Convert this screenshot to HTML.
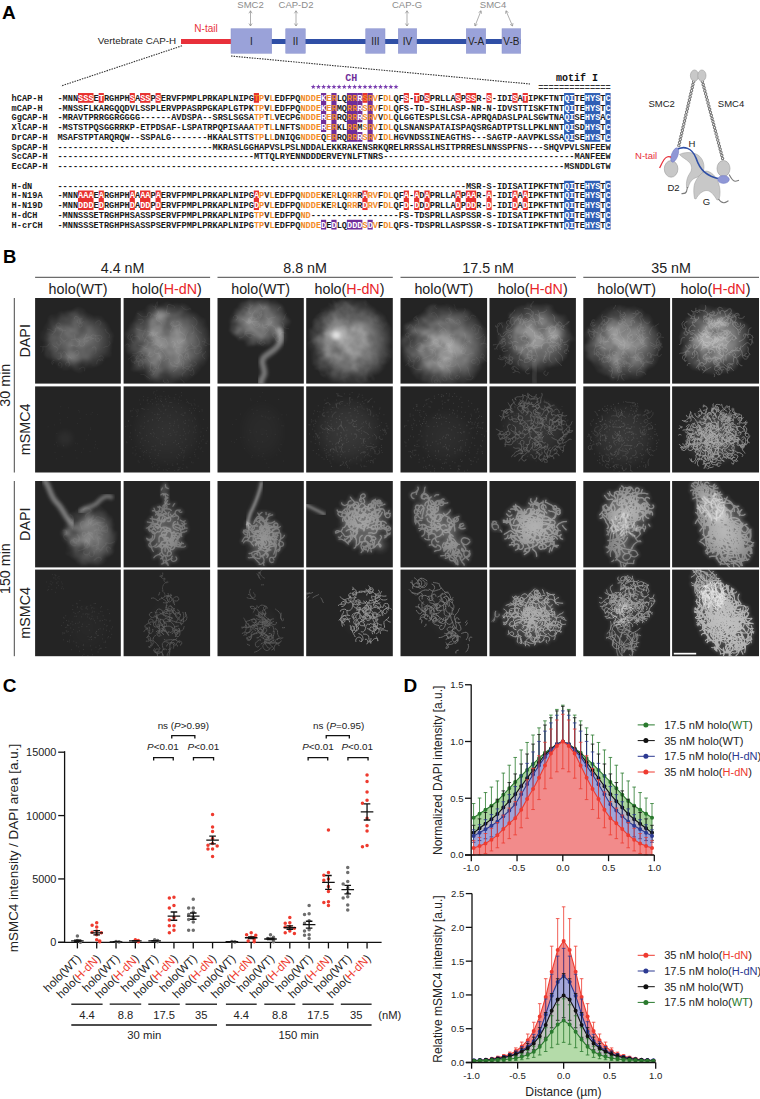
<!DOCTYPE html>
<html><head><meta charset="utf-8"><title>Figure</title>
<style>html,body{margin:0;padding:0;background:#fff;width:760px;height:1099px;overflow:hidden}svg{display:block}</style>
</head><body>
<svg width="760" height="1099" viewBox="0 0 760 1099">
<defs>
<radialGradient id="rg"><stop offset="0" stop-color="#fff" stop-opacity="1"/><stop offset="0.55" stop-color="#fff" stop-opacity="0.65"/><stop offset="1" stop-color="#fff" stop-opacity="0"/></radialGradient>
<filter id="gb" x="-30%" y="-30%" width="160%" height="160%"><feGaussianBlur stdDeviation="2"/></filter>
<filter id="sb" x="-30%" y="-30%" width="160%" height="160%"><feGaussianBlur stdDeviation="2.2"/></filter>
<filter id="b3" x="-10%" y="-10%" width="120%" height="120%"><feGaussianBlur stdDeviation="0.3"/></filter>
<filter id="b5" x="-10%" y="-10%" width="120%" height="120%"><feGaussianBlur stdDeviation="0.5"/></filter>
<filter id="b06" x="-10%" y="-10%" width="120%" height="120%"><feGaussianBlur stdDeviation="0.6"/></filter>
<filter id="b15" x="-10%" y="-10%" width="120%" height="120%"><feGaussianBlur stdDeviation="1.5"/></filter>
<filter id="b8" x="-10%" y="-10%" width="120%" height="120%"><feGaussianBlur stdDeviation="0.8"/></filter>
<filter id="cl1" x="-25%" y="-25%" width="150%" height="150%"><feTurbulence type="fractalNoise" baseFrequency="0.08" numOctaves="3" seed="3" result="n"/><feDisplacementMap in="SourceGraphic" in2="n" scale="10" xChannelSelector="R" yChannelSelector="G" result="d"/><feColorMatrix in="n" type="matrix" values="0 0 0 0 1 0 0 0 0 1 0 0 0 0 1 1 0 0 0 0" result="m"/><feComposite in="d" in2="m" operator="arithmetic" k1="0.9" k2="0.55" result="o"/><feGaussianBlur in="o" stdDeviation="1.2"/></filter>
<filter id="cl2" x="-25%" y="-25%" width="150%" height="150%"><feTurbulence type="fractalNoise" baseFrequency="0.08" numOctaves="3" seed="6" result="n"/><feDisplacementMap in="SourceGraphic" in2="n" scale="10" xChannelSelector="R" yChannelSelector="G" result="d"/><feColorMatrix in="n" type="matrix" values="0 0 0 0 1 0 0 0 0 1 0 0 0 0 1 1 0 0 0 0" result="m"/><feComposite in="d" in2="m" operator="arithmetic" k1="0.9" k2="0.55" result="o"/><feGaussianBlur in="o" stdDeviation="1.2"/></filter>
<filter id="cl3" x="-25%" y="-25%" width="150%" height="150%"><feTurbulence type="fractalNoise" baseFrequency="0.08" numOctaves="3" seed="9" result="n"/><feDisplacementMap in="SourceGraphic" in2="n" scale="10" xChannelSelector="R" yChannelSelector="G" result="d"/><feColorMatrix in="n" type="matrix" values="0 0 0 0 1 0 0 0 0 1 0 0 0 0 1 1 0 0 0 0" result="m"/><feComposite in="d" in2="m" operator="arithmetic" k1="0.9" k2="0.55" result="o"/><feGaussianBlur in="o" stdDeviation="1.2"/></filter>
<filter id="cl4" x="-25%" y="-25%" width="150%" height="150%"><feTurbulence type="fractalNoise" baseFrequency="0.08" numOctaves="3" seed="12" result="n"/><feDisplacementMap in="SourceGraphic" in2="n" scale="10" xChannelSelector="R" yChannelSelector="G" result="d"/><feColorMatrix in="n" type="matrix" values="0 0 0 0 1 0 0 0 0 1 0 0 0 0 1 1 0 0 0 0" result="m"/><feComposite in="d" in2="m" operator="arithmetic" k1="0.9" k2="0.55" result="o"/><feGaussianBlur in="o" stdDeviation="1.2"/></filter>
<filter id="cl5" x="-25%" y="-25%" width="150%" height="150%"><feTurbulence type="fractalNoise" baseFrequency="0.08" numOctaves="3" seed="15" result="n"/><feDisplacementMap in="SourceGraphic" in2="n" scale="10" xChannelSelector="R" yChannelSelector="G" result="d"/><feColorMatrix in="n" type="matrix" values="0 0 0 0 1 0 0 0 0 1 0 0 0 0 1 1 0 0 0 0" result="m"/><feComposite in="d" in2="m" operator="arithmetic" k1="0.9" k2="0.55" result="o"/><feGaussianBlur in="o" stdDeviation="1.2"/></filter>
<filter id="cl6" x="-25%" y="-25%" width="150%" height="150%"><feTurbulence type="fractalNoise" baseFrequency="0.08" numOctaves="3" seed="18" result="n"/><feDisplacementMap in="SourceGraphic" in2="n" scale="10" xChannelSelector="R" yChannelSelector="G" result="d"/><feColorMatrix in="n" type="matrix" values="0 0 0 0 1 0 0 0 0 1 0 0 0 0 1 1 0 0 0 0" result="m"/><feComposite in="d" in2="m" operator="arithmetic" k1="0.9" k2="0.55" result="o"/><feGaussianBlur in="o" stdDeviation="1.2"/></filter>
<filter id="cl7" x="-25%" y="-25%" width="150%" height="150%"><feTurbulence type="fractalNoise" baseFrequency="0.08" numOctaves="3" seed="21" result="n"/><feDisplacementMap in="SourceGraphic" in2="n" scale="10" xChannelSelector="R" yChannelSelector="G" result="d"/><feColorMatrix in="n" type="matrix" values="0 0 0 0 1 0 0 0 0 1 0 0 0 0 1 1 0 0 0 0" result="m"/><feComposite in="d" in2="m" operator="arithmetic" k1="0.9" k2="0.55" result="o"/><feGaussianBlur in="o" stdDeviation="1.2"/></filter>
<filter id="cl8" x="-25%" y="-25%" width="150%" height="150%"><feTurbulence type="fractalNoise" baseFrequency="0.08" numOctaves="3" seed="24" result="n"/><feDisplacementMap in="SourceGraphic" in2="n" scale="10" xChannelSelector="R" yChannelSelector="G" result="d"/><feColorMatrix in="n" type="matrix" values="0 0 0 0 1 0 0 0 0 1 0 0 0 0 1 1 0 0 0 0" result="m"/><feComposite in="d" in2="m" operator="arithmetic" k1="0.9" k2="0.55" result="o"/><feGaussianBlur in="o" stdDeviation="1.2"/></filter>
<clipPath id="k1"><rect x="35.1" y="298.0" width="85.7" height="85.6"/></clipPath>
<clipPath id="k2"><rect x="123.6" y="298.0" width="86.5" height="85.6"/></clipPath>
<clipPath id="k3"><rect x="217.5" y="298.0" width="86.3" height="85.6"/></clipPath>
<clipPath id="k4"><rect x="306.2" y="298.0" width="86.6" height="85.6"/></clipPath>
<clipPath id="k5"><rect x="400.5" y="298.0" width="86.6" height="85.6"/></clipPath>
<clipPath id="k6"><rect x="489.5" y="298.0" width="86.4" height="85.6"/></clipPath>
<clipPath id="k7"><rect x="583.3" y="298.0" width="86.8" height="85.6"/></clipPath>
<clipPath id="k8"><rect x="672.1" y="298.0" width="86.9" height="85.6"/></clipPath>
<clipPath id="k9"><rect x="35.1" y="386.4" width="85.7" height="86.1"/></clipPath>
<clipPath id="k10"><rect x="123.6" y="386.4" width="86.5" height="86.1"/></clipPath>
<clipPath id="k11"><rect x="217.5" y="386.4" width="86.3" height="86.1"/></clipPath>
<clipPath id="k12"><rect x="306.2" y="386.4" width="86.6" height="86.1"/></clipPath>
<clipPath id="k13"><rect x="400.5" y="386.4" width="86.6" height="86.1"/></clipPath>
<clipPath id="k14"><rect x="489.5" y="386.4" width="86.4" height="86.1"/></clipPath>
<clipPath id="k15"><rect x="583.3" y="386.4" width="86.8" height="86.1"/></clipPath>
<clipPath id="k16"><rect x="672.1" y="386.4" width="86.9" height="86.1"/></clipPath>
<clipPath id="k17"><rect x="35.1" y="481.0" width="85.7" height="86.4"/></clipPath>
<clipPath id="k18"><rect x="123.6" y="481.0" width="86.5" height="86.4"/></clipPath>
<path id="p18_34" d="M42.6,74.6l-1.1-.1-1.1.2-.8.8-.3 1-.1 1.1.1 1.1.5 1 .1 1.1-.3 1.1-.8.8-1 .3M48.7,55.1l-.3-1-.4-1-.4-1-.4-1.1 0-1.1-.2-1.1-.6-.9-.9-.6-1.1-.2-1 .3-.7.8-.2 1.1M54.3,38.5l.5-.9.3-1.1-.4-1-.9-.7-1-.2-1.1.4-.9.5-1.1.4-1.1-.2-.8-.7-.5-1-.6-.9M30.2,41.1l-1.1.2-1.1.1-1.1.1-1.1-.1-1.1-.2-1-.2M31.9,34l.8-.8 1.1-.2 1.1.2.7.8.3 1.1-.4 1-.7.9-.7.9-.9.6-1 .2-1.1-.1-1.1-.3M46.7,62.2l.7-.9.8-.7.9-.7.6-.9.7-.9.7-.8.2-1.1-.4-1-.9-.7-1.1-.1-.9.6-.5 1M43.1,32.2l-.8-.7-.8-.8-.7-.9-.4-1 0-1.1 0-1.1.4-1 .4-1.1.4-1 .4-1 .7-.9.7-.9M41.6,70.3l-.2-1.1.1-1.1 0-1.1.1-1-.1-1.1-.7-.9-.9-.6-1.1-.2-1.1.1-.8.7-.6 1-.8.8M46.2,22.9l-1 .5-1.1-.1-.8-.6-.4-1.1.4-1 .7-.9M35.7,25.2l.9.6.9.7.9.6 1 .5 1 .3 1.1 0 1.1 0 1.1-.1 1.1.2 1.1.2 1 .5.8.7M36.9,66.3l-.1-1.1.2-1.1.7-.8 1-.4 1.1.3.9.6.9.7 1 .5 1 .4 1 .4.9.7.8.7M36,72.6l1-.4.8-.8.5-1 0-1.1-.1-1.1-.4-1-.2-1.1-.1-1 .1-1.1 0-1.1.1-1.1.5-1M37.7,69l.4 1 .3 1.1.4 1 .5 1 .8.7.9.7.7.8.6.9.3 1.1.1 1.1.2 1.1.2 1M51,32.4l-.6.9-.8.8-.9.7-.9.6-.8.8-.9.5-1 .4-1.1.4-1 .2-1.1.4-1 .3-1 .5M55.4,30.3l.8.7 1.1.4 1-.4M41.1,50.7l.6-1 1-.4 1.1.1 1 .3 1 .5 1 .6.9.6 1 .3 1.1.3 1.1.1 1.1.2 1 .4M27,62l-1.1.4-.6.9 0 1.1.5 1 .9.7 1 .1 1.1-.3 1.1-.4.9-.5 1-.5.9-.7.5-.9M42.3,60l-1.1-.1-1.1.2-1 .5-.9.6-.8.8-.6.9-.7.8-.8.8-.9.7-.8.6-1.1.4-1.1 0M27.5,46.5l-.4-1-.1-1.1.4-.9.8-.9 1.1-.2 1 .2 1.1.1 1.1-.2 1.1.2 1 .6.7.8.4 1M51.8,40.5l-1 .3-.7.9-.5 1-.1 1.1-.2 1.1.2 1 .4 1.1.9.7.9.5 1 .5 1 .4 1.1.3M52.5,62.9l-1.1 0-1.1 0-1.1.1-1.1 0-1-.5-.7-.8-.3-1.1.2-1 .7-.8 1.1-.3 1 .3.8.8M41,79.1l.8.7.8.8.7.8.7.9.4 1 .2 1.1M28.8,42.9l-.4 1-1 .6-1 .4-.9.6-.8.7-.9.6-1.1.3M56.3,45.9l-.1 1.1.6.9 1 .5 1.1 0 1-.2.9-.7.3-1.1-.2-1-.6-1-.7-.8-.7-.8-.8-.7M54.4,58.1l-.1-1.1.3-1.1.5-.9.5-1 .7-.9.8-.7.9-.6 1-.5 1.1-.3 1.1 0 .9-.5 1-.6M55.9,64.3l-.9-.7-1-.5-1-.4-1.1-.2-1-.2-1.1-.3-1-.4-.8-.8-.8-.8-.3-1 0-1.1.4-1.1M42.7,58.6l.8.7.4 1-.2 1.1-.5 1-.5 1-.6.9-.8.8-.9.6-1 .5-1.1.1-1-.3-.9-.6M49.3,25.3l.5-.9.5-1 .7-.8M34.6,34.9l-.5-1-.6-1-.6-.8-.7-.9-.6-1-.4-1-.4-1-.4-1M41.9,56.8l-.1 1.1.1 1.1.6.9 1 .5 1.1-.2.8-.7.3-1.1-.4-1-.9-.7-1-.3-1.1-.1-1 .5M46.6,70l.2-1 .2-1.1.3-1.1.5-.9.8-.8 1-.4 1.1 0 1.1.3 1 .4 1 .3 1.1.2 1.1 0M37,77.9l1-.5.5-.9 0-1.1-.7-.9-.9-.5-1.1-.3-1.1-.1-1 .4-1 .5-.9.6-.9.7-.6.9M40.4,58.1l.2-1.1.5-1 .4-1 .4-1 .5-1 .5-1 0-1.1-.7-.9-.6-.9-.7-.9-.7-.8-.9-.6M43.8,37.2l-.8-.7-1-.5-.9-.6-.9-.7-.9-.6-1-.4-1.1-.3-1-.4-1-.5-1.1-.2-1.1-.3-1-.3M41.3,81.1l.8.7.8.8.8.8.7.8M31.1,48.7l-.3-1.1-.6-.9-.7-.9-.9-.5-1.1-.2-1.1.3-.9.5-.7.9-.1 1.1.4 1 .6.9.8.8M34.1,26l1 .2.8.8.2 1.1-.4 1-.7.9-.9.6-1.1 0-1.1-.2-1-.5-1-.3-1.1.3M44.9,64.2l1-.5 1.1-.2 1.1 0 1.1.1 1 .4.7.9.1 1.1-.5 1-.7.9-.8.7-1.1 0-1-.5M51.4,45.9l1.1.3 1 .3 1 .4 1 .6.8.7.5 1 .4 1 .3 1.1 0 1.1.1 1.1.2 1 .4 1.1M39.3,35.8l-.4 1-.4 1-.4 1.1-.2 1-.1 1.1-.3 1.1-.5 1-.4 1-.1 1.1.4 1 1 .6 1.1-.1M41.3,50.3l-1.1-.2-1 .4-.8.7-.4 1.1-.1 1.1.3 1 .6 1 .6.9 1 .5 1 .3 1.1.3 1.1.1M42.8,63.8l1.1 0 1.1 0 1.1 0 1.1-.3.8-.8.5-.9.5-1 .5-1 .2-1.1-.2-1.1-.5-1-.4-1M52.2,59.4l-.3 1-.1 1.1.1 1.1.5 1 .7.9.9.6 1 .2 1.1-.4.8-.7.6-.9.5-1 .1-1.1M34.3,46.8l-1.1.1-1-.4-.6-1 .1-1.1.6-.8 1.1-.4 1 .3.9.7.5 1-.2 1.1-.7.8-.9.6M48.4,77.3l-1 .4-1 .5-1 .4-1 .5-1 .5-.8.8-.8.8-.9.6-.9.5-1 .6M32.4,43.2l-1.1.3-.7.8-.5 1-.2 1.1-.2 1-.5 1-.9.7-1.1.2-1-.5-.6-.9.1-1.1.6-.9M38.6,30.3l-1-.3-1.1.2-1 .5-.7.9 0 1.1.3 1 .7.9 1.1.2 1.1-.1 1-.5.9-.6.8-.8M36.1,35.2l-.3 1.1-.1 1 .2 1.1.6 1 .8.7.9.6 1.1.2 1.1-.1.9-.7.3-1-.3-1.1-.5-1M34.4,45.9l-1.1-.3-1.1-.2-1-.5-.8-.7-.4-1-.3-1.1-.3-1-.4-1-.3-1.1-.1-1.1 0-1.1-.1-1.1M53.2,63l-1.1-.1-1-.5-.8-.7-.7-.8-.7-.9-.9-.6-.9-.6-1.1-.2-1 .3-.9.7-.5.9-.4 1.1M29,54.8l.1 1.1-.2 1-.7.9-1 .6-1 .1-1.1-.2-1-.5-.9-.6M43.8,46.8l-.9-.4-1.1-.2-1.1-.1-1.1.1-1 .5-.8.8-.4 1-.3 1.1-.7.8-1.1.4-1.1 0-1 0M38.3,28.6l1.1 0 1.1-.3 1-.4 1-.5.8-.8.1-1.1-.3-1-.9-.7-1.1-.3-1 .5-.7.8-.2 1.1M43.8,75.1l1.1-.3 1.1-.2.9-.6.7-.9.2-1.1-.4-1-.9-.6-1.1 0-1 .5-.6 1-.2 1 .1 1.1M29.8,70.5l-.6-.9-.6-1-.4-1-.4-1-.3-1.1-.1-1.1-.3-1-.3-1.1-.2-1.1-.1-1.1.1-1 .4-1.1M28.5,50.2l1 .4.8.7.6.9.3 1.1 0 1.1-.1 1.1-.2 1-.4 1.1-.6.9-.8.8-.8.7-.8.7M46.3,48.5l-.9.6-.7.8-.7.9-.6.9-.6.9-.7.8-1 .6-.9.6-1 .4-1.1.2-1.1.1-1-.2M58.3,46l.5-1 .8-.8.9-.6.9-.6 1.1-.4M40.9,59.2l1.1-.1 1.1.4.7.8.2 1.1-.4 1-.4 1.1-.4 1 .1 1.1.5 1 .6.9.6.9.4 1M51.1,50.9l-1.1 0-.9.6-.7.9-.2 1-.2 1.1-.2 1.1-.2 1.1 0 1.1.1 1.1.6.9.6.9.8.7M38.4,67.8l.7-.8.6-.9.4-1 .7-.9.9-.7.9-.5 1.1-.2 1.1.3.9.6.9.5 1 .5 1.1.3M31.9,49.1l-.8-.8-1-.3-1.1.4-.7.8-.3 1.1.3 1 .7.9 1 .5 1.1-.1.9-.5.9-.7.7-.8M43.8,40.1l1 .4 1.1-.1.9-.7.3-1.1 0-1.1-.6-.9-.8-.7-.7-.9-.5-1 .1-1.1.3-1 .7-.9M54.5,59.1l-.7-.9-.7-.9-.8-.8-1-.2-1.1.2-.9.6-.4 1.1-.1 1.1.3 1 .1 1.1.2 1.1.1 1.1M56.5,62.8l-.6-.9-.9-.8-1-.3-1.1.4-.7.8-.4 1-.3 1.1-.1 1.1-.3 1.1-.5.9-.8.7-1 .6M56.7,39l.8.7 1 .5 1.1.2 1.1-.1.9-.5M41.7,25.2l-.5.9-.6 1-.5.9-.6 1-.5 1-.4 1-.6.8-1 .7-1 .3-1.1.2-1.1-.1-1.1 0M47.7,54.3l1.1-.1 1.1-.1 1.1 0 1.1 0 1.1.3.7.9.3 1 0 1.1-.5 1-.6 1-.6.8-1 .6M42.9,53.8l-1.1-.3-1.1-.1-1.1 0-1 .2-1 .5-1 .5-.7.8-.4 1-.1 1.1 0 1.1.1 1.1-.1 1.1M51.6,54.7l.4-1.1.5-.9.9-.7 1.1-.1 1 .4.6.9.4 1-.1 1.1-.4 1-.8.8-.9.7-.8.7M52.3,75.9l.7.9.2 1.1-.4 1-.8.8-1 .5-1.1.1-1.1-.2-.8-.7-.2-1.1 0-1.1.3-1.1.6-.9M59.6,40.7l.9.7.3 1-.2 1.1-.4 1-.9.7-1.1.2-1-.2-1-.5-.8-.8-.7-.8-.5-1-.3-1.1M61.4,47.1l1.1 0 1.1 0M50.3,44.5l.6-.9 1-.5 1.1 0 1 .4 1 .4 1.1.2 1 .4.9.6.6.9.3 1.1-.3 1.1-.8.7M53.8,34.8l-1-.5-.7-.8-.5-1-.1-1.1.4-1 .7-.8 1-.4 1.1-.1 1.1 0 1.1 0M45.6,36.1l-1 .4-.9.7-.9.6-.9.7-.9.5-1 .6-1 .2-1.1.2-1.1 0-1.1-.2-1-.3-1.1-.1M26.6,37.7l1 .2 1.1 0 1.1 0 1.1.2 1.1.2 1 .5.9.6.5 1-.1 1-.5 1-.9.6-1.1-.2M42.4,33.5l-.9-.8-1.1-.1-1 .4-1 .3-1 .6-.8.7-.7.9-.5 1-.1 1.1.3 1 .6 1 .8.6M59.9,62.5l-1.1-.2-1.1-.1-.9.5-.6 1-.1 1.1.5.9 1 .5 1.1 0 1.1-.1 1.1-.3.9-.6M28.4,57l-.1 1.1-.6.9-1 .4-1.1 0-1.1-.2-.8-.7-.6-.9"/>
<path id="p18_35" d="M41.9,3.6l-.1 1.1.3 1.1.6.9 1 .5 1 .4M41.3,22.2l0-1.1.2-1.1.5-1 .6-.9.8-.8 1-.4M42,15.5l-.3-1.1-.5-.9-.9-.6-1.1-.2-1.1.4-.8.8M39.8,14l.7-.8 1.1-.3 1 .1 1.1.5.8.7M38.8,7l-.6 1-.4 1M42.2,19.6l-.7-.9 0-1.1.6-1 1-.4 1.1.2"/>
<clipPath id="k19"><rect x="217.5" y="481.0" width="86.3" height="86.4"/></clipPath>
<path id="p19_37" d="M57.2,40.3l-1 .5-.9.6-1 .4-1 .4-1.1 0-1.1-.1-1.1-.2-1.1-.3-1-.3-1.1-.3-1-.5-.9-.6M48.4,38.7l.7-.9.5-.9.7-.9.8-.8 1-.4 1-.3 1-.4 1.1-.3M51.9,50.8l-.7-.9-.1-1.1.5-.9.9-.7.8-.7 1-.5 1-.4 1.1-.2 1.1.2 1.1.2 1 .2 1.1 0M43.5,55.7l-.8-.8-.9-.6-1-.5-1.1-.1-1.1-.3-1-.2-1.1-.4-.9-.5-.9-.7-.6-.9-.2-1.1-.4-1M40.3,54.5l-.9-.6-.7-.8-.2-1.1 0-1.1.5-1 1-.5 1.1.1 1 .5.8.8.4 1-.1 1.1-.7.8M38.6,76.9l-1.1 0-1.1-.2-1.1 0-1.1-.1-1.1.1-1.1.2-1.1-.2M52.7,49.8l-.6-.9-.7-.9-.6-.8-.7-.9-.6-.9-.3-1.1 0-1.1-.2-1.1-.1-1.1.1-1.1.6-.9.7-.8M46.5,44.9l1 .5.9.7.6.9.4 1 .3 1.1.1 1.1.5 1 .1 1.1 0 1.1-.1 1-.5 1-.7.8M42.4,74.8l1.1.1 1-.3 1-.4.9-.7.9-.6.9-.6 1.1-.1 1 .6.5 1-.2 1-.5 1-.8.8M52.4,60.5l.8.7 1 .6 1 .4 1.1.3 1 .3 1 .5.5 1 .1 1.1-.3 1-.2 1.1-.3 1.1-.4 1M54.3,50.4l.5-.9.6-.9 1-.5 1.1-.1 1.1-.1 1.1-.1 1 .3.8.8.3 1-.1 1.1-.5 1-1 .5M51.8,53.1l.3-1.1.9-.7 1-.2 1.1.3.8.8.4 1-.1 1.1-.7.9-1 .5-1.1.2-1.1-.1-1-.2M42.6,73.4l-.2-1.1-.7-.9-.9-.6-1-.5-1.1-.1-1.1.1-1.1.3-1 .4-1 .5-.9.7-1 .3-1.1 0M40.2,45l-1.1.1-1.1.1-1.1 0-1.1-.2-1.1-.2-.9-.6-.8-.7-.7-.9-1-.5-1.1 0-.9.6-.4 1.1M29.5,56l.6-.9.3-1.1-.2-1.1-.6-.9-.8-.7-1.1-.4-1.1 0-1 .2M48.4,65.5l1.1.1 1-.4.6-.9.4-1.1.2-1.1-.1-1-.5-1-.8-.9-.9-.4-1.1-.5-1.1 0-1 .4M36.1,64.7l-.7-.8-.8-.8-.6-.9-.7-.9-.7-.8-1-.5-1-.2-1.1-.2-1.1 0-1 .4-.8.8-.5 1M48.2,52.5l1.1.3 1.1-.1 1.1-.3.9-.5 1-.6.8-.7.9-.7.8-.7.9-.6 1-.5.9-.6.9-.6M34.8,50.7l1.1.1 1.1 0 1.1-.1 1.1-.2 1-.2 1.1-.3 1.1-.1 1.1.1 1.1.1 1.1-.2 1-.4.8-.7M29.5,53.9l-1.1 0-1-.5-.8-.8-.5-.9-.2-1.1.5-1 .9-.6 1.1 0 1 .3.9.7.9.6.9.6M31.1,46.9l.5 1 .5 1 .9.6 1.1-.1 1.1-.3.9-.6.6-.9.1-1.1-.5-1-.9-.5-1.1 0-1.1.4M43.7,53.7l.3 1 .4 1 .7.9 1.1.3 1-.4.8-.7.2-1.1-.5-1-.9-.6-1.1-.2-1.1.3-1.1.1M40.3,74.3l-.5-1-.9-.6-1.1-.1-1 .6-.5 1 .2 1.1.7.9.9.5 1 .4 1.1.4 1.1.1 1.1 0M44.2,63.2l.1-1.1.3-1 .3-1.1.2-1 .2-1.1.4-1 .5-1 .5-1 .4-1 .2-1.1.3-1.1.1-1.1M48.3,50.3l.7-.8.5-1 .2-1.1-.5-1-.8-.7-1.1-.3-1.1.3-.7.9-.3 1-.5 1-.2 1.1-.2 1.1M49.2,54.7l-.4 1-.6.9-.9.7-1 .5-1 .5-.9.6-.8.8-.8.7-.8.7-1 .5-1 .4-1.1.2M53.4,69l-1.1-.3-1.1-.2-1-.3-1-.5-.8-.7-.6-.9-.6-1-.5-.9-.6-1-.5-1-.4-1-.8-.7M45.2,62.3l-.9-.5-1.1-.3-1.1.2-.8.7-.4 1-.1 1.1.6 1 .9.6 1.1-.1.9-.6.6-1 .6-.9M45.8,40.2l-.9-.6-.9-.6-.8-.8-.8-.7-1-.4-1.1.3-.8.7-.7.8-.8.8-.6.9-.6 1-.6.9M58.5,55.6l-1-.3-1.1-.1-1.1.2-.8.8-.2 1 .4 1.1.9.6 1.1.1 1-.5.8-.7.6-.9.5-1M48.6,56.7l-1.1.1-1-.5-.6-.9-.3-1.1-.1-1.1.1-1.1.1-1.1-.2-1.1-.2-1.1-.4-1-1-.5-1.1 0M57.6,55l0-1.1.4-1 .6-1 .9-.6 1.1 0 1 .3 1 .5.6 1 0 1.1 0 1.1 0 1.1-.1 1M51.7,69.6l-.9-.6-1.1-.1-1 .5-.5 1-.2 1-.3 1.1-.4 1-.7.9-.8.7-1 .4-1.1.2-1.1.4M33.8,72l.6.9.2 1.1.2 1 .6 1 .8.7.9.6.8.8.7.8.8.8.8.8.7.7.9.7M42,69l.8-.7.7-.8.7-.9.5-1 .5-1 .3-1 0-1.1-.2-1.1-.5-1-.5-.9-.7-.9-.6-1M31.1,46.9l-.1 1.1 0 1.1.1 1.1.3 1 .4 1.1.2 1 .1 1.1.1 1.1-.2 1.1-.6.9-.7.9-.8.7M32,51.8l-1.1-.2-1-.5-1-.3-1.1-.2-1-.4-.7-.9M54.2,65.4l1.1 0 1-.2.9-.7.7-.9.4-1 .2-1.1 0-1.1-.2-1-.3-1.1-.3-1.1-.6-.9-.7-.8M39.4,43.1l-.9.7-1 .5-1 .5-.9.5-.6 1-.3 1-.1 1.1.2 1.1.8.7 1.1.1 1.1-.2.9-.6M61,62.7l0 1.1.6.9 1 .5 1 .1 1.1-.1.9-.6.4-1 0-1.1-.5-1-1-.6-1-.4-.8-.7M30.9,56.9l-.9-.6-1.1-.3-1.1-.1-.9.6-.6.9-.6 1-.5 1-.6.9M37.5,38.9l.9.6.9.6.9.6 1 .6.9.5.9.7.7.8.3 1.1-.2 1.1-.5.9-.5 1-.7.8M56.5,45.2l-.7.8-.9.6-1.1.2-1.1-.3-1-.4-1.1-.2-1.1 0-1-.3-1.1-.1-1.1.2-1 .5-.8.7M56.2,65.2l-1.1.1-1.1.2-1.1.2-.9.5-.7.9-.5.9-.5 1.1-.4 1-.6.9-.4 1 .2 1.1.5 1M41,67.4l1-.2 1-.6.7-.8.5-1 .2-1.1 0-1.1-.4-1-.7-.9-.9-.5-1.1-.1-1 .4-.7.9M62.6,58.3l-.2 1.1-.3 1-.3 1.1-.1 1.1.2 1.1.1 1.1.2 1 .3 1.1-.1 1.1-.2 1.1-.8.8-.9.6M43.3,74.6l1 .4.8.7.6 1 .5 1 .3 1 0 1.1-.3 1.1-.7.9-.7.7-1 .5-1.1.3-1.1-.1M39.2,50.9l1.1.3 1 .5.9.5.8.8.6.9.6.9.8.8.8.7 1 .5 1 .5 1.1 0 1.1 0M56.5,79l-.4-1-.5-1-.9-.6-1.1-.1-.9.6-.6 1 0 1.1.2 1.1.5.9 1 .5 1.1-.1 1-.4M57,62.9l-.1-1.1-.2-1.1.1-1.1-.3-1-.8-.8-1-.5-1.1-.3-1 .3-.9.7-.4 1 .2 1.1.8.8M59.8,58.7l-1.1-.3-1.1-.1-1-.3-1.1-.4-1.1-.1-1.1-.2-1-.5-.9-.6-1-.5-1-.4-.9-.6-.7-.8M51.8,54.7l.2 1 .5 1 .4 1 .3 1.1.3 1.1.4 1 .4 1 .7.8 1 .6 1 .4 1.1 0 1.1.2M33.6,47.2l-1-.5-.8-.7-.6-1-.4-1-.5-1-.3-1-.5-1M31.9,55.5l1-.2 1.1-.3 1.1-.2 1.1-.1 1.1.2.9.6 1 .4 1.1.1 1.1-.2 1-.4 1.1-.1 1.1-.1M48.5,39.5l-1.1.2-1.1-.1-1-.4-.9-.6-.6-.9-.6-1-.7-.8-.5-1-.6-.9-.5-1-.6-1M45.1,36.5l.7.9.4 1 .4 1 .4 1.1.6.9.7.8.9.7.9.6.9.5 1 .5 1 .4 1.1.3M43.9,49.2l.4 1 .8.8 1 .3 1.1.2 1.1-.1 1.1-.3 1-.6.6-.9 0-1.1-.1-1.1.1-1.1-.2-1.1M41.4,39.7l1.1-.2 1-.3 1.1 0 1 .7.7.8.6.9.4 1 .4 1.1.4 1 .6.9.9.7.7.8M36.9,52.4l-.4 1 0 1.1.4 1 .5 1 .4 1 .5 1 .3 1 .3 1.1.2 1.1.1 1.1-.4 1-.7.8M61.5,59.7l.8-.8.8-.7.9-.7.9-.6.9-.7.6-.9.5-.9M46.7,81.2l-.6 1-.1 1.1.4 1M62.9,66.1l-.4 1-.8.8-.9.7-1 .4-.7.8-.4 1.1-.1 1.1-.1 1.1-.1 1.1-.3 1-.7.9-1.1.2M41.9,50.4l-1-.5-1.1.3-.9.5-.8.8-.6.9-.5 1-.6.9-.5 1-.3 1 .1 1.1 0 1.1.4 1.1M50.8,33.8l.8-.7 1-.3M60.6,54.5l-.8-.8-.7-.8-.8-.7-1-.4-1.1.2-.8.8-.1 1.1.5 1 .9.6 1.1.1 1-.3.9-.6M44.8,37.9l-.1-1.1-.6-.9-.9-.6-1.1-.2-1.1.3-1 .3-.8.8-.6.9-.6.9-.7.9-.4 1-.3 1.1M62.8,45.5l-.9.7-.9.6-1.1.3-1.1 0-1.1-.1-.9-.6-.6-.9-.3-1 .3-1.1.8-.8 1.1-.1 1 .2M45.1,48.2l.8-.8.1-1.1-.5-1-.8-.6-1.1-.1-1 .6-.4 1 .2 1.1.7.8 1 .5 1.1-.1.9-.6M48.7,66.8l-1 .5-1.1 0-1.1-.3-.8-.7-.5-1-.5-1-.6-.9-.8-.8-1.1-.2-1.1.1-1 .3-1.1-.1M53.5,63.3l1.1-.3 1 .2.9.7.7.9.4 1 .1 1.1.1 1.1-.1 1.1-.3 1-.4 1-.4 1.1-.4 1M42,40.7l.5-1 .1-1.1-.3-1-.4-1-.3-1.1-.2-1.1.5-.9.8-.8.8-.7 1-.6M48.7,55.7l.7.9.8.8.6.9.5 1 .4 1 .4 1 .2 1.1 0 1.1.1 1.1 0 1.1-.4 1-.5 1M56.8,44.8l.9.6 1.1.2 1-.4.6-.9-.1-1.1-.6-.9-1.1-.4-1.1.2-.8.7-.2 1.1.3 1 .8.8M39.6,72.1l.1-1.1.4-1 .8-.7 1-.5 1.1 0 1.1.1 1.1.3 1 .5.9.5 1.1.3 1.1.1 1-.3M47.5,63.2l-.7-.9-.6-.9-.5-1-.4-1-.7-.9-.7-.8-1.1-.3-1.1-.1-1.1.2-1 .2-1.1.2-1 .4M37.5,63.6l1.1 0 .9-.6.6-.9 0-1.1-.7-.9-.9-.6-1.1-.1-1.1.2-1 .4-.8.7-.3 1.1.1 1.1M46.3,58.5l.9.6.8.8.7.8.2 1.1-.3 1.1-.7.8-1.1.3-1-.3-.9-.7-.8-.8-.8-.7-.8-.8M51.4,45.2l-.6-.9-.7-.8-1.1-.4-1.1.1-.9.7-.3 1 .2 1.1.7.8 1 .4 1.1-.2.8-.7.4-1.1M48.6,33.5l0-1.1-.1-1.1M44.1,56.8l.3 1 .8.8 1 .4 1.1-.2.9-.6 1-.5 1.1-.3 1-.4 1.1-.2 1-.5 1-.3 1.1-.1"/>
<clipPath id="k20"><rect x="306.2" y="481.0" width="86.6" height="86.4"/></clipPath>
<path id="p20_39" d="M59.4,59.5l-1 .4-1.1.4-.8.8-.6.8-.6 1-.4 1-.1 1.1.2 1.1.2 1 .5 1 .8.9.6.8M67.8,40l.8.8 1.1.2 1-.3 1-.5.5-1-.2-1.1-.7-.8-1.1-.3-1.1.2-.9.6-.7.8-.8.8M82.8,45.3l-1-.3-1.1.4-.7.9-.2 1.1.4 1 .8.8 1 .4 1.1-.2.9-.6.4-1-.3-1.1-.8-.8M51.5,38.6l-.6-.9-.4-1-.1-1.1.2-1.1.4-1 .4-1 .5-1 .3-1.1 0-1.1-.2-1.1-.3-1-.7-.9M73.1,26.6l-.1 1.1-.7.8-.9.6-1 .5-.9.6-.8.8-.1 1.1.4 1 .8.7 1 .5 1 .4 1.1.3M57.8,22l.6-.9 0-1.1-.5-1-.5-1-.9-.7-1-.3-1.1.2-.8.7-.3 1.1.3 1 .8.7 1.1.2M53.2,60.8l1.1.2 1.1 0 1.1-.2 1-.3 1.1-.1 1.1.2 1 .5.9.7 1 .4.9.6 1.1.2 1.1.1M56,42.7l.6-.9.8-.8.9-.6.9-.7.7-.8.6-1 0-1.1-.2-1-.8-.8-1-.3-1.1.1-.9.7M65.9,31.6l-.3 1.1.5 1 .8.7 1.1.1 1.1-.3.7-.8.1-1.1-.5-1-.9-.6-1.1-.1-1.1.2-1 .3M66.7,66.4l.3-1 .2-1.1-.1-1.1-.3-1-.5-1-.5-1-.2-1.1-.3-1.1-.2-1-.5-1-.9-.7-1-.5M68.9,45.9l0-1.1.4-1 .4-1 .5-1 .4-1.1.1-1.1.2-1 .1-1.1-.1-1.1.1-1.1.4-1.1.6-.9M71.3,46.3l.7.9 1 .5 1 .4 1.1-.1 1-.4 1-.4 1-.5 1.1-.1 1.1.3.7.9 0 1.1-.2 1M54.8,29.4l1 .5.9.6.9.6.7.9.3 1-.2 1.1-.5 1-.7.8-1.1.4-1.1.1-1-.4-.8-.7M64.2,60.6l.4-1 .8-.7 1.1-.3 1 .3.7.8.1 1.1-.1 1.1-.2 1.1-.1 1.1 0 1.1-.2 1.1-.7.8M75.7,24.4l1-.5 1-.4 1.1-.3M44.4,50.5l.2 1.1.4 1 .5 1 .4 1.1.1 1.1 0 1.1-.3 1-.7.8-1.1.4-.9.6-.7.9 0 1.1M33.1,50.1l-1.1-.4-1.1 0-1 .5-.7.8M78.3,54.8l1.1-.1 1-.5.9-.6.9-.6.9-.6 1.1-.4M63.1,29.5l-.2-1.1.3-1.1.8-.8.8-.7 1.1-.3 1 .3.9.7.5 1 .6.9.2 1.1.1 1.1.1 1.1M67.3,48.5l-1.1 0-.9-.6-.5-1 .3-1.1.8-.8.9-.6 1.1-.1 1.1-.2 1.1.1 1.1-.3 1-.2 1.1-.1M50,42.4l-.1-1.1-.5-.9-1-.6-1.1-.1-1 .2-1 .5-1 .5-1 .5-1 .4-1 .4-.9.7-.5 1M69.2,22.2l.5-1.1.7-.8.8-.7 1-.5 1.1 0 1 .5.4 1-.1 1.1-.7.8-1 .4-1.1-.2-1.1-.2M58.5,56.9l-.2 1.1.5 1 .8.7.9.7.9.6.7.8.6 1 .1 1.1-.5.9-.9.7-1 .4-1.1 0M57.3,48.9l.7-.9.4-1 .2-1.1-.2-1-.4-1-.7-1-.7-.8-.8-.7-.9-.6-.9-.7-.4-1-.1-1.1M67.7,39.3l.2-1-.5-1-.9-.6-1.1 0-.9.7-.6.9-.7.9-.8.8-.9.6-1 .3-1.1-.3-.8-.7M51.3,44.9l-.2 1.1-.3 1-.3 1.1-.2 1.1 0 1.1-.1 1.1-.1 1-.3 1.1-.2 1.1-.2 1.1 0 1.1 0 1.1M48.3,56.4l-.8-.9-.7-.8-.8-.7-1.1-.1-1 .5-.9.7-.6.9-.7.8-.9.7-.9.6-.9.6-.6 1M39.6,27.9l-1 .3-.8.8-.7.8-.8.8-.9.6-1.1.1-1.1-.3-1-.3-.9-.7-.4-1M34.6,50.1l-1.1.4-1 .4-1 .5-1 .5-1.1.1M60.8,47.5l.9-.6.4-1-.2-1.1-.7-.8-1.1-.3-1.1.2-.8.7-.3 1 .1 1.1.2 1.1-.1 1.1-.4 1M43.7,45.1l.8-.8.9-.7 1-.3 1.1-.1 1.1-.2 1.1-.2 1.1.2.9.5.8.8.5 1 .5 1 .7.8M76.1,31.3l-.6.9-.5 1-.5 1-.6.9-.7.8-.9.7-.8.7-.7.9-.4 1-.1 1.1.1 1.1.7.8M48.8,55l.3 1.1.4 1 .4 1 .3 1.1 0 1.1 0 1.1-.1 1.1-.1 1.1-.2 1.1-.3 1-.6.9-1 .5M48.5,35.3l-.5 1-.2 1.1-.3 1-.4 1-.4 1-.7.9-1 .4-1.1-.1-1-.4-1.1-.4-.9-.6-.5-1M77.8,29.5l-.5-1-1-.5-1.1.1-.9.6-.7.9-.4 1-.7.9-.6.9-.6.9-.6.9-.5 1-.3 1.1M36.4,47l1-.4 1-.5.7-.9.5-1 .4-1 .1-1.1-.1-1.1 0-1.1-.2-1.1-.2-1.1 0-1.1-.1-1.1M62.4,24.5l-.7.9-1.1.3-1-.4-.8-.7-.7-.9-.7-.9-1-.4-1.1.2-.8.6-.8.9-.6.9-.4 1M63.6,38.2l-.5-.9-.5-1-.8-.8-.7-.8-.5-1-.7-.9-1-.4-1.1.1-1 .4-.7.8-.5 1-.4 1.1M47,35.9l.2-1.1.8-.8.9-.6 1-.4 1.1-.2 1.1.1.9.5 1 .5.8.8.8.8.8.7 1 .5M73.2,29.1l-1.1.3-1.1 0-1-.4-1-.5-.8-.8-.7-.8-.7-.8-.8-.8-.8-.8-.9-.6-1-.4-1.1.1M59.1,41.3l-1-.5-1-.5-1.1-.1-1.1.2-1.1 0-1-.4-.8-.8-.6-.9-.1-1.1.3-1 .9-.7.9-.6M69.2,18.2l-.8.7-.8.8-.2 1.1.5 1 .9.6 1.1.1 1-.4 1.1-.3 1-.2 1.1 0 1.1.2 1.1.3M49.2,36.2l-.4-1-.1-1.1.1-1.1.1-1.1-.4-1-.8-.6-1.1-.5-1.1 0-1 .4-.9.6-.6 1-.3 1M47.6,29.9l-.8.7-.6 1-.2 1.1-.3 1-.2 1.1-.5 1-.7.8-.7.9-.7.8-.7.9-.5 1-.4 1M56,54.4l-.9.6-.8.7-.6 1-.2 1.1 0 1.1-.2 1.1 0 1.1-.3 1-.6.9-.8.7-1 .6-1 .5M78.4,56.8l1-.4.8-.7.7-.9.8-.7 1-.5 1-.4M62.5,69.2l-1.1.2-1-.4-.6-.9-.1-1.1 0-1.1.5-1 .9-.6 1-.3 1.1.4.6.9.2 1-.3 1.1M52.3,22.2l-.9-.7-1.1-.3-1.1-.1-1 .5-.7.8-.6.9-.3 1.1.3 1 .7.9 1 .4 1.1-.2.8-.8M52.1,27.5l-1-.5-1.1.2-.8.7-.3 1.1.4 1 .7.8 1.1.3 1.1-.3.7-.8.2-1.1-.4-1-.9-.7M56.6,65l.7.8.2 1-.4 1.1-.6.9-.5 1-.4 1-.7.8M47.1,48.6l-.8-.7-.9-.7-1.1-.2-.9-.5-.8-.8-.3-1.1 0-1.1.3-1 .7-.8.8-.8.9-.6 1.1-.1M72.1,34.5l-1.1.1-1-.6-.8-.7-.3-1.1-.1-1.1.5-1 .6-.9.8-.7 1.1-.1 1 .5.5 1 0 1.1M77.6,44l.1 1.1.2 1.1.5 1 .6.9.7.8.6.9.3 1.1.4 1 0 1.1-.2 1.1-.6.9-.9.7M66.3,38l.7.8.4 1 .1 1.1-.7.9-1 .4-1.1 0-1-.4-.8-.7-.8-.8-.8-.8-.6-.9-.9-.7M62.7,46.6l1.1-.4 1 .2 1 .5 1.1.4 1 .4 1 .4 1.1 0 1-.5.5-.9 0-1.1-.4-1.1-.6-.9M60.9,26.9l1.1.2 1.1.4 1.1-.1 1-.3.9-.7.6-.9.5-1 .3-1 .2-1.1-.2-1.1-.7-.8-1.1-.3M42.4,38.8l-.9.7-.7.8-.4 1 0 1.1.6 1 .9.6 1.1.1 1-.5.6-.9.1-1.1-.4-1-.6-1M60,60.1l-.9-.7-.3-1.1.2-1 .3-1.1.5-.9.9-.7 1.1-.2 1.1 0 1.1.1.9.5 1 .5 1 .6M42.1,63l-.8-.7-.8-.8-.7-.8-.9-.7-1-.4-.9-.6-1-.5-1-.4-1.1-.1-1.1.2M46.8,45l.7-.8.9-.6 1.1-.2 1.1-.1 1 .5.6.9 0 1.1-.3 1.1-.5 1-.6.9-1 .4-1.1-.2M48,27.1l-.8-.7-.3-1 .3-1.1.6-.9 1-.4 1.1.3.7.8.2 1.1-.5.9-.7.9-.8.8-.6.9M70.4,29.2l1-.5.9-.6 1-.4 1.1-.1 1.1 0 1.1.3.9.6.6.9.4 1.1 0 1.1-.1 1.1 0 1.1M79,33.6l.9-.7 1-.4 1.1-.2 1.1 0 1.1.1M48.7,38.2l-.6 1-.5 1-.5.9-.2 1.1.5 1 1 .6 1 .5 1 .4 1.1.1 1.1-.2 1-.2 1.1-.3M42,38.8l.5-1 .2-1.1-.3-1.1-.8-.7-1.1-.2-1 .4-.9.7-1 .5-.7.8-.5 1 0 1.1.3 1.1M56.9,47.6l-1-.3-.8-.8-.2-1.1.3-1 .7-.9.9-.5 1.1-.3 1.1-.2 1-.4 1-.5 1-.5 1-.3M59.6,25.3l-1.1.2-.9.7-.8.7-.9.7-1 .3-1.1-.1-1.1-.4-.7-.8-.2-1 .1-1.1.3-1.1.3-1M44.5,55.1l0 1.1-.1 1.1.1 1.1-.2 1.1-.5.9-.9.7-1 .4-1.1-.2-.9-.6-.7-.8-.5-1-.3-1.1M50.2,41.9l-.5-1-.5-1-.3-1-.3-1.1 0-1.1.6-.9 1-.5 1.1-.2 1.1-.1 1-.4 1-.4 1-.5M65.4,67.3l1.1-.1 1-.3.9-.7.8-.7.6-.9.8-.8.9-.6 1-.4 1.1.2.9.7.3 1-.4 1.1M36.9,35.4l-1.1.1-1.1-.2-1-.3-.9-.7-.8-.7-.3-1.1.3-1 .8-.8 1.1-.2 1 .4.8.8.6.9M71,19.6l.9.5 1.1.4.9.6.6.9.4 1-.2 1.1-.7.8-1.1.4-1-.4-.8-.7-.4-1.1.2-1.1M44.1,48l1.1-.1.9-.5.7-.9.2-1.1-.1-1.1-.8-.8-.8-.8-.8-.7-1-.5-1-.4-1.1-.3-1-.1M54.7,38.3l0-1.1.3-1.1.5-1 .8-.7.8-.7.7-.9.5-1 .4-1 .3-1.1.4-1 .7-.8 1-.5M63.1,38.2l.9-.7.8-.8.6-.9 0-1.1-.3-1-.7-.9-1.1-.3-1 .4-.7.9 0 1.1.4 1 .8.8M72.3,22.9l-.5-1-.6-.9-.8-.7-.9-.7-.9-.6-1.1.1-1 .6-.6.9-.3 1 .1 1.1 0 1.1 0 1.1M40,50.1l.8-.7 1-.5 1-.4 1.1-.1 1.1.3 1 .5 1 .5.8.7 1 .5 1.1.3 1-.3.7-.9M44.8,36.8l-1.1-.1-1-.3-.8-.8-.7-.9-.7-.8-.7-.8-.9-.7-1-.5-1.1.1-.8.7-.4 1.1.2 1.1M40.6,23.6l-1 .5-1.1.3-1.1-.2-1-.5-.7-.8-.2-1.1M55.1,19l-.5-1-.2-1.1 0-1.1.1-1.1.7-.9.9-.6 1-.3 1.1.3.7.9.1 1.1-.5.9-1 .5M44.6,31.8l-.8.8-.8.8-.7.8-.4 1 0 1.1.5 1 .6.9.7.9.5.9.3 1.1.3 1.1.6.9M80.6,33l.8-.7.7-.9.4-1.1.4-1M44.8,19.9l-1.1-.1-1 .5-.6.9-.3 1.1-.2 1.1.4 1 .8.7 1.1.1 1-.5.9-.7.8-.7 1-.6M38.3,29.8l.9.7.7.8.7.9.5.9.6 1 .6.9.7.8.9.7 1 .4 1 .5.9.6.6.9M64.3,37.2l-.5 1-.3 1.1-.3 1 0 1.1-.1 1.1-.4 1-.7.9-1 .4-1.1.1-1.1.1-1.1.2-.9.6M80,42.2l-.8-.8-.9-.6-1-.4-1.1-.2-1 .3-.7.9-.3 1 .3 1.1.7.8 1 .4 1.1-.2.9-.6M45.1,23.9l.8.7 1.1.2 1-.5.6-1 .1-1.1-.3-1-.7-.9-.7-.8-.8-.7-.8-.8-.5-1-.7-.9M63.9,29.8l-1.1-.3-.9-.6-.4-1 .3-1.1.3-1 .3-1.1.4-1 .8-.8 1-.3 1.1.4.6.9.4 1M69.8,58l-.4-1-.7-.8-.9-.7-1.1 0-.9.6-.4 1 .1 1.1.6.9 1 .4 1.1-.2.9-.7.5-.9M46.8,30.8l.3 1.1-.3 1.1-.6.9-.6.9-.4 1-.2 1.1 0 1.1 0 1.1.4 1 .4 1 .1 1.1-.1 1.1M62.8,40.5l1.1-.1.8-.7.3-1.1-.4-1-.9-.7-1.1-.1-1.1.1-.8.6-.5 1 .1 1.1.7.9 1 .5M59.1,68.8l-.9-.6-.4-1 .2-1.1.8-.8 1-.4 1.1.2.9.7.7.8.1 1.1-.3 1.1-.4 1-.5 1M69.2,46.8l.8.7.4 1 .2 1.1-.1 1.1-.6.9-.9.6-1.1.2-1.1-.1-1-.4-1.1-.1-1.1.1-1.1.1M74.1,54.5l.9.7.3 1-.3 1.1-.6.9-.6 1-.5.9-.7.9-.3 1 .2 1.1.4 1 .5 1 .4 1M59.9,44.3l-.5.9-.5 1-.8.8-.9.6-1.1.3-1-.4-.8-.8-.3-1 .2-1.1.7-.8 1-.4 1.1 0M66.1,30.6l-.5 1-.4 1-.7.9-1 .4-1.1.2-1.1-.2-1.1-.2-1.1-.1-1 .1-1.1.2-1.1.4-.7.7M55.3,30.5l.2-1.1.3-1.1.6-.9.9-.6 1.1-.1.9.7.4 1-.2 1.1-.5.9-.8.8-.9.6-1 .4M39.9,35.4l-.8.8-.6.9-.4 1 .3 1.1.7.9.9.5 1 .6.9.6 1.1.1 1.1-.1 1-.5.6-.9M68.1,20.6l.6.9.3 1.1.1 1.1 0 1.1 0 1.1-.2 1.1-.3 1-.4 1-.3 1.1-.4 1-.6.9-.5 1M75.2,43.3l-.4 1 .3 1.1.5 1 .8.7 1 .5 1 .5.9.5 1.1.3 1-.4.9-.6.6-1-.1-1M43.4,55.8l-1.1-.3-1.1-.1-1.1.2-1.1-.1-.8-.7-.6-1-.7-.9-.7-.8-.7-.9-.2-1 .3-1.1.6-.9M35.6,54.5l-.6.9-.8.8-1.1.2-1-.4M80.5,31.7l-.9.7-.4 1-.1 1.1.4 1.1.7.8 1.1.3 1-.1 1-.6.5-1 .1-1.1-.4-1-.7-.8M66.5,58.3l1 .5.6.9.4 1-.2 1.1-.5 1-.9.6-1.1.2-1.1.4-1 .2-1.1.2-1.1.1-1.1 0M63.9,35.6l1.1.2 1 .2 1.1.1 1.1-.2 1-.4.9-.7.8-.8.8-.7.6-.9.6-1 .8-.7.8-.8M50.4,32l-.6-.9-.8-.7-1.1-.4-1.1 0-1 .4-1.1.2-1-.5-.6-.8-.5-1 .2-1.1.7-.8 1.1-.4M41.4,33.8l.5-.9 0-1.1-.5-1-.4-1.1-.2-1 0-1.1.2-1.1.4-1.1.6-.8 1.1-.5 1.1.1 1 .1M71.8,41.1l.9-.7 1.1 0 .9.5.5 1-.2 1.1-.3 1.1-.4 1-.4 1-.6 1-.8.7-.9.7-.7.8M47.7,54.7l1.1-.2.9-.6.8-.8.5-1 .1-1.1-.5-1-.9-.6-1.1.1-.9.6-.5.9-.3 1.1.2 1.1M50.4,42.3l.2 1.1-.2 1.1-.6.9-1 .5-1.1-.1-.8-.7-.6-1 0-1.1.4-.9 1-.6 1.1-.1 1.1.2M42,41.4l.9-.6 1.1 0 1.1.3 1 .5.8.7.9.6 1 .5.9.6 1.1.4 1.1 0 .9-.5.8-.7M61.1,62.2l.5.9.6.9.8.8.6.9.5 1 .4 1 .3 1.1 0 1.1.4 1"/>
<clipPath id="k21"><rect x="400.5" y="481.0" width="86.6" height="86.4"/></clipPath>
<path id="p21_41" d="M47.7,51.4l.9-.7.4-1 0-1.1-.1-1.1-.2-1.1-.2-1 .2-1.1.3-1.1.5-1 .7-.8.8-.7 1-.5M56.3,36l1.1-.3 1-.4M52.8,69.3l-.6.9-.1 1.1.4 1 .7.9.9.7 1 .5 1 .4 1 .2 1.1-.1 1.1.3.7.9.1 1.1M40,34.9l.6.9.1 1.1.1 1.1-.2 1.1-.8.8-.9.6-1.1.1-1.1-.3-.9-.6-.8-.8-.4-1 0-1.1M15.9,13.4l0-1.1.4-1 .5-1 .5-1 .4-1 .1-1.1-.4-1.1M32.9,37.6l-1.1-.2-1-.5-.9-.6-.4-1.1.2-1.1.3-1 .7-.8.9-.7.8-.7.7-.9.6-.9.6-.9M40.5,22.1l-.2-1.1 0-1.1.3-1 .9-.7 1.1-.3 1 .3M36.4,34.2l-.5 1-.6.9-.5 1-.4 1-.3 1.1-.2 1.1-.3 1-.5 1-.3 1.1-.8.8-1 .2-1.1-.4M34.5,26l-1-.3-1.1-.1-1.1-.2-1.1-.2-1-.5-.7-.8-.6-1 0-1.1.1-1.1.2-1 .5-1.1.4-1M54.6,36.6l1.1-.2 1.1.2.8.8.2 1.1-.2 1-.8.8-1 .4-1.1-.2-.8-.7-.3-1.1.2-1.1.6-.9M41,53.2l-.6.9-.9.7-.9.6-1.1.2-1 .3-1 .6-.5 1 0 1.1.5.9.6.9 1 .6 1.1-.2M30.8,49.6l.8-.7.4-1.1-.3-1-.3-1.1-.4-1-.3-1.1 0-1.1.2-1 .2-1.1.2-1.1.6-1 .8-.7M29.9,50.8l-1 .6-1.1 0-1-.4-.8-.8-.8-.8-.7-.8-.9-.6-1-.4-1.1-.3-1.1 0-1.1.1-1.1 0M50.4,61.9l.4-1 .1-1.1-.6-.9-.8-.8-.7-.8-.4-1 .1-1.1.6-.9.9-.6 1.1.1.9.7.6.9M28.2,57.1l-.2-1.1.1-1.1.4-1 .6-1 .9-.6 1.1-.1 1 .3 1.1.2 1 .5.6.9.5 1 .5 1M26.1,50.4l.8-.7.3-1.1-.3-1-.9-.7-1.1-.1-1 .4-1 .5-1.1.3-1 .3-.9.7-.9.6M62.5,63.4l.4 1.1.6.9.7.8.6.9.5 1-.2 1.1-.7.8-1.1.3-1.1-.1-.8-.7-.3-1.1.2-1.1M52.6,37.9l.2 1.1.1 1 .4 1.1.2 1.1 0 1.1-.6.9-.7.8-1 .5-1.1.2-1-.3-.9-.7-.6-.9M39.4,34.5l.2 1.1 0 1.1-.4 1-.7.8-.8.7-.9.7-1.1.1-1.1-.4-.8-.7-.6-1-.1-1.1.5-.9M43.6,61.8l-.7.9-.6 1-.3 1 0 1.1.6.9.9.6 1.1.1.9-.6.6-1-.1-1.1-.7-.9-1-.4M31,30.6l.7.9 0 1.1-.6.9-1 .5-1.1.1-1-.2-.9-.7-.5-1-.3-1 .2-1.1.6-.9 1-.5M19,25.9l.4-1.1 1-.6 1.1.1.9.5.5 1-.1 1.1-.7.9-.8.8-.5.9-.6 1-.2 1 .1 1.1M28.7,18.6l-.3-1-.4-1.1-.6-.9-.7-.8-.9-.7-.8-.7-1.1-.4-1 .3-.8.7-.5 1.1-.1 1-.1 1.1M52.5,79.5l.9.6.7.8.8.8.8.8.9.7.9.5M33.9,24.6l.9.6.5 1 0 1.1-.2 1.1-.2 1.1 0 1-.3 1.1-.4 1-.1 1.1.2 1.1.5 1 .8.7M22.7,17.8l-1.1-.3-.7-.8-.2-1.1.2-1.1.6-.9.8-.7 1.1-.4 1.1-.1.9.5 1 .6.7.8.7.9M49.8,71.1l.2-1.1.3-1 .2-1.1-.2-1.1-.7-.8-1-.5-1.1-.2-1.1.1-1 .4-.7.9-.1 1.1.4 1M35.5,47.2l-.9-.6-1.1-.1-1.1.2-.8.7-.5 1 0 1.1.2 1.1 0 1.1-.5 1-1 .5-1.1.1-1.1.2M52.3,79.7l-1.1.1-1.1-.2-.8-.8-.4-1 .1-1.1.3-1 .6-1 .8-.7 1.1-.3 1.1.3.7.8.2 1.1M18.8,30.7l-.6-.9-.8-.8-.9-.6-1.1-.1-1 .6-.5 1 .1 1.1.2 1 .7.9 1 .4 1.1-.2 1-.5M13.4,17.6l-1.1-.3-.7-.8-.6-.9-.4-1.1.2-1.1.6-.9 1-.5 1-.3 1-.4 1-.5.9-.7.6-.9M42.5,51l-.3-1.1-.6-.9-.8-.8-.7-.8-.8-.7-1-.5-1.1-.1-1.1.3-.7.9-.1 1.1.4 1 .8.7M29.4,58.6l-1.1.2-1.1 0-1.1-.2-1-.3-.8-.8M34.9,21.5l-.3 1.1-.8.7-1.1.1-1-.4-.8-.8-.7-.9-.4-1-.5-1-.2-1 .1-1.1.7-.9 1-.4M31.3,19.6l.8.8.7.8.7.9.7.8.8.8.9.5 1.1 0 .9-.7.3-1 .2-1.1.2-1.1-.1-1.1M19.1,44.9l-.1-1.1-.5-1-.6-.9-.6-.9-.7-.9-.8-.7-.8-.8-.6-.9-.2-1.1.2-1.1.6-.9 1-.4M35.8,45.3l-.2-1-.8-.9-.9-.6-.9-.5-1.1-.4-1-.3-1.1-.2-1-.5-.9-.6-.8-.8-.4-1 0-1.1M46.9,74.5l1.1.3 1 .4 1 .4.9.6.9.6.9.7.8.7.9.7.6 1 .4 1 .3 1-.2 1.1M18.8,45l.8-.7 1-.5 1-.4 1.1.1 1 .4.9.7 1 .5 1 .3 1.1.3 1 .4 1.1.2 1 .4M43.3,50.6l.9.7 1 .3 1.1 0 1-.4 1-.6.8-.7.7-.8.5-1 .4-1.1.5-.9.7-.9.6-.9M36.3,64l1.1.2 1 .4.9.6.7.9.4 1-.3 1.1-.8.7-1.1.3-1.1.2-1.1.2-1 .2-.9.6M49.5,58.2l1 .4.6.9.3 1.1-.2 1.1-.3 1-.5 1-.7.9-.7.8-.9.7-.9.5-1 .4-1.1.1M62.1,57.3l1-.5 1.1-.1 1.1.3 1 .2 1 .5.9.6.9.7M34.3,15.2l.6-1 1-.4 1.1-.2 1.1.1M25.4,35l.5-1 1-.6 1.1-.2 1 .3 1 .6.8.7.6.9.5 1 .6.9.6 1 .8.7.7.9M37.1,42.5l1.1 0 1 .5.7.9.2 1.1-.1 1.1-.4 1-.5 1-.8.7-1 .4-1.1 0-1-.5-.9-.6M52.7,60.4l-.3 1.1-.6.9-1 .6-1 .5-.9.6-.9.7-1 .3-1.1-.3-.7-.9-.2-1 .4-1.1.8-.8M16.3,36.1l-.9.8-.6.9-.5.9.1 1.1.4 1 .5 1-.2 1.1M65.2,76.6l1.1-.2 1-.3 1-.6.7-.8.4-1 .2-1.1-.5-1-.7-.8-.9-.6-1-.5-1.1-.1-1.1.4M33.2,64.3l-1.1-.2-1.1-.3-1 .1-1.1.3M43.5,74.6l-1.1 0-1.1.1-1.1.2M50.9,41.9l.2-1.1-.3-1.1-.4-1-.7-.8-.9-.8-.7-.7-1-.6-1-.4-1-.5-.8-.8-.7-.8-.5-1M61.2,58.3l-.3 1.1 0 1.1.4 1 .7.9.8.6 1 .5 1.1.1 1.1 0 1-.5.9-.7.8-.8.7-.8M53.4,75.3l.6.9.7.9.9.7.7.8.6.9.4 1 0 1.1 0 1.1-.1 1.1M69.1,69.8l0 1.1-.2 1.1-.3 1-.5 1-.7.8-.9.7-1 .5-.9.6-.9.7-.7.8-.8.8-1 .5M28.3,52.5l-.7-.8-.2-1.1.4-1 .9-.7 1.1-.2 1.1-.1 1.1-.1 1-.3.8-.8.3-1.1 0-1.1-.1-1.1M39.6,24.1l1 .5 1.1-.2.9-.5.6-1 .1-1.1-.4-1-.8-.7-1.1-.3-1 .4-.8.8-.2 1 .2 1.1M35.5,30l-.7-.9-.9-.6-.8-.7-1-.4-1.1-.1-1 .5-1 .4-1.1-.1-.9-.7-.3-1.1.4-1 .6-1M54.3,50.1l0-1.1 0-1.1-.2-1.1-.2-1.1-.1-1.1-.2-1.1 0-1.1.4-1 .4-1 .7-.9.7-.8.6-1M46.9,58.1l.4 1-.2 1.1-.5 1-.5.9-.7.9-.4 1-.5 1-.5 1-.4 1-.3 1.1.1 1.1.2 1.1M42.6,22.5l-.9-.7-.7-.8-.6-.9-.9-.7-1.1 0-1 .4-.9.7-.6.9-.4 1-.3 1.1-.2 1-.2 1.1M47.1,70.4l.8-.7.7-.9.7-.8.6-.9.6-.9 0-1.1-.4-1-.7-.9-.8-.7-1.1-.3-1.1 0-1 .3M57.4,68.3l.8.7.3 1.1-.2 1-.9.8-1 .3-1.1-.1-1-.5-.7-.8-.6-1-.4-1-.5-1-.3-1M52.7,73.4l1-.5 1-.5.8-.7.8-.8 1-.5 1.1.1.8.7.7.9.7.8.5 1 .3 1 .1 1.1M36.9,19.5l.8.7.9.6 1 .5 1.1.3 1.1.1 1 .1 1.1.3 1.1.1 1.1-.1 1.1-.3M23,47.8l.6.9.5 1 .1 1.1 0 1.1-.3 1-.6 1-.9.7-.9.6M45.3,75.2l-.6-.9.1-1.1.7-.9 1-.4 1.1.3.8.7.3 1.1-.3 1-.7.9-.8.8-1 .4-1.1.1M51.3,64.9l.9-.6 1.1-.1 1.1.3.7.8.4 1 0 1.1-.2 1.1-.4 1-.6.9-.8.8-.8.7-1.1.3M52.4,62.6l1-.6 1-.4 1.1 0 1 .5.5 1-.2 1.1-.7.8-1 .5-1 .5-1.1.1-1.1.1-.9.6M24.6,24.5l-.1-1.1.3-1 .7-.9.9-.6.9-.6.7-.8 0-1.1-.5-1-1-.4-1.1-.1-1 .5-.7.8M54.2,62.8l.1 1.1-.4 1-.5 1-.8.7-1.1.1-1.1.2-1.1.3-1.1.2-1.1.2-1 .3-.9.7-.7.8M37.8,29l-.6-1-.4-1-.8-.8-1-.4-1.1-.2-1 .5-.7.8-.1 1.1.4 1.1.8.7 1 .4 1.1.2M59.3,45l.5-.9.7-.9.9-.6 1.1-.1M29.9,26.9l.1 1.1.2 1.1.2 1.1.5.9.9.7 1.1.1 1.1-.3.7-.9 0-1.1-.4-1-.6-.9-.9-.7M45.7,45.4l-.5-1-.9-.7-1.1 0-1 .3-1.1.5-1 .2-1.1.3-1.1.1-1.1-.2-1-.4-1.1-.3-1-.1M41.9,34.3l-.9-.6-1.1-.3-1.1-.1-1 .2-1.1.4-1 .4-1.1 0-1-.2-1-.6-.6-.9-.3-1-.2-1.1M58.8,63.4l-1.1-.3-.9-.5-.9-.7-.7-.9-.5-.9-.6-.9-.8-.9-.9-.6-.9-.5-1.1-.3-.9-.7-.7-.8M59.9,42.9l-.6 1-.3 1.1-.1 1.1.5.9.9.7 1.1.2 1.1-.1 1-.3 1.1-.2M54.3,43.7l-1.1.1-1-.5-.8-.7-.8-.7-1-.4-1.1-.3-1-.4-.7-.9 0-1.1.4-1 .6-.9.8-.7M59.3,75.4l.2 1.1.3 1.1.5 1 .5.9.5 1 .5 1 .9.7.7.8.3 1.1M22,25.4l1 .4.6 1-.1 1.1-.3 1-.4 1.1-.2 1-.1 1.1-.3 1.1-.4 1-.2 1.1.1 1.1.3 1.1M49.7,28.9l-.1 1.1-.7.9-.8.7-.7.8-.9.7-.9.5-1 .5-1 .6-.9.6-.8.8-.7.8-.8.7M23.3,11.4l.7-.9 0-1.1.1-1.1.1-1.1.4-1M22.8,43.7l1.1-.1 1 .5.8.8.2 1.1-.4 1-.8.7-1 .4-1.1-.2-.8-.8-.2-1.1.1-1.1.2-1.1M22.3,36.8l-.9.6-1.1-.1-1-.5-.8-.7-.8-.8-.5-1-.6-.9-.1-1.1.1-1.1.5-1 .7-.8.7-.8M21.2,39.5l-1-.4-1.1.2-1 .5-.9.6-1 .5-1.1.3-1-.3M38,25.6l-.2 1 .1 1.1-.1 1.1-.5 1-.8.8-1 .5-1 .4-1.1 0-1-.4-1-.5-.9-.6-.8-.8M18,27.4l.7-.8 0-1.1-.5-1-1-.4-1.1.1-.8.8-.4 1 .1 1.1.4 1 .8.8 1 .5 1 .4M51.6,63.4l.8-.8 1-.4 1.1.1.9.8.3 1-.1 1.1-.5 1-.9.5-1.1-.1-1.1-.3-.9-.6-1-.5M35.9,65.8l-1.1.2-1-.5-1-.5-.8-.7-.4-1.1-.4-1-.1-1.1.3-1.1.3-1 .8-.7.9-.7.9-.6M62.3,67.9l.5 1 .5.9.2 1.1-.1 1.1 0 1.1.2 1.1.6.9.6.9.9.7.8.7.8.8.8.7M42.9,53.7l-.7-.8-.3-1.1.1-1.1.6-.9 1-.4 1-.4 1.1-.2 1.1-.4 1-.3.9-.6.9-.7.8-.8M32.7,27.8l-1.1.2-1-.3-.7-.8-.2-1.1.3-1.1.7-.8 1-.5 1-.5.8-.7.9-.6.8-.8.8-.7M52.3,79.8l.8-.7 1-.6.8-.7.6-1 .4-1 .3-1 .6-1 .8-.7.8-.8.5-.9.1-1.1-.1-1.1M58.5,46.7l.9-.6 1-.4 1.1-.3 1-.5.8-.8M44.9,49.4l1.1-.1 1.1.4.9.5.7.8.6 1 .2 1.1.4 1 .4 1 .2 1.1-.2 1.1-.5 1-.8.7"/>
<clipPath id="k22"><rect x="489.5" y="481.0" width="86.4" height="86.4"/></clipPath>
<path id="p22_43" d="M34.8,39.4l.5-1 .8-.8.9-.7.9-.6.9-.6 1-.3 1.1-.2 1.1 0 1.1.2.8.7.6 1 .4 1M48.2,38.6l.2 1.1 0 1.1-.1 1.1-.4 1-.9.7-1 .4-1 .2-1.1-.2-1-.6-.8-.7-.6-.9-.5-1M37.8,49.6l.4 1.1 0 1.1 0 1.1-.2 1.1-.4 1-.9.6-1.1.1-1-.5-.6-.9 0-1.1.5-1 .8-.7M58.2,51.9l-1.1-.3-1.1.1-1 .6-.5.9-.1 1.1.1 1.1.5 1 .3 1 .4 1 .4 1 .4 1.1.1 1.1M44.2,49.5l0-1.1-.3-1.1-.3-1-.6-1-.6-.9-.8-.8-1-.5-1-.1-1 .4-.6 1-.1 1.1 0 1.1M61,66.8l-.3 1-.3 1.1-.4 1-.2 1.1M24.6,56.2l.9.6.8.7.7.9.8.7 1 .6 1 .2 1.1-.1 1.1-.3 1-.4.6-.9.5-1 .5-1M47,50.8l1.1.3 1.1.1 1.1-.1 1-.3 1-.5 1-.4 1-.5.9-.6.9-.6 1-.6.6-.9.4-1M32.5,31.2l-.6-.8-1.1-.4-1.1.4-.8.6-.6 1-.3 1 .1 1.1.2 1.1.4 1 .3 1.1.6.9.7.9M71.6,53.4l-.8.8-.4 1 .1 1.1.5 1 1 .5 1.1.3M62.4,45.3l.9-.6.8-.8.8-.7.6-.9.1-1.1-.5-1-.9-.6-1.1-.3-1.1 0-1 .5-.5 1 .2 1.1M26.6,52.5l1 .4.5 1 .3 1.1.5 1 .6.9.6.9.9.6.9.7.8.7 1 .5 1 .4 1.1.3M68.6,49.4l-.4 1-.3 1.1-.1 1.1-.8.8-1 .2-1.1-.3-.8-.8-.4-1-.2-1.1.5-1 .9-.6 1.1-.1M29.8,59.6l1.1.2 1 .1 1.1-.3.8-.8.3-1 .1-1.1-.4-1.1-.8-.7-1-.3-1.1.4-.6.9-.5 1M34.1,42.8l-.2-1.1.2-1.1.7-.8.9-.6 1.1-.2 1 .3.9.7.4 1-.2 1.1-.2 1.1-.2 1.1.1 1.1M54.4,36.8l0-1.1.2-1.1.2-1.1 0-1.1-.4-1-1-.6-.9-.6-1-.4-1.1-.2-1.1-.1-1.1-.2-.9-.7M39.3,22.1l.8.8 1 .3 1.1 0 1.1-.1 1.1 0 1-.3 1.1-.2 1.1-.1 1.1.1 1.1.1 1.1-.2 1-.5M43.5,51.2l1 .3 1 .5 1 .5.9.6.8.7.9.7.8.7.8.8.1 1.1-.5 1-.9.5-1.1-.1M45.5,48.9l-.1 1.1.1 1.1.2 1 .4 1.1.3 1-.4 1.1-.9.6-1.1.2-1.1-.1-1.1-.1-1 .3-1 .6M52.3,21.4l-.9.6-.8.8-.8.6-1.1.4-1 .2-1.1-.3-1-.4-1.1-.3-1.1-.1-1 .2-.9.7-.3 1.1M46.4,43.9l-1.1.2-1 .4-1 .3-1.1.3-1.1.2-1.1.3-1.1 0-1-.4-.9-.6-.7-.8-.7-.9-.6-.9M37.1,31.5l-1 .4-.7.9-.5 1-.2 1.1-.2 1-.2 1.1-.2 1.1-.4 1-.8.8-1 .4-1.1 0-1-.5M41.1,51.5l-.6.8-.1 1.1.4 1.1.7.8.9.6 1 .4 1 .6.8.7.9.7.9.6 1 .4 1.1-.1M73.1,44.6l.6.9.7.9.7.8.8.8.7.8M39.8,44.9l-.3 1.1.3 1 .8.9.9.5 1.1.3 1.1.1 1.1.1 1-.3.8-.8.3-1.1-.3-1-.8-.8M46.5,36.1l-1.1.1-1 .5-.7.9-.6.9 0 1.1.1 1.1.4 1 .7.9.6.9.9.6.9.7.9.6M17.4,40.8l-1.1-.3-.8-.7-1-.6M46.6,45.2l-.4 1-.9.7-1 .2-1.1 0-1-.5-.9-.6-1.1-.2-1 .4-.8.8-.7.9-.6.9-.5 1M35.8,32.1l.6-1 .5-.9.5-1 .6-.9.9-.7 1.1-.2 1 .4.7.8.6 1 .1 1.1-.4 1-.6.9M42.6,21.6l-.8-.7-.6-.9-.1-1.1.4-1.1M48.6,44.7l-1 .6-.8.7-.7.9-.4 1 .2 1.1.7.8 1.1.3 1-.4.6-.9.5-1 .2-1.1 0-1.1M36,30.5l-.6.9-.9.8-1 .2-1.1 0-1.1-.3-.8-.7-.8-.8-.6-.9-.8-.8-.8-.7-1-.5-1-.3M26.1,29.5l-.7-.9-1-.5-1.1-.2-1.1.1-1 .1M67.7,46.5l.6 1 .3 1 .1 1.1-.3 1.1-.9.7-1 .5-1 .2-1.1.1-1.1-.3-.9-.6-.7-.8-.6-1M46.6,42.6l-.3-1.1 0-1.1.3-1 .5-1 .6-1 .4-1 .5-1 .7-.8 1-.6 1-.1 1.1.1 1.1.3M45,20.4l1-.4.7-.9.3-1 .2-1.1M33.4,32.2l-.4-1-.4-1-.5-1.1-.5-.9-.8-.8-.7-.8-.9-.7-1-.5-1-.4-1.1.1-1 .4-.6.9M50.6,42.5l-.4-1.1.4-1 .6-.9 1-.5 1.1-.1 1.1.1 1.1.1 1.1.1 1.1-.1 1-.4.8-.7.3-1.1M55.4,28.6l-1.1-.2-1.1-.3-.8-.7-.6-.9 0-1.1.4-1.1.9-.6 1.1-.1.9.5.9.7.4 1 .1 1.1M35.6,67.6l0 1.1.1 1.1.7.8 1.1.3 1.1-.1.9-.6.4-1 .2-1.1 0-1.1-.3-1-.5-1-.9-.8M24.1,64.3l-.9-.7-1.1-.1-1 .2-1.1.3M43.2,67.8l.5.9.9.7.8.7.7.8.5 1 .3 1.1.2 1.1 0 1.1M56.9,52.8l-.8-.8-.5-.9-.6-.9-.8-.8-.8-.8-.7-.8-.9-.6-.9-.7-.9-.6-1-.5-1.1 0-1.1.1M64.8,47l.3-1.1-.2-1.1-.7-.8-1-.5-1.1 0-.9.6-.5 1-.5 1-.9.6-1.1.3-1 .4-1 .5M46.4,46.2l-1 .2-1.1-.4-.8-.7-.6-1-.6-.9-.6-.9-.6-.9-.6-.9-.5-1-.5-1-.4-1-.6-.9M54.2,57.2l-.9.6-1 .4-1.1-.3-.7-.8-.3-1 .4-1.1.5-.9.7-.9.6-.9.6-.9.8-.8 1-.5M61.3,62.9l1.1.1 1 .5 1.1.3 1 .4 1.1.3 1.1 0 1.1 0M28,29.2l-1-.6-.6-.9-.3-1-.2-1.1.1-1.1.2-1.1M34.5,70.9l.3-1 .6-1 .7-.8.9-.7 1.1-.3 1-.1 1.1-.2 1.1-.1 1-.5.9-.6.4-1-.2-1.1M28.9,64.6l-.4 1 0 1.1.7.9 1 .5 1 .3 1.1-.4.7-.8.6-.9.3-1.1-.1-1.1-.7-.9-1-.5M51.4,41.3l.7.9.6.9.1 1.1-.2 1.1-.7.9-1 .4-1.1-.2-.8-.8-.3-1 .2-1.1.5-1 .7-.8M70.7,49.7l-1.1-.4-1.1-.1-1.1.2-.8.8-.2 1 .2 1.1.4 1 .6.9.9.6 1.1.1 1.1-.4.9-.6M49.3,33.1l1 .6.7.8.8.8.6.8.5 1 .2 1.1-.4 1-.9.6-1.1.1-1-.5-.6-.9-.1-1.1M19.4,41.4l-1.1 0-1.1.1-1.1.1-1.1-.2-1.1-.2M44.3,57.4l.9.7 1 .6.7.8.6.9.4 1 .3 1.1-.4 1-.8.8-1 .4-1 .4-.9.6-.8.7M18.5,54.1l-.1 1.1-.4 1-.6.9-.9.6-1.1.2M35,33.8l-.4-1-.9-.7-1.1-.2-1.1.1-1.1.2-1 .3-.9.6-.8.8-.5 1-.3 1.1-.1 1.1.3 1M63.2,56.2l-.4 1-.5 1-.5 1-.3 1.1-.1 1.1-.2 1-.5 1-.5 1-.9.7-1 .3-1.1-.2-1-.4M51.8,53.3l-.6-.8-.5-1 .1-1.1.4-1 .9-.7 1.1-.1 1 .5.7.8.5 1 .1 1.1-.3 1.1-.6.9M65.4,52.3l-1.1.2-1.1.1-1.1.3-1 .5-1 .3-1.1.1-1-.5-.6-.9-.5-1-.6-1-.6-.9-.6-.8M48.4,45.8l1 .5.9.7.8.7 1 .5 1.1.2 1.1-.1 1.1-.3 1-.2 1.1.1 1.1.2 1.1.1 1.1 0M46.5,63.8l.9-.4.7-.9.8-.8.7-.8.9-.7 1-.3 1.1.3.6.9.1 1.1-.6 1-.9.6-1 .3M49.4,47.5l-.7-.8-.9-.6-1-.5-.8-.8-.5-1-.2-1 .1-1.1-.2-1.1-.7-.8-1.1-.2-1.1.2-.9.7M26.6,51.8l0-1.1.4-1 .5-1 .3-1 .5-1 .4-1.1.4-1 .4-1 .6-1 .5-.9.8-.8.9-.5M62.2,57.7l.1 1.1-.5.9-.9.7-1 .3-1.1 0-.9-.6-.4-1.1.1-1.1.6-.9.5-1 .4-1 .3-1.1M45.1,46.1l-.8.7-1 .5-1 .3-1.1-.1-1.1-.4-.7-.8-.3-1.1.4-1 .7-.8 1-.4 1.1-.1 1.1 0M39.2,46.7l-1 .4-.9.7-.9.6-1.1.2-1.1.3-1 .3-1.1.2-1.1.2-1.1.1-1.1 0-1.1.2-1 .4M38.4,54.5l-1.1.3-1-.4-.7-.8-.4-1.1 0-1.1.2-1.1.4-1 .6-.9.8-.8 1-.5 1.1 0 .9.6M66.8,30.3l0 1.1.3 1.1.8.7 1.1.3 1-.4.7-.9.1-1-.4-1-1-.7-1.1 0-.9.7-.4 1M61.8,57.7l-.8-.7-.8-.8-1-.4-1.1-.2-1.1-.2-1.1-.1-1-.2-1.1-.2-1.1-.3-1-.5-.9-.6-.8-.7M25,64.5l0-1.1-.2-1-.2-1.1-.3-1.1-.6-.9-.8-.8-.7-.8-.6-.9-.6-.9-.2-1.1.4-1 .8-.8M26,49.4l-1.1-.1-1-.4-.9-.6-.6-.9-.4-1-.3-1.1-.4-1-.7-.9-.3-1 0-1.1.4-1.1.4-1M64.8,57.4l-.8.8-1 .5-1.1.2-1-.3-1.1-.3-1-.4-1.1-.2-1.1-.1-1.1.2-1.1.2-.9.6-.6 1M39.2,59.8l-.8.8-.9.7-1 .2-1.1-.3-.8-.8-.4-1 .3-1.1.8-.8 1-.2 1.1.4.7.8.5 1M67.3,31.1l-.6.9-.5 1-.3 1.1-.4 1-.4 1-.8.8-.9.6-1 .6-1 .4-.9.6-1 .4-1.1-.2M40.9,49.8l1.1-.2 1.1-.3 1-.4 1-.5.8-.7.9-.6.8-.8.8-.7.8-.8.5-1 .5-1 .2-1M53.7,67.9l1.1-.1 1-.4.9-.7.3-1.1-.3-1-.8-.8-1-.4-1.1-.3-1.1-.3-1-.3-1-.5-.7-.8M31.1,61.2l1.1-.2.9-.6.7-.9.5-1 .4-1 .4-1 .1-1.1-.1-1.1-.4-1-.7-.9-.9-.6-1.1 0M38.7,42.1l-1-.4-1.1.2-.7.8-.3 1.1.3 1.1.6.9 1 .6 1 .2 1.1 0 1.1.1 1.1-.4.8-.7M39.3,44.6l.5 1 .9.6 1 .5 1 .4 1.1.1 1.1 0 1.1.2 1.1.2 1.1.1 1.1 0 1.1-.2 1.1 0M48.8,25.9l.7.9.5 1 .3 1.1-.2 1-.5 1-.7.8-.8.8-.9.6-1.1.2-1.1-.3-.9-.6-.4-1M25.9,53l-.9-.6-.9-.7-.8-.8-.8-.6-1-.5-1.1.1-1 .4-.9.7-.9.6-.9.6-1 .5-.9.6M64.6,60.4l0 1.1.1 1.1-.1 1.1-.4 1-.5 1-.4 1-.5 1-.4 1-.2 1.1M34.2,61.8l.9.7 1.1.1.9-.5.6-1-.1-1.1-.3-1-.7-.9-.9-.6-1.1.1-1 .3-.7.9-.1 1.1M36.9,47.9l-1-.4-1.1-.2-1 .4-.7.9 0 1.1.1 1.1.3 1 .8.8 1 .3 1.1 0 1.1-.4.9-.6M32.5,51.7l.9-.7.5-1 .1-1-.1-1.1-.5-1-.6-.9-.9-.7-1-.5-.9-.5-1.1-.3-1.1 0-1.1.1M48,47.2l-.4-1.1.1-1 .5-1 1-.5 1.1-.1 1.1.3.7.8.4 1-.2 1.1-.4 1-.3 1.1-.3 1.1M57.2,32.1l-.8-.8-.8-.8-.5-.9-.5-1-.3-1.1-.4-1-.3-1.1-.3-1 0-1.1.1-1.1.2-1.1 0-1.1M52,43.6l.7-.8.4-1.1-.2-1-.4-1-.9-.7-1-.3-1.1.4-.6.9-.1 1.1.5 1 .9.6 1 .6M24,37.4l-.9.7-.9.5-1 .6-1 .4-1.1.3-1 .4-1 .4-1 .4-1.1.3-1.1-.2M44.5,61.8l-1.1 0-1.1.2-1.1.1-1.1-.1-1.1-.4-.9-.6-.9-.5-1.1-.4-.8-.7-.7-.9-.1-1.1.6-.9M69.7,31.7l.6-1 .4-1-.3-1.1-.7-.8-1-.4-1.1.1-.9.7-.3 1.1.1 1.1.5 1 .6.9.5.9M39.2,47.5l1 .3.8.8.3 1.1.1 1.1-.4 1-.7.9-.6.9-.8.7-.7.9-.5 1-.6.9-.7.8M66.8,46.1l.6-1 .6-.9.7-.8.8-.8 1-.5 1-.4 1-.5 1-.4 1.1-.2 1.1 0 1.1-.1M52.8,41.3l1 .4 1.1.2 1.1.1 1 .2 1.1.4 1 .4.9.6.7.8.5 1 .7.9.7.9.7.8M41.9,30l-.4.9-.8.9-.7.8-.6.9-.7.9-.8.7-1 .6-1 .3-1.1-.3-.9-.6-.8-.8-.6-.9M50.1,53.6l-.6-.9-.6-.9-.6-.9-.9-.6-1.1-.2-1 .4-.6.9-.3 1 .2 1.1.3 1.1.2 1.1.3 1M46.1,44l0 1.1-.2 1.1-.6.9-.9.7-1 .4-1.1 0-.9-.7-.7-.8-.5-1-.2-1.1-.1-1.1-.4-1M44.2,42.1l-.6.9-.7.9-.4 1-.2 1.1-.2 1.1-.2 1.1-.4 1-.5 1-.7.8-1.1.3-1-.3-.7-.9M17.4,42.4l-.1-1.1-.5-1-1-.4-1.1.1-.8.8M17.8,37.5l.1 1.1-.3 1-.9.7-1.1.1-1-.5-.8-.7M63.4,47.3l-.3-1.1-.4-1-.9-.7-1-.5-1.1.1-.9.6-.4 1 0 1.1.6.9.8.8.9.7.8.7M49.4,25.9l.2-1.1-.1-1.1-.4-1-.7-.9-.9-.5-1.1-.2-1.1.4-.9.6-.6.9-.2 1.1-.2 1.1.1 1.1M20.8,30.9l-1-.5-.9-.6M55.9,21.3l.2-1.1.3-1.1M37.1,53.3l-.1 1.1-.2 1.1-.5.9-.7.9-.6.9-.2 1.1.2 1.1.7.8 1 .6 1 .2 1.1-.2.8-.7M51.1,35.7l-1 .2-1.1-.3-.8-.7-.6-.9-.4-1.1-.1-1.1.3-1 .6-.9 1-.6 1.1.1 1 .5.8.6M38.3,60.5l.1-1.1.4-1 .6-.9.9-.7 1.1-.4 1.1.1.9.5.7.9.2 1.1-.3 1-.8.8-1 .4M44.8,29.1l.1 1.1-.4 1-.8.8-1 .2-1.1-.3-.6-.9-.1-1.1.3-1.1.8-.8 1-.2 1.1.1 1 .6M49,44.6l1.1.2 1.1 0 1-.5 1-.5 1.1-.2 1.1 0 1.1 0 1.1 0 1-.4.9-.6.9-.6.9-.7M67.9,58l-.7-.9-.7-.8-.9-.7-1-.5-1.1-.1-1.1.2-.8.7-.3 1.1.3 1 .7.9.6.9.7.9M44,44l-.3 1.1.3 1.1.8.7 1.1.3 1.1-.2.9-.5 1-.6.6-.9.3-1-.4-1.1-.9-.6-1.1 0M54.4,62.1l1-.4 1-.4 1-.4 1.1-.2 1-.5 1.1-.3 1.1-.1 1 .5.7.7.5 1 .3 1.1-.1 1.1M30.9,35.5l.9.5 1 .4 1.1.4 1.1.2 1.1-.1 1.1.1 1 .2 1 .4 1 .5 1 .5.9.7.7.8M56,21.4l1.1.2 1 .5.9.5 1 .5 1 .5 1 .4.9.7.5.9.8.9.7.8.8.7 1 .4M32.9,63l.3-1 .3-1.1.5-1 .6-.9.9-.7.8-.7.7-.9.2-1-.4-1.1-.6-.8-1-.5-1.1-.2M24.3,65.2l.5-1 .8-.7 1-.5 1.1 0 1.1.4.7.8 0 1.1-.1 1.1-.7.9-.7.8-.9.6-1.1.4M34.2,56l-.1-1.1-.4-1-.6-1-.8-.8-1-.5-1-.3-1.1-.2-1.1-.2-1.1-.1-.9-.6-.8-.8-.2-1.1M36.4,55.7l.4 1 .8.7 1.1.2 1-.3.8-.8.3-1.1.1-1.1.2-1.1.5-1 .8-.7 1.1-.1 1 .4M28,44l-1 .6-1.1.2-1.1-.2-1-.3-1.1-.2-1-.5-.6-.9-.2-1.1-.2-1.1-.1-1-.1-1.1 0-1.1M61.8,39.4l-.4-1.1-.7-.7-.9-.6-1-.7-1-.4-1-.2-1.1-.2-1.1-.2-1.1-.3-.9-.5-.9-.7-.6-.9M22.3,33.9l-.7.8-1 .5-1.1 0-.9-.7-.7-.8-.8-.7M28.8,30.2l-.7-.9-.5-1-.4-1-.6-.9-.8-.7-1-.4-1.1 0M42.7,46.5l.2-1 .2-1.1.2-1.1.3-1.1-.4-1-.9-.7-1.1 0-.9.5-.8.8-.1 1.1.4 1 .9.6M45.8,47.6l.9-.6.6-1 .2-1.1-.1-1-.4-1.1-.2-1-.6-1-.8-.8-1-.4-1.1.3-.7.8-.3 1.1M32.8,36.3l.9-.6.9-.6 1-.5 1.1-.1 1.1-.2 1.1-.1 1.1-.3 1.1-.1 1-.2 1.1-.4 1-.4 1.1-.2M64.8,29l-.8-.8-.4-1 0-1.1.6-.9 1-.4 1 .2.8.8.2 1.1-.5 1-.9.6-1.1-.1-.9-.7M22.1,61.8l1-.6 1-.4.8-.7.7-.9 0-1.1-.6-.9-.9-.7-1-.5-1.1 0-1 .3-1 .5-.9.6M34.3,43.7l-1.1.1-1-.4-1-.5-.7-.8-.4-1.1.2-1 .7-.9.9-.7 1-.3 1.1-.3 1 .4.9.7M33.6,59.1l-.9-.6-.9-.6-.8-.7-.9-.7-.9-.6-.9-.7-1-.3-1.1-.1-1.1-.1-1.1.1-1.1-.1-1.1.1M46.7,24.2l1.1.2 1 .5.5 1 .1 1.1-.4 1-.7.9-.9.5-1.1.2-1.1.3-1.1.2-1.1.2-1-.2M37.9,63.2l.7.8.6.9.4 1.1.1 1 .1 1.1-.1 1.1-.4 1.1-.8.8-.9.6-.9.6-.9.6-.9.6M41.7,50.7l-.8.8-.4 1.1-.3 1-.3 1.1-.4 1-.4 1-.3 1.1-.3 1 0 1.1.6 1 .9.6 1.1.2M40.2,60.5l.9-.6.9-.7.6-.9.2-1.1-.2-1.1-.7-.8-.9-.6-1-.4-1.1-.1-1.1.2-.9.6-.8.8M27.5,38.1l.7.8.7.9.7.9.8.7.9.7.7.8.7.9.6.8.9.7 1 .4 1.1.1 1.1-.1M35.1,28.7l-.2 1.1-.5 1-.5.9-.2 1.1-.4 1-.6 1-.5.9-.6 1-.6.9-.8.7-1.1.2-1-.4M64.6,37.6l.7-.8.6-.9.4-1 .1-1.1-.3-1.1-.6-.9-.9-.7-1-.4-1.1-.3-1.1 0-1-.3-1.1-.4M31.1,46.4l1.1.3 1.1-.2 1-.4 1-.5.9-.7.6-.8.4-1.1.3-1 .6-1 .4-1 .4-1 .4-1M51,37.9l-1.1-.1-1.1 0-1.1.1-1.1.1-1 .2-1.1.2-1.1-.1-1.1-.3-1-.4-.7-.9-.4-1 0-1.1M63.4,62.8l.5 1 .6.9.9.7 1 .3 1.1.3M49.1,66l.5 1 .7.8 1 .5 1.1-.3.7-.7.4-1.1-.2-1-.8-.8-1.1-.3-1 .4-.7.8-.1 1.1M32.4,41.1l.2-1.1-.5-1-.9-.5-1-.4-1.1-.3-1.1-.2-1.1.3-.9.4-.9.8-.5 1-.3 1-.3 1.1M34.8,35.4l-.9-.7-.9-.5-1.1-.1-1.1.1-.9.6-.6.9-.3 1.1-.1 1.1-.1 1.1.2 1 .8.8 1.1.2M34.3,46.4l-.2 1.1.3 1.1.8.7 1 .3 1.1 0 1.1-.3 1.1-.3 1-.1 1.1 0 1.1-.2 1.1-.2 1.1-.1"/>
<path id="p22_44" d="M7.1,41.8l-.7-.9-.9-.5-1.1-.1-1.1.3M10.7,49.1l.9.7.5 1M2.5,45.9l.3-1.1.5-1 .8-.7 1.1-.3 1.1.2 1 .4.9.6.6.9.2 1.1-.3 1.1M6.9,48.4l-1 .3-1.1-.1-.9-.7-.6-1-.4-1-.3-1-.2-1.1.1-1.1.6-1 .9-.5"/>
<clipPath id="k23"><rect x="583.3" y="481.0" width="86.8" height="86.4"/></clipPath>
<path id="p23_46" d="M36.4,13.9l.3-1.1-.3-1.1-.7-.8-1.1-.4-1.1 0-1 .4-.8.7-.4 1-.1 1.1-.1 1.1.2 1.1.6 1M40.2,48.5l-.9.6-.7.8-.6 1-.5 1-.1 1 .3 1.1.8.8M42.7,11.1l-.6 1-.3 1-.2 1.1-.1 1.1-.1 1.1-.4 1-.8.8-.8.7-.8.8-.8.7-1 .5-1 .4M60.2,43.5l-.2 1.1-.4 1-.7.9-.8.7-.9.6-1 .5-1 .3-1.1.2-1.1-.1-1.1-.1-1.1-.1-1.1-.2M53.7,11.7l1 .5 1.1.1 1.1 0 1.1.1 1.1-.1 1.1-.1 1.1-.1 1 .3 1.1.3 1.1.2M57.2,36.8l-.2 1-.8.9-1 .4-1.1-.1-1-.2-1.1-.3-1-.5-.6-1 .1-1.1.6-.9 1-.3 1.1-.1M53.6,20.3l-.5 1 0 1.1.5 1 .8.7.9.7.9.5 1 .5.9.6 1 .6 1 .4 1 .2 1.1-.4M23.3,25.2l1 .6.5.9 0 1.1-.7.9-.7.9-.9.5-1.1-.1-1-.6-.5-.9-.2-1.1-.1-1.1 0-1.1M45.5,25.3l1.1.2 1-.4.6-1 .4-1 .4-1 .3-1.1.3-1 .2-1.1.2-1.1.3-1 .5-1 .9-.6M32.5,17.4l-.3-1-.9-.7-1-.5-1-.3-1-.5-.8-.8-.6-.9-.3-1-.3-1.1M35.7,35.2l.9.7.3 1-.3 1.1-.7.8-1.1.3-1-.3-.9-.8-.5-.9-.4-1.1-.4-1 0-1.1.6-.9M29.3,18.3l-1.1-.1-1.1.2-1.1.2-1.1-.1-1-.5-.6-.9-.7-.9-.7-.8-.6-.9M39.3,26.6l.5 1 .7.9.7.8.7.9.8.7.9.6 1.1-.1 1-.5 1-.5 1-.5.9-.6.5-1M40.7,29.4l-1.1 0-1 .6-.5 1 .1 1.1.6.8 1.1.4 1.1-.2.8-.8.3-1-.1-1.1-.2-1.1-.4-1M38,35.5l.9.6.7.8.3 1.1.2 1.1.3 1 .1 1.1.5 1 .6.9.7.9.5 1 .1 1.1.1 1.1M35.9,18.4l1-.5.8-.7.8-.7.9-.7.7-.9.1-1-.5-1-.8-.7-1.1-.1-1.1.1-.9.7-.6.9M25.1,38.9l1.1-.4.9-.5.9-.7.7-.8.4-1-.2-1.1-.6-.9-1.1-.3-1.1 0-1.1.1-1.1-.1-1-.3M46.3,22.3l1-.4 1.1-.2 1.1-.1 1.1 0 1.1.1 1 .3 1 .5.9.6.5 1 .1 1.1-.3 1.1-.2 1M63.3,24l-.4 1.1-.7.8-1 .4-1.1-.2-.9-.6-.6-.9 0-1.1.7-.9.9-.6 1.1-.1 1.1.2 1 .5M66.3,24.2l-.8-.7-.7-.9-.6-.9-.8-.7-.7-.9-.7-.9-.2-1 .4-1.1.9-.6 1.1-.1 1 .2.8.8M54.9,30.9l1-.3 1.1 0 1.1.1 1 .5.7.8.1 1.1-.6 1-.7.9-.7.7-1.1.5-1.1 0-1.1-.1M35.8,34.8l.9-.6 1-.4 1.1.1 1 .4.7.8.4 1.1 0 1.1.1 1.1.5 1 .7.8 1.1.4 1.1 0M54.9,19.1l-.7.9-1.1.3-1.1-.1-.9-.5-.5-1.1.1-1 .3-1.1.8-.8.7-.9.5-.9.3-1.1.2-1.1M65.4,43.3l.5 1 .7.8M42.7,14l-.9-.5-1.1.1-.8.8-.8.8-.6.9-.5.9-.2 1.1.3 1.1.7.8 1.1.3 1-.4.9-.7M49.1,19.3l-.8-.8-.6-.9 0-1.1.6-1 1-.4 1.1-.2 1.1-.1 1 .5.6.9.2 1.1.2 1.1.4 1M52.4,14.3l-1.1.1-1.1.4-.9.5-.9.7-.3 1 .1 1.1.6.9.9.7 1 .4 1 .5 1 .3 1.1.3M26.4,41.7l0-1.1-.3-1.1-.5-1-.8-.7-.9-.6-.6-.9-.3-1.1.3-1 .9-.7 1.1-.2 1 .4.8.7M41.1,7.1l1-.6 1.1.1.9.6.3 1.1.1 1.1.2 1 .4 1.1.7.8.9.6 1.1 0 1-.5.6-.9M27.5,47.3l.7-.8.6-.9.6-.9.7-.9.4-1 .4-1-.1-1.1-.3-1.1-.5-1-.7-.8-.7-.8-1.1-.3M53,11.4l-.8-.8-.4-1 .2-1.1.5-1 1-.5 1.1 0 .9.6.4 1-.1 1.1-.7.8-.8.8-.8.8M42.6,37.4l.9-.5.9-.6.6-.9.5-1 .4-1.1-.1-1.1-.2-1-.3-1.1-.3-1.1-.5-.9-.5-1-.6-1M33,34.6l-1-.4-.7-.8-.3-1-.1-1.1.3-1.1.3-1.1.2-1 0-1.1-.4-1.1-.4-1-.5-.9-.7-.9M41.9,46.7l-.9-.5-.7-.8-.2-1.1.2-1.1.8-.7.9-.8.8-.7.5-.9-.1-1.1-.6-.9-.9-.7-1-.3M21.5,32.2l1 .3 1.1.1 1.1-.2 1-.5.9-.7.8-.6.7-.9.2-1.1-.5-1-1-.6-1-.3-1.1-.1M26.4,41.9l1.1.3.9.7.5.9.1 1.1-.4 1.1-.4 1-.2 1.1.1 1.1.7.8 1.1.3 1-.3.9-.7M30.5,33.6l1-.4 1.1-.3 1 .3.9.7.3 1.1-.1 1.1-.6.9-.8.7-1 .5-1.1 0-1-.4-.7-.8M44.4,36.4l.8.9.8.7.9.7.6.8.4 1.1.1 1.1-.5 1-.8.7-.9.5-1 .6-.9.6-.6.9M46.4,20.6l.7-.9.5-.9.2-1.1.1-1.1-.5-1-.9-.6-1.1.1-1 .5-.4 1 .2 1.1.5 1 1 .4M55.2,48.2l-1.1.2-1.1 0-1.1-.4-1-.4-.9-.6-.7-.8-.4-1.1-.2-1-.3-1.1-.4-1-.6-.9-.8-.8M40.3,51.3l-.9-.6-.8-.7-.6-.9-.7-.9-.8-.8-.8-.7-.8-.7-.5-1-.1-1.1.2-1.1.7-.8 1-.4M51.3,44.2l0 1.1.2 1.1.4 1 .3 1.1.5 1 1 .5 1.1 0 1-.3.9-.6.5-1-.1-1.1-.6-.9M38.7,42.3l.3-1.1.5-.9.9-.8 1-.3 1.1.2.9.7.8.8.6.9.2 1.1 0 1.1-.4 1-.5 1M40.7,30.4l1.1.1 1 .6.6.8.8.8.9.7 1.1.1 1-.4.9-.5.6-1 0-1.1-.2-1-.3-1.1M59.7,30.1l.1 1.1.4 1.1.2 1-.3 1.1-.9.6-1 .5-1 .4-1.1.2-1.1.3-1 .3-1.1.3-.9.7M40.5,52.3l-.6.9-.6.9-.6 1M20.1,36.2l.7.8.6 1 .5.9.5 1 .2 1.1.6.9.7.9.6.9.4 1 .2 1.1-.4 1.1-.8.7M29.1,23.5l-.4 1.1-.4 1-.5 1 .1 1.1.1 1.1.2 1.1.5 1 .6.9.8.7 1.1.4 1.1.1 1-.1M42.6,51.2l1-.4 1.1.1.9.6.9.7 1 .5 1.1.2.9.5.8.8.7.9M50.9,38.5l-.7-.8-.2-1.1.1-1.1.5-.9.9-.6 1.1.1.9.6.7.9.2 1-.2 1.1-.5 1-.8.7M27.5,26.3l.3 1 .6 1 .5 1 .5.9.7.9.9.6 1 .5 1 .2 1.1-.2 1.1-.3.9-.5.7-.9M50.8,33.1l1.1-.3 1-.2 1.1.3.7.8.1 1.1-.6 1-.9.5-1.1 0-.9-.6-1.1-.4-1-.2-1.1-.2M34.3,19l-.1 1.1-.4 1-.2 1.1.3 1.1.8.7 1.1.3 1-.1 1-.6.5-.9-.2-1.1-.7-.8-.8-.8M47.2,34.7l-1-.5-.9-.7-.4-1 .1-1.1.7-.8 1.1-.3 1 .4.9.6.9.7 1 .5 1 .5 1.1.2M26.1,14.9l-.2-1-.6-1-.8-.7M57.3,28.6l-1 .4-1 .5-1.1.2-1.1.3-1 .3-1.1.4-.6.9-.1 1.1.2 1.1.5.9.5 1 .4 1M50.8,15.6l-.9-.6-.6-1 .1-1.1.6-.9 1.1-.3 1.1.2.9.6.4 1 .1 1.1-.2 1.1-.1 1.1 0 1.1M37.4,28.2l-.7.8-.8.8-.8.8-1 .5-1.1.2-1 .2-1.1.3-1.1.2-1.1 0-1 .3-.9.7-.5 1M50.1,36.3l.1-1.1.2-1.1.5-1 .4-1 .4-1 .6-.9.9-.8.9-.5.9-.7.4-1-.1-1.1-.8-.8M24.8,33.1l.2 1.1.1 1.1.2 1.1.6.9.8.7 1.1.2 1.1-.1 1-.5.8-.7.8-.7 1-.6.9-.5M54.6,34.6l-1-.4-1.1.2-.7.8-.6 1-.1 1.1.1 1.1 0 1.1 0 1.1-.3 1-.5 1-.6.9-.7.9M48.6,6.8l-1-.6-1-.2-1.1.2-1 .4-.9.6-.5 1 .3 1.1.7.8 1 .4 1.1-.3.7-.8.3-1M61.4,24.7l.7.9.1 1.1-.4 1-1 .6-1.1.2-1-.3-.9-.7-.5-1-.2-1.1.3-1 .8-.7 1.1-.2M32.3,19l-1.1.1-1 .5-.6.9-.6 1-.5 1-.6.9-.5 1-.4 1-.3 1-.2 1.1-.4 1.1-.5.9M44.7,46.5l-1.1-.2-1.1 0-1.1-.1-1.1-.1-1 .3-1 .5-.9.6-1 .4-1.1.3-1.1.2-1.1-.3-.9-.6M63.7,21.9l.1 1.1.3 1 .4 1 .6 1 .7.8 1 .5 1 .3 1.1-.1 1-.6.5-.9-.1-1.1-.7-.9M18.9,34.3l.3 1.1-.3 1-.9.7-1.1.1M47.5,37.6l-.3-1.1.3-1.1.7-.8.9-.5 1.1.1 1 .6.5 1 0 1.1-.5 1-.8.7-1.1.1-1-.5M26.7,31l-.4 1.1-.4 1 0 1.1.1 1.1.1 1.1.3 1 .8.8 1 .5 1.1-.1 1.1-.1 1-.4.9-.6M57.8,12.7l.2-1.1.3-1 .4-1 .4-1M41.5,38.8l-.1 1.1.4 1 .9.6 1 .4 1.1 0 1.1-.3 1-.4 1-.5 1.1-.2 1.1 0 1.1-.2 1.1 0M22.9,29.4l-1-.5-1.1.1-.9.6-.7.8-.6.9-.7.9-.7.9-.8.7M46.2,15.1l-.2 1.1.1 1.1.3 1 .3 1.1.1 1.1.3 1 .4 1.1.3 1 .4 1 .7.8 1 .6 1.1-.2M29.4,41.7l-.6-1-.2-1 .1-1.1.4-1 .6-.9.7-.9.4-1 .2-1.1-.2-1.1-.4-1-.8-.8-1-.4M46.9,18.9l-.8.8-.6.8-.6 1-.5 1-.8.7-1.1.1-1-.4-.7-.9-.1-1.1 0-1.1.2-1.1.3-1M67.4,31.5l-.8-.8-1-.4-1 .1-1 .5-.9.7-.5 1-.1 1 0 1.1.5 1 .8.8.9.6 1.1.1M40.7,33.1l-.5-.9-.7-.9-.3-1.1.1-1.1.2-1 .1-1.1-.2-1.1-.6-.9-.3-1.1 0-1.1.3-1 .5-1M36.3,27.5l-.8.7-.9.8-.7.8-.9.7-.8.6-.9.7-.9.7-.9.6-1 .5-.8.7-.7.9-.2 1.1M60.4,27.9l.6-.9.7-.9 1-.5 1.1-.1 1 .4.6.9.1 1.1-.5 1-.8.7-.9.7-.8.6-.5 1.1M61.9,45.1l.3 1.1 0 1.1-.6.9-.5 1-.3 1M42.5,26.2l.6-.9.2-1.1 0-1.1-.3-1.1-.7-.8-.8-.7-1.1-.2-1.1 0-1.1.2-1 .5-.8.8-.5 1M29.4,45.3l.3-1 .1-1.1 0-1.1-.3-1.1-.2-1.1.1-1.1-.1-1.1-.4-1-.9-.6-1-.4-1.1-.1-1.1 0M53,19.7l-.6 1-.3 1.1 0 1.1.5 1 .8.7.8.8.3 1 .1 1.1-.3 1.1-.6.9-1 .5-1.1-.2M50,9.8l-.2-1.1-.6-.9-1-.5-1.1.1-1.1 0-1.1.2-1 .6-.7.7-.5 1-.2 1.1.2 1.1.8.8M30.5,20.6l1.1 0 1-.5.8-.8.6-.9.4-1 .2-1.1 0-1.1-.2-1.1-.6-.9-.8-.7-.9-.7-1-.4M53.1,32.3l1-.3 1-.4.8-.8.4-1 .4-1 .4-1.1.1-1.1 0-1.1-.4-1-.7-.8-.9-.7-1.1-.3M41.4,23.9l1.1.1.9.6.6 1 .2 1-.1 1.1-.5 1-.4 1.1-.4 1 .3 1.1.8.7 1.1.1 1-.5M44.9,32l-.7-.8-1.1-.3-1.1-.1-1.1.3-.9.6-.6.9-.2 1.1.3 1 .4 1 .7.9.9.6 1.1.2M66.6,32.9l-.7-.9-1.1-.3-1 .3-1 .6-.8.7-.8.7-.8.8-.6.9-.3 1.1 0 1.1.3 1.1.5.9M39.1,30.6l.3 1.1.6.9.5 1 .4 1 .4 1 .3 1.1.2 1.1.3 1 .6 1 .8.6 1.1.4 1.1.2M31.8,45.8l-1.1-.1-1 .3-.9.7-.3 1 .1 1.1.6 1 .9.6 1.1.2 1-.2 1.1-.3 1.1-.3 1-.2M53.8,47.8l.6-.9.9-.6 1.1-.2 1.1.1 1 .4 1 .4.9.7.4 1 .1 1.1M29.7,33.3l.4 1-.2 1.1-.7.7-1.1.3-1.1-.4-.9-.5-.9-.7-.7-.9-.6-.9-.4-1-.5-1-.5-.9M43.8,32.3l.2 1.1 0 1.1-.2 1.1-.1 1.1-.2 1.1-.4 1-.6 1-.6.8-.9.7-1 .5-1.1-.1-1.1-.1M23.1,23.9l-1.1-.1-1 .5-.5.9-.2 1.1.4 1.1.6.9.9.6 1 .3 1.1-.1.9-.6.4-1-.2-1.1M37.1,7l-.7.9 0 1.1.6.9 1 .4 1.1-.1.8-.7.3-1.1 0-1.1-.3-1.1-.7-.8-1-.4M43.5,17.8l-.3-1.1-.4-1-.7-.8-1-.5-1.1-.3-1.1-.2-1.1 0-1-.4-.7-.8-.4-1 .1-1.1.7-.9M29,39.3l-1.1.3-1.1-.1-1-.4-.9-.7-.7-.8-.6-.9-.8-.7-.9-.7-.9-.6-.7-.9-.7-.8-.8-.8M44.3,12.3l-.6-.9-1-.5-1.1-.3-1.1 0-1 .3-.9.7-.3 1 .3 1.1.8.7 1.1.2 1-.4.9-.7M69.2,34l0-1.1-.1-1.1-.6-1-.9-.6-1.1-.1-1.1.1-1-.2-1.1-.3-.9-.6-.8-.8-.9-.7-1.1-.2M52,32.9l-1.1-.1-.9-.5-.8-.8-.1-1.1.5-1 .7-.9.7-.8.6-.9.7-.8.6-1 .6-.9.5-1M60.8,19.2l-.1-1.1-.7-.8-1-.5-1.1 0-1.1.1-1.1.1-1-.3-.9-.7-.4-1.1.3-1 .8-.8 1.1-.2M29.8,43.5l1.1.2.9.7.4 1 .2 1.1 0 1.1 0 1.1-.1 1.1-.3 1.1-.7.9-.9.6M48.7,50.4l1-.4.9-.6.8-.8.8-.7 1-.4 1.1.4.9.6.7.9.4 1 .3 1 .3 1.1M31,45.9l.9-.6 1.1-.2 1.1-.1 1.1 0 1.1.1 1.1-.1 1.1-.1 1-.3.9-.7.4-1-.3-1.1-.4-1M48.5,29.4l-1 .3-.9.7-.7.8-.8.8-.5 1-.3 1-.3 1.1-.4 1-.4 1-.6 1-.8.8-.9.6M51.6,23l.2 1 .2 1.1 0 1.1 0 1.1-.2 1.1-.3 1-.7.9-.8.8-.7.8-.7.9-.5.9-.3 1.1M44.3,26.2l-.9.6-.9.7-.7.8-1 .5-1 .2-1.1-.3-.7-.9-.2-1 .1-1.1.4-1 1-.6.8-.7M47.1,29l.8-.7.8-.8.5-.9 0-1.1-.6-.9-1.1-.4-1 .2-.8.8-.2 1.1.5 1 .9.6 1.1.3M54.5,31.5l-.3-1 .1-1.1.3-1.1.4-1 .5-1 .6-.9.8-.7 1.1-.4 1-.3 1.1-.4 1-.3 1.1-.2M58.6,31.9l.9.6 1.1-.1.9-.6.7-.9-.1-1.1-.6-.9-1-.4-1.1-.2-1.1.1-1.1.4-1 .3-.9.7M47.6,13.6l-.5 1-.6.9-.7.8-.9.6-1.1.4-1.1 0-1-.2-.9-.6-.7-.9-.5-1-.6-.9-.9-.7"/>
<path id="p23_47" d="M51,42.1l-.3 1-.4 1-.7.9-.7.9-.9.6-.9.6-1.1.4-1 .2-1.1.1-1.1.2-1.1.3-1 .3-1 .6-.8.7-.7.9-.5 1M28.1,63.8l.4 1 .6 1 .6.9.7.8.7.9.6.9.6.9.6.9.5 1 .4 1 .2 1.1.1 1.1-.2 1.1-.3 1-.5 1-.6.9M31.9,43.2l-.4 1.1-.3 1 .1 1.1.3 1.1.6.9.9.6 1.1.3 1.1 0 1-.3 1-.5.9-.7.8-.7.7-.9.7-.8.6-.9.8-.8M28.7,64.9l.4-1 .6-1 .6-.9.7-.9.7-.8.8-.7 1-.5 1-.5 1-.4 1.1-.2 1-.3 1.1-.5.9-.6.9-.6.8-.8.8-.7M53.1,57l.8-.8.8-.7.8-.7.7-.9.8-.8M45.3,70.9l1-.6 1-.5 1-.3 1.1-.2 1.1 0 1 .3 1 .6.7.8.6.9.4 1 .4 1.1M40.1,36.6l-.2-1-.1-1.1.1-1.1 0-1.1M25.1,54l.1-1.1.2-1.1.3-1 .3-1.1.4-1 .5-1 .5-1 .7-.9.7-.8.9-.6 1.1-.3 1.1.1 1.1.3.9.6.7.8.4 1M27.3,75.3l-.2-1-.1-1.1 0-1.1.3-1.1.4-1 .5-1 .7-.8.8-.7 1-.5 1.1-.3 1.1 0 1.1.1 1 .4 1 .4 1 .5 1 .5M35.5,75.8l0-1.1.3-1.1.2-1.1.2-1.1.2-1 .1-1.1 0-1.1-.3-1.1-.4-1-.6-.9-.7-.9-.8-.7-.9-.7-1-.5-1.1-.3-1-.2M32.3,68.5l.4-1 .5-1 .6-.9.7-.9.9-.6 1-.5 1-.4 1-.4 1-.4 1-.6.8-.7.8-.8.6-.9.6-.9.5-1 .5-1M36.3,79.8l.4 1 .4 1 .3 1.1.2 1.1.2 1 .1 1.1 0 1.1M38,66.7l.3 1 .4 1.1.4 1 .6.9.8.8.9.6 1 .4 1.1.1 1.1-.2 1-.5.8-.7.6-1 .4-1 .4-1 .5-1 .6-1M36.9,42.2l.1-1 .1-1.1.1-1.1.2-1.1.3-1.1.3-1 .5-1 .6-1 .7-.8.9-.7M48.7,67.7l.3-1.1.4-1 .5-1 .6-.9.7-.8.9-.7.9-.7.9-.5 1-.5 1-.5 1-.4M36.7,73.9l0-1.1 0-1.1-.2-1-.4-1.1-.4-1-.6-.9-.7-.9-.8-.7-.9-.6-1-.6-1-.4-1.1-.2-1.1 0-1.1.1-1.1.3-1.1 0M41.7,36.7l.3 1.1.2 1.1.1 1.1.1 1.1 0 1.1 0 1.1.1 1.1.1 1 .2 1.1.1 1.1.1 1.1 0 1.1 0 1.1.2 1.1.2 1.1.3 1.1M40.1,83.7l.3 1 .6.9.7.9.8.7M50.8,79.2l-.4 1-.1 1.1.1 1.1M41.7,65.9l-.4-1-.5-1-.4-1-.5-1-.6-.9-.8-.8-.8-.7-.9-.6-1-.6-.8-.6-.8-.8-.7-.9-.4-1-.2-1.1 0-1.1.1-1.1M47.8,73.7l-.1 1.1-.4 1.1-.5.9-.7.9-.8.7-1 .5-1.1.3-1.1 0-1-.4-.8-.7-.6-.9-.2-1.1.3-1.1.6-.9.8-.7 1-.4M42,84.4l-.4 1-.3 1.1-.4 1M44.1,81.1l-.5 1-.6.9-.6 1-.6.8-.7.9-.7.9-.7.8M52.7,49.7l.1-1 .3-1.1.3-1.1.4-1 .6-.9M34.2,49.5l-.3-1-.2-1.1-.3-1.1-.4-1-.4-1-.1-1.1 0-1.1 0-1.1.1-1.1.1-1.1-.1-1.1-.2-1.1-.3-1M28.6,60.9l0 1.1-.1 1.1-.2 1.1-.3 1.1-.4 1-.4 1-.5 1-.6.9-.7.9-.8.8-.8.7M30.4,79.3l-.8.7-1 .5M43.6,36.3l.4-1 .3-1 .3-1.1M42.8,39.3l.1 1.1.3 1.1.3 1 .4 1.1.5 1 .3 1 .4 1.1.3 1 .2 1.1.3 1.1.4 1 .5.9.6 1 .7.8.8.8.8.7M34.4,78.7l.8.8.9.6 1 .5 1 .5 1 .4 1 .3 1.1.4 1 .3 1.1.2 1.1-.1 1.1-.2 1.1-.1 1.1 0 1.1.1 1.1.3M30.3,62.7l-.4 1-.5 1-.6 1-.5.9-.6.9-.7.9-.6.9-.8.8-.9.6-.9.6M31.6,45.8l-.4-1-.4-1.1-.5-1-.4-1-.3-1-.5-1-.6-1M36.3,61.6l0-1.1-.2-1.1-.4-1-.4-1-.4-1-.5-1-.4-1-.4-1.1-.2-1.1-.3-1-.1-1.1-.2-1.1-.2-1.1-.3-1-.2-1.1 0-1.1M26.8,49.6l-.4 1-.7.9-.7.8-.7.8-.8.8M27.7,66.5l.4-1 .4-1 .4-1 .5-1 .6-1 .6-.9.7-.9.6-.8.7-.9.7-.9.6-.8.6-1 .7-.8.7-.9.7-.8 1-.6M40.3,58.3l.3-1.1.2-1.1.1-1 .2-1.1 0-1.1 0-1.1 0-1.1-.1-1.1-.1-1.1-.5-1-.5-1-.7-.9-.7-.8-.9-.7-.9-.6-.9-.6M32.4,76.4l.4-1 .1-1.1-.2-1.1-.4-1-.5-1-.6-.9-.7-.8-.8-.8-.9-.7-.9-.6-.9-.6-1-.5-1-.3-1.1-.1-1.1.1M28.5,50.5l-.4 1-.4 1.1-.3 1-.2 1.1-.1 1.1-.1 1.1-.2 1.1-.1 1.1 0 1.1-.2 1.1-.2 1-.2 1.1-.1 1.1-.1 1.1-.2 1.1-.2 1.1M41.5,34.3l-.4-1-.4-1.1M36.1,59.5l-.2 1.1-.2 1.1 0 1.1.2 1 .6 1 .6.9.9.7.9.5 1.1.4 1 .3 1.1.2 1.1.3 1 .3 1.1.1 1.1.1 1.1-.2M24.6,67l.4-1 .4-1 .6-.9.8-.9.7-.7.8-.8.9-.7.9-.7.9-.5 1.1-.4 1-.2 1.1-.1 1.1-.1 1.1.2 1.1.3.9.5M51.5,54.3l.1 1.1.2 1.1.5 1 .6.9.7.8.8.7 1 .6 1.1.2 1.1 0M45.1,70.2l.4 1.1.4 1 .6.9.7.9.8.7.9.6 1.1.3 1.1.1 1.1-.2.9-.5.9-.7.8-.8M39.7,52.1l-.5.9-.7.9-.8.7-.8.8-.9.7-.9.5-1 .5-1 .5-1 .3-1.1.4-1 .3-1.1.3-1 .3-1.1.2-1.1.1-1.1 0M32.3,39.2l.9.7.8.7.9.7 1 .5.9.6 1 .5 1 .4 1 .5 1 .5 1 .3 1.1.4.9.6.9.6 1 .5 1 .3 1.1.2M24.9,53.7l0-1.1-.1-1.1-.5-1-.6-.9M29.1,63.2l-.1-1.1.1-1.1.1-1.1.3-1 .2-1.1.2-1.1.1-1.1.1-1.1 0-1.1-.1-1.1-.2-1.1-.3-1-.4-1.1-.4-1-.4-1-.4-1M35,71.3l0-1.1 0-1.1.1-1.1.1-1.1.2-1.1-.1-1.1-.2-1-.5-1-.8-.8-1-.5-1-.4-1.1.1-1.1.2-1.1.3-1.1.2-1 .2"/>
<clipPath id="k24"><rect x="672.1" y="481.0" width="86.9" height="86.4"/></clipPath>
<path id="p24_49" d="M36.8,2.4l-.7-.8-1.1-.4-1 .1-1 .6-.4 1-.1 1.1.4 1.1.5.9.6 1 .5.9.3 1.1.2 1.1 0 1.1 0 1.1 0 1.1.1 1.1M23.7,9.8l-.9-.5-1.1-.2-1.1-.1-1.1.2-1 .5M45.2,10.1l.3 1 .6.9.8.8.9.6 1.1.1 1.1-.2M40.7,9.3l-.3 1-.4 1-.8.9-.7.7-.8.8-1 .6-1 .5-.9.5-1 .5-1.1.3-1.1 0-1.1-.2-1-.4-.8-.7-.7-.9-.5-1M36.3,18.7l-.9-.7-.8-.6-1-.6-1-.3-1.1-.1-1.1-.1-1.1-.1-1.1-.1-1.1 0-1.1 0-1.1.2-1.1.3-1 .3-1 .4-1 .6M39.6,20.5l-.2-1-.2-1.1 0-1.1 0-1.1-.1-1.1 0-1.1 0-1.1.2-1.1.4-1.1.5-.9.6-.9.9-.7 1-.5 1-.4 1.1-.2 1.1-.1M21.1,14.2l-.2-1.1 0-1.1.4-1.1.6-.8.9-.8.9-.6 1-.3 1.1-.1 1.1.1 1 .4 1 .6.8.8.5.9.1 1.1-.1 1.1-.4 1M24.3,15.8l-.3-1.1-.1-1.1-.2-1.1-.1-1.1.1-1.1.2-1 .6-1 .8-.8.8-.6 1-.5 1-.4 1.1-.4 1-.2 1.1.1 1 .4.8.8M30.3,10.8l.7.9.9.6 1 .4 1.1 0 1-.5.8-.8.5-1 .3-1 .1-1.1-.2-1.1-.3-1.1-.7-.9-.8-.7-1-.5-1.1-.1-1 .3M31,14.6l-.7-.9-.9-.6-1-.4-1.1-.2-1.1.3-.9.6-.7.8-.3 1.1-.1 1.1.4 1 .6.9.7.9.9.6.9.6 1 .6 1 .4M25.8,23.5l.4 1.1.4 1 .6.9.7.8.8.9.7.7.9.7.9.6 1 .6.9.6.9.6.9.6.9.6.8.8.5 1 .4 1M37.5,14.6l.8.8 1 .5 1.1 0 1-.2.9-.7.6-.9.1-1.1-.1-1.1-.4-1-.5-1-.4-1-.3-1.1-.1-1.1 0-1.1.2-1 .4-1M28.3,24.3l.6.9.7.9.7.8.8.8.7.8.7.9.7.8.5 1 .4 1 0 1.1-.3 1.1-.4 1M42.8,29.1l.5.9.6 1 .5 1 .2 1 .1 1.1.1 1.1-.1 1.1-.1 1.1-.1 1.1-.3 1.1M27.5,22.8l1 .5 1 .4 1 .4 1.1.4 1.1.2 1.1-.1 1-.2 1.1-.4 1-.4 1-.4 1-.4 1-.5.9-.6 1-.6.8-.8.5-.9M35.3,11.5l.4 1 .7.9.8.7 1.1.4 1 .1 1.1 0 1.1-.3 1-.5 1-.5 1-.4 1-.4 1.1-.4.9-.5.9-.6M46,23.9l.2 1.1.6.9.9.6 1.1.3 1.1-.1 1.1-.2 1-.4 1-.4M48.3,30.1l-.8-.8-.9-.6-.8-.7-.7-.9-.6-.9-.4-1-.4-1.1-.2-1-.1-1.1.2-1.1.6-1 .9-.6 1-.5 1-.4 1.1-.2 1.1.2M27,10.6l.6 1 .4 1 .4 1 .2 1.1.4 1 .5 1 .5 1 .6.9.5 1 .5.9.6 1 .6.9.8.8.7.8.9.7 1 .4M34.7,9.4l-.6-.9-.7-.8-.9-.7-.9-.6-.9-.7-.7-.8-.6-.9-.4-1-.2-1.1 0-1.1.2-1.1.3-1 .6-1 .7-.8M42.4,12.6l-.4-1.1-.3-1-.1-1.1.1-1.1.3-1.1.6-1 .7-.8.7-.8M32.4,25.9l.7.8.8.8.7.8.7.9.5 1 .5 1 .5.9.5 1 .5 1 .5 1 .4 1 .4 1 .2 1.1-.1 1.1M26.7,20.2l.9.7 1 .5 1 .4 1 .3 1.1.2 1.1.1 1.1-.2 1-.5.8-.7.7-.8.2-1.1-.4-1-.9-.6-1.1-.2-1.1.3-.7.9M36,20.9l-.2-1.1-.1-1-.4-1.1-.5-.9-.7-.9-.8-.8-.7-.8-.8-.8-.8-.7-.9-.7-.9-.6-.9-.5-1.1-.3-1.1-.2-1.1-.3-1-.2M25.2,10.8l-.7-.9-.7-.8-.7-.9-.7-.8-.8-.8-.7-.8-.7-.9-.8-.8M36,17.9l-.7-.8-.8-.7-1-.6-1-.4-1.1-.3-1-.3-1-.5-.9-.7-.8-.7-.7-.8-.7-.9-.4-1-.1-1.1.4-1.1.7-.8.9-.5M50.5,22.8l.6.9.4 1 .2 1.1.1 1.1-.1 1.1-.3 1.1-.4 1-.4 1-.4 1-.6 1-.7.9-.7.8-.8.7-1 .6-1 .4-1 .4M23.8,16.1l.6.9.4 1 .3 1.1 0 1.1-.1 1.1 0 1.1 0 1.1.2 1.1.1 1.1.3 1 .2 1.1M28.2,5.3l-.7-.9-.7-.8-.8-.8-.9-.6-1-.4-1.1-.1-1.1.1-1 .4-.9.7M29.5,3.9l-.5-1-.3-1 .1-1.1.4-1 .8-.8 1-.4 1.1-.3 1.1 0 1.1.2 1 .3 1 .4 1.1.4M30.5,2.7l0 1.1-.2 1.1-.2 1-.4 1.1-.3 1-.4 1.1-.1 1.1.1 1.1.3 1 .4 1.1.6.9.7.8.9.6 1 .4 1.1.2 1.1.1M33.6,23.7l.8.8.5 1 .2 1-.1 1.1-.4 1-.7.9-.9.7-.9.5-1 .5-1 .5-1 .4M36.8,21.2l-.7-.8-.7-.9-.9-.6-.9-.6-1-.5-1-.5-1-.5-1-.5-.9-.6-.8-.7-.9-.7-.9-.6-1-.5-1-.5-1-.4-1.1-.2M23.2,9l.1-1.1.6-.9.9-.6 1.1-.4 1.1 0 1 .2 1 .4.9.7.6.9.5 1 .3 1.1.1 1.1-.1 1.1-.3 1.1-.3 1-.3 1.1M23.9,10.7l-.2-1.1-.3-1.1-.6-.9-.8-.8-.9-.7-.9-.6-1-.5M47.3,20.6l-.7-.9-.8-.8-.9-.6-1-.5-1.1-.3-1-.1-1.1.2-1 .6-.6.9-.2 1.1 0 1.1.2 1.1.2 1 .2 1.1.3 1.1.3 1M49.6,27.5l-.6-.9-.2-1.1 0-1.1.5-1 .6-.9.7-.8.9-.7.9-.7M38.5,8.6l.4 1.1.1 1.1-.2 1-.4 1.1-.7.8-1 .5-1 .2-1.1-.2-.9-.7-.5-1-.1-1.1.4-1 .7-.9.7-.8.8-.8.7-.8M38.2,20.7l-.9-.6-.9-.6-.9-.6-.9-.7-.8-.8-.7-.8-.8-.8-.7-.8-.6-1-.5-.9-.4-1.1-.3-1-.5-1-.5-1-.5-1-.6-.9M25.6,3.7l-.1-1.1-.6-.9-1-.6-1.1 0-.9.6-.4 1 .1 1.1.7.9.9.5 1.1-.1 1-.6.6-.9.4-1.1.1-1 0-1.1-.2-1.1M30.9,-.7l-.1-1.1-.1-1.1-.4-1M26.3,26.3l.4 1 .5 1 .6 1 .6.9.4 1 .5 1M45.1,31.2l-.1-1.1.1-1 .2-1.1.2-1.1.3-1.1.3-1 .4-1.1.6-.9.9-.6 1-.5 1.1-.2 1.1-.2 1-.2M41.9,21.3l-.5-1-.7-.8-.8-.8-1-.6-1-.4-1.1 0-1.1.3-1 .4-.9.6-.7.9-.4 1-.1 1.1.1 1.1.4 1 .6.9.9.8M39.8,18.1l-.1 1.1-.5.9-.8.7-1 .6-1 .3-1.1.3-1.1 0-1.1-.1-1-.3-1.1-.5-1-.4-1-.3-1.1-.2-1.1-.2-1.1-.2-1.1 0M43.5,37.7l-.9-.5-.9-.6-1-.6-.8-.7-.9-.7-.9-.6-1-.5-.9-.5-1-.6-.8-.7-.8-.8-.7-.8-.7-.8-.8-.9-.7-.8-.6-.9M37.4,4.5l.9.6 1.1.3 1.1-.1 1-.4.8-.8.3-1M30.8,10.2l.2-1.1.4-1 .7-.9.9-.6 1-.4 1.1.1 1.1.3 1 .4 1 .6.9.6.9.6 1 .5 1 .3 1.1.3 1.1.3 1 .2"/>
<path id="p24_50" d="M74.6,77.6l-.6-.9-.6-1-.6-.9-.6-.9-.6-.9-.5-1-.4-1-.1-1.1.2-1.1.1-1.1.1-1.1.1-1.1.1-1.1.3-1 .5-1 .6-1M45.1,24.4l.1-1.1.1-1.1.1-1.1 0-1.1-.1-1.1-.2-1.1-.3-1-.4-1.1-.3-1-.4-1.1-.4-1M43,23.1l-.5-1-.4-1-.4-1-.3-1.1-.2-1.1-.2-1 0-1.1.5-1 .9-.7 1-.3 1.1.1 1 .5.8.8.5 1 .3 1 0 1.1M69.4,70.6l.7.8.9.7 1 .5 1 .1 1.1-.4.7-.8.3-1.1-.3-1-.7-.9-1-.5-1.1-.3-1.1.2-.8.7-.8.8-.6.9-.3 1M50.5,47.2l.4 1 .4 1 .4 1.1.3 1 .4 1 .5 1 .6.9.9.7.9.5 1.1.4 1.1.2 1.1 0 1.1-.1 1-.2 1-.4 1-.5M60.9,44.5l.6.9.8.8.8.7.9.7.7.8.7.8.7.9.5 1 .4 1 .6.9.8.8.9.6 1 .6 1 .5 1 .4 1 .2M76.7,67.7l.7.8.7.9.7.8.6 1 .5.9M50.8,44.5l.4-1 .7-.9.9-.6 1.1-.3 1.1 0 1.1.2 1 .5 1 .5.9.6.8.7.9.7.9.6.9.6 1 .6.9.5 1 .5M36.7,39.2l-.3-1-.1-1.1-.1-1.1-.1-1.1-.1-1.1-.2-1.1-.4-1-.4-1-.5-1-.7-.9-.8-.7-.8-.8-.8-.7-.9-.6-.9-.7-.9-.6M65.7,63.1l-1-.4-1.1-.4-1-.2-1.1-.2-1.1-.3-1-.4-1-.5-.9-.7-.7-.7-.7-.9-.7-.9-.8-.7-.9-.7-1-.3-1.1-.2-1.1.2M44.7,20.8l-.6-.9-.6-.9-.4-1-.5-1-.4-1.1-.3-1 0-1.1.2-1.1M49,68.7l-1.1-.3-1.1-.2-1.1-.1-1.1 0-1 .3-1.1.2-1 .4-1 .5-1 .5-1 .5-1 .5-.9.5-1 .5-1 .5M51.8,80.3l.7.9.7.8.8.7.9.7.7.8.7.8.7.9.7.9M34.4,30.2l.5 1 .5.9.7.9.6 1 .4 1 .4 1 .2 1.1-.1 1.1-.3 1-.5 1-.7.8-.8.7-1 .6-1 .5-1 .4-1 .5M57.9,47.9l-.8-.8-.9-.5-1-.5-1-.4-1.1-.4-1.1-.3-1-.2-1.1-.3-1.1-.1-1.1.1-1.1.2-.9.6-.7.8-.5 1-.2 1.1.1 1.1M67.4,34.5l0-1.1.1-1.1.3-1 .4-1 .7-.9.8-.7M48.7,49.2l-.2-1.1-.3-1.1-.3-1-.2-1.1-.2-1.1-.2-1.1-.2-1.1 0-1.1.1-1 .3-1.1.4-1 .6-1 .7-.8.9-.6.9-.6 1-.6M52.6,63.8l-.9-.6-.9-.7-.9-.5-.9-.6-.9-.7-.9-.7-.7-.8-.4-1-.1-1.1.1-1.1.5-1.1.5-.9.7-.8.7-.9.4-1.1.3-1M48.4,56.6l-.8-.7-.9-.7-.9-.5-1.1-.3-1.1-.2-1.1 0-1 .3-1.1.5-.9.6-.7.8-.5 1-.1 1.1.2 1 .5 1 .8.8.8.6M30.6,53.5l.8.8.8.7.7.9.7.8.7.9.8.7 1 .5 1 .4 1.1.3 1 .4 1 .5.9.6.9.7.8.6.9.8.8.7M49.2,51.4l-.6-.9-.5-1-.3-1.1-.1-1.1.3-1 .8-.8.9-.5 1.1-.1 1.1.4.9.6.6.9.4 1 .2 1.1.1 1.1 0 1.1.3 1.1M27.1,37l-.3-1.1-.3-1.1-.4-1-.3-1.1-.1-1 0-1.1.1-1.1.3-1.1.4-1 .5-1 .8-.8 1-.3 1.1-.1 1.1.2 1 .5.9.6M37.5,41.5l-.6-.9-.8-.8-.9-.6-.9-.6-1-.5-1-.4-1-.6-.9-.6-.8-.8-.7-.8-.6-.9-.4-1-.3-1.1-.1-1.1.1-1.1.1-1.1M68.3,67.5l1 .4 1.1.2 1.1 0 1.1-.2 1-.4 1-.5 1-.4 1-.3 1.1.1 1 .5.7.8.3 1.1-.1 1.1-.3 1-.6 1-.7.8M48.2,68.8l-.7-.8-.7-.9-.6-.9-.5-1-.6-.9-.5-1-.5-1-.5-.9-.6-1-.8-.7-1-.5-1.1-.3-1.1.2-1 .3-1 .4-.9.7M69.5,46.5l-.4-1.1-.5-.9-.8-.8-.9-.5-1-.5-1-.6-1-.5-1-.4-.9-.5-1-.6-.8-.7-.7-.8-.5-1-.2-1.1.1-1.1.2-1.1M61.2,82.2l.2 1 0 1.1.2 1.1.2 1.1.6 1M74.8,55.3l.5 1 .6.9.7.9.7.8.6 1 .7.8.9.6 1 .4 1.1.1M67.4,38.6l-.9-.5-1-.6-1-.3-1.1-.3-1.1-.2-1.1 0-1 .2-1.1.3-1 .4-1 .5-1 .4-1 .6-.9.6-1 .5-.9.5-1 .6M59,33.2l-.3-1.1-.4-1-.7-.9-.7-.8-.9-.7-1-.4-1.1-.3-1.1 0-1.1.2-.9.6-.7.9-.5.9-.5 1-.5 1-.5 1-.7.8M66.9,58.9l0-1.1 0-1.1-.1-1.1-.1-1.1 0-1.1.1-1.1.2-1.1.2-1.1.3-1 .4-1.1.4-1 .4-1 .6-1 .5-.9.6-1 .4-1M47.9,47.6l-1-.5-1-.4-1-.5-1-.3-1.1-.2-1.1-.2-1.1-.2-1-.2-1.1-.2-1.1-.2-1.1-.1-1.1-.2-1.1-.3-.9-.5-.9-.6-.8-.8M36.5,53.8l-.2-1.1.1-1.1.4-1 .8-.8.9-.5 1.1-.1 1.1.2 1 .5.9.6.7.9.4 1 .2 1.1.3 1 .3 1.1.1 1.1.2 1.1M41.3,67.5l.5-.9.7-.9.8-.7.9-.6 1-.6 1-.4 1-.4 1-.5.8-.7.6-1 .3-1 .1-1.1-.1-1.1-.4-1-.7-.9-.8-.7M74.8,46l.3 1.1.2 1-.1 1.1-.4 1.1-.8.8-1 .4-1.1-.2-1-.5-.8-.7-.6-.9-.5-1-.2-1 .1-1.1.4-1.1.6-.9.6-.8M33,47.7l-.2-1.1.1-1.1.3-1 .4-1.1.4-1 .7-.8 1-.6 1.1-.2 1.1 0 1 .4.8.7.6.9.5 1 .5 1 .4 1 .2 1.1M64,80.7l1.1.2 1.1.1 1.1-.2 1.1-.2 1-.3 1.1-.3 1-.3 1.1-.3 1.1-.2 1-.3 1.1-.4 1-.4M37.1,53l.2-1.1.4-1.1.5-.9.6-1 .6-.9.7-.8.8-.7.9-.7 1-.5.9-.6 1-.4 1-.5 1.1-.2 1.1-.2 1.1-.1 1.1-.1M46.1,49.8l.4 1 .2 1.1 0 1.1-.1 1.1-.3 1-.4 1.1-.4 1-.6.9-.5 1-.4 1-.5 1-.3 1-.4 1.1-.4 1-.3 1.1-.2 1.1M53.4,39.1l-.4-1-.5-1-.6-1-.5-1-.4-.9-.5-1.1-.6-.9-.6-.9-.7-.8-.8-.8-.7-.8-.8-.8-.8-.8-.7-.8-.8-.8-.7-.8M31.6,25.8l-.7.8-1 .4-1.1 0-1-.5-.9-.6-.7-.8-.7-.9M46.1,58.6l-.9-.7-.7-.8-.8-.7-.8-.9-.6-.9-.4-1-.1-1.1 0-1.1.2-1.1.3-1 .3-1.1.4-1 .6-.9.8-.8.8-.8.8-.7M36.4,26.3l.2 1 .2 1.1 0 1.1-.1 1.1 0 1.1.1 1.1.3 1.1.4 1 .5 1 .7.8.8.7 1.1.5 1-.1 1.1-.2 1-.5.9-.7M48.9,52.2l-.8-.7-1.1-.4-1 .2-.9.7-.5 1-.1 1.1.3 1 .6.9.9.7.9.6.9.6.9.7.8.7.7.8.5 1 .2 1.1M40.8,61.8l-.5-1-.6-.9-.7-.8-1-.6-1-.2-1.1.1-1 .5-.7.8-.4 1-.1 1.1.3 1.1.3 1.1.4 1 .5 1 .5.9.8.9M55.3,77.7l.3 1 .7.9.9.6 1 .4 1.1-.1 1.1-.2 1.1-.3 1-.3 1.1-.1 1.1.1 1 .5.9.7.7.8.7.9.5.9.5 1M51.8,52.1l.5 1 .7.9.8.7.9.6.8.8.6.9.6 1 .5.9.4 1.1.3 1 .3 1.1.4 1 .6.9.7.9.8.7.8.8M68.1,79l-.3-1.1-.4-1-.4-1-.4-1.1-.3-1-.2-1.1.1-1.1.2-1.1.4-1 .5-1 .8-.8.9-.5 1.1-.3 1.1 0 1 .3 1 .6M42,40l.7.8.6 1 .4 1 .4 1 .4 1 .3 1.1.3 1 .4 1.1.5.9.6.9.7.9.7.9.8.7.7.9.7.8.6.9M69,60.9l0 1.1-.2 1.1-.3 1.1-.2 1-.2 1.1 0 1.1.4 1.1.6.9.8.7.9.6 1 .4 1.1.1 1.1-.3 1-.5.8-.7.7-.8M37.3,46.1l.4 1.1.2 1 .3 1.1.4 1 .6.9.8.8 1 .5 1 .4 1.1 0 1.1-.3.8-.8.5-.9.4-1 .3-1.1.1-1.1 0-1.1M52.4,54.8l.1-1.1-.1-1.1-.1-1.1 0-1.1.1-1.1.1-1.1-.3-1-.5-1-.6-.9-.8-.8-.7-.8-.7-.9-.6-.9-.4-1-.2-1.1-.1-1.1M38.5,47.7l.3 1.1.3 1.1.2 1 .1 1.1-.3 1.1-.8.8-.9.5-1.1.4-1 .4-1 .4-1 .5-.9.6-.9.6-.9.7-.9.6-.9.6M26.9,37.1l.7.9.9.5 1.1.3 1.1-.2 1-.4 1-.4.8-.8.8-.7.7-.8.7-.9.7-.9.6-.9.6-.9.6-.9.6-1 .4-1M55.8,52.5l-1-.6-1-.2-1.1-.2-1.1 0-1.1.1-1 .4-1 .6-.8.7-.7.8-.5 1-.2 1.1-.1 1.1.2 1.1.3 1 .4 1.1.5 1M68.9,56.5l-.6-.8-.9-.7-.9-.6-1.1-.4-1-.3-1.1-.3-1-.3-1.1-.3-1-.3-1.1-.3-1.1-.3-1-.4-1-.3-1.1-.4-1-.3-1.1-.2M61.1,49.3l-.2-1.1.2-1.1.4-1 .7-.9.8-.6 1.1-.4 1.1.1 1 .4.8.7.6.9.4 1.1.1 1.1.2 1.1.2 1 .1 1.1 0 1.1M57.2,63.2l.5 1 .8.7 1 .5 1.1.3 1.1 0 1.1 0 1.1 0 1.1.2 1 .2 1.1.2 1.1.3 1 .5.9.5.9.6 1 .6 1 .4M40.1,39.6l-.4-1-.6-1-.6-.9-.8-.7-1-.6-1-.3-1.1 0-1.1.3-.9.6-.7.8-.4 1-.2 1.1 0 1.1.1 1.1.2 1.1.2 1.1M63.1,49.6l.5.9.7.9.8.8.9.6 1 .5 1 .4 1.1.2 1.1.1 1-.2 1.1-.3 1.1-.3 1-.4 1-.5.9-.5 1-.6.7-.8M49.8,47l.3 1.1.3 1 .2 1.1.2 1.1.1 1.1 0 1.1.1 1.1.1 1.1.2 1.1.3 1 .5 1 .6 1 .6.8.7.9.5.9.6 1M41.9,17.7l.8.7 1 .6.9.5 1.1.3 1 .4 1.1.4 1 .3 1.1.3 1 .3 1.1.2 1.1.2 1.1.2 1 .2 1.1 0 1.1.1 1.1-.1M45.7,54l-.1 1.1-.1 1-.1 1.1.1 1.1.2 1.1.5 1 .5 1 .8.7.9.7 1 .3 1.1 0 1.1-.4.8-.7.7-.9.4-1 .4-1M31.3,30.7l-.5 1-.5.9-.6.9-.7.9-.8.8-.7.8-.6.9-.7.9-.8.8-.6.8-.6 1-.5 1-.5.9M64.6,44.5l.3 1 .2 1.1.3 1.1.4 1 .2 1.1 0 1.1-.2 1-.4 1-.7.9-.8.7-1 .5-1.1.3-1.1.1-1.1 0-1.1.1-1.1 0M45.8,47.5l-.4-1.1-.3-1-.2-1.1-.1-1.1-.1-1.1-.2-1.1-.2-1-.2-1.1-.2-1.1-.1-1.1.2-1.1.2-1.1.4-1 .5-1 .7-.8 1-.6M50.5,63.2l-.3-1-.5-1-.4-1.1-.5-1-.5-.9-.8-.8-.7-.8-.8-.8-.9-.6-.9-.6-1.1-.3-1.1-.1-1 .3-1.1.4-.9.6-.9.5M53.3,30.9l-.9-.5-1-.6-1-.5-.9-.5-.9-.6-.9-.7-.7-.9-.6-.9-.4-1-.1-1.1.3-1.1.4-1 .7-.9.7-.8.7-.8.9-.7M43.3,33.6l-.8-.8-1-.4-1.1 0-1 .5-.8.8-.5.9-.3 1.1-.1 1.1.1 1.1.2 1 .2 1.1.1 1.1-.1 1.1 0 1.1-.1 1.1 0 1.1M41.8,71.5l-.8-.8-.8-.8-.8-.7-.6-.9-.6-1-.4-1-.2-1.1-.1-1.1 0-1.1.1-1.1.2-1 .2-1.1.3-1.1.6-.9.7-.8 1-.6M67.2,65.3l-.7-.9-1-.4-1.1 0-1.1.3-.9.5-.8.8-.6.9-.3 1.1.1 1.1.2 1.1.2 1 .1 1.1.1 1.1-.1 1.1-.2 1.1-.4 1M39.5,25.3l-.2-1.1-.1-1.1 0-1.1.3-1.1.4-1 .5-1 .7-.8.9-.7 1.1-.2 1.1.1 1 .3.9.7.7.8.5 1 .3 1.1 0 1.1M49.5,30.3l.8.8.7.8.7.9.7.8.8.7.8.8.8.8.5.9.5 1 .5 1 .7.9.7.8.7.8.7.9.6.9.6.9M53.2,51.1l1 .4 1.1.3 1 .3 1.1.3 1.1.3 1 .4 1 .4 1 .4 1.1.3 1.1.2 1.1-.2.9-.5.8-.8.5-1 .3-1 0-1.1M54.5,80.3l-.7-.8-.7-.9-.7-.9-.7-.8-.7-.8-.6-.9-.5-1-.4-1.1-.5-.9-.8-.8-.9-.7-1-.4-1-.3-1.1-.1-1.1.1-1.1.1M54.2,45.3l-.2 1.1-.3 1.1-.3 1-.3 1.1-.2 1.1-.2 1-.3 1.1-.3 1.1.1 1.1.4 1 .6.9.9.6 1 .5 1.1.2 1.1.1 1.1 0M59.5,76.1l-1.1-.2-1.1 0-1 .1-1.1.2-1.1.3-1 .4-1 .4-1 .6-.8.7-.7.9-.5.9-.4 1.1-.2 1-.2 1.1M25.6,38.9l.6.9.6.9.5.9.7 1 .6.8.8.8.7.9.6.9.5 1 .3 1 0 1.1-.1 1.1 0 1.1.1 1.1.3 1.1.4 1M45.3,51l.1-1.1.5-.9.9-.7 1-.5 1-.3 1.1-.1 1.1.1 1 .4.9.7.7.8.5 1 .1 1.1-.1 1.1-.4 1-.5 1-.5.9M69.6,68.5l.2 1.1.2 1.1.1 1.1.2 1.1.1 1.1-.1 1.1-.1 1-.3 1.1-.3 1.1-.3 1-.1 1.1 0 1.1.3 1.1.4 1 .5.9M66.8,64.3l.2-1.1.4-1 .2-1.1.1-1.1-.2-1.1-.5-1-.6-.9-.7-.8-.9-.7-.7-.8-.8-.8-.8-.8-.7-.8-.6-.9-.7-.9-.7-.8M52.8,21.4l-.2 1-.6.9-.9.8-.9.4-1.1.3-1.1.1-1.1-.1-1.1-.2-1.1-.2-1-.3-1-.5-1-.5-1-.4-1.1-.3-1-.5-.9-.6M44,30.8l.5-1.1.7-.8 1-.5 1-.3 1.1 0 1.1.2 1.1.4 1 .3 1.1.2 1.1.1 1.1.1 1.1.1 1.1.1 1.1.2 1 .3 1.1.3M72.2,69.1l.2 1.1.1 1 .2 1.1.2 1.1.3 1.1.3 1 .3 1.1.5 1 .5.9.8.8M32.7,64.4l-.7-.9-.7-.8-.9-.6-1-.6-.9-.6-.9-.5M63.9,58.5l0 1.1-.2 1.1-.2 1.1-.3 1.1-.2 1-.1 1.1.2 1.1.3 1.1.5 1 .9.7.9.5 1.1.2 1.1-.1 1.1-.2 1-.5.9-.6M49.2,75.3l-.3-1-.4-1.1-.3-1-.5-1-.4-1-.4-1-.5-1-.4-1.1-.3-1-.4-1.1-.3-1-.4-1-.3-1.1-.5-1-.7-.8-.9-.7M66.1,57l-.1-1.1.1-1.1.2-1.1.4-1 .4-1 .5-1 .4-1 .4-1.1.5-1 .5-.9.7-.9.7-.8.9-.7.9-.5 1.1-.4 1.1-.2M66.2,60.6l.1-1.1.2-1.1.5-1 .7-.8 1-.6 1-.2 1.1.1 1.1.3 1 .5.9.6.9.7.6.8.5 1 0 1.1-.5 1-.7.9M51.3,46.3l-.7-.8-.7-.9-.6-1-.6-.8-.8-.8-.9-.6-1.1-.2-1.1.1-1.1.3-.8.7-.8.8-.5 1-.3 1.1 0 1.1.4 1 .6.9M56.9,57.8l0-1.1-.2-1.1-.3-1-.3-1.1-.2-1.1 0-1.1.1-1.1.2-1.1.1-1.1 0-1.1-.1-1-.3-1.1-.2-1.1-.4-1-.6-.9-.9-.8M76.9,48.8l-.1 1.1-.3 1-.7.9-.7.9-.6.9-.5.9-.5 1-.4 1.1-.4 1-.5 1-.4 1-.6.9-.8.8-1 .5-1 .2-1.1.1M39.7,48.8l-.7-.8-.6-.9-.6-.9-.5-1-.5-1-.4-1-.3-1.1-.3-1-.3-1.1-.4-1-.5-1-.7-.9-.7-.8-.8-.8-.7-.8-.9-.7M55.2,69.9l-.7-.8-1-.6-1-.2-1.1.1-1 .6-.7.8-.5 1-.1 1.1 0 1.1.1 1.1.1 1.1.2 1.1.5 1 .6.9.6.9.5 1M47.6,46.3l-.5-1-.4-1-.3-1.1-.2-1.1-.2-1.1 0-1.1.2-1 .4-1.1.7-.8.9-.7 1-.4 1-.5 1-.4.9-.6.9-.7.6-.9M50.8,30.7l.2-1 0-1.1-.2-1.1-.5-1-.5-1-.7-.8-.8-.8-.7-.8-.7-.9-.7-.8-.8-.8-.8-.8-.7-.8-.7-.9-.6-.9-.7-.8M39.5,66.6l-.1 1.1-.3 1.1-.6.9-.6.9-.9.6-1.1.4-1 .2-1.1.1M48.6,45.1l0 1.1-.2 1.1-.4 1-.7.9-.9.7-.9.5-1.1.4-1 .3-1.1.3-1.1.2-1 .2-1 .5-1 .5-.9.6-.9.6-1 .6M35.3,58.2l.6 1 .4 1 .4 1 .2 1.1 0 1.1-.3 1-.5 1-.5 1-.4 1-.5 1-.6.9-.8.8M57.6,51l.6 1 .4 1 .4 1 .3 1.1.3 1 .4 1.1.3 1 .2 1.1.3 1 .6 1 .7.8.9.7 1 .5 1 .3 1.1.1 1.1-.1M63.4,44.3l-.6-.9-.6-.9-.7-.9-.8-.7-1-.4-1.1-.3-1.1-.3-1-.2-1.1-.2-1.1-.2-1.1-.1-1.1-.2-1-.4-1-.5-.9-.7-.7-.8M44.4,77.9l-.2-1.1 0-1.1.2-1 .5-1.1.4-1 .3-1-.1-1.1-.3-1.1-.5-1-.9-.5-1.1-.1-1 .4-.8.8-.5 1-.2 1 .3 1.1M49.2,26.2l.2 1.1 0 1.1-.4 1-.7.9-.8.7-.9.6-.9.6-1.1.4-1.1 0-1-.3-1-.5-.8-.7-.6-1-.1-1.1.3-1 .7-.9M71.8,69.4l.7.8.7.9.7.8.9.7.8.8.8.7.8.8.7.8M48.7,64.5l0 1.1-.2 1.1-.6.9-.9.6-1.1.2-1.1 0-1-.4-.9-.6-.7-.9-.4-1-.3-1.1.2-1 .4-1 .7-.9.8-.8.8-.7M47.8,25.9l-.1 1.1-.3 1-.5 1.1-.5.9-.7.9-.8.7-.9.6-1.1.2-1.1-.3-.8-.7-.6-1-.1-1.1.3-1.1.5-.9.8-.8 1-.5M48.3,68.8l-.4 1-.4 1-.5 1-.5.9-.7.9-.8.7-1 .6-1 .2-1.1.1-1.1 0-1.1.1-1.1.2-1.1.3M54.3,67.5l0-1.1.3-1 .7-.9.9-.5 1.1-.3 1.1 0 1.1 0 1.1.2 1.1.2 1 .4 1 .5.8.7.7.8.7.9.5 1 .3 1M63.8,60.6l-.6-1-.4-1-.5-1-.4-1-.5-1-.5-1-.5-.9-.4-1-.4-1.1-.4-1-.3-1.1-.2-1-.2-1.1-.2-1.1-.2-1.1-.3-1.1M76.9,60.6l.2-1.1.2-1.1.3-1 .4-1.1.1-1.1.2-1.1-.1-1.1-.2-1-.3-1.1-.2-1.1-.4-1-.6-1-.7-.8-.7-.8-.9-.7-.8-.7M55.2,33.1l.5 1 .2 1-.1 1.1-.4 1-.6.9-.8.8-.9.7-.9.5-1.1.3-1.1.2-1.1.1-1.1-.1-1-.4-.8-.7-.5-1-.2-1.1M52,67.5l-.6-.9-.8-.8-.9-.6-.9-.7-.9-.5-1-.6-.8-.8-.5-.9-.3-1.1 0-1.1.3-1 .6-.9.8-.8.8-.8.8-.7.9-.6M68.6,65.1l-.3-1.1-.3-1-.2-1.1-.1-1.1-.2-1.1-.1-1.1-.1-1.1 0-1.1 0-1.1-.2-1.1-.5-1-.7-.8-1-.6-1-.3-1.1-.2-1.1.1M29.9,26.6l.6.9.5 1 .1 1.1 0 1.1-.2 1.1-.2 1-.3 1.1-.3 1.1-.4 1-.3 1-.2 1.1-.2 1.1-.1 1.1 0 1.1.2 1.1.4 1M27,34.5l.9.6 1 .5 1.1.2 1.1 0 1.1-.2 1-.3 1-.6.8-.7.7-.9.6-.9.6-.9.7-.9.8-.8.8-.7.7-.8.8-.8M56.7,20.2l.7.9.8.7.8.8.9.6.9.6 1 .5 1 .5.9.6.8.7.8.8.5 1 .5 1 .4 1 .4 1 .1 1.1-.1 1.1M36.8,60.6l.3 1 .6.9.8.8 1 .5 1.1.2 1.1-.3.9-.5.8-.8.6-.9.4-1.1.1-1 0-1.1.1-1.1.1-1.1.3-1.1.3-1.1M53.1,42.3l.1-1.1.1-1.1 0-1.1 0-1.1-.2-1.1-.4-1-.6-.9-.5-1-.5-1-.4-1-.3-1.1-.2-1.1-.1-1.1 0-1.1.2-1 .3-1.1M77.3,60.7l-.8-.8-.9-.7-1-.4-1-.3-1.1 0-1.1 0-1.1.1-1.1.2-1.1.1-1.1 0-1.1-.2-1-.4-.8-.8-.5-1-.3-1 .1-1.1M39.6,26.4l1 .5 1.1.1 1-.1 1.1-.3.9-.6.8-.7.8-.8.7-.9.5-.9.3-1.1 0-1.1-.1-1.1-.2-1.1-.2-1.1-.1-1 0-1.1M63.8,54.7l.2 1-.2 1.1-.4 1.1-.5.9-.7.9-.8.8-.9.6-1 .4-1.1.2-1-.4-.8-.7-.5-1-.2-1.1 0-1.1.3-1 .5-1M58.4,44.9l-.9-.6-.9-.6-.9-.5-1.1-.5-1-.3-1.1-.2-1.1.2-.9.6-.9.6-.7.9-.3 1.1-.1 1.1.2 1 .5 1 .6.9.6 1M58.9,32.8l.1-1.1.3-1.1.4-1 .5-1 .6-.9.8-.8.9-.5 1-.5 1-.4 1.1-.3 1.1 0M66.4,51.5l.4 1.1.5.9.6 1 .5 1 .5.9.6 1 .5 1 .3 1 .5 1 .5 1 .7.8.9.6 1 .6 1 .3 1.1.2 1.1.2M75.4,66l.6.9.7.9.5.9.6 1 .6.9.7.9.6.9M37,21.6l-.6-.9-.7-.9-.8-.7-.8-.7-.8-.8-.8-.8-.6-.9M54.3,78.5l0-1.1.1-1 .3-1.1.3-1.1.3-1 .3-1.1.2-1.1.2-1.1 0-1.1-.1-1.1 0-1.1-.3-1-.5-1-.7-.8-.9-.7-.8-.7M60.6,67.7l.6.9.7.9.7.8.9.7 1.1.1 1-.4.9-.6.6-1 .2-1.1-.2-1-.4-1.1-.7-.8-.9-.6-1-.5-1-.3-1.1-.3M48,77.3l.7.9.8.7.9.7 1 .3 1.1 0 1.1-.2 1-.5 1-.6.9-.6.8-.7 1-.5 1-.4 1.1-.2 1.1-.1 1.1 0 1.1-.1M54.9,52.1l-.9-.7-.8-.8-.8-.7-.9-.6-1.1-.4-1-.3-1.1-.1-1.1.1-1.1.1-1.1.2-1 .3-1 .5-1 .5-1 .6-.9.5-1 .5M37.7,60.5l.6-.9.6-.9.5-1 .2-1.1.1-1.1-.1-1.1-.4-1-.3-1.1-.4-1-.4-1-.3-1.1 0-1.1.4-1 .8-.8 1-.5 1.1 0M43.6,62.3l-.3 1.1-.8.8-.9.5-1.1.3-1.1.1-1.1-.3-1-.5-.9-.5-.8-.8-.7-.8-.6-1-.4-1-.3-1 0-1.1.2-1.1.3-1.1M45.4,20.7l.8.7 1 .5 1.1 0 1-.4.7-.8.4-1.1.1-1.1-.3-1-.6-1-.7-.8-.8-.8-.9-.6-1-.4-1.1-.2-1.1 0-1.1.1M69.8,43l-.4-1-.6-.9-.7-.9-1-.5-1-.2-1.1 0-1.1.2-1 .5-.9.6-.8.8-.7.9-.4 1-.2 1 0 1.1 0 1.1 0 1.1M73.5,69.6l-.5-1-.6-.9-.4-1-.4-1.1-.3-1-.3-1.1-.4-1-.3-1.1-.5-1-.4-1-.4-1-.5-1-.4-1-.4-1-.4-1.1-.2-1M56.2,40.6l-.5-1.1-.6-.9-.7-.8-.9-.6-1.1-.4-1.1-.1-1.1.1-1 .2-1 .5-.9.7-.8.7-.8.7-.9.7-.8.8-.7.8-.8.8M45.1,46.3l-.4-1-.3-1.1-.2-1.1-.3-1 0-1.1.2-1.1.5-1 .6-.9.8-.7.9-.7.9-.6 1.1-.3 1.1-.1 1 .5.8.7.5 1M65.7,73l-1-.4-1.1-.2-1.1-.2-1.1-.1-1.1-.2-1.1-.1-1.1.1-1.1.1-1.1.1-1.1 0-1.1.1-1 .3-1.1.4-1 .3-1 .4-1.1.3M50.9,69.3l.8.8.8.7 1 .5.9.6.9.6.9.7 1 .4 1.1.2 1.1-.2 1-.4.9-.6.7-.9.6-.9.5-1 .2-1.1 0-1.1M38.2,60.2l-.3 1.1-.3 1.1 0 1.1.2 1 .5 1 .7.9.8.7 1 .5 1.1.1 1.1-.2 1-.4 1-.4 1-.5.8-.7.7-.9.4-1M59.2,78.3l.5 1 .7.8.8.8.8.8.9.6 1 .5.9.5.9.6.8.8.7.9.2 1.1M57.1,60.5l1.1.3.9.6.7.8.5 1 .1 1.1-.2 1.1-.3 1.1-.6.9-.7.9-.7.7-.8.8-.7.9-.5 1-.3 1 0 1.1.4 1.1M32.6,43.6l-.4-1-.8-.8-.9-.7-.8-.7-.8-.7-.7-.9-.6-.9-.5-1-.4-1-.4-1-.5-1-.6-.9-.7-.9-.9-.6M52.3,17.4l1 .6.9.5 1 .6 1 .4 1 .4 1 .6.8.7.7.9.6.9.5 1 .4 1 .3 1.1.3 1 .3 1.1.1 1.1 0 1.1M78.4,67.6l.4 1 .5 1 .3 1 .2 1.1M61,57.1l.1-1.1.1-1.1.2-1 .4-1.1.5-1 .6-.9.7-.8.8-.8.9-.6.8-.7.7-.9.5-1 .4-1 .5-1 .4-1 .3-1M52.1,25.3l.2-1.1.3-1.1.2-1 .3-1.1.3-1.1.3-1 .5-1 .5-1 .5-.9M30.5,34.2l.5 1 .4 1 .4 1 .3 1.1.2 1.1.1 1.1.1 1.1-.1 1.1-.4 1-.5 1-.6.9-.5 1-.7.8-.7.9-.7.9-.5.9M34.6,22.4l-.7-.9-.7-.8-.8-.8-.7-.8-.8-.8-.8-.7M47,38.1l-1-.4-1.1-.3-1-.4-1-.5-.8-.7-.8-.8-.8-.8-.8-.7-.9-.6-.9-.7-.8-.7-.9-.7-.9-.5-1-.5-1.1-.4-1.1-.1M51.3,52.3l.4-1 .5-.9.7-.9.9-.7.8-.7.9-.7.9-.6 1-.5 1-.4 1.1-.3 1-.3 1.1-.1 1.1-.1 1.1 0 1.1 0 1.1.1M61,69.9l.9.7.7.8.5 1 .6.9.5 1 .5 1 .4 1 0 1.1-.1 1.1-.3 1-.6 1-.8.7-1 .5-1 .5-1.1.2-1.1.1M72.4,69.9l.2 1.1.2 1.1.2 1.1.1 1.1 0 1.1-.2 1.1-.4 1-.8.8-.9.6-1 .3-1.1.1-1.1-.2-1-.4-1-.5-.8-.8-.6-.9M38.2,24.3l.9.6 1 .5 1 .5.9.4 1.1.4 1 .3 1.1.4 1 .4 1.1 0 1.1 0 1.1-.2 1.1-.2 1-.4 1.1-.2 1.1 0 1 .3M65.3,30.3l.3 1 .6 1 .7.7.9.7 1 .4 1.1.3 1.1-.1 1-.4.9-.6M50,50.9l.1 1.1-.4 1.1-.7.8-.9.6-1.1.1-1.1-.1-1-.3-1.1-.4-.9-.7-.7-.8-.4-1 0-1.1.3-1 .6-1 .7-.9.6-.9M34.8,68.8l.3 1.1.2 1 .1 1.1.1 1.1M37.3,33.7l.5 1 .6.9.8.8.9.6 1 .5 1 .3 1.1.2 1.1.1 1.1-.1 1-.4.8-.8.5-1 .4-1 .3-1.1.4-1 .3-1M72,58l.6.9.9.7 1 .3 1.1 0 1.1-.3.8-.7.6-.9.4-1.1.2-1 .1-1.1 0-1.1 0-1.1-.1-1.1 0-1.1-.1-1.1.2-1.1M29.2,37.8l.1 1.1.3 1.1.5.9.8.8.9.6.9.6 1.1.4 1 .2 1.1 0 1.1-.4.9-.7.7-.7.7-.9.4-1.1.1-1.1-.2-1M64.1,64.3l.1-1.1.6-.9.7-.8 1-.6 1-.3 1.1.2 1 .5.7.9.1 1.1-.2 1-.6 1-.8.7-.8.7-.8.8-.7.9-.7.8M69.2,68.7l.9.6 1.1.3 1.1-.1 1-.3 1-.5.9-.6 1-.6.9-.6.9-.6.9-.6 1-.5 1-.4M54.2,35.3l.7.8.5 1 .1 1.1-.3 1-.6 1-.8.7-.9.7-.9.6-1 .4-1.1.4-1 .1-1.1 0-1.1-.3-.9-.7-.5-.9-.1-1.1M66.1,69.9l.9.6 1 .4 1.1.2 1-.2 1-.5.9-.7.8-.7.9-.6.9-.7.9-.6.9-.7.8-.7.9-.7.8-.7.9-.6 1-.5M42.3,45.9l.4 1 .2 1.1 0 1.1 0 1.1-.2 1.1-.2 1-.5 1.1-.5.9-.7.9-.8.7-.9.7-1 .5-1 .3-1.1.2-1.1 0-1.1 0M58,44l-.5-.9-.6-1-.5-.9-.6-.9-.7-.9-.6-.9-.8-.8-.7-.9-.5-.9-.5-1-.1-1.1.1-1.1.3-1.1.5-.9.5-1 .6-.9M53.9,64.5l.6.9.7.8.8.8.9.6.9.6 1 .5 1.1.4 1 .2 1.1.1 1.1.1 1.1.1 1.1 0 1.1 0 1.1.1 1 .4 1 .6M29.4,33.7l-.1-1.1-.2-1.1-.4-1-.5-1-.8-.8-.8-.7-1-.5-1-.4M66.6,74.1l.2 1.1.3 1 .6.9.9.7 1.1.3 1.1-.2.8-.7.6-1 0-1.1-.3-1-.6-1-.9-.7-1-.4-1.1 0-1 .3-.9.6M38,33.9l-.5-1-.5-.9-.7-.9-.7-.9-.8-.7-.7-.9-.7-.8-.5-1-.3-1 0-1.1.2-1.1.3-1.1.5-.9.6-1 .6-.9.5-1M69.5,66.7l.1-1.1-.1-1.1-.2-1-.5-1-.7-.8-1-.6-1.1-.1-1.1.1-1 .6-.7.7-.5 1-.4 1.1-.3 1-.2 1.1-.1 1.1 0 1.1M57.4,83.3l-1-.4-1.1-.2-1.1.1-1.1.1-1 .2-1.1-.1-1.1-.2-1-.5-1-.5-.8-.7-.7-.9-.5-1-.3-1-.4-1-.5-1-.9-.7M49.4,54.5l.5 1 .5.9.6 1 .8.7.7.8.9.7 1 .5 1.1.2 1.1-.1 1-.4.8-.8.5-1 .4-1 .2-1.1.3-1 .4-1.1M60.8,59.7l-.2-1.1-.3-1.1-.2-1-.2-1.1-.3-1.1-.4-1-.2-1.1-.2-1.1 0-1.1.2-1 .4-1.1.4-1 .5-1 .5-.9.5-1 .6-.9M43.4,63l.8.8.9.6 1 .4 1.1.3 1.1-.1 1-.3.9-.6.6-.9.4-1.1-.1-1.1-.4-1-.7-.9-.8-.7-1-.4-1.1-.3-1.1 0M46.8,52.9l-.5-.9-.6-.9-.7-.9-.6-.9-.8-.8-.9-.5-1.1-.2-1.1.3-.8.7-.6 1-.3 1-.2 1.1-.2 1.1-.1 1.1-.1 1.1-.2 1.1"/>
<clipPath id="k25"><rect x="35.1" y="569.6" width="85.7" height="86.6"/></clipPath>
<clipPath id="k26"><rect x="123.6" y="569.6" width="86.5" height="86.6"/></clipPath>
<clipPath id="k27"><rect x="217.5" y="569.6" width="86.3" height="86.6"/></clipPath>
<clipPath id="k28"><rect x="306.2" y="569.6" width="86.6" height="86.6"/></clipPath>
<clipPath id="k29"><rect x="400.5" y="569.6" width="86.6" height="86.6"/></clipPath>
<clipPath id="k30"><rect x="489.5" y="569.6" width="86.4" height="86.6"/></clipPath>
<path id="p30_57" d="M38.7,33.4l-1.1.2-1.1-.2-.9-.6-1-.5-1-.5-1-.5-1-.3-1.1.2-1 .4-1 .5-1.1.3-1.1 0M52.7,54l.2 1 .8.8 1.1.2 1.1-.3 1-.3.9-.6 1-.5.9-.7.3-1-.2-1.1-.8-.7-1.1-.1M17.1,51.9l.2 1.1-.3 1-.7.9-1.1.2-1-.3M16.7,45.8l.3-1.1.2-1 0-1.1-.5-1.1-.6-.8-.8-.8-1-.4M50.1,68.5l-.4-1-.3-1.1-.1-1.1-.3-1.1-.5-1-.4-1-.5-1-.6-.8-.7-1-.8-.7-.8-.7-.9-.6M65.3,61.4l.8.7.3 1.1.1 1.1-.5 1-.9.6-1 .4-1.1.3-1.1-.2-.9-.5-1-.6-.7-.7-.7-.9M18.1,43.9l-.7.8-.3 1 .3 1.1.5 1 .5 1 .2 1-.2 1.1-.6.9-.7.8-.9.7-1 .6-1 .3M43.2,50.1l-1 .4-1.1.2-.9.7-.6.8-.6 1-.4 1 .1 1.1.4 1.1.6.9.7.8.3 1.1 0 1.1M68.2,60.7l-1.1 0-1.1-.2-1.1 0-1.1.1-1.1.2-1.1.1-1-.2-.9-.6-.8-.8-.6-.9-.6-1-.5-.9M62.7,34.9l-.4 1.1-.9.6-1.1.1-1.1-.3-.8-.7-.6-.9-.4-1.1-.2-1.1.2-1.1.2-1 .6-1 .9-.6M65.9,52.3l.6-1 .3-1 .2-1.1.1-1.1.4-1 .7-.9.8-.8.8-.6 1.1-.4 1-.5.9-.5.9-.7M35.4,49.5l-.3 1 .2 1.1.7.9 1 .3 1.1-.3.8-.7.8-.7.8-.8 1.1-.3 1.1-.1 1.1.1 1.1-.1M49.4,23.5l1 .4.6 1-.1 1.1-.7.9-1 .3-1.1-.2-.7-.9-.1-1.1.2-1.1 0-1.1.3-1 .5-1M42.4,51.4l1.1.4.9.6.7.8.6.9.4 1.1.3 1 .4 1 .1 1.1-.3 1.1-.4 1-.3 1.1-.4 1M25.6,48.2l-.7-.9-1-.4-1.1.1-1.1.1-1.1.1-1.1-.1-1-.3-1.1-.3-1.1-.1-1 .4-.8.7-.8.8M38.8,30.4l.7-.8.9-.7.9-.5 1.1-.4 1-.3 1.1-.1 1.1.2 1 .5.7.9.5.9.7.9.6 1M48.9,24l-.9.7-1.1.3-1.1-.1-.8-.7-.3-1.1.3-1 .9-.7 1-.1 1.1.1 1 .6.8.7.6.9M38.8,43.4l-1.1-.1-1-.5-.6-.9 0-1.1.5-.9.7-.9.9-.6.9-.6 1-.5 1.1 0 1.1.3.9.5M26,34.3l-1.1-.4-.9-.6-.4-1 .1-1.1.6-.9.8-.8 1-.5 1-.4 1.1-.1.9.6.5 1-.2 1.1M26.5,67l.4-1 .8-.7 1.1-.1 1 .5.7.9.3 1.1.1 1.1.1 1.1.3 1 .5 1 .2 1.1.3 1.1M44.4,44.2l.4-1.1.9-.6 1.1-.2 1 .3.9.7.6.9.6.9.6.9.9.7 1 .4 1.1 0 1.1 0M39.3,47.3l-1.1-.2-1.1.1-1.1.3-1 .3-1.1.1-1.1.1-1.1-.1-1.1-.4-1-.3-1.1-.3-1-.2-1.1 0M54.1,38.1l.6.9.3 1.1.2 1.1.1 1.1-.1 1-.5 1-.8.7-1.1.4-1.1 0-.9-.5-.6-.9.1-1.1M34.7,41.6l0 1.1.5 1 .7.8.9.7.9.6 1 .6.6.9.1 1.1-.5.9-.9.6-1.1.1-1-.5M56.5,42.7l-.3 1.1-.3 1-.6 1-.7.8-.9.6-.8.8-.6.9-.5 1-.1 1.1-.3 1-.7 1-.9.6M65.4,63.7l.1 1.1.1 1.1 0 1.1-.2 1-.3 1.1-.6.9M52.1,49.8l1-.4 1.1 0 .9.6.7.8.8.8.7.8.6.9.7.9.8.7.8.8.6 1 .1 1M69.3,51.9l-.2 1.1-.5 1-.9.7-.9.5-1 .5-1.1.2-1.1.1-1.1-.1-1.1-.2-1-.3-1-.5-1-.6M38.8,26.8l.1-1.1.5-1 .8-.7 1.1 0 1 .6.6.8.4 1.1.7.8.9.7 1.1.1 1-.4.7-.8M46.6,25.1l-.2 1.1-.5 1-.5 1-.4 1-.7.8-.9.7-.9.7-.9.5-.8.8-.5 1 .2 1.1.3 1M31.8,45.1l-1-.6-.9-.6-1-.4-1.1-.2-1.1.1-1.1.2-1.1.1-1 .2-.8.7-.3 1.1.5 1 .9.7M40.7,49.6l-.1 1.1-.1 1.1-.1 1.1-.4 1-.2 1.1 0 1.1-.3 1.1-.8.7-.9.7-.9.6-.6.9-.6 1M55,33.8l-.4-1 0-1.1.4-1 .7-.9.8-.7 1-.5.8-.8.5-1-.1-1.1-.6-.9-.4-1-.2-1.1M31.9,66.9l-.9-.6-1-.2-1 .4-.6.9-.2 1.1-.2 1.1-.2 1.1 0 1.1.4 1M41.1,48.9l-.8.8-1 .4-1.1 0-1.1-.1-1.1-.1-1.1 0-1.1.1-1 .3-.9.6-.8.8-.5 1-.4 1M23,65.9l.8-.7.4-1-.3-1.1-.8-.7-1.1-.1-1 .5-.9.7-.8.7-.9.6M32.7,57.5l.7-.8 1-.7 1-.3 1.1.2 1 .5.7.8.8.8.8.8.3 1.1-.3 1-.4 1-.5 1M58.8,55.5l-1.1 0-1.1-.4-.8-.7-.3-1.1.1-1.1.4-1 .7-.9.8-.7 1.1-.3 1.1-.1 1 .1 1.1.1M46.3,56.4l-.6 1 0 1.1 0 1 .3 1.1.1 1.1.2 1.1.1 1.1.2 1.1.4 1 .6.9.9.7 1 .5M37.2,56.2l1.1.1 1.1.1 1-.5.7-.9.3-1 0-1.1.2-1.1.2-1.1.3-1.1.2-1 .4-1.1.3-1M71.6,48.2l.9.6 1 .6 1 .4.9.5 1.1.4M60.1,46.6l-1 .3-1.1.2-1.1-.2-.9-.6-.4-1 .1-1.1.7-.9.9-.6 1.1-.1 1 .6.6.9.5 1M45.4,46.1l-.1-1.1 0-1.1.2-1 .1-1.1.6-1 1-.5 1-.2 1.1 0 1.1 0 1.1.1 1.1.1 1.1.3M47.2,59.3l-.1-1.1 0-1.1 0-1.1.1-1.1-.2-1.1-.4-1-.9-.7-1-.4-1-.3-1.1-.3-1.1 0-1.1.4M28.9,66.2l-1 .6-1 .3-1.1.1-1.1-.2-1.1-.4-.9-.4-1-.5-.9-.7-.8-.7-.7-.9-.2-1.1-.1-1.1M35.2,53l-.3-1-.8-.8-1.1-.2-1 .5-.6 1 .1 1.1.7.8.9.7.8.8.3 1-.3 1.1-.7.8M64.3,52l-.9.7-1.1.2-1-.4-.8-.7-.6-1-.5-.9-.7-.8-.8-.8-.6-.9-.2-1.1.1-1.1.6-.9M45.7,57.1l-.3-1-.4-1-.6-1-.6-.9-.6-.9-.5-1-.1-1.1.5-1 .9-.6 1.1 0 .9.6.6.9M67,64.3l0-1.1.7-.9.9-.5 1.1-.2 1.1 0 1.1.2M47.7,46.1l-1.1.1-1.1.1-1.1-.2-1-.5-.8-.8-.2-1 .3-1.1.9-.7 1.1-.2 1 .2.8.8.4 1M68.9,35.2l-1-.4-.9-.7-.8-.7-.7-.8-.4-1.1.3-1.1.8-.7.9-.7.9-.6 1-.3M31.7,49.5l-1.1.2-1.1.2-1.1.3-1 .3-1.1.2-.9.7-.5 1 0 1.1.2 1 .4 1.1.4 1 .4 1M65.3,31.7l.8.7 1 .5 1.1.1 1.1.2 1 .2 1.1.1 1.1.1 1.1 0M45.2,24.8l-.2 1 .4 1.1.9.7 1 .3 1.1.2 1.1-.2 1-.3 1-.6.9-.6 1-.4 1.1-.3 1.1-.1M38.6,45.5l-1 .3-1.1.4-1.1 0-.9-.7-.3-1 .2-1.1.8-.7 1.1-.2 1 .5.6 1-.1 1.1-.7.9M26.6,60.1l-1.1-.3-.9-.5-.7-.9-.1-1.1.2-1.1.5-1 .7-.8.9-.7.9-.6 1-.4 1.1-.3 1-.3M64.7,52.5l1-.4 1.1 0 1.1.1 1.1.3 1 .4.9.6.9.7.9.5 1.1.2 1.1-.1 1.1-.2M48.2,49.2l-1.1.1-1.1 0-1.1-.3-1-.3-1.1-.1-1.1.2-.9.7-.5 1-.2 1.1-.2 1-.3 1.1-.6 1M26.5,33l.7.9 1 .4 1.1 0 1.1-.4 1-.4 1-.5.8-.7.5-1 0-1.1-.4-1-.7-.8-.9-.7M30.8,69.6l.9.6.5 1 0 1.1-.4 1-.9.6M53,52.5l-.2 1.1-.5 1-.4 1-.8.7-1 .6-1 0-1.1-.4-.6-.9 0-1.1.3-1 .6-1 .8-.6M40,68.1l-1 .4-.9.6-.7.8-.7.9-.5 1-.2 1.1-.1 1.1 0 1.1.1 1.1M48.9,21.1l-1-.5-1.1-.2-1 .4-.6.9-.1 1.1.5.9.8.8 1 .5.9.6 1.1.4 1 .3 1.1.2M42.3,47.3l-.7.9-.7.8-1 .5-1 .4-1.1-.1-.8-.7-.7-.9-.7-.8-.7-.9-.4-1 .1-1.1.3-1.1M35,40.6l.8-.8.6-.9.7-.9 1-.4 1.1.2.7.8.3 1.1-.2 1.1-.2 1-.3 1.1 0 1.1.4 1M33.2,51.2l-.3-1 .1-1.1.8-.8 1.1-.3 1 .2.8.8.2 1.1 0 1.1-.3 1-.5 1-.9.7-1 .4M45.9,30.3l1.1-.1 1 .3 1 .5.9.7.7.8.7.8.8.8.7.8.8.8.7.8.8.8.6 1M48.4,45.5l-.9-.6-1-.2-1.1-.1-1.1 0-1.1-.1-1.1-.2-.9-.6-.7-.9-.3-1-.3-1.1.1-1.1.5-1M41.5,26.1l.6 1 .6.9.7.8 1 .4 1.1-.3 1-.2 1.1 0 1.1 0 1.1 0 1.1.1 1.1-.1 1.1-.4M63.7,51.5l1.1.1.8.7.5 1-.2 1.1-.8.8-1 .2-1-.4-.7-.9-.1-1.1.6-.9.8-.8.8-.7M45.3,21.1l1.1 0 1 .5.8.8.4 1 .1 1.1-.1 1.1-.3 1.1-.6.9-.6.9-.7.9-.6.9-.9.7M40.4,30.3l.3-1.1.6-.9.6-.9.9-.6 1.1-.3 1.1 0 1 .5.8.7.8.7.8.8.6 1 0 1.1M54.8,24.2l-.5-1-.3-1.1-.4-1-.5-1M21.4,47.6l-1 .5-.7.8-.7.8-.6 1-.7.9-.9.6-.9.5-1.1.1-1.1-.2M46.5,44.4l-1-.5-.9-.6-.8-.8-.6-.9-.8-.8-.8-.7-.9-.7-1.1-.2-1.1.1-1 .2-1 .5-.8.8M17.9,47.2l.9-.6.7-.9.3-1-.4-1.1-.9-.7-1.1-.2-1 .4-.8.7-.7.9-.4 1 .1 1.1.4 1M40.1,62l-1 .3-.9.7-.5 1-.3 1 .2 1.1.7.9 1 .3 1.1-.1.9-.6.4-1-.3-1.1-.7-.8M43.2,52.3l.8.8.6.9.7.9.8.8.6.8.9.8.8.7 1 .5 1 .3 1.1-.1 1.1-.1 1.1.2M55,42.7l1 .4 1 .5 1 .4 1.1.4 1 .3 1.1.3 1 .1 1.1-.1 1.1-.4.7-.9.1-1-.5-1M41.8,47.6l.8.8.7.9.4 1 .3 1 .1 1.1-.4 1.1-.8.7-1.1.2-1-.4-.6-1-.1-1.1.5-1M44.4,53l-.6-.9-1-.6-.9-.4-1-.6-.6-.9-.3-1.1.1-1.1.6-.9 1-.5 1.1-.1.9.6.6.9M43.1,40.6l-.4-1.1-.8-.7-1-.3-1.1.2-1 .5-.7.9-.2 1 .1 1.1.4 1.1.5.9.3 1.1.7.8M30.4,39.2l-1-.5-1-.4-1.1-.1-1 .5-.6 1 0 1.1.5 1 .6.8.8.8.7.9.4 1 .1 1.1M52.5,32.3l.3 1 .8.8 1 .2 1-.5.6-.9-.1-1.1-.6-.9-1.1-.3-1 .3-.7.8-.5 1 .1 1.1M31.4,41.3l.5 1 .2 1 .6 1 .7.8.8.7 1.1.2 1.1-.3.7-.8.5-1 .3-1.1.3-1 .2-1.1M41.2,66l-1.1.2-1.1-.1-.9-.5-.7-.9-.2-1.1-.1-1.1.2-1.1.1-1 .1-1.1.2-1.1.1-1.1.1-1.1M31.7,41.8l1 .5.6 1 0 1.1-.5 1-.8.7-.9.6-1.1.3-1.1.1-1.1 0-1-.2-.9-.6-.7-.9M45.1,52.8l-1.1.2-1.1 0-1.1-.3-1-.5-.7-.8-.4-1-.1-1.1.1-1.1-.1-1.1-.1-1.1-.2-1.1.1-1.1M50.6,68.3l-1.1-.3-1.1.1-1.1-.1-1.1-.1-1.1-.2-1.1-.1-1-.3-.9-.7-.5-1-.5-.9-.7-.9-.6-.9M66.5,58.5l-.1-1.1.4-1.1.6-.8.9-.7 1.1.1 1 .5.7.9.2 1.1 0 1.1-.2 1-.6 1-.7.8M56.5,48.3l.7-.9.7-.8.8-.8.7-.8.5-1 .6-.9.8-.8 1.1-.3 1.1.1.9.6.4 1 .1 1.1M32.5,50l.6-.9.7-.8.5-1 .5-1 .1-1.1-.4-1.1-.3-1 .1-1.1 0-1.1 0-1.1.2-1.1-.1-1.1M33.9,61.8l.6-.8 1-.5 1.1-.4 1-.2 1.1-.4 1-.4.9-.6.6-.9.1-1.1-.3-1.1-.5-1-.4-1M56.3,48.5l.2 1.1-.1 1.1-.3 1.1-.4 1-.3 1-.3 1.1 0 1.1.5 1 1 .5 1.1.1 1-.4 1-.5M27.1,30.3l-1.1.1-.9-.6-.6-.9 0-1.1.6-.9 1.1-.4 1 .2.8.8.1 1.1-.3 1.1-.4 1-.7.8M19.3,36.5l1.1-.4.9-.6 1.1-.2 1.1-.2 1.1.2.8.8.2 1-.4 1.1-.8.7-1.1.2-1.1 0-1.1.2M60.1,54.7l1.1 0 .9.5.5 1-.2 1.1-.7.8-1 .3-1.1-.2-.8-.7-.2-1.1.4-1 .7-.8 1-.5M45,70l.2-1.1.6-.9.7-.8.9-.7 1-.4 1.1-.4 1.1 0 1.1.1 1 .2 1.1.3 1.1 0 1-.3M45.4,41.8l.9.7.9.6 1.1 0 1.1-.2 1.1-.2 1-.4 1-.5 1-.5.6-.9.5-1 .6-.9.6-.9M42.6,48.6l.3-1.1.1-1.1.1-1.1.2-1 .1-1.1.4-1.1.6-.9.4-1 .1-1.1-.4-1.1-.8-.7-1-.2M42.1,54l-.6-1-.2-1 .1-1.1.5-1 .9-.6 1.1-.3 1.1.2 1 .3 1.1.1 1.1-.1 1.1-.3.9-.6M22.8,52.1l-1.1 0-.9.6-.4 1 .1 1.1.7.9.9.6 1.1 0 1.1-.3 1.1-.2 1-.2 1.1-.1 1.1 0M60,50.3l0-1.1-.3-1-.4-1.1-.2-1 0-1.1 0-1.1-.4-1.1-.6-.9-.7-.8-.8-.8-.6-.9 0-1.1M40.3,37.4l1.1 0 .9-.6.4-1 .2-1.1.2-1.1.4-1 .3-1 .3-1.1.3-1.1.6-.9.6-.9.6-1M58.2,44.9l-.8.8-1 .4-1.1 0-1-.3-1.1-.2-1.1 0-1 .6-.8.7-.8.8-.8.7-1 .5-1 .4M41.2,42.7l-.8.6-1.1.1-1-.5-.5-1 .1-1.1.8-.8 1-.3 1.1.4.7.8.5.9.3 1.1-.1 1.1M29.9,30.5l.6.9.4 1.1-.2 1.1-.7.8-1.1.4-1.1 0-1-.2-.9-.7-.3-1.1-.1-1.1.1-1.1-.1-1.1M60.4,37.8l.9.5.6 1 0 1.1.1 1.1.3 1 .4 1.1.2 1 .4 1.1.6.9.8.8.8.7 1 .5M55.3,31.2l.1-1.1.3-1 .5-1 .6-1 .9-.6.9-.7 1-.3 1.1-.3 1-.2 1.1-.2 1.1 0 1.1 0M52.3,37.3l.9.6.7.8.8.8.9.7.9.6 1 .5 1.1.2 1.1-.2 1-.4.9-.6.9-.7.9-.5M49.4,36.4l.6.9.6 1 .9.6 1.1.2 1.1-.1 1-.4.8-.7.4-1-.1-1.1-.5-1-.3-1.1-.4-1M41.6,27.6l-1-.6-.4-1 .1-1.1.4-1 .6-.9.8-.8.8-.8.8-.7.8-.7.7-.8M52.9,47.8l.5.9.6 1 .5 1 .7.8.9.7.8.7.8.7.7.8.9.7 1.1.1 1-.3 1.1-.4M25.5,42.6l1.1.2.7.8.3 1-.4 1.1-.6.9-.9.7-1.1.2-1.1-.2-.9-.5-.9-.7-.8-.7-.7-.8M34.4,40.5l1 .5 1.1-.1.8-.7.4-1-.4-1.1-.5-.9-.8-.8-.9-.7-1-.3-1.1-.2-1.1-.3-1.1 0M48.5,45.2l-1.1-.1-.9-.6-.8-.8-.9-.7-1-.5-1-.2-1.1.1-1 .4-.7.8-.4 1.1-.4 1-.3 1M51,60.9l-1-.6-1.1.1-.8.7-.6 1-.2 1.1.1 1 .1 1.1-.3 1.1-.4 1-.7.9-.8.8-.8.7M33.3,73.1l.8.7 1 .5 1.1.2 1.1 0 1.1.2.9.6.4 1M25.4,42.3l-.4-1.1-.1-1.1.4-1 .8-.7 1.1-.2 1 .5.7.9.1 1.1-.4 1-.1 1.1-.1 1.1 0 1.1M43.5,38l1 .3 1.1-.3.7-.8.3-1.1-.1-1.1-.4-1-.8-.8-1-.4-1-.5-.9-.6-1-.5-.9-.7M40,27.6l-.2 1.1-.2 1-.3 1.1-.6.9-.5 1-.7.8-.6 1-.1 1.1.3 1.1.7.8.7.8.5 1M65.2,31.6l.1-1.1-.3-1.1-.1-1.1-.1-1.1-.4-1-.9-.7-1-.4-1.1-.2-1-.4-1-.4-1-.5-1-.4M43.6,43.1l.7-.8.9-.5 1.1-.4 1.1 0 1.1 0 1 .3.9.7.4 1-.2 1.1-.8.8-1 .3-1.1-.4M51,32.6l-1 .6-1 .2-1.1.3-1.1.2-1.1 0-1-.3-1.1-.2-1-.5-1.1-.2-1.1-.1-1.1-.2-1.1-.2M44.7,42.7l-1.1-.2-1-.6-.8-.7-.5-1 .1-1.1.5-.9 1-.5 1.1-.1 1.1.3 1 .5.7.8.3 1M40.8,47.1l1 .5 1.1-.1.9-.7.5-.9.6-.9.5-1 .4-1.1.2-1 .2-1.1.3-1.1.4-1 .6-.9M65.6,44.5l-.3 1 .1 1.1.5 1 .9.6 1.1-.1 1.1-.3 1-.3 1.1-.3 1.1.1 1 .3 1.1.4.8.7M60,60.2l1 .5 1.1.2 1-.5.5-.9.5-1 .3-1.1.7-.9.9-.5 1.1-.1 1 .5.5 1 .3 1.1M20,40.1l-.1 1.1.2 1.1.5 1 .5.9.6 1 .4 1 .5.9.8.8 1.1.3 1.1.1 1-.3.8-.8M37.4,39.1l-1.1-.2-1.1.1-.9.7-.3 1-.2 1.1.1 1.1.2 1.1.6.9 1 .5 1.1 0 1.1-.1 1.1-.2M58.5,33.4l-.4-1 .2-1.1.6-.9.9-.6 1.1-.2 1.1.1 1 .4 1 .5.8.7.7.9.6.9.3 1.1M70.8,50.7l.1 1.1.1 1.1.4 1.1.5.9.3 1.1-.2 1.1-.8.7-1.1.3-1-.4-.6-.9-.4-1.1-.2-1.1M56.8,70.6l-.1 1.1.3 1.1.6.9M37.6,63.3l-1 .3-.8.9-.2 1.1.4 1 .9.6 1.1 0 1.1-.1 1.1-.1 1.1.1.8.8.3 1 .1 1.1M54.6,69.8l-.7.8-.7.9-.9.6-1 .4-1.1-.1-1.1-.2-1.1 0-1.1-.1-1.1-.1-1.1-.1-1.1-.2-1-.4M44.8,49.6l.4-1.1.7-.8.7-.8 1-.6 1-.4 1-.5.8-.7.7-.9.5-1 .2-1-.2-1.1-.6-1M40.3,64.8l.4 1.1 0 1.1-.1 1.1.1 1.1.4 1 .6.9.9.6 1 .4 1.1.1 1.1.2 1.1-.3.8-.7M58.5,56.3l-1.1-.1-1.1.3-.8.7-.7.9-.5 1-.4 1-.3 1 .2 1.1.6 1 .7.8.9.6 1 .4M40.3,43.1l-.2-1.1-.6-.9-1-.4-1.1 0-1 .6-.6.9-.5 1-.3 1 .2 1.1.4 1 .9.7 1 .3M46.2,74.5l-.8-.7-.7-.9-.3-1 .2-1.1.6-1 .9-.6 1.1-.2 1 .3.8.7.6 1 .4 1 .5 1M39.9,38.2l-.8-.8-.2-1.1.4-1 .9-.7 1.1-.2 1 .3.8.8.3 1 .2 1.1.1 1.1.2 1.1.4 1M21.2,33.3l1 .6 1 .2 1.1 0 1-.6.7-.8.9-.6 1.1-.2 1.1 0 1 .4.9.7.5.9.1 1.1M29.9,53.1l-1.1 0-1.1.3-1 .4-.9.6-.9.7-.8.7-1 .6-1 .4-1.1 0-.9-.6-.4-1 .2-1.1M42.6,38.4l.1 1.1-.5 1-.7.8-1.1.3-1-.3-1-.6-.7-.8-.9-.7-.6-.9-.3-1.1 0-1.1 0-1.1M63.5,54.6l-.9-.6-1.1 0-1.1.2-1 .4-.7.9-.5 1 0 1.1.1 1.1.4 1 .8.8.8.7.8.7M40.1,41.7l-.8-.8-1-.5-1.1.2-1 .5-.7.9-.4 1 .3 1.1.9.7 1.1.1.9-.5.5-1 0-1.1M30.7,68l.8.9.3 1 0 1.1-.6 1-.7.8-.8.8M47.8,46.5l1.1-.1 1.1-.2 1-.5.8-.8.4-1 .2-1 0-1.1-.4-1.1-.5-1-.4-1-.6-.9-.8-.8M57.4,41.7l-1.1-.2-1.1 0-1.1 0-1.1 0-1.1-.1-1.1-.3-1-.4-1.1-.3-1.1.1-1 .2-1.1.4-1.1.2M62.9,47.2l-.1-1.1-.7-.8-1.1-.3-1 .3-1 .5-1.1.2-1.1.2-1 .3-1.1.3-1 .3-1 .4-1.1.4M59,58.8l-.9.6-1.1.4-.9.5-.9.6-1.1.4-1.1.1-1.1-.2-.8-.6-.5-1 .2-1.1.7-.8 1-.5M28.4,35.5l.9.6 1 .5 1.1.1 1.1-.4.6-.9.4-1 0-1.1-.6-.9-.8-.8-.7-.9-.5-.9-.1-1.1M34.4,49.7l.2 1.1.6.9 1 .4 1.1.4 1.1.2 1 .4 1.1.1 1-.4.6-.9.4-1 .2-1.1.1-1.1M69.5,60.7l.4 1.1.8.7 1 .3M32.3,25.8l.8-.8 1-.5 1-.3 1.1.2 1 .5.6.9.2 1.1-.5 1-1 .6-.9.6-.9.6-.7.8M22.4,41l-1.1-.2-1 .4-.6 1 .1 1.1.6.9.9.6 1 .3 1.1-.1.9-.6.8-.8.7-.9.6-.9M48.9,46.2l-.7-.8-.8-.7-.9-.8-.8-.6-1-.6-.9-.6-.9-.6-.9-.6-.9-.7-.6-.9-.6-.9-.8-.8M50.7,63.9l.1 1.1-.3 1.1-.5 1-.4 1-.6.9-.7.9-.7.8-.8.8-.7.8-.4 1-.3 1.1-.3 1.1M42.3,47.8l1.1.2 1 .4 1 .5.9.6.8.7 1 .6 1.1.2 1.1.1 1-.4.9-.6.9-.6 1-.5M49.2,34.8l.6 1 .4 1 .3 1 .5 1 .6.9.6 1 .2 1 0 1.1-.7.9-1.1.3-1-.2-.8-.8M57.5,50.9l-.9.5-1.1 0-1.1-.4-1-.3-1.1-.1-1.1-.4-.9-.6-.7-.8-.5-1-.5-1-.6-.9-.7-.9M45,70.8l.1 1.1-.4 1-.8.7-1.1.2-1.1-.1-1.1-.2-1-.4-1-.4-1-.4-1.1-.2-1.1.1-.9.6M42.3,57.8l-1.1.1-1.1-.2-.9-.6-.5-1-.3-1 .1-1.1.8-.8 1.1-.3 1 .1 1 .6.9.6 1 .4M24,51.1l.1-1.1.3-1 .7-.9.9-.7.9-.6 1.1-.2 1.1 0 1 .3.9.7.6.9 0 1.1-.5 1M33,47.5l.1-1.1.2-1 .4-1.1.6-.9.9-.7 1-.3 1.1.2.8.8.3 1.1-.2 1.1-.4 1-.7.8M55.7,46.8l-1.1.4-1-.3-1-.4-1-.6-.8-.8-.7-.8-.5-1-.8-.8-1-.5-1.1.2-.8.7-.6.9M28.8,64.8l-.3-1.1-.4-1 .2-1.1.6-.9 1-.5 1.1.1 1 .6.8.7.9.7.8.6 1.1.4 1.1.1M27,35.6l-1.1 0-1.1-.2-1-.4-1-.3-1.1-.3-1.1-.1-1.1.3-1 .4-1 .4-1 .4M42.7,58l.7.8.3 1.1-.3 1-.8.8-1.1.1-1-.5-.5-.9 0-1.1.6-1 1-.4 1.1 0 1 .4M45.4,53.4l0 1.1-.3 1-.7.9-.9.6-1 .4-1.1-.1-1.1-.4-.8-.7-.6-.9.1-1.1.1-1.1-.2-1.1M29.5,26.6l-.5 1-.9.6-1.1.4-1.1 0-1.1-.2-.9-.5-.9-.6M53.4,71.1l.5-1 .3-1.1.5-1 .6-.9 1.1-.3 1.1-.1 1 .3.9.6.6.9.2 1.1-.4 1-.6.9M59.9,32.5l-1 .4-1.1.3-1.1 0-1-.4-.6-.9-.3-1 .2-1.1.8-.8 1-.4 1.1 0 .9.6.6.9M34.7,30.5l-.2-1.1-.5-.9-.9-.6-1.1-.3-1 .4-.7.8-.6 1-.5.9 0 1.1.6.9 1 .5 1.1.1M21.4,43.2l1 .5 1.1-.1.8-.7.5-1 .3-1 .1-1.1.2-1.1.1-1.1 0-1.1.3-1 .4-1.1.2-1.1M46.8,58.3l1-.3 1.1 0 1 .5.6 1 .2 1-.2 1.1-.8.8-1.1.2-1.1-.1-.9-.6-.4-1-.1-1.1"/>
<path id="p30_58" d="M6.1,41.6l-.2 1.1.1 1.1.1 1.1-.1 1.1-.4 1-.4 1-.5 1-.6 1-.7.8-.7.8M9.6,44.5l.1 1.1-.5.9-.9.7-1 .1-1.1-.4-.7-.8-.2-1.1.1-1.1.3-1.1.5-.9M13.3,46.1l.3 1 .5 1 .7.9M5.2,49.3l-.1 1.1-.6.9-1 .4"/>
<clipPath id="k31"><rect x="583.3" y="569.6" width="86.8" height="86.6"/></clipPath>
<path id="p31_60" d="M38.6,41.8l-1.1 0-1-.5-.7-.8-.1-1.1.5-1 .5-.9.2-1.1-.5-1-.9-.6-1.1-.1-1 .2-1 .5M59,16.9l1-.6 1-.2 1.1.1 1.1.1 1.1-.1 1-.4M32.6,28.1l0-1.1-.6-.9-1-.5-1.1-.2-1 .4-1.1 0-1.1-.1-1.1-.2-1-.5-.9-.6-.9-.6-1-.6M30.7,48.5l-.6-.9-.7-.8-.6-.9-.7-.8-.3-1.1.4-1.1.8-.6 1-.6 1-.3 1.1.1 1.1.2 1 .4M46.6,46l1-.5 1.1 0 1 .3.7.8.4 1.1-.4 1-.9.7-1.1.1-1-.3-1-.5-1-.4-.9-.7M54,52.7l.8-.8.5-1-.1-1.1-.5-.9-.8-.8-.9-.6-1.1-.3-1.1.1-1 .4-.7.8-.4 1.1.1 1M56.4,31.8l-1 .4-.9.6-.8.8-.6.9-.8.8-.5.9-.5 1-.4 1-.3 1.1 0 1.1.5.9 1 .6M54.9,38.6l-.5-.9-.6-1-.8-.7-.9-.7-1-.4-1-.3-1.1.1-.9.7-.2 1.1 0 1.1.6.9 1 .4M34.8,52.2l.3 1 .5 1 .7.9.8.7.8.8M28.4,39.5l1.1.4 1.1.1 1.1 0 1 .3 1 .4.8.9.7.8.8.8.8.7 1 .5.9.5 1.1.4M25.1,28.6l-.1-1.1.4-1 .9-.6 1.1 0 .9.6.6.9.4 1.1.5 1 .5.9.5 1 .2 1.1-.1 1.1M33.9,46.6l-1.1.4-1.1-.1-1-.4-1-.5-.9-.6-.8-.8-.8-.7-.7-.8-1-.6-1-.4-1.1.3-.9.6M35.9,35.9l1 .4.9.7.8.7.8.7 1.1.4 1.1.2 1 .2 1.1 0 1.1-.1 1.1-.2 1-.4 1-.4M31.5,31.8l.6 1-.1 1.1-.7.8-.9.5-1.1-.1-.9-.7-.2-1.1.3-1 .9-.7 1.1 0 .9.5.8.8M54.3,13.5l1-.5 1-.6 1-.3 1.1 0 1.1.3.7.9.1 1.1-.5.9-1 .6-1.1.1-1.1.1-1-.5M63.2,21.5l.1-1.1.1-1.1.4-1.1.3-1 .3-1.1.5-.9M48.4,15.9l-.8.8-.1 1.1.4 1 1 .6 1.1 0 1-.5.8-.7.5-1 .3-1.1-.2-1-.8-.8-1.1-.2M44.3,42.9l.7-.9.1-1-.5-1-1-.5-1.1-.1-1 .4-.9.7-.7.8-.1 1.1.2 1.1.5 1 1 .5M44.4,50.2l-.9-.6-.8-.8-.7-.8-.7-.8-.6-1-.4-1 0-1.1.5-1 .9-.5 1.1 0 .9.6.4 1M51.8,48.9l-.1-1.1.4-1 .6-.9.9-.6 1-.6.9-.7.6-.9.6-.8.7-.9.5-1 .4-1 .3-1.1M54.6,36.2l-1.1.2-.8.7-.4 1 0 1.1.5 1 1 .6 1.1-.1.9-.5.7-.9.2-1 .3-1.1.2-1.1M40.7,41.6l1.1-.3.8-.7.6-.9.2-1.1-.3-1.1-.8-.8-1-.3-1.1.3-.8.8-.5.9-.2 1.1.5 1M68.2,33.5l.3 1-.3 1.1-.4 1-.5.9-.7.9-.5 1-.3 1.1-.2 1-.1 1.1-.3 1.1-.3 1-.5 1M33.6,39.6l-1-.4-.7-.9-.1-1.1.6-.9.9-.5 1.1 0 1 .5.5 1 0 1.1.1 1.1 0 1.1.2 1.1M51.4,26.3l-1.1.3-1.1.1-1-.3-.9-.7-.6-.9-.4-1.1-.3-1-.1-1.1-.1-1.1-.2-1.1-.4-1-.2-1.1M46.7,9.1l-.6.9-1 .5-1.1.1-1-.5-.6-.9-.3-1.1-.1-1.1-.4-1M37.5,33.7l-1.1.4-1 .3-1.1-.1-1.1-.3-.9-.7-.8-.6-1-.5-1.1-.1-1.1.2-1 .6-.8.7-.5 1M45.4,52.9l1.1 0 1 .5.9.7.7.8.3 1.1-.1 1.1M44,19.4l-1.1.2-.8.7-.2 1.1 0 1.1.1 1.1-.2 1.1-.4 1-.7.9-.7.8-1 .5-1 .3-1.1.3M41.8,35.4l.2-1.1 0-1.1-.3-1-.6-1-.3-1 0-1.1.1-1.1.2-1.1.3-1.1.5-.9.9-.7 1-.2M53.8,28.2l-.5.9-1 .5-1.1-.2-.8-.7-.5-1 .1-1.1.4-1 .6-.9 1-.5 1.1-.1 1 .4 1 .6M26.8,47.8l-1 .5-1.1.3-1.1.1-.9-.6M60.1,47.9l-1.1.2-1.1.2-1.1 0-1-.4-.6-.9-.2-1.1.2-1.1.6-.9 1-.4 1.1.3.7.8.4 1.1M65.1,24.7l-.5 1-.8.7-1 .5-1.1.2-1.1.1-1.1-.2-1-.5-.6-.9-.1-1.1.1-1.1.4-1 .4-1M35.8,51.9l.9-.8.8-.6 1-.6.9-.5 1.1-.5 1-.3 1.1-.1 1.1-.2 1.1-.2 1-.1 1.1 0 1.1 0M55.1,11l-.9.6-1 .3-1.1 0-1.1-.2-1.1-.1-1.1 0-1.1.2-1.1.3-1 .5-.9.5-1.1.4-1 .3M51.7,34.9l.7-.8 1-.5 1.1 0 1.1.3 1 .5 1 .4 1.1-.1 1-.4 1-.5 1-.5.9-.5 1-.6M29,40.6l.1-1.1-.1-1.1-.3-1-.4-1.1-.6-.9-.5-1-.6-.9-.1-1.1.3-1 .9-.7 1.1 0 1 .5M36.9,11.6l-1.1-.3-.8-.7-.5-1 0-1.1.5-1M25.2,28.7l-1.1.1-1 .4-.9.5-.9.7-.7.9-.7.8-.8.8-.9.5-1.1 0-.9-.6M60.6,44.4l1.1-.1 1.1-.1 1.1 0 1.1.2.7.8.3 1.1.1 1.1M55.2,50.2l.5-1 .8-.8 1-.4 1.1.1 1 .5.9.6.8.7 1 .5 1 .6M59.3,15.6l-1.1.4-1 .2-1.1.2-1.1.3-1.1.2-1.1.1-1-.4-.8-.7-.6-1-.3-1 .3-1.1.8-.8M53,17.3l-.8-.7-1-.4-1.1-.1-.9.6-.7.9-.7.8-.9.7-1.1.2-1.1 0-1-.3-1.1-.3-1-.3M58.6,41.6l-1.1.1-.9.6-.9.6-.7.9-.1 1.1.3 1.1.8.8 1 .3 1.1 0 1.1 0 1.1.2 1.1-.3M21.1,32.5l1.1.1.9.7.3 1-.2 1.1-.8.8-1.1.2-1 .2-1.1.2-1.1 0-1.1-.1M38,42l.2-1.1.1-1.1.4-1 .8-.8.7-.8 1-.5 1.1-.1 1.1.1 1.1.2 1 .5 1 .3 1 .6M53.8,51.1l-1.1.2-1.1-.4-.6-.8-.3-1.1.2-1.1.5-1 .7-.8.7-.8.8-.8.7-.9.6-.9.6-.9M22.4,43.1l.6-.9.7-.8.7-.9.9-.7.8-.7.9-.7.7-.8.7-.8.8-.8 1-.5 1-.5.9-.6M44.7,10.4l-.3-1 .2-1.1.9-.7 1.1-.1 1 .5.5.9-.1 1.1-.6.9-.9.6-1.1.4-1.1.2-1-.4M39.2,41.2l-.2 1.1-.7.8-1.1.3-1.1.1-1.1.1-1.1 0-1-.4-.9-.6-.6-.9-.2-1.1-.1-1.1.3-1.1M38,30.5l0 1.1.4 1 .5 1 .6.9.7.9.8.7.9.6 1.1.4 1.1 0 1.1 0 1.1.2 1 .1M59.9,13.1l1.1.2 1 .4.9.6.9.6 1 .5M41.8,21.3l.9-.7.6-.9-.1-1.1-.4-1-.5-1-.7-.8-1.1-.3-1 .4-.7.8-.1 1.1.6 1 1 .4M50.3,19.8l-1-.4-1-.4-1.1-.4-1-.5-1-.4-1-.4-1.1-.2-1.1.2-1 .2-1 .6-1 .3-1 .5M39.5,28.5l-.1-1.1-.1-1.1-.5-1-.9-.6-1.1-.1-1.1.3-.8.7-.7.8-.6.9-.5 1-.4 1-.1 1.1M59.4,49.2l.3-1 .8-.8 1-.4 1.1 0 1.1 0 1.1.1.9-.6.5-1-.2-1-.7-.8-.9-.7-1-.5M54.5,52.5l.2-1.1.8-.8 1-.3 1.1.1 1.1.3.8.7.9.6 1 .6M39.5,52l-.5 1-.7.8-1 .5-1 .4-1.1.3-1 .4-.9.5M43.5,29.5l-.8.8-1 .5-1.1-.2-.9-.6-.9-.7-.9-.7-.7-.7-.5-1-.2-1.1-.1-1.1.3-1.1.6-.9M42.8,35.8l1.1.3 1.1 0 1.1-.3.9-.6.8-.8.5-1 0-1.1-.4-1-.5-1-.7-.8-.9-.7-1-.4M22.1,44.1l-.4-1-.3-1.1-.1-1.1 0-1.1.4-1 .8-.7 1.1 0 1 .4 1 .6.9.6.9.6.9.7M59.5,26.9l0-1.1-.1-1.1-.5-1-.9-.7-1-.4-1-.4-1.1-.3-.9-.6-.9-.7-.6-.9-.3-1.1-.2-1.1M47,23.2l.6.9.7.8 1 .4 1.1-.2.8-.8.5-1-.1-1.1.2-1 .3-1.1.2-1.1-.3-1.1-.5-.9M37.2,20.7l.1-1.1.2-1 .2-1.1 0-1.1.1-1.1.5-1 .7-.9.8-.6.9-.7.7-.9.7-.8.9-.7M43.3,46.5l-.6.9-.3 1.1-.5 1-.5.9-.4 1.1-.2 1 .1 1.1.6 1 .8.7 1 .4 1.1.4.8.7M45,8l-.3-1-.2-1.1M65.8,27.7l.6 1 1 .4 1-.1.9-.7.6-.9.4-1.1.3-1M37.8,11.3l-.3-1-.1-1.1.4-1.1.8-.7 1.1-.3M47.7,31.7l.6.9 0 1.1-.6.9-.9.7-1 .3-1.1-.1-.8-.8-.4-1-.1-1.1.3-1.1.6-.8 1-.5M33.2,47.8l-.7.9-.4 1-.1 1.1.4 1 1 .6 1.1.1 1-.4.9-.5 1-.6.8-.7 1-.5 1-.4M40.4,11.1l.9-.6.6-.9.6-.9.1-1.1-.3-1M66.4,31.6l1-.5 1.1.2 1.1.2 1.1.1 1.1-.1M55,38.3l.7-.9.8-.8.7-.8.5-1 0-1.1-.6-.9-1-.4-1.1.3-.8.7-.2 1.1.2 1.1.4 1M53.6,33l-1 .3-1 .5-1.1.4-1 .4-1.1 0-1.1.1-1.1.1-1.1-.1-1.1 0-1-.5-.6-.9 0-1.1M40.6,32.7l.5.9.2 1.1-.4 1.1-.8.7-1.1.2-1-.5-.6-1-.1-1 .2-1.1.8-.8 1.1-.3 1.1.2M30.4,27.7l.6.9.5 1 .2 1.1-.3 1-.8.8-1.1.1-1-.4-.7-.9 0-1.1.2-1 .1-1.1.1-1.1M31.5,30.3l0 1.1-.6.9-1 .5-1.1.1-1-.2-1-.6-.4-1 .2-1.1.4-1 .8-.8 1.1-.3 1 .2M64.1,23.4l.9-.6.5-.9 0-1.1-.4-1-.5-1.1-.6-.8-1-.6-1.1 0-.8.6-.6 1-.2 1.1 0 1.1M34.9,33.9l.1-1.1.4-1 .5-1 .7-.8.6-1 .2-1.1.1-1.1 0-1.1.5-1 .6-.9.7-.8.8-.8M57.9,44.5l.5 1 .6.9.7.9.8.7.9.7 1 .3 1.1.3 1.1 0M47.6,33l1-.4 1.1 0 1.1.1 1.1.3.7.8.2 1.1-.5 1-.9.5-1.1.3-1.1-.2-.8-.7-.6-.9M65.1,35.6l.3-1.1-.4-1-1-.7-1-.2-1.1.1-1.1-.1-1.1-.1-1 .4-.6 1 0 1.1.7.9.9.5M38,11.2l1.1-.1 1-.5.9-.7.4-1-.2-1.1-.5-1M30.3,26.5l-.1 1.1.4 1 .9.6 1.1 0 .9-.7.4-1-.3-1.1-.7-.8-1-.5-1.1-.1-.9.5-.6 1M63.3,40l.5-1 0-1.1-.5-1-.8-.6-1.1-.1-1.1.4-1 .4-1.1.3-.9.5-.9.7-1 .3-1.1-.2M45.4,42.4l.4 1.1.8.7 1.1.2.9-.5.6-1-.1-1.1-.6-.9-1-.5-1.1 0-1 .4-.8.8-.3 1M39.8,28.9l-1 .5-.8.8-.8.8-.8.7-1 .5-1.1 0-1.1-.2-.7-.8-.3-1.1-.2-1.1 0-1.1.2-1M44.6,32.1l1-.5.5-1 0-1.1-.5-1-.9-.6-1.1 0-1 .5-.8.7-.6 1-.5.9-.7.9-.9.6M41,31l-1-.5-1.1-.3-1.1.1-1.1-.1-1.1.2-1 .2-1.1.3-1.1.1-1.1-.1-1.1-.1-1.1-.1-1.1 0M57.6,47.3l.7.8.4 1 .6 1 .1 1.1 0 1.1-.2 1M65.9,33.2l-1-.4-1.1 0-1 .4-.8.7-.8.8-.6.9-.4 1.1-.3 1-.3 1.1-.2 1.1.1 1.1.4 1M39.2,36.9l-1-.3-.9-.7-.4-1.1-.5-.9-.7-.9-.8-.8-.9-.6-.9-.5-.7-.9-.6-.9-.7-.9-.7-.8M40.1,28.6l1 .4 1 .4 1 .5.8.7.4 1.1-.1 1.1-.2 1.1-.4 1-.7.8-.8.8-.9.7-1.1.1M57.5,45.6l1.1.1 1.1-.3.8-.7.7-.9.8-.7.9-.6 1.1-.3 1.1.2 1.1.1 1 .4.8.7.6 1M56.3,49.4l.8.8.9.5 1.1.1 1-.4.8-.9.2-1 0-1.1-.1-1.1-.4-1.1-.7-.8-1.1-.3-1.1 0M63.7,42.3l.8-.7 1.1-.2 1 .3 1 .4.8.8 1 .5M40.1,41.7l-.6 1-.9.6-1.1-.1-1-.4-.8-.8-.7-.9-.3-1 .4-1.1.9-.6 1.1 0 1.1.1.9.6M62.5,27.2l-.8.8-.9.7-.8.8-.6.9-.9.6-1 .3-1.1 0-1.1.2-1.1 0-.9-.6-.6-1-.3-1M41.5,26.4l1-.5 1.1-.3 1.1-.1 1.1-.2 1-.2 1.1-.1 1.1 0 1.1.2 1.1.2 1 .4 1 .5 1 .3M47.2,15.1l1 .5 1.1-.2.8-.8.5-1 .2-1-.3-1.1-.4-1-.5-1-.3-1.1-.1-1.1-.1-1.1M38.3,28.6l1.1.1.9.5 1 .4 1 .6 1 .5 1.1.2 1.1-.1.9-.5.5-1 0-1.1-.7-.8-1-.4M55.5,48.2l-.7.9-.7.8-.5 1-.5 1-.2 1.1.1 1 .8.8.9.7M50.6,53.2l1-.4.9-.7.6-.9 0-1.1-.6-.9-.9-.6-1.1-.3-1.1-.2-1.1-.3-1-.4-1-.4-1-.5M37.3,19.7l1.1 0 1-.5.7-.8.5-1 .1-1.1-.3-1.1-.6-.9-.8-.7-1-.5-1.1 0-1.1.2-1.1.2M46.5,35.4l1.1-.1.9-.7.5-1 .2-1.1-.3-1-.8-.7-1.1-.2-1 .5-.8.7-.9.7-.8.8-.6.9M40.3,28.6l-1.1-.1-1.1 0-1 .4-.7.9-.2 1.1.1 1.1.2 1 .2 1.1.6.9.9.7 1 .4 1.1.1M62.1,20.5l-1.1-.3-1-.3-1.1-.2-1.1-.3-1-.4-.9-.6-.6-.9-.4-1.1-.4-1-.4-1-.2-1.1-.5-1M37.7,50.3l-.2 1.1-.4 1-.7.9-.9.6-1 .4-1 .5-.9.6M33.1,22.9l-1.1.2-.9.6-1 .5-1 .4-1 .4-1.1.1-1.1-.3-.9-.6-.7-.8-.5-1.1-.2-1-.2-1.1M29.2,15.6l-.9.5-.8.8-.4 1-.1 1.1.3 1.1.5 1 .5 1 .3 1 .4 1 .5 1 .7.8 1 .5M56,29.8l1.1.1 1.1-.1 1 .3.7.8.2 1.1-.4 1-.5 1-.2 1.1.1 1.1.4 1 .4 1 .3 1.1M18.3,28.6l-1-.3-1-.4M34.8,51.7l1 .3 1.1-.1 1-.4 1-.5.8-.8.6-.9.5-1-.1-1.1-.5-.9-.8-.8-.9-.6-1-.4M44.8,11.2l-.9-.6-.6-.9-.3-1.1.1-1.1.4-1M24.2,42.4l1 .6.4 1-.1 1.1-.6 1-.9.6-1.1.1-1.1 0M41.4,33.4l-.5-1-.6-.9-1-.6-1-.3-1.1.2-1 .5-.6.9-.3 1.1.2 1 .6.9 1 .5 1.1-.2M49.7,34.5l.1-1.1-.6-.9-1-.5-1.1.2-1 .5-.6.9 0 1.1.2 1.1.5 1 .4 1 .3 1 .1 1.1M47.4,23.3l-.2 1.1 0 1.1 0 1.1 0 1.1-.4 1-.5 1-.4 1-.5 1-.4 1-.5 1-.6.9-.5 1M32.4,49.8l-.8.8-.6.9-.4 1 .1 1.1.7.9M57.5,32.2l-.7.8-1 .6-1 .4-1.1.2-1 .5-.7.8-.3 1 .4 1.1.8.7 1 .4 1.1.1 1.1-.1M66.4,29.3l1-.6 1-.1 1.1.3 1 .4.6.9 0 1.1-.2 1.1-.2 1.1-.6.9-.7.9-.7.9-.6.8M47.7,50.5l-1.1.1-1 .2-1.1.3-1 .4-1.1.4-1 .2-1.1 0-1.1-.1-1-.5-.4-1 .1-1.1.8-.8M36.6,28l-1-.4-1.1-.1-1-.3-.8-.9-.2-1 .3-1.1.8-.8 1-.4 1.1 0 .9.6.4 1.1-.1 1.1M45.6,21.4l0 1.1 0 1.1.4 1 1 .5 1.1.1 1-.4.8-.7.4-1.1-.1-1.1-.3-1-.1-1.1.1-1.1M26.1,32.3l-.6.9-.8.8-1 .4-1 .3-1.1.3-1 .4-.9.7-.7.9-.2 1 .1 1.1.7.9.9.7M46,10.3l-.9.6-1 .5-.8.8-.7.8-.4 1.1-.5.9-.3 1.1.2 1.1.7.8 1 .5 1 .4 1.1.1M39.5,35.7l0-1.1-.1-1.1-.1-1.1.1-1.1-.1-1.1-.3-1.1 0-1.1.4-1 .7-.8.8-.7 1-.6 1-.3"/>
<path id="p31_61" d="M41.7,36.7l.1-1.1 0-1.1M27.3,51.9l.2 1 .2 1.1 0 1.1-.1 1.1-.1 1.1-.1 1.1-.3 1.1-.4 1-.6 1-.6.8-.8.8-.8.8-.7.9M30.6,56.3l.1-1.1.4-1.1.6-.9.7-.8.9-.7.8-.7.9-.6 1-.5 1.1-.3 1.1-.2 1.1 0 1.1.1 1.1.2 1 .3 1.1.3.9.6M49,72.9l-.2 1.1-.2 1.1-.1 1.1-.1 1.1-.1 1.1.1 1.1.1 1.1.2 1 .3 1.1.1 1.1-.1 1.1-.1 1.1M53,48.3l.3 1.1.5 1 .7.8.9.7.9.6M29.1,75.9l0-1.1.3-1.1.4-1 .4-1 .4-1 .4-1.1.4-1 .4-1 .3-1.1.1-1.1-.1-1-.4-1.1-.4-1-.6-.9-.8-.8-.8-.7M33.9,44l-.3-1-.2-1.1.1-1.1.3-1.1.4-1 .6-.9.7-.9.7-.9.7-.8.7-.8M45.2,80.1l1-.6.9-.5 1.1-.4.9-.6 1-.4 1.1-.3 1.1-.2 1.1-.1 1.1.1M27.9,63l-.2 1 .1 1.1.4 1.1.6.9.7.8.8.8.7.8.7.8.8.8.8.8.8.7.9.7.9.6 1 .6.9.5 1 .4M38.3,77.1l.2 1.1 0 1.1 0 1.1.1 1.1.1 1.1 0 1.1-.1 1.1 0 1.1 0 1.1 0 1.1-.1 1.1M35.4,76.2l-.2 1.1 0 1.1.1 1.1.3 1.1.4 1 .4 1.1.4.9.7 1 .7.8.8.8.8.7.9.6 1 .4 1.1.1 1.1-.1 1.1-.3M54,64.6l.3 1.1.2 1 0 1.1-.1 1.1-.3 1.1-.6.9-.8.7-1.1.3-1.1 0-1-.4-.9-.7-.7-.8-.7-.9-.6-.9-.6-1-.5-.9M33.9,44.3l-.2-1.1-.1-1.1-.2-1.1 0-1.1.1-1.1.1-1.1.2-1.1M38.7,80.9l.2-1.1.4-1 .5-1 .9-.7.9-.6 1-.4 1.1-.4 1-.4 1-.4 1-.4 1.1-.3 1-.3 1.1-.2 1.1 0 1.1.1 1 .5M32.3,71.4l-.2-1-.5-1-.7-.9-.8-.7-1-.4-1.1-.4-1.1 0-1.1.2-1 .3-.9.6-.9.7M37.4,76.5l-.6.9-.7.9-1 .5-1.1.3-1.1-.1-1-.3-1-.5-.7-.8-.5-1-.3-1.1-.2-1.1.1-1.1.4-1 .3-1.1.3-1 .5-1M38.1,51.1l.3 1.1.2 1 .3 1.1.4 1 .5 1 .5 1 .7.9.8.7 1 .5 1 .5.9.5 1 .6.9.5 1 .6.9.5.9.7M46.4,75.3l.7-.9.7-.9.7-.8.7-.8.6-1 .6-.9.5-.9.6-1 .7-.8.8-.8.9-.6 1-.3 1.1-.1 1.1.4M50.5,63.6l-.1 1.1-.1 1-.2 1.1-.4 1.1-.4 1-.5 1-.5.9-.7.9-.8.8-.8.7-.9.6-1.1.3-1 .3-1.1.2-1.1.1-1.1.1M47.2,41.9l.6-.9.7-.8.7-.9.8-.7M46.3,85.1l.6.9.6.9M41.8,59.3l-.5-1-.3-1.1-.3-1-.3-1.1-.2-1.1.1-1.1.2-1 .3-1.1.5-1 .6-.9.6-.9.7-.9.8-.7.9-.6 1-.5 1-.4M32.5,55.9l.4 1 .6 1 .7.8 1 .5 1 .4 1.1.3 1 .2 1.1.2 1.1.1 1.1.1 1.1 0 1.1.1 1.1.2 1 .4 1 .5.9.6M44.9,66.4l-.4-1.1-.5-.9-.7-.8-1-.5-1.1-.1-1.1.3-1 .6-.7.8-.6.9-.4 1-.3 1.1-.3 1.1-.2 1-.4 1.1-.3 1-.3 1.1M29.2,66.1l-.2-1-.1-1.1-.1-1.1 0-1.1 0-1.1.2-1.1.3-1.1.5-1 .7-.8.9-.7 1-.4 1-.4 1.1-.2 1.1-.2 1.1.1 1 .1M30.7,74.9l-.3-1.1-.3-1-.5-1-.6-.9-.8-.8-.9-.6-1-.5-1-.5-1-.4-1.1-.3M29,67.9l.2-1.1.7-.9.9-.6 1.1-.2 1.1.1 1 .5.8.6.6 1 .5 1 .2 1 .1 1.1.1 1.1 0 1.1 0 1.1 0 1.1.1 1.1M49.5,82.4l-.3-1.1-.2-1.1-.3-1-.2-1.1-.1-1.1-.2-1.1-.2-1.1-.2-1.1-.3-1-.5-1-.6-.9-.6-.9-.7-.8-.8-.8-.8-.8-.9-.6M50.9,77.9l0-1.1.3-1.1.5-1 .8-.7 1-.5 1-.4 1.1-.1M48,76.6l.5-1 .4-1.1.4-1 .2-1.1 0-1.1-.2-1-.5-1-.6-.9-.8-.8-.9-.7-.9-.6-.9-.5-1-.5-1.1-.3-1.1-.2-1.1-.2M46.3,62.8l0-1.1.2-1.1.1-1.1 0-1.1-.1-1.1-.2-1-.4-1.1-.3-1-.3-1.1-.2-1.1-.1-1.1-.2-1.1-.2-1-.2-1.1-.1-1.1-.1-1.1M27.3,59.6l.1-1.1.3-1.1.3-1 .6-1 .6-.9.8-.7 1-.5 1.1-.3 1-.2 1.1-.1 1.1 0 1.1-.1 1.1.1 1.1 0 1.1.1 1.1.2M37.1,51.4l-.6-.9-.8-.8-.9-.7-.8-.6-.9-.7-.9-.6-.9-.7-.9-.6-.9-.7-.8-.7-.6-.9-.6-1M41.1,82l.2-1.1.4-1 .6-.9.8-.8 1-.4 1.1-.2 1.1.2 1 .4.8.7.6.9.4 1 .3 1.1.1 1.1-.1 1.1-.4 1M35.8,41.4l0 1.1.2 1.1.2 1 .1 1.1.2 1.1.3 1.1.5 1 .6.9.7.8.8.7.9.7.9.7.9.6.9.7.8.7.7.9M46.5,78.9l.1-1.1 0-1.1.2-1.1.2-1.1.3-1.1.3-1 .4-1.1.4-1 .5-1 .6-.9.6-.9.8-.8.7-.8.9-.7.9-.6.9-.7M34.3,66.7l.5 1 .7.9.7.8.8.8.7.8.8.8.7.8.6 1 .4 1 .4 1 .2 1.1.1 1.1 0 1.1-.2 1.1-.4 1-.4 1M37.9,48l-.4-1-.3-1-.1-1.1.1-1.1.3-1.1.5-1 .5-1 .6-.9.6-.9.7-.9.7-.8.7-.8.7-.9.5-1M42.2,39.4l.3-1 .4-1.1.4-1 .7-.8M37.8,67.3l.1-1.1.1-1.1.1-1.1.3-1.1.3-1 .5-1 .5-1 .6-1 .5-.9.6-.9.6-1 .5-1 .5-.9.6-.9.7-.9.7-.9M26.2,62.5l0 1.1.1 1.1.2 1.1.3 1.1.4 1 .6.9.7.9.7.8.6.9.7.9.8.8.8.7.9.6.9.7.8.7 1 .6M46.9,65.1l.8-.7 1-.5.9-.6 1-.5 1-.5.9-.5 1-.6.9-.6.9-.6.9-.7.6-.9M33.5,56.9l.3 1 .3 1.1.4 1 .4 1 .6.9.9.7 1 .4 1.1 0 1.1-.2 1-.4 1-.6.8-.7.6-.9.4-1 .2-1.1.2-1.1M40.8,36.4l-.6.9-.7.9-.8.7-.9.6-1.1.4-1.1.2-1.1 0-1-.4-.9-.6-.8-.7-.7-.9M34.2,58.7l.9-.6 1-.5 1-.4 1.1-.3 1-.4 1-.4 1-.4 1-.6.9-.6.9-.7.8-.7.9-.6.9-.7.8-.8.7-.8.8-.7M45.2,60.4l-.1 1.1-.1 1-.1 1.1 0 1.1-.2 1.1-.1 1.1-.3 1.1-.3 1-.6 1-.6.9-.7.8-.7.9-.6.9-.7.9-.7.8-.6.9M33.5,73.2l-.3 1.1-.1 1.1.1 1.1 0 1.1.1 1.1.1 1.1.1 1.1.1 1 .2 1.1.3 1.1.3 1 .3 1.1.4 1 .3 1.1M34.7,43.5l.5-1 .6-.9.9-.7.9-.6.9-.5 1-.5 1.1-.4 1.1-.2 1-.1 1.1-.2 1.1-.2 1.1-.1 1.1-.1 1.1-.1M37.7,72l.1 1.1.3 1 .5 1 .8.8.8.8.8.7.9.6 1 .5 1 .4 1 .4 1.1.3 1.1.3 1 .4.9.6.9.6.9.7M52.1,63.4l.4 1.1.3 1 .2 1.1.1 1.1.2 1.1.1 1.1.1 1.1.1 1.1-.1 1-.1 1.1-.3 1.1-.4 1-.6.9-.7.9-.7.9-.7.8M40,47.1l-.2-1.1-.2-1.1-.2-1.1-.1-1.1 0-1.1.1-1.1.1-1.1.3-1 .2-1.1.3-1.1.2-1.1.4-1M45.9,42.4l.4-1 .6-.9.8-.8 1-.5 1.1-.2M32,45.7l-.6 1-.7.8-.9.7-1 .4-1.1.1-1-.3-1-.5-1-.6M40.5,83.1l.4-1 .6-1 .7-.9.8-.7 1-.4 1.1-.3 1.1.1 1.1.1 1.1.1 1 .4 1.1.3 1 .4 1.1.3"/>
<clipPath id="k32"><rect x="672.1" y="569.6" width="86.9" height="86.6"/></clipPath>
<path id="p32_63" d="M30.8,7.1l.6.9.5 1 .5 1 .8.8.9.5 1 .4 1.1.1 1.1-.2 1-.4 1-.6.8-.7.8-.8.6-.9.5-1 .3-1 .2-1.1M49.9,21.7l-.1 1.1-.2 1.1 0 1.1.1 1.1.1 1.1.1 1.1 0 1.1 0 1.1 0 1.1-.1 1.1-.2 1.1-.2 1-.3 1.1-.4 1-.5 1M35.7,25.5l.5 1 .3 1.1.5 1 .4 1 .4 1 .1 1.1-.3 1.1-.5 1-.5.9-.4 1.1-.2 1 0 1.1M36.1,18.2l-1-.4-1.1-.4-1.1-.2-1-.2-1.1-.1-1.1-.1-1.1-.1-1.1-.3-1-.4-1.1-.2-1.1-.2-1-.3-1-.5-1-.5-.9-.6-1-.6M37.8,29.3l-.7-.8-.9-.7-1-.4-1.1-.3-1.1 0-1.1.2-1 .5-.9.6-.8.7-.8.8-.7.8M44.8,37.8l.3 1 0 1.1M28.9,23.1l-.8-.7-.9-.8-.8-.6-.9-.7-.9-.7-.7-.8-.6-1-.4-1-.2-1 0-1.1.3-1.1.5-1 .6-.9.7-.9.7-.8.6-1M37.6,17.5l-.3-1.1 0-1.1.2-1 .5-1 .7-.9.9-.7 1-.4 1.1-.2 1.1 0 1.1 0 1 .1 1.1.1 1.1.1 1.1 0M28.2,6.7l.4 1.1.6.9.8.8.8.7 1 .5 1 .3 1.1.1 1.1-.2 1.1-.4.9-.6.8-.7.8-.7.8-.8.7-.9.7-.8.7-.9M47.1,27.7l-.9-.6-1.1 0-1.1.3-.7.8-.4 1.1 0 1.1.4 1 .7.8.9.7.9.6 1 .5 1.1.1 1-.3.9-.7.7-.8.6-1M42.7,29.4l.2 1.1.3 1 .4 1.1.5.9.7.9.8.8.9.7.8.6 1 .6.8.7M25.9,16.5l.1 1.1 0 1.1-.3 1.1-.3 1-.6 1-.7.8-.9.7M38.3,5.5l.6.9.8.8.9.6 1 .5 1.1.2 1.1.1 1.1.2 1.1 0 1.1.1M32.1,24.6l.6.9.5 1 .3 1.1 0 1.1 0 1.1-.1 1.1-.2 1-.3 1.1-.2 1.1-.3 1M47.8,28.6l-.6-1-.7-.8-.8-.7-.8-.8-.8-.7-.8-.8-.8-.7-.8-.8-.6-.9-.5-1-.5-1-.3-1-.2-1.1-.2-1.1-.3-1.1-.4-1M32.2,9.1l.6.9.6 1 .5 1 .2 1.1.2 1-.1 1.1-.3 1.1-.3 1-.5 1-.6.9-.7.9-.8.8-.8.7-1 .5-1 .4-1 .4M35.5,5.1l-.5-1-.8-.8-.8-.7-1.1-.4-1-.2-1.1-.2-1.1-.2-1-.4-.9-.6-.8-.8-.6-.9-.5-1-.2-1.1M48.5,25l-1-.4-1-.4-1-.4-1-.5-1-.5-1-.3-1-.5-1-.5-1-.5-1-.5-.8-.6-.9-.8-.8-.7-.9-.7-.9-.5-1.1-.3M44,19.8l.3 1 .6 1 .6.9.7.8.7.9.5 1 .5 1 .3 1 .2 1.1.2 1.1 0 1.1.2 1.1.4 1 .7.9.8.7 1 .4M40.9,23.7l-.1-1.1-.2-1.1 0-1 .1-1.1.4-1.1.5-1 .6-.9.8-.8.8-.7.8-.7.7-.9.6-.9.3-1.1.2-1.1.3-1M36.9,10.3l.5 1 .5 1 .7.9.6.9.8.8.7.8.9.6.9.7 1 .4 1.1.3 1 .4 1.1.3 1 .4 1 .4 1.1 0 1-.4M39,23.5l.6 1 .4 1 .1 1.1-.1 1.1-.3 1.1-.3 1-.2 1.1-.1 1.1-.3 1.1-.3 1-.4 1-.5 1-.6.9-.7.9M34.9,24.1l-.7-.8-1-.6-1-.4-1-.3-1.1-.1-1.1-.1-1.1-.2-1.1-.2-1-.5-.8-.8-.4-1 0-1.1.2-1.1.3-1 .6-.9.8-.8M24.2,2.2l-.2 1.1-.4 1-.8.8-.8.7-.9.6-1 .6-.9.5M36.3,6.9l-.6-.9-.6-.9-.8-.8-.7-.8-.9-.6-1-.5-1.1-.4-1-.3-1-.4-1.1-.2-1.1-.1-1.1.1-1.1.2-1 .4-.9.7-.8.8M38.5,30.8l.4 1 .4 1 .6 1 .6.8.8.8.8.8.6.9.7.9.7.8.8.8M38.1,22.2l-.1 1.1-.3 1-.7.9-.9.7-1 .4-1 .2-1.1-.1-1.1-.5-.8-.7-.6-.9-.3-1.1.1-1.1.5-.9.9-.6 1.1.1.9.6M46.1,31l1 .4 1.1.2 1.1-.2 1-.4 1-.5 1-.5 1-.4M36.3,21.1l-1-.3-1.1 0-1 .4-.8.8-.7.9-.5 1-.4 1-.2 1.1 0 1.1 0 1.1-.1 1.1-.1 1.1.1 1.1.5 1 .6.9.9.6M28.4,10.3l.5 1 .4 1 .3 1.1.1 1.1.1 1.1-.3 1-.7.9-1 .4-1.1 0-1-.5-.8-.7-.7-.9-.3-1.1 0-1.1.2-1.1.6-.9M30.6,10.4l-.4-1-.4-1.1-.3-1-.5-1-.6-.9-.6-.9-.6-.9-.6-1-.8-.8-.7-.8-.8-.8-.8-.7-1-.5M28.3,-.2l-.1-1.1.1-1.1.3-1.1M41.7,4.6l-1-.6-.9-.6-.9-.6-.8-.7-.7-.8-.6-.9-.4-1.1-.1-1.1M29.2,2.3l-.4-1-.6-.9-.8-.8-.7-.8-.9-.7-1.1-.3M35,16.9l-1-.5-1-.3-1.1 0-1.1.3-1 .5-.9.6-.8.7-.7.9-.6.9-.5 1-.4 1-.2 1.1 0 1.1 0 1.1 0 1.1.1 1.1M37.8,19.4l-.6-.9-.6-1-.5-1-.4-1-.3-1.1-.3-1-.3-1.1-.3-1-.2-1.1-.1-1.1.2-1.1.2-1.1.3-1 .2-1.1-.1-1.1-.2-1.1M23,3.3l-.5-1-.6-.9-.5-1M37.7,28.8l-.3-1.1-.5-1-.8-.7-1-.5-1-.5-1-.4-1-.4-1-.5-1-.5-.8-.7-.7-.9-.6-.9-.4-1-.3-1.1-.2-1.1 0-1.1M39.8,15.7l.5.9.5 1 .4 1 .2 1.1.1 1.1.2 1.1.3 1.1.1 1.1-.2 1.1-.4 1-.5 1-.5.9-.6 1-.3 1-.1 1.1.2 1.1M25.2,21.1l-.6-1-.3-1-.1-1.1.1-1.1.2-1.1.6-.9.6-1 .6-.8.5-1 .5-1 .3-1.1.3-1 .4-1 .5-1 .5-1 .7-.9M31.7,9.1l-.7-.9-.8-.7-1-.5-1-.3-1.1 0-1.1.3-.9.6-.6.9-.3 1.1.3 1.1.6.9.9.5 1.1.3 1.1.1 1.1-.2 1.1-.3M49.9,25.6l.3 1 .2 1.1.2 1.1-.1 1.1-.2 1.1-.3 1-.5 1-.5 1-.7.9-.8.7-1.1.4-1.1.1-1-.1-1.1-.3-1-.5-.8-.8M24.8,24.1l-.3 1.1-.5 1M39.8,9.1l.1 1.1.3 1 .4 1.1.4 1 .6.9.7.9.9.6.9.5 1.1.3 1.1.1 1.1-.3.9-.7.6-.9.2-1.1-.2-1.1M35.3,18.8l-.2-1.1.2-1.1.4-1 .6-.9.7-.9.7-.8.9-.7.9-.5 1.1-.4 1-.4 1-.5 1-.5 1-.4 1-.4 1.1-.2M37.1,20.8l-.9-.6-.9-.6-.9-.7-.7-.8-.6-.9-.7-.9-.5-1-.2-1.1.1-1.1.2-1 .1-1.1 0-1.1-.1-1.1-.1-1.1-.1-1.1-.2-1.1M24.1,12.9l-.4 1-.5 1-.3 1.1-.2 1.1-.1 1.1.1 1.1 0 1.1.1 1.1.2 1 .2 1.1M37.9,6.6l.1 1 .1 1.1.1 1.1-.1 1.1 0 1.1-.1 1.1-.4 1.1-.5.9-.9.7-1 .4-1.1 0-1.1-.2-1-.4-.9-.6-.6-.9-.4-1.1M39.9,18.1l-.7-.9-1-.5-1.1-.1-1 .3-1 .6-.7.8-.4 1-.4 1.1.1 1.1.3 1.1.4 1 .4 1 .4 1 .5 1 .4 1 .4 1M25.7,26.1l.4 1 .2 1.1M34.7,11.1l.5 1 .7.8.7.8.8.8.6.9.4 1 .4 1.1.2 1 .1 1.1.2 1.1 0 1.1.2 1.1.3 1.1.4 1 .5 1 .6.9M44.2,8.1l-.4-1.1 0-1.1.4-1M32.7,27.4l.4 1 .4 1 .2 1.1 0 1.1-.3 1.1-.7.9-.9.6M32.4,14.1l-.9-.7-.9-.6-.9-.6-.8-.8-.8-.7-.8-.8-.6-.9-.6-1-.5-.9-.5-1-.5-1-.7-.9-.8-.7-.8-.8-.8-.7-.8-.8M27.6,14.3l-.5.9-.9.7-1 .5-1 .2-1.1 0-1.1-.3-1.1-.3-1-.3M30.3,6.5l-.7-.9-.5-1-.3-1-.2-1.1-.1-1.1 0-1.1.1-1.1.2-1.1.5-1 .7-.8M41,17.8l.9.6 1.1.2 1.1-.2 1-.6.7-.8.5-1 .2-1-.1-1.1-.3-1.1-.6-.9-.9-.6-1.1-.4-1.1-.1-1 .3-.9.7-.6.9M29.4,6.9l-.7-.8-.9-.7-.9-.6-.8-.7-.8-.9-.6-.8-.5-1-.4-1.1 0-1.1.2-1M44.9,24l-.4-1-.4-1-.3-1.1-.3-1-.3-1.1-.1-1.1 0-1.1.2-1.1.3-1 .5-1 .7-.9.8-.7 1-.5 1-.3 1.1-.1M39.2,26.4l.8.8 1 .5 1.1.2 1.1.1 1.1-.1 1.1-.3 1-.3 1.1-.3 1.1 0 1.1 0 1.1.2 1 .3 1 .6M50.9,20.4l.4 1 .2 1.1-.1 1.1-.3 1.1-.5.9-.6 1-.8.8-.8.7-.7.8-.8.8-.7.9-.5.9-.4 1.1.1 1.1.4 1 .6.9M26.2,23.8l-.7-.8-.6-.9-.6-.9-.5-1-.3-1.1.1-1.1.4-1 .7-.9.9-.6 1-.4 1.1-.1 1.1.3 1 .4 1 .3 1.1.1 1.1-.2M48.4,19.8l.5 1 .5.9.7.9.7.9.7.8.8.8.9.6M32.2,3.4l.8.8 1 .6 1 .3 1.1.2 1.1-.1 1.1-.2.9-.6.8-.7.6-.9.5-1"/>
<path id="p32_64" d="M43.2,19l.3 1 .2 1.1.1 1.1.2 1.1.2 1.1.1 1.1.1 1.1-.1 1.1-.3 1-.5 1-.6.9-.6.9-.5 1-.6.9-.6 1-.7.8M50.7,22.6l.4 1 .5 1 .4 1 .3 1.1.1 1.1 0 1.1-.2 1.1-.3 1-.4 1.1-.3 1-.1 1.1-.1 1.1.1 1.1-.1 1.1-.2 1.1-.4 1M37.8,20.8l-.3-1.1-.6-.9-.7-.8-1-.6-.9-.5-1.1-.2-1.1.1M62.4,37.1l-.9-.7-1.1-.1-1 .5-.5 1 .1 1.1.7.9 1 .4 1-.1 1-.5.7-.9.4-1 .2-1.1.3-1 .3-1.1.3-1.1.4-1M38.5,46.6l-.4-1.1-.1-1.1-.1-1-.1-1.1-.2-1.1-.4-1.1-.4-1-.3-1-.1-1.1 0-1.1 0-1.1-.1-1.1-.1-1.1 0-1.1.2-1.1.3-1.1M36.9,59.1l.5 1 .4 1 .4 1.1.3 1 .4 1 .2 1.1.3 1.1.5 1 .6.9.6.9.6.9.7.9.5 1 .4 1 .3 1 .3 1.1M37.1,62.5l1 .4 1 .3 1.1.3 1.1.4 1 .2 1.1.3 1.1.1 1.1.2 1.1.2 1 .2 1.1.2 1.1.3 1 .4 1 .4 1 .5.9.6M40.6,47.5l-.8-.7-1.1-.4-1-.2-1.1.3-.8.8-.6.9-.2 1.1-.1 1.1.2 1.1.4 1 .6.9.9.6 1.1.4 1 .2 1.1 0 1.1-.3M44.6,41l.5.9.5 1 .5 1 .3 1 0 1.1-.4 1.1-.5.9-.8.8-.8.7-.9.7-.7.8-.7.9-.5 1-.2 1.1.1 1.1.1 1.1M50.7,61.4l-.6-.9-.9-.7-.9-.7-.9-.6-.8-.7-.9-.7-.8-.7-.9-.7-.9-.5-1-.5-1.1-.3-1.1-.1-1.1.1-1.1.1-1.1.2-1 .3M43.7,69.1l.5 1 .2 1.1.2 1.1.1 1.1.2 1.1.2 1 .1 1.1.3 1.1.5 1 .6.9.7.9.5.9.4 1.1.2 1-.1 1.1M69,34.5l-.5-1-.7-.9-.6-.9-.5-1-.6-.9-.2-1.1 0-1.1.2-1.1.4-1 .6-1M33.6,63.6l-.4-1-.4-1.1-.3-1-.3-1.1-.4-1-.2-1.1-.2-1.1-.1-1.1-.3-1-.5-1-.6-.9-.8-.8-.9-.6-1.1-.3-1 .3-.9.6M54.1,33.1l-.1 1.1-.3 1.1-.4 1-.5 1-.6.9-.4 1-.1 1.1.2 1.1.4 1 .5 1 .5 1 .3 1 .2 1.1-.1 1.1-.3 1.1-.6.9M49.3,61.9l.3 1.1-.1 1.1-.1 1-.3 1.1-.1 1.1-.2 1.1-.2 1.1 0 1.1 0 1.1-.1 1.1-.3 1-.4 1.1-.7.8-.9.7-.9.5-1.1.5M31,44.2l-.2 1.1-.3 1-.6 1-.7.8-.8.7-1.1.4-1.1.1-1.1-.2-1-.4-.8-.7M36.5,26.1l.4 1 .5 1 .8.8 1 .5 1 .3 1.1.4 1 .4.9.6 1 .5.9.7.9.6.6.9.3 1.1 0 1.1-.4 1-.7.9M68.7,52.6l.2 1.1.1 1.1-.1 1.1-.4 1-.7.9-.6.9-.7.8-.7.9-.7.8-.8.8-.9.6-1 .5-1 .5-1 .3-1.1.2-1.1.2M55,30.2l.4 1.1.5.9.8.8 1 .4 1.1-.2 1-.6.7-.8.3-1.1-.1-1.1-.4-1-.8-.8-1-.4-1.1-.1-1 .4-.9.7-.6.9M49.9,71l-.8-.8-.9-.7-.9-.6-.8-.7-.7-.9-.5-.9-.1-1.1.3-1.1.7-.8.9-.6 1.1-.3 1.1 0 1.1.3.7.8.2 1.1-.5 1M61.5,69.8l-.1-1.1.3-1 .5-1 .3-1.1.4-1 .7-.9 1-.5 1-.4 1.1-.1 1.1.1 1 .4.9.7.5.9.3 1.1.1 1.1.1 1.1M75.9,68.4l-.3-1 0-1.1.4-1.1.5-.9.8-.8 1-.4 1.1-.2 1.1.1 1 .5M30.9,51.8l.6.9.7.9.6.9.8.8.8.7 1 .5 1 .5.9.6 1 .5 1 .4 1.1.3 1 .3 1.1.2 1.1 0 1.1.1 1.1-.1M49.4,41.9l.1 1.1-.1 1.1-.3 1.1-.3 1-.5 1-.4 1-.6 1-.5.9-.7.9-.7.9-.5.9-.6 1-.7.9-.5.9-.7.9-.8.7M29.1,40.9l.5 1 .4 1 .4 1 .6 1 .7.9.7.8.7.8.8.8.8.8.8.7.7.8.7.8.8.8.7.9.8.8.8.7M63.5,59.9l-1-.6-.9-.6-.9-.6-.9-.6-.8-.8-.7-.9-.7-.8-.6-.9-.4-1-.2-1.1.3-1.1.7-.9.9-.5 1.1-.3 1.1.1 1 .4M58.7,50.2l-.7-.9-.7-.8-.7-.9-.6-.9-.7-.8-.6-1-.4-1-.1-1.1.1-1.1.2-1.1.4-1 .8-.8 1-.4 1.1.1.9.6.6.9M55.9,51.6l.1 1.1.1 1 0 1.1-.1 1.1 0 1.1 0 1.1.2 1.1.3 1.1.4 1 .6.9.7.9.7.8.9.7.9.6 1 .5 1 .4M51.7,81.5l.1 1 0 1.1-.1 1.1-.4 1.1M72.1,35.9l.8.8.9.6 1.1.2 1.1-.1M62.9,51.2l.2 1.1.1 1.1-.2 1-.4 1.1-.5 1-.8.8-.9.5-1 .5-.9.6-.8.8-.7.8-.6.9-.6.9-.7.9-.6 1-.5 1M27.9,47.7l.7.8.7.8.6 1 .6.9.7.9.6.9.5 1 .4 1 .1 1.1-.2 1.1-.4 1-.7.9-.9.7-.9.5-1 .5-1 .4M49.6,31.6l.4 1 .3 1.1 0 1.1 0 1.1-.1 1.1-.3 1-.5 1-.5 1-.7.9-.6.9-.8.7-1 .5-1.1.3-1 .2-1.1 0-1.1-.1M66.3,65l.4 1 .4 1.1.3 1 .2 1.1 0 1.1.1 1.1-.1 1.1-.2 1.1-.2 1.1-.3 1-.5 1-.5 1-.7.8-1 .6-1 .4-1 .3M57.1,38.2l.6.9.5 1 .6.9.5 1 .7.8.9.7.9.5 1.1.4 1 .4 1.1.1 1.1.1 1.1.1 1.1 0 1.1 0 1.1-.2.9-.5M53.6,55.1l1.1.3 1-.5.7-.8.5-1 .2-1.1-.3-1.1-.6-.9-.8-.7-1-.4-1.1-.2-1.1 0-1.1.3-1 .5-.8.8-.4 1 0 1.1M44.5,62.9l.8.7 1 .6 1 .2 1.1.1 1.1-.1 1.1-.2 1-.4 1-.5 1-.4 1-.4 1-.5 1-.4 1.1-.4 1-.3 1.1-.3 1.1-.2M78,61.5l.7.8 1 .5 1.1 0 1-.6M53.5,69.5l-.8-.8-.9-.6-1.1-.2-1 .4-.6.9-.1 1.1.4 1 .9.7 1 .5 1 .1 1.1 0 1.1-.3 1-.5.7-.9.4-1 0-1.1M26.9,43.3l-.6-.9-.7-.9-.8-.7-.9-.6-1-.5M53.9,55l-.4-1-.1-1.1.1-1.1.4-1 .5-1 .4-1 .3-1.1.1-1.1.2-1.1.2-1 .4-1.1.3-1.1.2-1 .2-1.1.2-1.1.3-1.1M48.2,56.3l-1-.3-1-.4-1-.5-1.1-.4-.9-.5-1-.5-.9-.7-.6-.9-.5-1-.5-1-.4-1-.3-1.1-.5-1-.6-.9-.6-.9-.7-.9M43.8,31.8l.1-1.1.3-1 .5-1 .5-1 .5-1 .6-.9.6-.9.8-.7.9-.7.9-.6.8-.7.9-.7.9-.7.8-.7.9-.6.8-.8M50.7,56.4l.4 1 .6.9.6 1 .6.9.6.9.4 1 .5 1 .3 1.1.4 1 .2 1.1.4 1 .7.9.8.7.9.6 1.1.1 1-.6M66,43.1l.2 1.1 0 1.1-.1 1.1 0 1.1 0 1.1-.2 1.1-.5.9-.6 1-.7.8-.7.8-.8.8-1 .5-1.1.2-1.1-.2-.9-.6-.7-.8M70.8,79l-.9-.7-.9-.6-.9-.6-.8-.8-.9-.7-.9-.6-1-.4-1.1-.3-1.1-.2-1-.4-.9-.6-.7-.9-.4-1-.2-1.1 0-1.1.2-1.1M49.6,37.1l1.1.2 1.1-.3.9-.6.6-.9.1-1.1-.3-1.1-.9-.6-1.1-.3-1 .2-.9.7-.6.9-.4 1-.5 1-.4 1.1-.6.9-.5 1M76.9,56l-.2-1.1-.3-1-.5-1-.6-.9-.6-.9-.6-.9-.5-1-.5-1-.4-1-.3-1.1-.1-1.1.2-1.1.6-.9.7-.9.8-.6 1-.6M58,29.5l-.1-1.1-.1-1.1-.1-1.1-.3-1.1-.3-1-.4-1.1-.5-1-.4-1-.4-1-.3-1.1-.2-1 0-1.1.3-1.1M44.8,24.2l.6 1 .9.6 1 .2 1.1.4 1 .3 1.1.2 1.1.3 1 .3 1 .5 1 .5.9.6.9.7.9.6 1 .4 1.1.3 1.1.2M52.4,53.7l-1.1-.1-1.1-.1-1.1.2-1 .5-.9.7-.6.8-.4 1.1-.1 1.1.4 1 .8.7 1.1.3 1.1-.3.8-.7.7-.8.6-1 .8-.7M69.7,72.1l-.3 1.1-.3 1-.2 1.1-.2 1.1-.2 1.1-.3 1-.3 1.1-.4 1-.4 1-.5 1-.5 1-.7.9-.7.8-.7.8-.8.8M60.1,66.6l-.1-1.1.2-1.1.5-.9.8-.8.9-.7.9-.6.9-.6.8-.8.5-.9.5-1 .4-1 .5-1 .7-.9.7-.8.8-.8.9-.6M30,25.8l-.8-.7-.8-.8-.7-.9-.6-.9M71.7,72.3l.4 1 .4 1 .4 1 .4 1.1.1 1.1-.1 1-.1 1.1-.2 1.1-.2 1.1-.1 1.1M61.1,50.9l-.6-.9-.4-1-.4-1.1-.4-1-.5-1-.6-.9-.6-.9-.7-.9-.6-.9-.6-.9-.5-1-.4-1-.2-1.1 0-1.1.3-1 .3-1.1M49.4,45.3l.2 1.1-.1 1.1-.2 1.1-.3 1-.3 1.1-.5 1-.4 1-.4 1-.4 1.1-.3 1-.1 1.1-.1 1.1.1 1.1.2 1.1.3 1.1.1 1.1M68.8,45.9l-.5-1-.5-.9-.8-.9-.9-.6-1-.4-1.1-.2-1.1.2-.9.5-.8.8-.5 1-.2 1.1.1 1.1.4 1 .6.9.7.9.8.7M59.8,76.3l-.7-.9-1-.6-1-.1-1.1 0-1 .5-.9.7-.6.9-.2 1.1.2 1.1.7.9.8.7.8.7.9.7.9.6.9.6 1 .6M53.6,52.4l0-1.1-.1-1.1 0-1.1 0-1.1.1-1.1.1-1.1 0-1.1-.2-1.1-.3-1.1-.3-1-.2-1.1-.1-1.1 0-1.1.2-1.1.3-1 .4-1.1M45.1,50.1l-.1 1.1-.4 1-.7.9-.7.8-.8.8-.7.8-.9.7-1 .5-1.1.2-1.1 0-1-.1-1.1-.3-1-.4-1-.6-.8-.7-.8-.7M32.5,64.1l-.3-1.1-.1-1.1.1-1 .3-1.1.3-1.1.6-.9.6-.9.7-.9.8-.7.9-.7.8-.7.9-.7.8-.8.7-.8.7-.8.7-.9M59.1,35l-.6-.9-.5-1-.5-1-.6-.9-.8-.8-.9-.6-1-.4-1.1-.4-1-.3-1.1-.2-1.1.2-1 .5-.9.6-.8.8-.6.9-.6.9M60.8,48.4l-.6.9-.5 1-.4 1-.5 1-.4 1-.6.9-.7.9-.7.8-.8.8-.7.8-.8.8-.8.7-.7.9-.7.8-.7.9-.7.8M76.6,70.8l-.5 1-.7.8-.9.7-1 .5-1 .4-1.1 0-1.1.1-1.1.1-1.1.2-1 .3-1 .6-.7.8-.5 1 0 1.1.4 1 .8.8M59.5,22.7l.9.6 1.1.2 1.1 0 1-.4.8-.8M65.9,47.3l.3 1-.1 1.1-.3 1.1-.6.9-.8.8-.9.6-.9.6-1.1.3-1.1.2-1.1-.1-1-.3-1.1-.3-1-.4-1.1-.3-1.1-.1-1.1 0M59,40.3l-.6-.9-.7-.9-.6-.9-.5-1-.6-.9-.5-1-.6-.9-.6-.9-.6-.9-.9-.8-.8-.7-.8-.8-.8-.6-.9-.7-.9-.6-.9-.7M30.4,27.8l.5 1 .7.9.9.6 1 .5 1.1.1 1-.4.8-.7.3-1.1-.3-1-.8-.8-1-.5-1.1-.2-1.1.2-.9.6-.6 1 .1 1M54.2,79.8l.8.8 1 .5 1 .4 1.1 0 1-.4.9-.6.6-1 .1-1.1-.4-1-.6-.9-.6-.9-.7-.9-.8-.7-.8-.8-.8-.8-.6-.9M54.7,63.6l.1-1.1.3-1 .4-1.1.3-1 .3-1.1.5-1 .7-.8.9-.7 1-.4 1-.4 1-.5 1-.4 1.1-.4 1-.3 1.1-.2 1.1-.1M47,49.5l0 1.1-.1 1.1-.3 1.1-.3 1-.4 1.1-.4 1-.6.9-.6.9-.8.8-.7.8-.7.9-.6.9-.3 1.1-.2 1 .1 1.1.4 1.1M45.6,63.4l-.7-.9-.8-.7-.9-.6-1.1-.2-1.1.2-1 .5-.8.7-.6.9-.2 1.1.1 1.1.5 1 .8.8.9.6 1 .4 1.1.1 1.1-.2M31.3,60.9l-.5-1.1-.3-1-.1-1.1-.1-1.1.2-1.1.3-1 .4-1.1.3-1 .3-1.1.4-1 .5-1 .5-1 .4-1 .5-1 .3-1 .3-1.1M33.3,52.2l-1-.5-1-.5-1.1-.2-1.1 0-1 .4-.8.7-.7.9-.4 1-.3 1.1 0 1.1M72.5,59.7l-.8-.8-.8-.7-1-.5-1-.4-1-.5-1-.5-1-.4-1-.4-1.1-.3-1.1-.2-1-.3-1-.5-1-.4-1.1-.4-1-.5-.9-.5M40.9,35.9l-.7-.8-.8-.7-.7-.9-.6-.9-.3-1.1-.1-1.1 0-1.1.1-1.1.1-1.1.4-1 .5-1 .7-.8.6-.9.5-1 .1-1.1-.1-1.1M55.7,22.4l.9.6 1 .3 1.1 0 1-.4.7-.9.4-1 0-1.1-.1-1.1M54.9,47.3l.2 1 .2 1.1.2 1.1.1 1.1 0 1.1-.3 1.1-.4 1-.6.9-.8.8-1.1.3-1 .2-1.1 0-1.1-.3-1.1-.3-1-.4-1.1-.3M33.8,49.9l-.7-.8-.8-.8-.7-.8-.7-.8-.7-.9-.4-1-.4-1-.3-1.1-.1-1.1 0-1.1.1-1.1 0-1.1-.1-1.1-.1-1.1-.4-1-.4-1M69.4,64.7l.1 1.1.1 1 .2 1.1.6 1 .8.7 1 .4 1.1.1 1.1-.2 1.1-.2 1.1-.1 1.1 0 1.1 0 1.1.1M44.4,21.2l.8.7.7.9.8.7.7.8.9.7.8.7.8.8.7.9.6.9.4 1 .3 1.1 0 1.1-.2 1.1-.4 1-.6.9-.7.8M31.1,28.1l-.5-1-.4-.9-.4-1.1-.2-1.1-.1-1.1 0-1.1.1-1.1.2-1 .5-1 .8-.8.9-.6.9-.6 1-.5 1-.3 1.1-.4 1.1-.3M55.2,46.9l.4 1.1.5 1 .5.9.7.9.8.8.9.6.9.6 1.1.2 1.1 0 1-.2 1-.5.9-.7.8-.7.8-.8.8-.7.9-.7M58.2,65.3l.4 1.1.3 1 .1 1.1.2 1.1.2 1.1 0 1.1-.2 1.1-.3 1-.5 1-.6.9-.6.9-.8.8-.7.9-.6.9-.6.9-.5 1M39.6,43.6l-.4-1-.4-1-.3-1.1-.2-1-.4-1.1-.4-1-.7-.9-.7-.8-.8-.7-.8-.9-.6-.9-.5-.9-.3-1.1 0-1.1.1-1.1.4-1M30.8,31.9l.3 1.1.2 1 0 1.1-.1 1.1-.3 1.1-.2 1.1-.4 1-.4 1-.5 1-.5 1-.4 1-.4 1.1-.2 1-.2 1.1-.3 1.1-.3 1M44.6,47.1l.9.7.9.6 1 .5.9.6.8.7.9.7.9.6 1 .5 1 .5 1 .4 1 .3 1.1.3 1.1.1 1.1.2 1.1.3 1 .4M33.8,64.5l.7.9.6.9.8.8.7.8.9.7.8.7.9.7 1 .5 1 .5 1 .2 1.1.2 1.1.1 1.1-.1 1.1-.1 1-.3 1.1-.4M63.8,56.1l.4 1 .2 1.1 0 1.1-.1 1-.2 1.1-.1 1.1-.4 1.1-.6.9-.8.8-.8.6-1 .6-.9.5-1.1.4-1.1.2-1.1.1-1 .2M70.1,47.2l.6.9.6 1 .4 1 .4 1 .4 1 .5 1 .5 1 .6 1 .5.9.6 1 .7.8.9.6 1 .4 1.1.1 1.1 0 1.1 0M42.3,37l-.7-.9-.8-.7-.9-.7-.9-.6-1-.6-.9-.6-.8-.7-.9-.7-.8-.7-.9-.7-.8-.7-.9-.6-1-.5-1-.5-1-.3-1.1-.3M50.2,44.6l.6.9.6.9.7.8.8.8.9.7 1 .5.9.6.9.7.8.7.8.7.7.9.7.9.3 1 .3 1.1.3 1 .1 1.1M72.5,77.5l-.2-1.1-.4-1-.6-1-.7-.9-.8-.7-.9-.6-1.1-.3-1.1-.1-1.1.2-1 .3-1 .5-.9.5-1 .6-.9.6-.9.6-1 .6M58.9,20.6l-.4 1-.5 1-.6 1-.4.9-.6 1-.5 1-.7.8-.9.7-.9.6-1 .4-1.1.2-1.1-.1-1-.4-1-.4-.9-.7-.8-.7M57.9,55.6l.8.7 1 .4 1.1.2 1.1-.1 1.1-.2 1.1-.2 1-.4 1-.5 1-.5.8-.7.7-.9.3-1 .1-1.1-.2-1.1-.4-1-.6-1M34.3,41.9l.5 1 .6.9.6.9.5 1 .4 1 .3 1.1.2 1.1 0 1.1-.2 1-.5 1-.6.9-.7.9-.6.9-.5 1-.6 1-.5.9M28.3,47l-1-.5-1.1-.2-1 .3-1 .6-.7.7M55.3,74.8l.9.6 1.1.2 1.1-.3 1-.4 1-.5.9-.5 1-.5 1-.4 1.1-.3 1.1-.3 1.1-.2 1-.2 1.1 0 1.1.1 1.1.4 1 .4M51.6,79.5l.3 1 .2 1.1.2 1.1 0 1.1-.3 1.1-.5 1M44.8,20.2l-.4-1-.5-1-.5-1-.4-1-.3-1.1-.3-1 0-1.1M46.4,32.4l-.6-.9-.7-.8-.8-.8-.9-.6-1-.5-1-.4-1.1-.3-1-.3-1.1-.3-1.1-.1-1.1.1-1 .4-.8.7-.6 1-.5.9-.4 1.1M53.5,60.2l.1-1-.3-1.1-.6-.9-.8-.8-.7-.8-.8-.8-.7-.8-.6-.9-.5-1-.5-1-.3-1.1-.3-1-.1-1.1.4-1.1.6-.9.8-.7M67.7,55.7l.4 1 .7.9.8.7.8.8.9.7.8.7.8.7.8.8.7.9.8.8.6.8.6 1 .4 1 .2 1.1 0 1.1-.1 1.1M61.7,46.9l-.6-.9-.5-1-.3-1-.3-1.1-.2-1.1-.2-1.1 0-1.1 0-1.1.1-1.1 0-1.1-.3-1-.3-1.1-.5-1-.6-.9-.5-1-.4-1M59.1,21.1l.8-.8.9-.5 1.1-.2M47.8,17.9l.7.8.7.9.6.9.6 1 .5.9.6 1 .7.8.9.7 1 .4 1 .2 1.1 0 1.1-.1 1.1-.2 1.1-.3 1-.4 1-.4M60,49.8l.5.9.6.9.7.9.7.9.7.8.7.9.5.9.4 1.1 0 1 0 1.1-.2 1.1-.4 1-.7 1-.7.8-.7.8-.6 1M61.4,72.5l.8.7 1 .6 1 .3 1.1.3 1.1.2 1 .2 1.1.3 1.1.2 1.1.2 1.1.1 1.1 0 1-.2 1.1-.4.9-.5.9-.7.6-1M50.3,22.1l-.5-1-.5-1-.5-1-.5-1-.2-1-.2-1.1 0-1.1 0-1.1 0-1.1M67.7,77.9l-.4-1-.5-1-.6-.9-.6-.9-.8-.8-.8-.7-.9-.7-1.1-.3-1.1-.1-1 .4-.9.6-.6.9-.5 1-.2 1.1.3 1.1.6.8M66.2,52.9l-.5-1-.4-1-.2-1.1-.1-1.1.3-1 .3-1.1.6-.9.7-.8.8-.8.9-.7.8-.7.7-.9.6-.9.3-1 .1-1.1 0-1.1M36.8,20.7l.7.9.9.7.8.7.9.7.9.6.9.6.9.6 1.1.3 1.1 0 1.1-.1 1.1-.1 1.1 0 1.1.2 1.1.1 1.1.1 1 .2M48.6,50.4l-.6-.9-.7-.9-.9-.6-1-.4-1.1-.3-1.1-.1-1-.1-1.1 0-1.1 0-1.1.1-1.1-.1-1.1-.1-1-.5-.8-.7-.6-1-.5-1M63.3,31.5l.4 1 .2 1.1.1 1.1-.1 1.1-.5 1-.8.8-.9.5-1 .5-.9.6-.9.6-.9.7-.8.8-.6.9-.6.9-.6.9-.7.9M63.4,77.1l1 .5.9.5 1 .5 1 .6.8.7.8.8.5.9.5 1 .5 1 .4 1M42.9,42.3l.3 1 .3 1.1.1 1.1-.2 1.1-.2 1.1-.4 1-.5 1-.6.9-.5 1-.6.9-.5 1-.5 1-.3 1-.1 1.1.1 1.1.2 1.1M52.4,48.1l-.8-.8-1-.3-1.1-.1-1.1.2-1 .5-.8.7-.7.9-.6.9-.6.9-.6.9-.6.9-.8.8-.9.7-.9.5-1.1.4-1 .4M32.3,29.5l-.6-.9-.6-.9-.4-1 0-1.1.4-1.1.6-.9.9-.6.9-.6 1-.6 1-.4 1.1-.2 1.1 0 1.1.2 1 .3 1 .6.8.7M27,35.2l.5 1 0 1.1-.4 1-.8.8-.9.6-1.1.2-1.1-.1-1-.5M63.3,76l-.3-1.1-.4-1-.5-1-.6-.9-.7-.9-.8-.8-.8-.7-.9-.7-.8-.7-.9-.6-1-.6-.9-.5-1-.4-1.1-.3-1.1-.1-1.1.2M60.5,82.9l.9.5 1.1 0 1.1-.2 1-.4 1-.6.8-.7.8-.7.7-.9.5-1 .6-.9.6-.9.6-1 .7-.8.9-.7.9-.6 1-.5M29.9,50.1l-.1 1.1-.4 1-.7.8-.9.7-1.1.1-1.1-.2-.9-.6M69.8,40.9l1 .6 1.1.1 1-.3.8-.8.3-1.1-.2-1.1-.5-.9-.9-.7-1-.5-1.1-.1-1.1-.1-1.1.1-1.1.1-1 .3-1.1.3-.9.5M36.5,21.5l-1-.3-1.1-.1-1.1.1-1 .5-.9.6-.6.9-.3 1.1 0 1.1.3 1 .3 1.1.3 1 .4 1.1.4 1 .6.9.7.8.9.7M60.3,63.9l-.4-1.1-.3-1-.2-1.1.3-1.1.5-.9.7-.9.8-.7.9-.7.7-.9.5-1 .1-1.1-.3-1-.6-.9-.9-.6-1-.5-1-.4M75.8,55.5l-.2-1.1.2-1.1.4-1 .6-.9.8-.7.9-.7 1-.5M45.3,76.6l-.5 1-.6.9-.9.6-1 .5M67.9,50.7l.1-1.1.2-1 .2-1.1.3-1.1.2-1.1.4-1 .5-1 .7-.8.8-.8 1-.3 1.1.1 1.1.3.8.7.5 1 .2 1.1-.1 1.1M43,15.2l.5-1 .8-.7 1.1-.2 1.1.3.9.7.8.8.6.8.7.9.6.9.6.9.4 1.1.1 1.1-.3 1-.7.9-.9.6-1 .5M27.8,42.6l-.8-.7-.9-.8-.8-.7-.7-.8-.8-.8-.8-.8M70.8,67.8l-.9-.5-1.1-.3-1-.2-1.1.2-1.1.4-.9.5-.9.6-.9.7-.9.6-.8.8-.8.8-.8.7-.8.8-.7.8-.7.9-.6.8M63.5,48.8l-.3-1.1-.4-1-.4-1-.2-1.1-.1-1.1.1-1.1.2-1.1.6-.9.5-1 .6-.9.5-1 .7-.9.8-.7.9-.6 1-.5 1-.5M37.1,35l-.2-1.1-.4-1-.5-1-.7-.8-.8-.8-.9-.6-.8-.8-.6-.9-.4-1-.1-1.1 0-1.1.2-1.1.3-1 .5-1 .5-1 .5-.9M52.5,27.9l-.8-.8-.7-.8-.6-.9-.4-1-.3-1.1-.3-1.1-.1-1.1-.1-1.1-.1-1.1 0-1.1 0-1.1-.1-1.1 0-1.1 0-1.1M40.9,72.8l-.4-1-.7-.9-.9-.7-.9-.5-1-.4-1.1 0-1.1.4-.8.6-.7.9M65.4,50l1 .5 1.1.2 1.1.1 1.1.1 1 0 1.1.2 1.1.2 1.1.1 1.1.4 1 .4 1 .5.9.5 1.1.4 1 .4 1.1.2M68.2,38.6l.2 1.1-.2 1.1-.5 1-.9.6-1.1.3-1.1-.1-1-.3-.9-.6-.8-.8-.6-.9-.3-1.1-.2-1.1-.1-1.1.1-1.1.3-1 .5-1M45,49.8l-.4-1-.7-.9-.9-.7-.9-.6-1-.4-1-.4-1-.4-1-.5-.9-.6-.7-.9-.5-1-.2-1.1.1-1.1.3-1 .4-1.1.2-1M41.4,21.4l1 .5.9.6.7.9.5.9.5 1 .3 1.1.3 1.1.2 1 .1 1.1.1 1.1.3 1.1.6.9.9.6 1.1.3 1.1-.2.9-.6M48.4,32.9l-.2-1.1.2-1.1.6-.9.9-.6 1.1-.2 1.1.2 1 .4.9.6.9.7.7.8.7.9.8.7.9.8.8.7.9.6.9.6M45,39.9l.8.7.7.9.7.9.4 1 .3 1 0 1.1.1 1.1.2 1.1.4 1 .6 1 .6.9.8.7.9.7 1 .4 1.1.4 1 .3M59.4,74.9l-.2 1-.3 1.1-.4 1-.7.9-.7.8-.8.8-.8.7-.9.7-.9.6-.9.5-1 .5-1.1.4-1 .3-1.1 0M61.1,58l-.3 1.1-.5 1-.5.9-.7.9-.7.8-.8.8-.7.8-.8.8-.8.7-1 .5-1 .5-1 .4-1.1.2-1.1.2-1.1.3-1.1.1M56.9,20.6l-.4-1-.2-1.1-.1-1.1-.3-1.1M41.9,51.6l-.5-1-.4-1-.4-1.1-.3-1-.2-1.1-.1-1.1-.2-1.1-.1-1.1.1-1.1 0-1.1-.1-1.1-.3-1-.5-1-.6-.9-.9-.6-1.1-.3M70.7,43.7l0 1.1-.1 1.1 0 1.1.1 1.1.3 1 .4 1 .3 1.1.2 1.1.2 1.1 0 1.1-.3 1-.4 1-.6 1-.7.8-.8.8-.7.8M45.2,76.4l-.4-1-.3-1-.2-1.1 0-1.1.4-1.1.4-1 .5-1 .5-1 .4-1 .3-1.1 0-1-.1-1.1-.4-1.1-.5-1-.7-.8-.7-.8M32.2,58.6l.6.9.8.8.9.7.9.5 1 .5 1 .5 1 .4 1 .5 1 .5.9.7.9.6.9.6.8.7.9.7.8.7.7.8M48.7,68.6l-.8-.8-.8-.8-.9-.6-.9-.5-1.1-.4-1-.4-1-.3-1.1-.5-.9-.5-.9-.6-.9-.8-.8-.7-.9-.6-.9-.6-1.1-.4-1-.1M52,48.9l.9.7.9.5 1 .5.9.7.7.8.5 1 .2 1.1-.2 1.1-.6.9-.9.6-1 .5-1.1.2-1.1.1-1.1 0-1.1-.1-1.1-.2M67.6,41.2l.8.7 1 .5 1 .3 1.1.2 1.1-.2 1-.3.9-.7.7-.9.6-.9.6-.9M43.6,59.1l-.6-1-.6-.8-.8-.8-.9-.7-.9-.7-.9-.5-1.1-.2-1.1.1-1.1.3-1 .4-.8.7-.7.9-.8.8-.8.7-.8.7-.8.8M58.3,62.6l-.9-.7-.9-.5-1.1-.4-1-.2-1.1.1-1.1.3-1 .5-.7.8-.7.9-.6.9-.4 1-.2 1.1 0 1.1 0 1.1.1 1.1.3 1.1M35.8,43.7l-.3-1.1-.3-1-.4-1.1-.4-1-.3-1-.3-1.1-.2-1.1-.2-1-.2-1.1-.1-1.1.1-1.1.2-1.1.2-1.1.3-1.1.2-1 .1-1.1M50.7,38.6l.7.8 1 .6 1 .3 1.1.2 1.1.1 1.1-.2 1.1-.2 1-.4 1-.4 1.1-.3 1.1-.1 1.1.1 1 .2 1.1.3 1.1.2 1.1 0M50.6,40.6l-.6-1-.4-1-.6-.9-.5-1-.6-.9-.7-.9-.6-.9-.5-1-.6-.9-.5-1-.4-1-.4-1-.2-1.1.1-1.1.2-1.1.4-1M74,69.5l.7.8 1 .6 1 .2 1.1-.1 1-.5.7-.9 0-1.1-.6-.9-1-.5-1.1.1-1 .5-.7.8-.5 1 0 1.1.1 1.1.5 1M47.9,37.8l-.9-.7-.7-.9-.4-1-.3-1-.1-1.1.1-1.1.2-1.1.3-1 .4-1.1.5-1 .5-.9.5-1 .9-.7 1-.5 1-.3 1.1-.2M36.2,31.6l.3 1.1.5.9.6 1 .5.9.4 1.1.3 1.1 0 1-.1 1.1-.3 1.1-.3 1-.3 1.1-.2 1.1-.2 1.1-.2 1-.3 1.1-.4 1M40.9,25.4l.4 1.1.1 1.1 0 1.1-.2 1-.3 1.1-.2 1.1-.1 1.1 0 1.1.2 1.1 0 1.1.1 1.1-.1 1.1-.1 1.1-.3 1-.4 1-.6 1M41.5,45.8l-.6-.9-.9-.7-.9-.6-1-.4-1.1-.3-1.1-.1-1.1.1-1 .4-.9.6-1 .4-1.1.3-1.1.1-1.1-.1-1.1-.1-1.1-.1-1.1 0M65.3,43.4l-.7-.8-.8-.7-.8-.8-.7-.8-.8-.8-.9-.7-.9-.6-.9-.6-.8-.7-.7-.9-.6-.9-.4-1.1-.3-1-.2-1.1-.2-1.1-.2-1.1M49.4,38.2l.2 1.1.4 1 .6.9.7.9.5 1 .5 1 .4 1 .4 1 .1 1.1.1 1.1-.1 1.1-.2 1.1-.3 1.1-.3 1-.3 1.1-.2 1.1M41.6,52.4l.5 1 .4 1.1.1 1.1 0 1.1.1 1 .1 1.1 0 1.1-.2 1.1-.2 1.1-.3 1.1-.3 1-.3 1.1-.2 1.1-.1 1.1.2 1 .4 1M63.5,50.1l.6-1 .8-.7 1-.5 1.1-.3 1-.3 1.1-.1 1.1 0 1.1.2 1 .4 1.1.3 1 .3 1.1.3 1.1.1 1.1.1 1.1-.2 1.1-.1M27.6,31.2l-.2-1 0-1.1.1-1.1 0-1.1.2-1.1.6-1 .8-.7 1-.4 1.1-.1 1.1 0 1.1.3 1 .4.9.7.8.7.7.9.8.7M61.4,26.6l-.6-.9-.5-.9-.4-1.1-.3-1-.2-1.1 0-1.1 0-1.1.2-1.1M30,45.1l-.7-.9-.9-.7-.9-.5-1.1-.3-1-.3-1.1-.3-1-.3-1.1-.4M52.9,71.8l.5 1 .3 1.1.2 1 .3 1.1.3 1.1.3 1 .3 1.1.4 1 .5 1 .5 1 .4 1 .5 1 .7.8.7.9.7.8.7.9M42.2,77.1l.3 1.1.3 1 .6 1 .6.9M74.4,46.2l0 1.1-.3 1.1-.5 1-.6.9-.8.7-.8.7-1 .6-.9.6-1 .5-1 .4-1.1.3-1 .2-1.1.2-1.1.2-1.1.2-1.1 0M76.3,59.4l-.1 1.1-.4 1.1-.6.9-.9.6-1 .3-1.1.1-1.1-.2-1-.4-.9-.7-.8-.7-.6-.9-.6-1-.4-1-.3-1.1-.1-1.1.1-1.1M63.5,45.1l.6.9.8.8.9.6 1.1.4 1 .3 1.1.3 1.1.2 1.1.2 1.1 0 1-.4.9-.6.8-.7.7-.9.5-.9.3-1.1.2-1.1M34.8,54.2l.6.9.9.6 1.1.2 1.1 0 1-.3 1-.4 1-.5.9-.6.6-.9.4-1.1.1-1.1 0-1.1.1-1.1.2-1.1.3-1 .6-1M43.4,40.2l-.1-1.1.1-1.1.2-1.1.4-1 .6-.9.7-.9.8-.8.9-.6 1-.5 1.1-.2 1.1 0 1.1 0 1 .3 1 .6.9.5.9.7M58.2,79.9l-.3-1.1-.2-1.1-.2-1.1 0-1.1.2-1.1.2-1 .5-1 .8-.7 1.1-.4 1.1.1 1 .4.9.6.8.8.7.9.4 1 0 1.1M50.1,45.4l.9.6 1 .5 1 .5 1 .3 1.1.3 1 .5 1 .4 1 .5 1 .5 1 .4 1.1.3 1 .3 1.1.2 1.1.2 1.1.2 1 .2M41.9,50.2l1 .5 1.1.2 1.1.1 1.1 0 1.1 0 1.1-.1 1.1.1 1.1-.2 1-.2 1.1-.3 1-.4.9-.7.8-.7.8-.8.7-.8.6-1M59.3,50.6l-.7-.8-1-.6-1-.3-1.1-.1-1.1.1-1.1.3-1.1.2-1.1.1-1.1.1-1 .2-1.1.4-.9.5-.9.7-.8.8-.7.8-.9.7M53.3,53.7l-.5-1-.4-1-.6-1-.6-.8-.7-.9-.9-.7-.8-.7-1-.5-1.1-.3-1.1 0-1.1.2-1 .4-1 .4-1 .5-.9.6-.7.9M42.8,47l0 1.1-.1 1.1 0 1.1-.3 1.1-.5 1-.6.9-.4 1-.4 1.1-.1 1.1.1 1.1.3 1 .3 1.1.6.9.6.9.7.9.7.8M60.5,45l.5 1 .7.8.8.8.9.6.9.6 1 .5 1 .4 1.1.2 1.1-.1 1.1-.2 1-.4.9-.6 1-.6.8-.6.9-.7.9-.7M27.3,46.1l-.2-1.1-.3-1.1-.4-1-.5-.9-.6-1-.7-.8-.8-.8-.7-.8M36,29.1l.2 1.1 0 1.1-.2 1.1-.4 1-.6.9-.6.9-.6 1-.4 1-.4 1-.1 1.1.1 1.1.2 1.1.3 1.1.4 1 .4 1 .6.9M55.2,57l.3 1 .4 1.1.5.9.6.9.8.8.7.8.9.7.7.8.9.7.8.8.8.8.8.7.8.7.7.9.6.9.4 1M61.6,78.1l.6 1 .8.8.9.5 1.1.3 1.1-.2 1-.3.9-.6.8-.8.7-.9.7-.8.8-.8.8-.7.9-.6 1.1-.4 1.1-.2 1-.1M59.4,49.7l-.6-.9-.8-.7-.9-.6-1-.6-1-.5-.9-.6-.9-.6-1-.5-.9-.6-1-.5-.9-.6-.9-.6-.8-.8-.9-.7-.8-.7-.6-.9M42.6,31.9l.4 1.1.5 1 .6.8.7.9.7.9.4 1 .2 1.1-.1 1.1-.3 1-.5 1-.5 1-.6.9-.6.9-.6 1-.5.9-.6 1M68.7,50.1l.4 1 .7.8.9.7 1 .4 1 .4 1.1.3 1.1.1 1 .1 1.1 0 1.1-.1 1.1-.1 1.1 0M35.8,36.8l.8.8.9.6.9.5 1.1.3 1.1.1 1.1 0 1.1.1 1.1.2 1.1.1 1.1 0 1.1-.1 1.1-.1 1.1-.1 1-.3 1-.4 1-.5M41,66.7l.7.9.7.8.8.8.8.8.7.8.5 1 .5 1 .2 1.1-.1 1.1-.4 1-.6.9-.9.6-1 .4-1.1.3-1.1-.1-1.1-.2M70,75.1l-.1-1.1-.2-1.1-.3-1.1-.3-1-.6-1-.8-.7-.9-.7-.9-.6-1-.5-1-.5-.8-.7-1-.5-1-.4-1.1-.3-1.1-.2-1.1-.1M35.1,42.9l.4 1 .5 1 .6.9.6.9.7.9.9.7 1 .4 1.1 0 1.1 0 1.1 0 1.1-.1 1.1-.1 1.1-.1 1.1-.1 1.1-.1 1.1-.1M44.6,25.3l.7.8.7.8.8.8.8.7.8.8.8.8.8.7.9.7.8.8.6.8.7.9.7.9.7.8.7.9.7.8.8.7M71.4,66.9l.2 1 .4 1.1.3 1 .1 1.1 0 1.1-.2 1.1-.4 1-.8.8-1 .5-1 .4-1 .3-1.1.2-1.1.1-1.1 0-1.1-.3-1-.4M58.2,59l.9.5 1.1.3 1.1.2 1.1-.2 1-.5.8-.6.7-.9.6-1 .3-1 .2-1.1-.1-1.1-.1-1.1-.3-1-.2-1.1-.3-1.1-.2-1.1M46.2,74l.2 1.1 0 1.1-.3 1.1-.3 1-.7.9-.8.7-1 .5M37.1,26.7l-.8-.8-1-.4-1-.2-1.1.2-1 .5-.8.8-.4 1-.1 1.1.3 1.1.5 1 .7.9.8.7.9.6.9.6.9.7 1 .5M45.6,70.9l-.2 1.1-.1 1.1.1 1 .4 1.1.4 1 .6.9.6 1 .6.8.9.7.9.6 1 .6.9.6 1 .5 1 .3 1.1.2 1.1 0M46.4,51.4l-1-.2-1.1.3-.9.6-.8.8-.6.9-.5 1-.3 1.1-.2 1-.4 1.1-.4 1-.5 1-.6.9-.8.7-.9.6-1.1.3-1.1.2M42.9,50.8l-.5 1-.6 1-.7.8-.8.7-1 .5-1.1.3-1 .3-1.1.1-1.1 0-1.1-.1-1.1-.3-1-.4-.9-.6-1-.6-.8-.7-.8-.8M29,37.3l1 .6 1 .4 1 .3 1.1.2 1.1-.2 1-.6.8-.7.6-.9.3-1.1-.1-1-.2-1.1-.4-1.1-.4-1-.2-1.1-.1-1.1.1-1.1M55.3,61.9l.7.8.9.7 1 .5.9.5 1.1.4 1 .4 1 .4 1 .5 1 .4 1 .4 1.1.4 1 .4 1 .5.8.7.7.9.6.9M51.8,16.6l-.4-1-.4-1-.5-1M45.4,50.3l.5.9.3 1.1.1 1.1-.2 1.1-.5 1-.6.9-.7.8-.6 1-.6.9-.5 1-.5 1-.4 1-.4 1-.5 1-.5 1-.4 1M46.2,50.8l.3 1 .4 1.1.5 1 .4 1 .2 1.1.2 1 0 1.1 0 1.1.1 1.1.2 1.1.2 1.1.2 1.1.2 1.1.2 1 .1 1.1.2 1.1M60.7,76.5l.1 1.1-.3 1-.5 1-.6.9-.6.9-.8.8-.9.6-1 .5-1.1.2-1.1 0-1-.5-.9-.6-.6-.9-.3-1.1 0-1.1.3-1M39.4,16.1l-.3-1-.4-1.1-.4-1M27.5,31l.2 1.1-.1 1.1-.2 1.1-.4 1-.5 1-.4 1-.4 1-.2 1.1-.3 1.1-.2 1-.1 1.1 0 1.1.2 1.1.4 1.1.6.9.8.7M53.5,38.1l.8.9 1 .4 1.1.1 1-.3 1-.5.8-.8.7-.8.7-.9.6-.9.7-.9.8-.7.9-.6 1-.4 1.1-.2 1.1-.2 1.1 0M28.9,36.6l.3 1 .1 1.1-.3 1.1-.6.9-.9.7-.9.6-1 .4-1 .3-1.1.1-1.1-.2M59.8,66.7l-.1 1.1-.4 1-.9.7-1 .5-1.1.1-1.1.1-1.1.1-1-.1-1.1-.2-1.1-.1-1.1.1-1.1.2-1.1.1-1.1 0-1.1-.1-1.1-.1M37.6,24.1l1 .5 1.1.2 1.1 0 1.1 0 1.1 0 1.1.3.9.5.9.7.8.7.7.9.7.8.7.9.7.9.6.9.5.9.5 1M53.3,39.8l-.6-1-.3-1.1.1-1.1.4-1 .7-.8 1-.5 1.1-.1 1 .2 1 .5.9.6.8.8.7.9.4 1 .1 1.1-.2 1.1-.7.9M58.2,28.6l-.2-1.1-.3-1-.3-1.1-.3-1-.4-1.1-.4-1-.3-1.1-.2-1 0-1.1 0-1.1.4-1.1.7-.8M54.5,31.6l.4 1 .5 1 .7.9.6.8.7.9.7.8.7.9.6.9.5 1 .3 1.1.3 1 .5 1 .5 1 .5 1 .6.9.6.9M62.3,46.7l.4 1 .2 1.1.1 1.1-.1 1.1-.3 1.1-.6.9-.7.8-.8.7-1 .5-1.1.1-1-.5-.6-.9-.1-1.1.3-1 .7-.9.8-.8M58.8,27l-.7-.9-.6-.9-.7-.9-.5-1-.4-1-.4-1-.5-1-.4-1-.4-1.1-.2-1 0-1.1.3-1.1M46.8,33.5l.1-1.1.2-1.1.1-1.1.2-1.1.2-1.1.3-1 .2-1.1.4-1 .7-.9.9-.7 1-.2 1.1.1 1 .4 1 .6.8.7.8.8M30.7,28.1l.6.9.7.9.5.9.3 1.1.1 1.1-.1 1.1-.2 1.1-.4 1-.3 1-.4 1.1-.3 1-.4 1.1-.5.9-.7.9-.7.8-.7.9M45.6,42.5l.2 1.1 0 1.1 0 1.1-.1 1.1-.1 1.1-.2 1.1-.3 1-.4 1-.7.9-.8.8-.8.7-1 .4-1.1.4-1.1 0-1-.3-1-.5M34.2,33.2l0 1.1-.3 1.1-.7.8-1 .6-1 .4-1.1.1-1.1-.2-1-.3-1-.5-.9-.7-.7-.8-.6-.9-.3-1.1 0-1.1.1-1.1.3-1M61.6,50.2l-.8-.7-.6-.9-.6-1-.5-.9-.4-1-.4-1.1-.1-1.1.1-1.1.1-1 .2-1.1 0-1.1 0-1.1-.3-1.1-.5-1-.5-1-.4-1M49.2,56.3l.8.7.8.7.9.7.8.7.9.7.8.7.9.7.9.7 1 .4 1 .2 1.1 0 1.1-.1 1-.5.9-.6.9-.6.9-.7M65.8,80.7l-1-.5-1-.2-1.1 0-1.1.3-1 .4-1 .6-.7.8-.5 1-.4 1-.5 1-.5.9-.6 1M49.1,25.4l-.9-.7-.8-.7-.8-.7-.9-.7-.9-.7-1-.4-1.1-.1-1 .3-.9.7-.6.9-.5 1-.2 1.1 0 1.1.2 1.1.4 1 .5 1M25.9,48.1l.4 1.1.5.9.6.9.6 1 .7.8.7.9.7.8.8.8.9.6.9.7.9.6.8.8.9.6.9.6 1 .5.9.6M59.6,43.7l.4 1 .4 1.1.4 1 0 1.1-.1 1.1-.1 1.1-.2 1.1-.2 1.1-.5 1-.7.8-.9.6-1.1.2-1.1-.4-.8-.7-.7-.8-.5-1M43.1,66.4l.1 1.1 0 1.1 0 1.1.1 1.1.1 1.1.1 1.1 0 1.1.2 1.1.2 1.1.2 1.1.3 1 .2 1.1.1 1.1.2 1.1M45.7,54.5l-.2-1.1-.3-1.1-.2-1-.2-1.1.1-1.1.3-1.1.4-1 .5-1 .5-.9.5-1 .6-.9.6-1 .6-.9.8-.8.9-.6.8-.7M59,56l.8.8 1 .4 1.1.2 1.1-.2 1-.4.8-.7.9-.7.7-.8.8-.8.9-.7.8-.7.7-.8.8-.8.7-.9.7-.8.7-.9M41.2,16.3l-.3-1.1-.2-1.1-.2-1M39.1,61.9l-.2-1.1 0-1.1 0-1.1.1-1.1.2-1.1 0-1.1.1-1.1 0-1.1 0-1.1-.1-1.1.1-1.1.1-1.1.4-1 .7-.9.7-.8.8-.7M52.8,54.5l.4 1 .4 1 .6.9.5 1 .5 1 .3 1 .1 1.1 0 1.1-.2 1.1-.4 1.1-.4 1-.3 1-.4 1.1-.5.9-.6 1-.4 1M55.1,58.6l-.9-.5-1-.6-1-.5-.9-.6-.9-.6-.8-.7-.8-.8-.8-.8-.7-.8-.6-.9-.6-1-.3-1-.1-1.1-.2-1.1-.1-1.1 0-1.1M39.1,31.4l0 1.1.1 1.1.1 1.1 0 1.1.2 1.1.2 1 0 1.1 0 1.1-.2 1.1-.2 1.1-.4 1-.3 1.1-.4 1-.5 1-.5 1-.4 1M35.9,31.4l-.2-1.1-.2-1-.2-1.1 0-1.1.2-1.1.5-1 .8-.8.9-.6.9-.5 1.1-.4 1-.3 1.1-.4 1-.3 1.1-.3 1.1-.1 1.1.1M51.5,50.1l-.1-1.1-.3-1-.5-1-.6-.9-.8-.8-.8-.8-.9-.6-1-.4-1-.4-1.1-.3-1.1-.1-1.1.1-1 .3-1.1.3-1 .5-.7.8M59.2,42.8l1 .6 1 .5 1 .4 1.1.3 1.1.1 1.1.1 1 .3 1 .5 1 .5.8.7.8.8 1 .5 1 .3 1.1-.1 1-.6.6-.9M68.6,63.7l.9.7.7.8.5 1 .6.9.5 1 .3 1.1.3 1 0 1.1 0 1.1-.4 1.1-.5 1-.4 1-.4 1-.5 1-.7.9-.7.7M54.5,59.4l-.3 1-.3 1.1-.5 1-.6.9-.9.7-1 .4-1.1 0-1-.5-.6-.9-.2-1.1.2-1.1.6-.9.9-.6 1.1-.2 1.1.3.9.5M45.1,77.6l-.6-.9-.5-.9-.6-1-.6-.9-.7-.9-.7-.8-.9-.7-1-.4-1.1-.2-1 .2-1 .6-.9.6-.7.8M50.8,22.1l-.5-1-.1-1 .2-1.1.7-.9.8-.7.9-.6 1-.6.9-.6M57.5,50.9l.1 1.1.5 1 .7.8.9.7.9.5 1.1.1 1.1-.2 1-.5.7-.8.6-1 .6-.9.4-1 .4-1.1.4-1 .3-1 .4-1.1M69.5,56l-.3 1-.4 1-.6 1-.7.8-.9.7-.9.6-.9.6-1 .5-1 .4-1.1.4-1.1.2-1.1 0-1 .1-1.1.4-.9.6-.8.7M50,32.4l.5 1 .4 1 .3 1.1.3 1 .3 1.1.5.9.6.9.8.9.7.7.8.8.8.8.6.9.2 1.1-.1 1.1-.4 1-.5 1M29.6,36.1l-.6-.9-.7-.9-.8-.7-.9-.7-1-.5-1-.4-1-.3M53.2,51.1l-.9-.5-1.1-.4-1.1.1-1 .3-.9.7-.7.9-.3 1-.1 1.1.2 1.1.5.9.9.7 1 .5 1.1.3 1 .1 1.1-.1 1.1-.2M50.9,40.6l.9.7 1 .3 1.1.1 1.1-.1 1.1-.2 1.1-.3.9-.6.8-.7.8-.8.7-.9.5-.9.2-1.1-.1-1.1-.2-1.1-.5-1-.7-.8M75.7,57.1l.7.8.8.7.8.8.8.8.9.7.7.8.6.9M63.6,48.2l.3 1 .2 1.1 0 1.1 0 1.1-.2 1.1-.1 1.1-.1 1.1-.2 1.1-.1 1.1-.4 1-.7.9-.9.6-1.1.2-1-.3-.9-.7-.6-.9M62.8,64.5l.3 1 .3 1.1.2 1.1.3 1.1.2 1 .1 1.1.1 1.1 0 1.1-.1 1.1.1 1.1 0 1.1.1 1.1.1 1.1.2 1.1 0 1.1-.1 1.1M40,51.4l-.6-.8-.5-1-.7-.8-.9-.8-1-.5-1-.3-1.1-.1-1.1 0-1.1.1-1.1.3-1 .3-1.1.3-1 .3-1.1.2-1.1.1-1.1.2M56.8,84.2l.4 1.1.3 1 .5 1M56.8,33.6l.9.7.9.6 1 .5.9.6 1 .5 1 .4 1.1 0 1.1-.3.9-.7.5-.9.2-1.1-.4-1.1-.8-.7-1-.6-.9-.5-1.1-.3M62.3,76.5l.5 1 .6.8.8.8 1 .6 1 .3 1.1.2 1.1-.1 1.1-.3 1-.4 1-.4.9-.7.7-.8.3-1.1.1-1.1-.1-1.1-.4-1M45.4,42.3l.2-1.1.2-1.1.3-1 .3-1.1.3-1 .5-1.1.7-.8.8-.7 1.1-.4 1.1-.2 1 .3 1 .4.9.7.7.9.5 1 .3 1M72.5,52l-.9-.7-.8-.7-.9-.7-.9-.7-.9-.5-1.1-.4-1-.3-1.1-.1-1.1.1-1 .3-1 .6-.9.6-.8.8-.7.8-.8.8-.6.9M79.1,55.9l.5 1 .3 1.1.2 1 .1 1.1-.2 1.1-.2 1.1-.2 1.1-.2 1.1-.2 1-.3 1.1-.2 1.1 0 1.1 0 1.1.1 1.1.2 1.1.1 1.1M45.4,51.5l0-1.1.3-1 .8-.9 1-.4 1.1.1 1 .4.8.7.6.9.4 1 .3 1.1.1 1.1-.2 1.1-.4 1-.8.8-.8.7-1 .5M37,60l-.1 1.1-.3 1.1-.4 1-.3 1.1-.2 1 0 1.1 0 1.1 0 1.1 0 1.1-.1 1.1-.2 1.1-.2 1.1M28.7,56.1l-.8-.8-1-.4-1.1-.1-1 .3M64.9,71.7l-.4-1-.6-.9-.8-.8-1-.5-1-.4-1.1-.3-1.1 0-1.1.1-.9.6-.6.9-.3 1.1.1 1.1.4 1 .6.9.8.8.8.7M43.3,34.9l-.5-1-.3-1.1-.4-1-.3-1.1-.2-1-.2-1.1-.3-1.1-.1-1.1-.1-1.1 0-1.1-.1-1.1-.1-1.1-.1-1-.2-1.1-.4-1.1-.4-1M64.2,33.9l-.5-1-.5-1-.4-1-.3-1.1-.2-1 0-1.1-.1-1.1-.2-1.1-.4-1-.5-1-.6-.9-.4-1-.6-1-.2-1.1 0-1.1M68.5,74.8l-.7-.8-.8-.8-.8-.8-.8-.7-.8-.7-.9-.8-.8-.6-.9-.7-1-.5-1-.4-1.1-.1-1.1.2-1 .5-.9.6-.8.8-.6.8M38,70.6l-.2-1.1-.3-1.1-.5-1-.6-.9-.7-.8-.7-.8-.9-.7-1-.5-1.1-.1-1.1.2-.9.6-.7.9M54.1,50.6l-.9-.7-.9-.6-1-.4-1-.4-1.1-.3-1.1-.2-1-.4-1-.6-.8-.7-.6-.9-.3-1.1.1-1 .5-1 .9-.6 1.1-.1 1 .5M33.9,20.2l0-1.1-.2-1-.6-1-.8-.7M56.4,46.3l.4 1 .6.9.7.9.9.7 1 .5 1 .3 1 .3 1.1.2 1.1.1 1.1-.1 1.1-.4 1-.4.9-.6.9-.6.9-.7.7-.8M39.6,39.6l.8.6.9.7.9.7.9.6.9.6.8.7.8.8.7.9.5 1 .5.9.4 1.1.4 1 .5 1 .6.9.7.8.5 1"/>
</defs>
<rect width="760" height="1099" fill="#fff"/>
<text x="2" y="19.4" font-family='"Liberation Sans", sans-serif' font-weight="bold" font-size="19">A</text>
<text x="137" y="43.6" font-family='"Liberation Sans", sans-serif' font-size="9.8" text-anchor="middle" fill="#222">Vertebrate CAP-H</text>
<rect x="181" y="39" width="50.5" height="5" fill="#e8303a"/>
<text x="206" y="32" font-family='"Liberation Sans", sans-serif' font-size="10" text-anchor="middle" fill="#e8303a">N-tail</text>
<rect x="231" y="39" width="290" height="5" fill="#2f4fa6"/>
<rect x="231" y="28.75" width="40.75" height="24.5" fill="#9aa2d9" stroke="#8a92cc" stroke-width="0.5"/>
<text x="251.38" y="44.6" font-family='"Liberation Sans", sans-serif' font-size="10" text-anchor="middle" fill="#222">I</text>
<rect x="285.75" y="28.75" width="19.50" height="24.5" fill="#9aa2d9" stroke="#8a92cc" stroke-width="0.5"/>
<text x="295.50" y="44.6" font-family='"Liberation Sans", sans-serif' font-size="10" text-anchor="middle" fill="#222">II</text>
<rect x="365.75" y="28.75" width="19.25" height="24.5" fill="#9aa2d9" stroke="#8a92cc" stroke-width="0.5"/>
<text x="375.38" y="44.6" font-family='"Liberation Sans", sans-serif' font-size="10" text-anchor="middle" fill="#222">III</text>
<rect x="398.25" y="28.75" width="18.50" height="24.5" fill="#9aa2d9" stroke="#8a92cc" stroke-width="0.5"/>
<text x="407.50" y="44.6" font-family='"Liberation Sans", sans-serif' font-size="10" text-anchor="middle" fill="#222">IV</text>
<rect x="466.25" y="28.75" width="19.50" height="24.5" fill="#9aa2d9" stroke="#8a92cc" stroke-width="0.5"/>
<text x="476.00" y="44.6" font-family='"Liberation Sans", sans-serif' font-size="10" text-anchor="middle" fill="#222">V-A</text>
<rect x="502" y="28.75" width="18.75" height="24.5" fill="#9aa2d9" stroke="#8a92cc" stroke-width="0.5"/>
<text x="511.38" y="44.6" font-family='"Liberation Sans", sans-serif' font-size="10" text-anchor="middle" fill="#222">V-B</text>
<text x="250.5" y="7.6" font-family='"Liberation Sans", sans-serif' font-size="9.5" text-anchor="middle" fill="#8c8c8c">SMC2</text>
<text x="296" y="7.6" font-family='"Liberation Sans", sans-serif' font-size="9.5" text-anchor="middle" fill="#8c8c8c">CAP-D2</text>
<text x="407" y="7.6" font-family='"Liberation Sans", sans-serif' font-size="9.5" text-anchor="middle" fill="#8c8c8c">CAP-G</text>
<text x="493" y="7.6" font-family='"Liberation Sans", sans-serif' font-size="9.5" text-anchor="middle" fill="#8c8c8c">SMC4</text>
<line x1="250.5" y1="10.8" x2="250.5" y2="26" stroke="#8c8c8c" stroke-width="0.7"/><polyline points="248.90,13.30 250.5,10.8 252.10,13.30" fill="none" stroke="#8c8c8c" stroke-width="0.7"/><polyline points="248.90,23.50 250.5,26 252.10,23.50" fill="none" stroke="#8c8c8c" stroke-width="0.7"/>
<line x1="296" y1="10.8" x2="296" y2="26" stroke="#8c8c8c" stroke-width="0.7"/><polyline points="294.40,13.30 296,10.8 297.60,13.30" fill="none" stroke="#8c8c8c" stroke-width="0.7"/><polyline points="294.40,23.50 296,26 297.60,23.50" fill="none" stroke="#8c8c8c" stroke-width="0.7"/>
<line x1="407" y1="10.8" x2="407" y2="26" stroke="#8c8c8c" stroke-width="0.7"/><polyline points="405.40,13.30 407,10.8 408.60,13.30" fill="none" stroke="#8c8c8c" stroke-width="0.7"/><polyline points="405.40,23.50 407,26 408.60,23.50" fill="none" stroke="#8c8c8c" stroke-width="0.7"/>
<line x1="481" y1="10.8" x2="475" y2="26" stroke="#8c8c8c" stroke-width="0.7"/><polyline points="478.59,12.54 481,10.8 481.57,13.71" fill="none" stroke="#8c8c8c" stroke-width="0.7"/><polyline points="474.43,23.09 475,26 477.41,24.26" fill="none" stroke="#8c8c8c" stroke-width="0.7"/>
<line x1="506" y1="10.8" x2="512.5" y2="26" stroke="#8c8c8c" stroke-width="0.7"/><polyline points="505.51,13.73 506,10.8 508.45,12.47" fill="none" stroke="#8c8c8c" stroke-width="0.7"/><polyline points="510.05,24.33 512.5,26 512.99,23.07" fill="none" stroke="#8c8c8c" stroke-width="0.7"/>
<line x1="182" y1="45.8" x2="61" y2="86" stroke="#333" stroke-width="1.1" stroke-dasharray="1.5,1.1"/>
<line x1="231" y1="56" x2="530" y2="84" stroke="#333" stroke-width="1.1" stroke-dasharray="1.5,1.1"/>
<text x="345.3" y="80.5" font-family='"Liberation Mono", monospace' font-weight="bold" font-size="10" fill="#702d9a">CH</text>
<path d="M313.26,84.30L313.91,86.01L315.74,86.10L314.31,87.24L314.79,89.00L313.26,88.00L311.74,89.00L312.22,87.24L310.79,86.10L312.62,86.01ZM318.44,84.30L319.08,86.01L320.91,86.10L319.48,87.24L319.96,89.00L318.44,88.00L316.91,89.00L317.39,87.24L315.96,86.10L317.79,86.01ZM323.61,84.30L324.25,86.01L326.08,86.10L324.65,87.24L325.13,89.00L323.61,88.00L322.08,89.00L322.56,87.24L321.13,86.10L322.96,86.01ZM328.78,84.30L329.42,86.01L331.25,86.10L329.82,87.24L330.31,89.00L328.78,88.00L327.25,89.00L327.73,87.24L326.30,86.10L328.13,86.01ZM333.95,84.30L334.60,86.01L336.42,86.10L334.99,87.24L335.48,89.00L333.95,88.00L332.42,89.00L332.90,87.24L331.48,86.10L333.30,86.01ZM339.12,84.30L339.77,86.01L341.59,86.10L340.17,87.24L340.65,89.00L339.12,88.00L337.59,89.00L338.07,87.24L336.65,86.10L338.47,86.01ZM344.29,84.30L344.94,86.01L346.76,86.10L345.34,87.24L345.82,89.00L344.29,88.00L342.76,89.00L343.24,87.24L341.82,86.10L343.64,86.01ZM349.46,84.30L350.11,86.01L351.93,86.10L350.51,87.24L350.99,89.00L349.46,88.00L347.93,89.00L348.42,87.24L346.99,86.10L348.81,86.01ZM354.63,84.30L355.28,86.01L357.11,86.10L355.68,87.24L356.16,89.00L354.63,88.00L353.10,89.00L353.59,87.24L352.16,86.10L353.99,86.01ZM359.80,84.30L360.45,86.01L362.28,86.10L360.85,87.24L361.33,89.00L359.80,88.00L358.28,89.00L358.76,87.24L357.33,86.10L359.16,86.01ZM364.97,84.30L365.62,86.01L367.45,86.10L366.02,87.24L366.50,89.00L364.97,88.00L363.45,89.00L363.93,87.24L362.50,86.10L364.33,86.01ZM370.15,84.30L370.79,86.01L372.62,86.10L371.19,87.24L371.67,89.00L370.15,88.00L368.62,89.00L369.10,87.24L367.67,86.10L369.50,86.01ZM375.32,84.30L375.96,86.01L377.79,86.10L376.36,87.24L376.84,89.00L375.32,88.00L373.79,89.00L374.27,87.24L372.84,86.10L374.67,86.01ZM380.49,84.30L381.13,86.01L382.96,86.10L381.53,87.24L382.02,89.00L380.49,88.00L378.96,89.00L379.44,87.24L378.01,86.10L379.84,86.01ZM385.66,84.30L386.31,86.01L388.13,86.10L386.70,87.24L387.19,89.00L385.66,88.00L384.13,89.00L384.61,87.24L383.19,86.10L385.01,86.01ZM390.83,84.30L391.48,86.01L393.30,86.10L391.88,87.24L392.36,89.00L390.83,88.00L389.30,89.00L389.78,87.24L388.36,86.10L390.18,86.01ZM396.00,84.30L396.65,86.01L398.47,86.10L397.05,87.24L397.53,89.00L396.00,88.00L394.47,89.00L394.95,87.24L393.53,86.10L395.35,86.01Z" fill="#7b3fb0"/>
<text x="556" y="80.6" font-family='"Liberation Mono", monospace' font-weight="bold" font-size="10" fill="#111">motif I</text>
<text x="538.20 543.37 548.54 553.72 558.89 564.06 569.23 574.40 579.57 584.74 589.91 595.08 600.25 605.43" y="90.4" font-family='"Liberation Mono", monospace' font-weight="bold" font-size="8.62" fill="#333">==============</text>
<rect x="77.98" y="93.03" width="15.51" height="9.75" fill="#e8312f"/>
<rect x="98.67" y="93.03" width="5.17" height="9.75" fill="#e8312f"/>
<rect x="129.69" y="93.03" width="5.17" height="9.75" fill="#e8312f"/>
<rect x="140.04" y="93.03" width="10.34" height="9.75" fill="#e8312f"/>
<rect x="155.55" y="93.03" width="5.17" height="9.75" fill="#e8312f"/>
<rect x="253.80" y="93.03" width="5.17" height="9.75" fill="#e8312f"/>
<rect x="362.39" y="93.03" width="5.17" height="9.75" fill="#e8312f"/>
<rect x="403.76" y="93.03" width="5.17" height="9.75" fill="#e8312f"/>
<rect x="414.10" y="93.03" width="5.17" height="9.75" fill="#e8312f"/>
<rect x="424.44" y="93.03" width="5.17" height="9.75" fill="#e8312f"/>
<rect x="455.47" y="93.03" width="5.17" height="9.75" fill="#e8312f"/>
<rect x="465.81" y="93.03" width="10.34" height="9.75" fill="#e8312f"/>
<rect x="486.49" y="93.03" width="5.17" height="9.75" fill="#e8312f"/>
<rect x="512.35" y="93.03" width="5.17" height="9.75" fill="#e8312f"/>
<rect x="522.69" y="93.03" width="5.17" height="9.75" fill="#e8312f"/>
<rect x="77.98" y="190.53" width="15.51" height="19.50" fill="#e8312f"/>
<rect x="98.67" y="190.53" width="5.17" height="19.50" fill="#e8312f"/>
<rect x="129.69" y="190.53" width="5.17" height="19.50" fill="#e8312f"/>
<rect x="140.04" y="190.53" width="10.34" height="19.50" fill="#e8312f"/>
<rect x="155.55" y="190.53" width="5.17" height="19.50" fill="#e8312f"/>
<rect x="253.80" y="190.53" width="5.17" height="19.50" fill="#e8312f"/>
<rect x="362.39" y="190.53" width="5.17" height="19.50" fill="#e8312f"/>
<rect x="403.76" y="190.53" width="5.17" height="19.50" fill="#e8312f"/>
<rect x="414.10" y="190.53" width="5.17" height="19.50" fill="#e8312f"/>
<rect x="424.44" y="190.53" width="5.17" height="19.50" fill="#e8312f"/>
<rect x="455.47" y="190.53" width="5.17" height="19.50" fill="#e8312f"/>
<rect x="465.81" y="190.53" width="10.34" height="19.50" fill="#e8312f"/>
<rect x="486.49" y="190.53" width="5.17" height="19.50" fill="#e8312f"/>
<rect x="512.35" y="190.53" width="5.17" height="19.50" fill="#e8312f"/>
<rect x="522.69" y="190.53" width="5.17" height="19.50" fill="#e8312f"/>
<rect x="321.02" y="93.03" width="5.17" height="39.00" fill="#702d9a"/>
<rect x="321.02" y="219.78" width="5.17" height="9.75" fill="#702d9a"/>
<rect x="331.36" y="219.78" width="5.17" height="9.75" fill="#702d9a"/>
<rect x="346.88" y="219.78" width="15.51" height="9.75" fill="#702d9a"/>
<rect x="367.56" y="219.78" width="5.17" height="9.75" fill="#702d9a"/>
<rect x="331.36" y="93.03" width="5.17" height="48.75" fill="#702d9a"/>
<rect x="346.88" y="93.03" width="10.34" height="48.75" fill="#702d9a"/>
<rect x="367.56" y="93.03" width="5.17" height="48.75" fill="#702d9a"/>
<rect x="357.22" y="93.03" width="5.17" height="29.25" fill="#702d9a"/>
<rect x="357.22" y="132.03" width="5.17" height="9.75" fill="#702d9a"/>
<rect x="564.06" y="93.03" width="10.34" height="48.75" fill="#2f5fb5"/>
<rect x="584.74" y="93.03" width="15.51" height="48.75" fill="#2f5fb5"/>
<rect x="605.43" y="93.03" width="5.17" height="48.75" fill="#2f5fb5"/>
<rect x="564.06" y="180.78" width="10.34" height="48.75" fill="#2f5fb5"/>
<rect x="584.74" y="180.78" width="15.51" height="48.75" fill="#2f5fb5"/>
<rect x="605.43" y="180.78" width="5.17" height="48.75" fill="#2f5fb5"/>
<text x="11.6" y="100.90" font-family='"Liberation Mono", monospace' font-weight="bold" font-size="8.62" fill="#1a1a1a">hCAP-H</text>
<text x="57.40 62.57 67.74 72.91 93.60 103.94 109.11 114.28 119.45 124.62 134.97 150.48 160.82 165.99 171.16 176.33 181.50 186.67 191.85 197.02 202.19 207.36 212.53 217.70 222.87 228.04 233.21 238.39 243.56 248.73 264.24 274.58 279.75 284.92 290.10 295.27 336.63 341.81 378.00 393.52 398.69 409.03 419.37 429.71 434.88 440.05 445.23 450.40 460.74 476.25 481.42 491.76 496.94 502.11 507.28 517.62 527.96 533.13 538.30 543.47 548.64 553.82 558.99 574.50 579.67 600.36" y="100.90" font-family='"Liberation Mono", monospace' font-weight="bold" font-size="8.62" fill="#1a1a1a">-MNNERGHPHAPERVFPMPLPRKAPLNIPGVEDFPQLQFQF-DPRLLAPR--IDIAIPKFTNTTET</text>
<text x="78.08 83.25 88.43 98.77 129.79 140.14 145.31 155.65 321.12 357.32 403.86 414.20 424.54 455.57 465.91 471.08 486.59 512.45 522.79 564.16 569.33 584.84 590.01 595.18 605.53" y="100.90" font-family='"Liberation Mono", monospace' font-weight="bold" font-size="8.62" fill="#ffffff">SSSTSSSSKRSTSSSSSSTQIHYSC</text>
<text x="253.90 259.07 269.41 300.44 305.61 310.78 315.95 326.29 331.46 346.98 352.15 362.49 367.66 372.83 383.17 388.34" y="100.90" font-family='"Liberation Mono", monospace' font-weight="bold" font-size="8.62" fill="#f28c28">TPLNDDEERRRSRVDL</text>
<text x="11.6" y="110.65" font-family='"Liberation Mono", monospace' font-weight="bold" font-size="8.62" fill="#1a1a1a">mCAP-H</text>
<text x="57.40 62.57 67.74 72.91 78.08 83.25 88.43 93.60 98.77 103.94 109.11 114.28 119.45 124.62 129.79 134.97 140.14 145.31 150.48 155.65 160.82 165.99 171.16 176.33 181.50 186.67 191.85 197.02 202.19 207.36 212.53 217.70 222.87 228.04 233.21 238.39 243.56 248.73 264.24 274.58 279.75 284.92 290.10 295.27 336.63 341.81 378.00 393.52 398.69 403.86 409.03 414.20 419.37 424.54 429.71 434.88 440.05 445.23 450.40 455.57 460.74 465.91 471.08 476.25 481.42 486.59 491.76 496.94 502.11 507.28 512.45 517.62 522.79 527.96 533.13 538.30 543.47 548.64 553.82 558.99 574.50 579.67 600.36" y="110.65" font-family='"Liberation Mono", monospace' font-weight="bold" font-size="8.62" fill="#1a1a1a">-MNSSFLKARGQQDVLSSPLERVPPASRPGKAPLGTPKVEDFPQMQFQFS-TD-SIHLASP-NR-N-IDVSTTISKFTNTTET</text>
<text x="253.90 259.07 269.41 300.44 305.61 310.78 315.95 326.29 331.46 346.98 352.15 362.49 367.66 372.83 383.17 388.34" y="110.65" font-family='"Liberation Mono", monospace' font-weight="bold" font-size="8.62" fill="#f28c28">TPLNDDEERRRSRVDL</text>
<text x="321.12 357.32 564.16 569.33 584.84 590.01 595.18 605.53" y="110.65" font-family='"Liberation Mono", monospace' font-weight="bold" font-size="8.62" fill="#ffffff">KRQIHYSC</text>
<text x="11.6" y="120.40" font-family='"Liberation Mono", monospace' font-weight="bold" font-size="8.62" fill="#1a1a1a">GgCAP-H</text>
<text x="57.40 62.57 67.74 72.91 78.08 83.25 88.43 93.60 98.77 103.94 109.11 114.28 119.45 124.62 129.79 134.97 140.14 145.31 150.48 155.65 160.82 165.99 171.16 176.33 181.50 186.67 191.85 197.02 202.19 207.36 212.53 217.70 222.87 228.04 233.21 238.39 243.56 248.73 264.24 274.58 279.75 284.92 290.10 295.27 336.63 341.81 378.00 393.52 398.69 403.86 409.03 414.20 419.37 424.54 429.71 434.88 440.05 445.23 450.40 455.57 460.74 465.91 471.08 476.25 481.42 486.59 491.76 496.94 502.11 507.28 512.45 517.62 522.79 527.96 533.13 538.30 543.47 548.64 553.82 558.99 574.50 579.67 600.36" y="120.40" font-family='"Liberation Mono", monospace' font-weight="bold" font-size="8.62" fill="#1a1a1a">-MRAVTPRRGGRGGGG------AVDSPA--SRSLSGSATVECPGRQVQLGGTESPLSLCSA-APRQADASLPALSGWTNASEA</text>
<text x="253.90 259.07 269.41 300.44 305.61 310.78 315.95 326.29 331.46 346.98 352.15 362.49 367.66 372.83 383.17 388.34" y="120.40" font-family='"Liberation Mono", monospace' font-weight="bold" font-size="8.62" fill="#f28c28">TPLNDDEERRRSRVDL</text>
<text x="321.12 357.32 564.16 569.33 584.84 590.01 595.18 605.53" y="120.40" font-family='"Liberation Mono", monospace' font-weight="bold" font-size="8.62" fill="#ffffff">RRQIHYSC</text>
<text x="11.6" y="130.15" font-family='"Liberation Mono", monospace' font-weight="bold" font-size="8.62" fill="#1a1a1a">XlCAP-H</text>
<text x="57.40 62.57 67.74 72.91 78.08 83.25 88.43 93.60 98.77 103.94 109.11 114.28 119.45 124.62 129.79 134.97 140.14 145.31 150.48 155.65 160.82 165.99 171.16 176.33 181.50 186.67 191.85 197.02 202.19 207.36 212.53 217.70 222.87 228.04 233.21 238.39 243.56 248.73 264.24 274.58 279.75 284.92 290.10 295.27 336.63 341.81 357.32 378.00 393.52 398.69 403.86 409.03 414.20 419.37 424.54 429.71 434.88 440.05 445.23 450.40 455.57 460.74 465.91 471.08 476.25 481.42 486.59 491.76 496.94 502.11 507.28 512.45 517.62 522.79 527.96 533.13 538.30 543.47 548.64 553.82 558.99 574.50 579.67 600.36" y="130.15" font-family='"Liberation Mono", monospace' font-weight="bold" font-size="8.62" fill="#1a1a1a">-MSTSTPQSGGRRKP-ETPDSAF-LSPATRPQPISAAATLNFTSKLMIQLSNANSPATAISPAQSRGADTPTSLLPKLNNTSDT</text>
<text x="253.90 259.07 269.41 300.44 305.61 310.78 315.95 326.29 331.46 346.98 352.15 362.49 367.66 372.83 383.17 388.34" y="130.15" font-family='"Liberation Mono", monospace' font-weight="bold" font-size="8.62" fill="#f28c28">TPLNDDEERRRSRVDL</text>
<text x="321.12 564.16 569.33 584.84 590.01 595.18 605.53" y="130.15" font-family='"Liberation Mono", monospace' font-weight="bold" font-size="8.62" fill="#ffffff">RQIHYSC</text>
<text x="11.6" y="139.90" font-family='"Liberation Mono", monospace' font-weight="bold" font-size="8.62" fill="#1a1a1a">DrCAP-H</text>
<text x="57.40 62.57 67.74 72.91 78.08 83.25 88.43 93.60 98.77 103.94 109.11 114.28 119.45 124.62 129.79 134.97 140.14 145.31 150.48 155.65 160.82 165.99 171.16 176.33 181.50 186.67 191.85 197.02 202.19 207.36 212.53 217.70 222.87 228.04 233.21 238.39 243.56 248.73 264.24 274.58 279.75 284.92 290.10 295.27 321.12 336.63 341.81 378.00 393.52 398.69 403.86 409.03 414.20 419.37 424.54 429.71 434.88 440.05 445.23 450.40 455.57 460.74 465.91 471.08 476.25 481.42 486.59 491.76 496.94 502.11 507.28 512.45 517.62 522.79 527.96 533.13 538.30 543.47 548.64 553.82 558.99 574.50 579.67 600.36" y="139.90" font-family='"Liberation Mono", monospace' font-weight="bold" font-size="8.62" fill="#1a1a1a">MSAFSTPTARQRQW--SSPALG-------HKAALSTTSLDNIQGQRQIHGVNDSSINEAGTHS---SAGTP-AAVPKLSSASET</text>
<text x="253.90 259.07 269.41 300.44 305.61 310.78 315.95 326.29 331.46 346.98 352.15 362.49 367.66 372.83 383.17 388.34" y="139.90" font-family='"Liberation Mono", monospace' font-weight="bold" font-size="8.62" fill="#f28c28">TPLNDDEERRRSRVDL</text>
<text x="357.32 564.16 569.33 584.84 590.01 595.18 605.53" y="139.90" font-family='"Liberation Mono", monospace' font-weight="bold" font-size="8.62" fill="#ffffff">RQIHYSC</text>
<text x="11.6" y="149.65" font-family='"Liberation Mono", monospace' font-weight="bold" font-size="8.62" fill="#1a1a1a">SpCAP-H</text>
<text x="57.40 62.57 67.74 72.91 78.08 83.25 88.43 93.60 98.77 103.94 109.11 114.28 119.45 124.62 129.79 134.97 140.14 145.31 150.48 155.65 160.82 165.99 171.16 176.33 181.50 186.67 191.85 197.02 202.19 207.36 212.53 217.70 222.87 228.04 233.21 238.39 243.56 248.73 253.90 259.07 264.24 269.41 274.58 279.75 284.92 290.10 295.27 300.44 305.61 310.78 315.95 321.12 326.29 331.46 336.63 341.81 346.98 352.15 357.32 362.49 367.66 372.83 378.00 383.17 388.34 393.52 398.69 403.86 409.03 414.20 419.37 424.54 429.71 434.88 440.05 445.23 450.40 455.57 460.74 465.91 471.08 476.25 481.42 486.59 491.76 496.94 502.11 507.28 512.45 517.62 522.79 527.96 533.13 538.30 543.47 548.64 553.82 558.99 564.16 569.33 574.50 579.67 584.84 590.01 595.18 600.36 605.53" y="149.65" font-family='"Liberation Mono", monospace' font-weight="bold" font-size="8.62" fill="#1a1a1a">------------------------------MKRASLGGHAPVSLPSLNDDALEKKRAKENSRKQRELRRSSALHSITPRRESLNNSSPFNS---SHQVPVLSNFEEW</text>
<text x="11.6" y="159.40" font-family='"Liberation Mono", monospace' font-weight="bold" font-size="8.62" fill="#1a1a1a">ScCAP-H</text>
<text x="57.40 62.57 67.74 72.91 78.08 83.25 88.43 93.60 98.77 103.94 109.11 114.28 119.45 124.62 129.79 134.97 140.14 145.31 150.48 155.65 160.82 165.99 171.16 176.33 181.50 186.67 191.85 197.02 202.19 207.36 212.53 217.70 222.87 228.04 233.21 238.39 243.56 248.73 253.90 259.07 264.24 269.41 274.58 279.75 284.92 290.10 295.27 300.44 305.61 310.78 315.95 321.12 326.29 331.46 336.63 341.81 346.98 352.15 357.32 362.49 367.66 372.83 378.00 383.17 388.34 393.52 398.69 403.86 409.03 414.20 419.37 424.54 429.71 434.88 440.05 445.23 450.40 455.57 460.74 465.91 471.08 476.25 481.42 486.59 491.76 496.94 502.11 507.28 512.45 517.62 522.79 527.96 533.13 538.30 543.47 548.64 553.82 558.99 564.16 569.33 574.50 579.67 584.84 590.01 595.18 600.36 605.53" y="159.40" font-family='"Liberation Mono", monospace' font-weight="bold" font-size="8.62" fill="#1a1a1a">--------------------------------------MTTQLRYENNDDDERVEYNLFTNRS-------------------------------------MANFEEW</text>
<text x="11.6" y="169.15" font-family='"Liberation Mono", monospace' font-weight="bold" font-size="8.62" fill="#1a1a1a">EcCAP-H</text>
<text x="57.40 62.57 67.74 72.91 78.08 83.25 88.43 93.60 98.77 103.94 109.11 114.28 119.45 124.62 129.79 134.97 140.14 145.31 150.48 155.65 160.82 165.99 171.16 176.33 181.50 186.67 191.85 197.02 202.19 207.36 212.53 217.70 222.87 228.04 233.21 238.39 243.56 248.73 253.90 259.07 264.24 269.41 274.58 279.75 284.92 290.10 295.27 300.44 305.61 310.78 315.95 321.12 326.29 331.46 336.63 341.81 346.98 352.15 357.32 362.49 367.66 372.83 378.00 383.17 388.34 393.52 398.69 403.86 409.03 414.20 419.37 424.54 429.71 434.88 440.05 445.23 450.40 455.57 460.74 465.91 471.08 476.25 481.42 486.59 491.76 496.94 502.11 507.28 512.45 517.62 522.79 527.96 533.13 538.30 543.47 548.64 553.82 558.99 564.16 569.33 574.50 579.67 584.84 590.01 595.18 600.36 605.53" y="169.15" font-family='"Liberation Mono", monospace' font-weight="bold" font-size="8.62" fill="#1a1a1a">--------------------------------------------------------------------------------------------------MSNDDLGTW</text>
<text x="11.6" y="188.65" font-family='"Liberation Mono", monospace' font-weight="bold" font-size="8.62" fill="#1a1a1a">H-dN</text>
<text x="57.40 62.57 67.74 72.91 78.08 83.25 88.43 93.60 98.77 103.94 109.11 114.28 119.45 124.62 129.79 134.97 140.14 145.31 150.48 155.65 160.82 165.99 171.16 176.33 181.50 186.67 191.85 197.02 202.19 207.36 212.53 217.70 222.87 228.04 233.21 238.39 243.56 248.73 253.90 259.07 264.24 269.41 274.58 279.75 284.92 290.10 295.27 300.44 305.61 310.78 315.95 321.12 326.29 331.46 336.63 341.81 346.98 352.15 357.32 362.49 367.66 372.83 378.00 383.17 388.34 393.52 398.69 403.86 409.03 414.20 419.37 424.54 429.71 434.88 440.05 445.23 450.40 455.57 460.74 465.91 471.08 476.25 481.42 486.59 491.76 496.94 502.11 507.28 512.45 517.62 522.79 527.96 533.13 538.30 543.47 548.64 553.82 558.99 574.50 579.67 600.36" y="188.65" font-family='"Liberation Mono", monospace' font-weight="bold" font-size="8.62" fill="#1a1a1a">-------------------------------------------------------------------------------MSR-S-IDISATIPKFTNTTET</text>
<text x="564.16 569.33 584.84 590.01 595.18 605.53" y="188.65" font-family='"Liberation Mono", monospace' font-weight="bold" font-size="8.62" fill="#ffffff">QIHYSC</text>
<text x="11.6" y="198.40" font-family='"Liberation Mono", monospace' font-weight="bold" font-size="8.62" fill="#1a1a1a">H-N19A</text>
<text x="57.40 62.57 67.74 72.91 93.60 103.94 109.11 114.28 119.45 124.62 134.97 150.48 160.82 165.99 171.16 176.33 181.50 186.67 191.85 197.02 202.19 207.36 212.53 217.70 222.87 228.04 233.21 238.39 243.56 248.73 264.24 274.58 279.75 284.92 290.10 295.27 321.12 326.29 336.63 341.81 357.32 378.00 393.52 398.69 409.03 419.37 429.71 434.88 440.05 445.23 450.40 460.74 476.25 481.42 491.76 496.94 502.11 507.28 517.62 527.96 533.13 538.30 543.47 548.64 553.82 558.99 574.50 579.67 600.36" y="198.40" font-family='"Liberation Mono", monospace' font-weight="bold" font-size="8.62" fill="#1a1a1a">-MNNERGHPHAPERVFPMPLPRKAPLNIPGVEDFPQKELQRFQF-DPRLLAPR--IDIAIPKFTNTTET</text>
<text x="78.08 83.25 88.43 98.77 129.79 140.14 145.31 155.65 253.90 362.49 403.86 414.20 424.54 455.57 465.91 471.08 486.59 512.45 522.79 564.16 569.33 584.84 590.01 595.18 605.53" y="198.40" font-family='"Liberation Mono", monospace' font-weight="bold" font-size="8.62" fill="#ffffff">AAAAAAAAAAAAAAAAAAAQIHYSC</text>
<text x="259.07 269.41 300.44 305.61 310.78 315.95 331.46 346.98 352.15 367.66 372.83 383.17 388.34" y="198.40" font-family='"Liberation Mono", monospace' font-weight="bold" font-size="8.62" fill="#f28c28">PLNDDERRRRVDL</text>
<text x="11.6" y="208.15" font-family='"Liberation Mono", monospace' font-weight="bold" font-size="8.62" fill="#1a1a1a">H-N19D</text>
<text x="57.40 62.57 67.74 72.91 93.60 103.94 109.11 114.28 119.45 124.62 134.97 150.48 160.82 165.99 171.16 176.33 181.50 186.67 191.85 197.02 202.19 207.36 212.53 217.70 222.87 228.04 233.21 238.39 243.56 248.73 264.24 274.58 279.75 284.92 290.10 295.27 321.12 326.29 336.63 341.81 357.32 378.00 393.52 398.69 409.03 419.37 429.71 434.88 440.05 445.23 450.40 460.74 476.25 481.42 491.76 496.94 502.11 507.28 517.62 527.96 533.13 538.30 543.47 548.64 553.82 558.99 574.50 579.67 600.36" y="208.15" font-family='"Liberation Mono", monospace' font-weight="bold" font-size="8.62" fill="#1a1a1a">-MNNERGHPHAPERVFPMPLPRKAPLNIPGVEDFPQKELQRFQF-DPRLLAPR--IDIAIPKFTNTTET</text>
<text x="78.08 83.25 88.43 98.77 129.79 140.14 145.31 155.65 253.90 362.49 403.86 414.20 424.54 455.57 465.91 471.08 486.59 512.45 522.79 564.16 569.33 584.84 590.01 595.18 605.53" y="208.15" font-family='"Liberation Mono", monospace' font-weight="bold" font-size="8.62" fill="#ffffff">DDDDDDDDDDDDDDDDDDDQIHYSC</text>
<text x="259.07 269.41 300.44 305.61 310.78 315.95 331.46 346.98 352.15 367.66 372.83 383.17 388.34" y="208.15" font-family='"Liberation Mono", monospace' font-weight="bold" font-size="8.62" fill="#f28c28">PLNDDERRRRVDL</text>
<text x="11.6" y="217.90" font-family='"Liberation Mono", monospace' font-weight="bold" font-size="8.62" fill="#1a1a1a">H-dCH</text>
<text x="57.40 62.57 67.74 72.91 78.08 83.25 88.43 93.60 98.77 103.94 109.11 114.28 119.45 124.62 129.79 134.97 140.14 145.31 150.48 155.65 160.82 165.99 171.16 176.33 181.50 186.67 191.85 197.02 202.19 207.36 212.53 217.70 222.87 228.04 233.21 238.39 243.56 248.73 264.24 274.58 279.75 284.92 290.10 295.27 310.78 315.95 321.12 326.29 331.46 336.63 341.81 346.98 352.15 357.32 362.49 367.66 372.83 378.00 383.17 388.34 393.52 398.69 403.86 409.03 414.20 419.37 424.54 429.71 434.88 440.05 445.23 450.40 455.57 460.74 465.91 471.08 476.25 481.42 486.59 491.76 496.94 502.11 507.28 512.45 517.62 522.79 527.96 533.13 538.30 543.47 548.64 553.82 558.99 574.50 579.67 600.36" y="217.90" font-family='"Liberation Mono", monospace' font-weight="bold" font-size="8.62" fill="#1a1a1a">-MNNSSSETRGHPHSASSPSERVFPMPLPRKAPLNIPGVEDFPQ-----------------FS-TDSPRLLASPSSR-S-IDISATIPKFTNTTET</text>
<text x="253.90 259.07 269.41 300.44 305.61" y="217.90" font-family='"Liberation Mono", monospace' font-weight="bold" font-size="8.62" fill="#f28c28">TPLND</text>
<text x="564.16 569.33 584.84 590.01 595.18 605.53" y="217.90" font-family='"Liberation Mono", monospace' font-weight="bold" font-size="8.62" fill="#ffffff">QIHYSC</text>
<text x="11.6" y="227.65" font-family='"Liberation Mono", monospace' font-weight="bold" font-size="8.62" fill="#1a1a1a">H-crCH</text>
<text x="57.40 62.57 67.74 72.91 78.08 83.25 88.43 93.60 98.77 103.94 109.11 114.28 119.45 124.62 129.79 134.97 140.14 145.31 150.48 155.65 160.82 165.99 171.16 176.33 181.50 186.67 191.85 197.02 202.19 207.36 212.53 217.70 222.87 228.04 233.21 238.39 243.56 248.73 264.24 274.58 279.75 284.92 290.10 295.27 326.29 336.63 341.81 378.00 393.52 398.69 403.86 409.03 414.20 419.37 424.54 429.71 434.88 440.05 445.23 450.40 455.57 460.74 465.91 471.08 476.25 481.42 486.59 491.76 496.94 502.11 507.28 512.45 517.62 522.79 527.96 533.13 538.30 543.47 548.64 553.82 558.99 574.50 579.67 600.36" y="227.65" font-family='"Liberation Mono", monospace' font-weight="bold" font-size="8.62" fill="#1a1a1a">-MNNSSSETRGHPHSASSPSERVFPMPLPRKAPLNIPGVEDFPQELQFQFS-TDSPRLLASPSSR-S-IDISATIPKFTNTTET</text>
<text x="253.90 259.07 269.41 300.44 305.61 310.78 315.95 362.49 372.83 383.17 388.34" y="227.65" font-family='"Liberation Mono", monospace' font-weight="bold" font-size="8.62" fill="#f28c28">TPLNDDESVDL</text>
<text x="321.12 331.46 346.98 352.15 357.32 367.66 564.16 569.33 584.84 590.01 595.18 605.53" y="227.65" font-family='"Liberation Mono", monospace' font-weight="bold" font-size="8.62" fill="#ffffff">DDDDDDQIHYSC</text>
<polyline points="694.00,80.00 693.23,80.41 692.67,80.87 692.46,81.41 692.61,82.03 693.05,82.72 693.59,83.43 694.00,84.12 694.13,84.74 693.88,85.27 693.29,85.72 692.52,86.13 691.76,86.54 691.23,87.01 691.05,87.55 691.24,88.18 691.69,88.88 692.22,89.59 692.62,90.27 692.71,90.88 692.43,91.40 691.82,91.85 691.04,92.26 690.29,92.67 689.79,93.14 689.64,93.70 689.86,94.34 690.33,95.03 690.86,95.74 691.23,96.42 691.29,97.02 690.98,97.54 690.34,97.98 689.55,98.38 688.83,98.80 688.35,99.28 688.24,99.84 688.49,100.49 688.97,101.19 689.49,101.90 689.85,102.57 689.87,103.16 689.52,103.67 688.86,104.11 688.07,104.51 687.36,104.93 686.91,105.42 686.84,105.99 687.11,106.64 687.61,107.34 688.13,108.05 688.45,108.72 688.45,109.30 688.06,109.80 687.39,110.23 686.59,110.64 685.90,111.07 685.48,111.56 685.44,112.14 685.74,112.79 686.25,113.50 686.76,114.21 687.06,114.86 687.02,115.44 686.60,115.93 685.91,116.36 685.11,116.77 684.44,117.20 684.05,117.70 684.05,118.28 684.37,118.95 684.89,119.66 685.39,120.36 685.66,121.01 685.59,121.58 685.14,122.07 684.43,122.49 683.64,122.89 682.98,123.33 682.63,123.84 682.65,124.43 683.01,125.10 683.53,125.81 684.01,126.51 684.26,127.16 684.15,127.72 683.67,128.20 682.95,128.62 682.16,129.02 681.52,129.46 681.21,129.98 681.27,130.58 681.64,131.26 682.17,131.97 682.64,132.66 682.86,133.30 682.71,133.86 682.21,134.33 681.46,134.74 680.68,135.15 680.07,135.60 679.79,136.12 679.88,136.73 680.28,137.41 680.81,138.12 681.26,138.82 681.45,139.45 681.27,139.99 680.74,140.46 679.98,140.87 679.21,141.28 678.62,141.73 678.37,142.26 678.50,142.88 678.91,143.57 679.45,144.28 679.89,144.97 680.04,145.59 679.83,146.13 679.27,146.59 678.50,147.00" fill="none" stroke="#777" stroke-width="1.05"/><polyline points="694.00,80.00 694.51,80.71 694.81,81.36 694.77,81.94 694.35,82.43 693.66,82.86 692.86,83.27 692.19,83.70 691.80,84.20 691.80,84.78 692.12,85.45 692.64,86.16 693.14,86.86 693.41,87.51 693.34,88.08 692.89,88.57 692.18,88.99 691.39,89.39 690.73,89.83 690.38,90.34 690.40,90.93 690.76,91.60 691.28,92.31 691.76,93.01 692.01,93.66 691.90,94.22 691.42,94.70 690.70,95.12 689.91,95.52 689.27,95.96 688.96,96.48 689.02,97.08 689.39,97.76 689.92,98.47 690.39,99.16 690.61,99.80 690.46,100.36 689.96,100.83 689.21,101.24 688.43,101.65 687.82,102.10 687.54,102.62 687.63,103.23 688.03,103.91 688.56,104.62 689.01,105.32 689.20,105.95 689.02,106.49 688.49,106.96 687.73,107.37 686.96,107.78 686.37,108.23 686.12,108.76 686.25,109.38 686.66,110.07 687.20,110.78 687.64,111.47 687.79,112.09 687.58,112.63 687.02,113.09 686.25,113.50 685.48,113.91 684.92,114.37 684.71,114.91 684.86,115.53 685.30,116.22 685.84,116.93 686.25,117.62 686.38,118.24 686.13,118.77 685.54,119.22 684.77,119.63 684.01,120.04 683.48,120.51 683.30,121.05 683.49,121.68 683.94,122.38 684.47,123.09 684.87,123.77 684.96,124.38 684.68,124.90 684.07,125.35 683.29,125.76 682.54,126.17 682.04,126.64 681.89,127.20 682.11,127.84 682.58,128.53 683.11,129.24 683.48,129.92 683.54,130.52 683.23,131.04 682.59,131.48 681.80,131.88 681.08,132.30 680.60,132.78 680.49,133.34 680.74,133.99 681.22,134.69 681.74,135.40 682.10,136.07 682.12,136.66 681.77,137.17 681.11,137.61 680.32,138.01 679.61,138.43 679.16,138.92 679.09,139.49 679.36,140.14 679.86,140.84 680.38,141.55 680.70,142.22 680.70,142.80 680.31,143.30 679.64,143.73 678.84,144.14 678.15,144.57 677.73,145.06 677.69,145.64 677.99,146.29 678.50,147.00" fill="none" stroke="#777" stroke-width="1.05"/>
<polyline points="702.00,80.00 701.44,80.86 701.21,81.63 701.49,82.27 702.23,82.79 703.18,83.25 703.99,83.75 704.38,84.36 704.26,85.11 703.76,85.95 703.17,86.82 702.84,87.62 703.00,88.29 703.64,88.83 704.57,89.30 705.45,89.78 705.95,90.36 705.95,91.08 705.51,91.91 704.91,92.78 704.49,93.60 704.53,94.30 705.07,94.87 705.96,95.35 706.88,95.82 707.50,96.37 707.61,97.05 707.25,97.86 706.66,98.73 706.17,99.57 706.09,100.30 706.52,100.90 707.36,101.40 708.30,101.86 709.01,102.39 709.25,103.04 708.98,103.82 708.41,104.68 707.87,105.54 707.68,106.30 707.99,106.93 708.76,107.44 709.71,107.91 710.50,108.41 710.85,109.03 710.70,109.78 710.17,110.63 709.59,111.50 709.30,112.29 709.49,112.95 710.17,113.49 711.11,113.95 711.96,114.44 712.43,115.03 712.39,115.75 711.93,116.59 711.33,117.46 710.94,118.27 711.01,118.96 711.59,119.53 712.50,120.00 713.41,120.47 713.99,121.04 714.06,121.73 713.67,122.54 713.07,123.41 712.61,124.25 712.57,124.97 713.04,125.56 713.89,126.05 714.83,126.51 715.51,127.05 715.70,127.71 715.41,128.50 714.83,129.37 714.30,130.22 714.15,130.97 714.50,131.59 715.29,132.09 716.24,132.56 717.01,133.07 717.32,133.70 717.13,134.46 716.59,135.32 716.02,136.18 715.75,136.96 715.99,137.61 716.70,138.14 717.64,138.60 718.48,139.10 718.91,139.70 718.83,140.43 718.34,141.27 717.75,142.14 717.39,142.95 717.50,143.63 718.12,144.18 719.04,144.65 719.93,145.13 720.47,145.70 720.51,146.40 720.09,147.22 719.49,148.09 719.05,148.92 719.05,149.64 719.55,150.22 720.43,150.70 721.36,151.17 722.00,151.71 722.16,152.38 721.83,153.18 721.24,154.05 720.74,154.89 720.62,155.64 721.01,156.25 721.82,156.75 722.77,157.21 723.51,157.73 723.79,158.37 723.56,159.14 723.00,160.00" fill="none" stroke="#777" stroke-width="1.05"/><polyline points="702.00,80.00 702.91,80.47 703.49,81.04 703.56,81.73 703.17,82.54 702.57,83.41 702.11,84.25 702.07,84.97 702.54,85.56 703.39,86.05 704.33,86.51 705.01,87.05 705.20,87.71 704.91,88.50 704.33,89.37 703.80,90.22 703.65,90.97 704.00,91.59 704.79,92.09 705.74,92.56 706.51,93.07 706.82,93.70 706.63,94.46 706.09,95.32 705.52,96.18 705.25,96.96 705.49,97.61 706.20,98.14 707.14,98.60 707.98,99.10 708.41,99.70 708.33,100.43 707.84,101.27 707.25,102.14 706.89,102.95 707.00,103.63 707.62,104.18 708.54,104.65 709.43,105.13 709.97,105.70 710.01,106.40 709.59,107.22 708.99,108.09 708.55,108.92 708.55,109.64 709.05,110.22 709.93,110.70 710.86,111.17 711.50,111.71 711.66,112.38 711.33,113.18 710.74,114.05 710.24,114.89 710.12,115.64 710.51,116.25 711.32,116.75 712.27,117.21 713.01,117.73 713.29,118.37 713.06,119.14 712.50,120.00 711.94,120.86 711.71,121.63 711.99,122.27 712.73,122.79 713.68,123.25 714.49,123.75 714.88,124.36 714.76,125.11 714.26,125.95 713.67,126.82 713.34,127.62 713.50,128.29 714.14,128.83 715.07,129.30 715.95,129.78 716.45,130.36 716.45,131.08 716.01,131.91 715.41,132.78 714.99,133.60 715.03,134.30 715.57,134.87 716.46,135.35 717.38,135.82 718.00,136.37 718.11,137.05 717.75,137.86 717.16,138.73 716.67,139.57 716.59,140.30 717.02,140.90 717.86,141.40 718.80,141.86 719.51,142.39 719.75,143.04 719.48,143.82 718.91,144.68 718.37,145.54 718.18,146.30 718.49,146.93 719.26,147.44 720.21,147.91 721.00,148.41 721.35,149.03 721.20,149.78 720.67,150.63 720.09,151.50 719.80,152.29 719.99,152.95 720.67,153.49 721.61,153.95 722.46,154.44 722.93,155.03 722.89,155.75 722.43,156.59 721.83,157.46 721.44,158.27 721.51,158.96 722.09,159.53 723.00,160.00" fill="none" stroke="#777" stroke-width="1.05"/>
<ellipse cx="694.5" cy="75.6" rx="4.1" ry="5.6" fill="#c8c8c8" stroke="#9a9a9a" stroke-width="0.6"/>
<ellipse cx="701.9" cy="75.6" rx="4.1" ry="5.6" fill="#c8c8c8" stroke="#9a9a9a" stroke-width="0.6"/>
<path d="M679.5,154.5 C684,152 692,151.5 698,155 C703,158.5 705,165 703.5,171 C702,175 698,177 694,178.5 C691,180 689,184 688,188 L686.5,187.5 C686,182 687,177 690,173 C692.5,169.5 692,165 689,162 C686,159 682,157.5 679.5,154.5 Z" fill="#c8c8c8" stroke="#9a9a9a" stroke-width="0.5"/>
<path d="M694.5,184 C697,177 702,172 706,171 C711,171.5 716,176 718.5,183 C720.5,189 720.5,195 719,199.5 L717,200 C714,195 711,191 707,190.5 C702,190.5 698,195 696,199 L694.5,198.5 C693.5,193 693.5,188 694.5,184 Z" fill="#c8c8c8" stroke="#9a9a9a" stroke-width="0.5"/>
<ellipse cx="671.1" cy="168.9" rx="6.8" ry="8.3" fill="#c8c8c8" stroke="#9a9a9a" stroke-width="0.6"/>
<ellipse cx="723.5" cy="168.5" rx="6.5" ry="8" fill="#c8c8c8" stroke="#9a9a9a" stroke-width="0.6"/>
<path d="M687.5,187 L686.5,191.5 C686,193 684.5,193.8 681.5,193.6" fill="none" stroke="#7a7a7a" stroke-width="1.1"/>
<path d="M718.5,199 C720.5,202 722,203 724,202.8 C726,202.5 727,201.5 728.5,200.8" fill="none" stroke="#7a7a7a" stroke-width="1.1"/>
<path d="M729.2,174.6 C731,178 732.5,181 735,181.2 C736.5,181.3 738,180.6 739,180.3" fill="none" stroke="#7a7a7a" stroke-width="1.1"/>
<path d="M676,150 C684,145 692,148 696,158 C700,170 706,176 720,179" fill="none" stroke="#2f4fa6" stroke-width="1.6"/>
<ellipse cx="674.7" cy="155" rx="3.2" ry="7.5" transform="rotate(20 674.7 155)" fill="#8f97d6" stroke="#6c76c0" stroke-width="0.5"/>
<ellipse cx="723.5" cy="179.5" rx="5.8" ry="3.9" fill="#8f97d6" stroke="#6c76c0" stroke-width="0.5"/>
<path d="M659.6,168 C662,163 664,158 667,157 C669,156 670,157 671,157" fill="none" stroke="#e8303a" stroke-width="1.3"/>
<text x="657.2" y="159.3" font-family='"Liberation Sans", sans-serif' font-size="9.5" text-anchor="end" fill="#e8303a">N-tail</text>
<text x="661.7" y="107.3" font-family='"Liberation Sans", sans-serif' font-size="9.5" text-anchor="middle" fill="#222">SMC2</text>
<text x="731" y="107.3" font-family='"Liberation Sans", sans-serif' font-size="9.5" text-anchor="middle" fill="#222">SMC4</text>
<text x="692" y="146.6" font-family='"Liberation Sans", sans-serif' font-size="9.5" text-anchor="middle" fill="#222">H</text>
<text x="673.5" y="191.4" font-family='"Liberation Sans", sans-serif' font-size="9.5" text-anchor="middle" fill="#222">D2</text>
<text x="706.5" y="205" font-family='"Liberation Sans", sans-serif' font-size="9.5" text-anchor="middle" fill="#222">G</text>
<text x="3" y="263.2" font-family='"Liberation Sans", sans-serif' font-weight="bold" font-size="18.5">B</text>
<text x="122.6" y="272.6" font-family='"Liberation Sans", sans-serif' font-size="14.3" text-anchor="middle" fill="#222">4.4 nM</text>
<line x1="35.1" y1="277.3" x2="210.1" y2="277.3" stroke="#333" stroke-width="0.9"/>
<text x="78.0" y="294.2" font-family='"Liberation Sans", sans-serif' font-size="14.3" text-anchor="middle" fill="#222">holo(WT)</text>
<text x="166.8" y="294.2" font-family='"Liberation Sans", sans-serif' font-size="14.3" text-anchor="middle" fill="#222">holo(<tspan fill="#e8262a">H-dN</tspan>)</text>
<text x="305.1" y="272.6" font-family='"Liberation Sans", sans-serif' font-size="14.3" text-anchor="middle" fill="#222">8.8 nM</text>
<line x1="217.5" y1="277.3" x2="392.8" y2="277.3" stroke="#333" stroke-width="0.9"/>
<text x="260.6" y="294.2" font-family='"Liberation Sans", sans-serif' font-size="14.3" text-anchor="middle" fill="#222">holo(WT)</text>
<text x="349.5" y="294.2" font-family='"Liberation Sans", sans-serif' font-size="14.3" text-anchor="middle" fill="#222">holo(<tspan fill="#e8262a">H-dN</tspan>)</text>
<text x="488.2" y="272.6" font-family='"Liberation Sans", sans-serif' font-size="14.3" text-anchor="middle" fill="#222">17.5 nM</text>
<line x1="400.5" y1="277.3" x2="575.9" y2="277.3" stroke="#333" stroke-width="0.9"/>
<text x="443.8" y="294.2" font-family='"Liberation Sans", sans-serif' font-size="14.3" text-anchor="middle" fill="#222">holo(WT)</text>
<text x="532.7" y="294.2" font-family='"Liberation Sans", sans-serif' font-size="14.3" text-anchor="middle" fill="#222">holo(<tspan fill="#e8262a">H-dN</tspan>)</text>
<text x="671.1" y="272.6" font-family='"Liberation Sans", sans-serif' font-size="14.3" text-anchor="middle" fill="#222">35 nM</text>
<line x1="583.3" y1="277.3" x2="759.0" y2="277.3" stroke="#333" stroke-width="0.9"/>
<text x="626.7" y="294.2" font-family='"Liberation Sans", sans-serif' font-size="14.3" text-anchor="middle" fill="#222">holo(WT)</text>
<text x="715.5" y="294.2" font-family='"Liberation Sans", sans-serif' font-size="14.3" text-anchor="middle" fill="#222">holo(<tspan fill="#e8262a">H-dN</tspan>)</text>
<rect x="35.1" y="298.0" width="85.7" height="85.6" fill="#242424"/>
<g clip-path="url(#k1)"><g transform="translate(35.1 298.0)">
<ellipse cx="36" cy="60" rx="9" ry="8" transform="rotate(0 36 60)" fill="url(#rg)" opacity="0.22" filter="url(#gb)"/>
<ellipse cx="42" cy="42" rx="38" ry="32" transform="rotate(0 42 42)" fill="url(#rg)" opacity="0.36" filter="url(#cl1)"/>
<path d="M25.2,26.2l-.6-.8-.9-.4-1 .1-.9.5-.6.8-.2 1 .3.9.8.6.9.5.7.7M20.6,32l-.3.9-.8.7-1 .2-1-.2-.9-.4-.6-.8-.8-.6-.9-.4-1-.1-1-.1M39.3,20.5l.1-1 .6-.8.9-.4 1 .2.8.6.7.6.6.8.5.9.3.9.4 1M48.2,41.2l.5-.8.9-.5.9-.2 1 .1 1-.4.9-.4 1 .1.8.5.6.9.1 1M39.6,36.8l.2 1 .1 1-.1 1 .3.9.4 1 .5.9.8.5.9.5.9.3.9.5M17.1,36.5l.6-.8.8-.6.9-.6.5-.8.2-1 0-1 .2-1 .6-.7 1-.2 1 .3M70.1,31.3l.4.9.4 1 .3.9.7.7 1 .3.8.6.5.9.2 1-.2.9-.3 1M20.9,53.3l.9-.4.7-.7.3-1-.4-.9-.6-.8-.8-.6-1-.3-.9-.3-.8-.6-.6-.8M7.9,49.3l-.1 1 .1 1-.2 1-.3 1-.7.6M22.4,60.8l1 .2 1 0 .9-.4.5-.8 0-1-.1-1 0-1 .1-1 0-1 0-1M64.7,27l.6-.8.4-.9 0-1-.4-.9-.8-.6-1-.2-.9.4-.9.4-.7.7-.3.9M25.6,38l.2-1 .4-.9.5-.9.4-.9.3-.9 0-1-.5-.9-.7-.8-.9-.4-1 .1M46.8,26.7l.2.9-.4.9-.9.5-1 0-.8-.7-.3-.9.3-1 .8-.6 1-.1 1 .1M24,28.5l-.7.7-.2 1 .4.9.9.6.9.3 1 .1 1 .1 1 .1 1 0 1 0M58.9,40.3l-.9.3-1-.2-.8-.5-.4-1 .2-.9.7-.8.9-.3 1 .1.9.2 1 .2M39.4,54.2l.7-.8.8-.6.9-.4 1 .2.7.6.3 1-.1 1-.4.9-.6.8-.9.5M64.4,58.8l.7-.8 1-.2.9.2.8.6.4.9-.3 1-.6.8-.7.7-.8.5-1-.1M61.6,65.7l.1-1 .3-.9.2-1 .6-.8 1-.4.9-.3 1-.3 1 .1.7.6.3 1M33.5,68.1l.8-.5.4-1-.1-1-.5-.9-.9-.5-.9.1-1 .3-.7.8-.1.9.4 1M27.4,55.4l.3-.9.8-.7 1-.1.9.5.5.8.3.9.5.9.6.8.9.5 1-.1M24,67.6l-.6-.8-.1-1 .6-.9.9-.4 1 .2.7.7.3 1 0 1-.1 1-.5.9M25.1,42.9l.5.9.4.9-.2 1-.5.9-.8.5-1 0-.9-.6-.6-.8-.3-.9.2-1M24.9,39.2l.7.6.6.8.6.8.6.8.8.7.9.2 1-.3.9-.4.7-.8.7-.7M36.2,47.7l1-.3.9-.1 1 .2.9.5.9.3 1 0 .9-.4.8-.7.4-.9 0-1M44.3,70.9l.8-.5.9-.5.8-.6 1-.2 1 .2.7.7.2.9-.1 1-.2 1M51.5,36.1l-.4.9-.5 1-.3.9-.6.8-.1 1 .3 1 .7.7.8.5 1 0 .9-.4M47.2,20.9l-1-.4-.9.2-.7.8-.4.9.2 1 .4.9.8.6 1-.1.9-.4.7-.8M60.1,55.4l.7-.8.1-1-.1-1 0-1 0-1-.3-.9-.7-.7-1-.1-.9.4-.9.6M74.3,43.7l.4.9.3.9-.3 1-.7.7-.7.7-.8.6-1 0-1 .1-1 .3-.7.7M14.2,45.9l-.8.6-.4.9-.7.8-.8.5-1 .1-1-.1-1-.2-1 .1-1 0-1-.1M44.4,46.3l.4.9.8.6 1 .3 1 0 .9-.4.7-.7.4-.9-.2-1-.6-.8-.9-.4M34.7,65.2l-.8-.5-.4-.9-.4-1-.2-.9-.2-1 .3-.9.8-.7 1-.1.9.5.4.9M53.2,39.8l-.9.3-1 .1-1 .2-.8.6-.5.9 0 1 .6.8 1 .3 1-.2.7-.7M36.3,41.8l.9-.4 1 0 1-.1 1-.1 1-.1 1-.1.9.5.8.5.6.8.4.9M60.3,38.2l.9-.3 1-.1 1-.2 1-.2 1 .2.8.5.7.7.2 1-.4.9-.8.7M43,21.5l-.7.8-.1 1 .1 1 .7.7.9.3 1-.3.6-.8.3-1 0-1 0-1M62.8,40.2l1 .3.7.8.1.9-.4.9-.9.5-1 .1-.8-.4-.7-.8-.2-.9 0-1M23.6,55.1l1-.1.9.4.5.9.4.9 0 1 0 1-.5.9-.7.6-1 .4-.9.2M18.4,64.5l-.6.9-.4.9M19,62.4l-1 .1-.7.6-.5.9-.1 1 .4.9" fill="none" stroke="#fff" stroke-width="0.9" stroke-linecap="round" stroke-linejoin="round" opacity="0.07" filter="url(#b5)"/>
</g></g>
<rect x="123.6" y="298.0" width="86.5" height="85.6" fill="#242424"/>
<g clip-path="url(#k2)"><g transform="translate(123.6 298.0)">
<ellipse cx="38" cy="17" rx="9" ry="7" transform="rotate(0 38 17)" fill="url(#rg)" opacity="0.4" filter="url(#gb)"/>
<ellipse cx="44" cy="45" rx="44" ry="42" transform="rotate(0 44 45)" fill="url(#rg)" opacity="0.5" filter="url(#cl2)"/>
<path d="M20,39.9l-.8-.6-.4-.9.3-1 .4-.9.5-.9.4-.9.3-.9.3-1 .3-.9.6-.9M61.3,57.5l.3.9.8.7 1 0 .9-.3.6-.8.1-1-.5-.8-.9-.4-1 .1-.8.6M29.9,76.4l-.2-1-.5-.9-.1-1 .2-1 .4-.9.3-.9.7-.8 1-.2.9.3.6.8M73,37.7l.2 1 .5.8.6.8.5.9.4.9.3.9.2 1 0 1-.2 1-.1 1M28.3,47.2l1-.1 1-.2 1-.2 1-.1.9.2.9.5.8.5 1 .4.9-.2.9-.5M50.8,9.5l-.1-1-.6-.8-1-.3-1-.2-.9-.3-1-.4-.9-.1-1 .4-.5.9.1 1M40,62.9l.9-.4.8-.5.7-.7.9-.5.9-.3 1 .3.7.7.2 1-.4.9-.3 1M26.2,54.5l-.6.8-.4.9-.2 1 .4.9.9.5 1 .2.9-.3.9-.6.7-.7.5-.8M65.3,47.4l-.7.8-.8.6-.8.5-.6.9-.3.9-.3 1-.3.9-.5.9-.8.6-.9.3M68.4,35.5l.9-.3.6-.8.4-.9.1-1-.2-1-.1-1-.2-1-.3-.9-.6-.8-.4-.9M8,37.4l.9.5.9.4.9.3 1-.2 1-.3 1 0 .9.4.6.8.4.9.3 1M26.1,54.8l-.3.9-.5.9-.6.8-.9.5-1 0-.9-.4-1-.4-.7-.6-.8-.6-.8-.6M50,24.1l-.9-.3-1 .2-.6.8-.5.9.1 1 .7.7.9.5.9.3 1 .2 1 .3M15.5,68l-.4-.9-.1-1-.1-1-.4-.9-.5-.9-.9-.5-1-.2-.9.4-.6.8.1 1M26.7,36.6l-1 .2-1 .4-.8.5-.7.8-.5.8-.4.9-.5.9-.4.9-.5.9-.2 1M14,57.7l-.9.4-.6.8-.1 1 .2.9.3 1 0 1-.1 1-.4.9-.7.7-1 .2M47.4,64.3l-.3.9.1 1 .6.8.7.7 1 .3.9.3 1 .2 1 .1 1-.2 1 0M34.8,70.5l.1-1 0-1 .2-.9.5-.9.6-.8.6-.8.3-.9-.1-1-.6-.9-.5-.8M34.4,12.9l.3 1 0 1-.5.9-.5.8-.7.7-.8.6-1 .1-.9-.4-.7-.8-.4-.9M10.7,57.8l-1-.2-.9.3-.8.7-.6.7-.7.7-.8.6-.9.4M38.4,52.9l.7.7.7.8.7.7.5.8.6.8.5.9.4.9 0 1-.4.9-.5.8M50.3,67.3l1 .2.8.5.9.6.4.9-.1 1-.7.7-.8.7-.7.6-.7.8-.9.4M37.8,26l0-1-.6-.8-.8-.6-.9-.4-1-.1-.8-.5-.6-.8-.4-.9.1-1 .5-.9M46.1,15.5l-1 .1-1-.1-.8-.5-.5-.9 0-1 .2-1 .4-.9.2-1 0-1-.2-1M9.1,55.7l1 .1 1-.2 1-.3 1-.2.9-.4.7-.7.9-.5.9-.2 1 .1.8.6M37.6,40.2l1 .1 1 .2.9.3 1 .3.8.6.6.8.2 1 .2.9.4.9.4 1M38,46.9l-.8.5-.6.8-.4.9.1 1 .6.8.7.7 1 .2.9-.4.5-.8.7-.8M62.2,55l.9.5.7.7.5.9.3.9.1 1 .1 1 .7.8.7.7.5.8-.1 1M26.8,71.4l1 .2.9.5.7.6.7.7.5.9 0 1-.6.8-.8.7-.9.3-1-.3M37.4,60.9l-.4-.9-.4-.9-.4-.9-.4-.9-.5-.9-.3-1-.1-1 .3-.9.8-.6.9-.3M32.1,10.9l-.5-.8 0-1 .2-1 .3-1 .3-.9.4-.9.5-.9M72.1,27.4l.7-.7.3-1 .3-.9-.1-1 0-1-.6-.8-.7-.8-.8-.6-.8-.6-.7-.7M8.6,39l-.1 1-.6.8-.9.5-1 .2-.9-.4-.6-.8-.3-.9.2-1 .5-.9.8-.6M43.6,81.9l.8.5.4 1-.1.9-.8.8-.9.1-1-.4-.9-.4-.9-.4-.5-.9.1-1M70.7,28.5l.6.8.7.8.5.8.8.7.7.7.7.7.7.7.8.6.9.5.9.3M60.1,42.6l.8-.6.6-.8.2-1 .2-1 .4-.9.4-.9.3-.9.4-1 .5-.8.5-.9M66.9,76.5l.7.7 1 .1 1-.3.6-.7.2-1-.2-1-.1-1-.3-1-.4-.9-.5-.8M25.1,44l.7.7 1 .1 1 0 1-.2.9-.5.5-.9-.1-1-.7-.7-.9-.4-1 .1M12.4,60l.4.9.2 1-.4.9-.7.7-.9.6-.9.2-1-.1-.8-.6-.5-.9-.2-1M75.3,46.5l-.6.7-.9.5-.9.4-.9.5-1 0-.9-.3-.9-.5-.8-.7-.5-.8-.2-1M20.3,70.3l-.4-.9-.3-1-.2-1-.4-.9-.3-.9-.1-1-.1-1-.3-1-.8-.6-1-.2M22.9,18.5l-1 .3-.9.1-1 0-1-.2-1-.4-.9-.4-.6-.7-.6-.9-.8-.5-1-.2M52.6,51.9l-.3 1 .2.9.8.7.7.7.8.5.9.5 1 .3.8.5.7.7.4 1M23.9,33.2l1 .2.9.4.8.6.8.7.5.8.6.8.9.5 1 .2 1-.1.7-.7M58.2,61.2l.7-.6.3-1-.2-1-.3-.9-.6-.8-.9-.3-1 .3-.6.8-.5.9-.1 1M33.9,34.4l-.9.5-.7.6-.3 1 .3.9.8.7.8.5.9.5 1 .3.9-.3.7-.7M21.6,41.6l1 .1.9.5.6.8.4.9.1 1-.2 1-.3.9-.6.9-.8.6-.8.5M73.2,49.2l.7-.7.9-.4 1 .1.9.4.8.6.3 1-.3.9-.5.9-.7.7-.9.5M62.4,61.7l-1-.2-.6-.8-.2-1 .3-.9.4-1 .4-.9.5-.8.6-.8 1-.3 1 .2M29.7,65.2l-1-.3-.9-.3-1-.4-.8-.5-.6-.8-.5-.8-.5-.9-.7-.8-.8-.4-1-.3M67.9,66.6l.3.9.9.5 1 .1.9-.4.9-.5.6-.7.2-1-.3-1-.9-.5-1-.1M50.5,63.6l.3 1 .8.6 1 .2 1 0 .9-.3.6-.8.5-.9.2-1 0-1-.5-.9M22.1,33.3l-1-.3-1-.1-1-.1-.9-.2-1-.3-1-.3-.9-.3-1-.2-.9-.4-.9-.4M31.8,51.9l-.8.6-.4.9.2 1 .7.7.9.4 1 .1 1-.1 1-.3.9-.3 1-.1M25.9,80.4l-.8-.6-.8-.6-.9-.3-.8-.7-.8-.6-.7-.7-.9-.4-1-.1-1 .1-1 .1M26.9,18.9l.4-.9.5-.9 0-1-.5-.9-.8-.6-1-.1-.9.5-.5.9-.2 1 0 1M47.6,44.5l.6-.8.9-.4 1 .3.8.6.4.9-.1 1-.3.9-.5.9-.3 1-.1 1M16,68l1-.1.9-.3.8-.6.7-.7.3-1-.2-.9-.4-.9-.6-.8-.2-1 0-1M82,53.2l-.2 1-.5.8-.8.6-.9.4-.6.8-.1 1 .3 1 .6.8.7.7.8.5M67,66.7l-.3.9-.7.8-1 .2-1-.3-1 .2-.8.4-.9.5-.9.5-.9.3-.8.7M51,27.9l.9.5 1-.1.8-.6.8-.5.9-.4 1 .3.6.7.5.9.8.7.8.6M52.3,27.9l1-.3.9-.2 1-.3.8-.6.4-1-.2-.9-.6-.9-.8-.5-1 .1-.9.5M29.2,8.2l.9.4 1 .2 1 .1.9-.3.5-.9.3-1 0-.9 0-1-.1-1M63.2,52.6l.6-.8.9-.5 1-.2.9-.2 1-.4 1-.2 1-.1.9-.2 1-.1.9.4M59.4,62.6l.4.9.4 1 .1 1-.2 1-.1.9-.2 1-.1 1 .1 1 .2 1 .4.9M14.5,46.8l.9.6 1 .2.9.1 1 .3.9.3.8.7.7.7.8.6.9.4 1 0M31.2,49.4l.6.7.8.6 1 .3 1 0 1-.2 1 .1.9.4.5.8.6.8.7.7M26,73.5l.7-.8.3-.9 0-1 0-1-.1-1 0-1 0-1 .2-1 .4-.9.7-.7M9.4,44.6l-.6-.8-.5-.9-.3-.9-.2-1-.5-.9-.5-.8.1-1 .4-.9.7-.7 1-.3M5.4,48.5l.2-.9-.3-1-.8-.5-1-.1-.9.5-.7.7M57.1,81l.6.8.8.6.8.6.7.7.4.9M83.2,47.3l-.9.4-1-.2-.7-.7-.2-1 .3-1 .4-.9.5-.8 0-1-.4-1-.8-.5M15.5,60.4l-1-.3-.9.4-.6.8-.1 1 .6.8.8.5 1-.1 1-.4.6-.7 0-1M78.9,43.6l1-.3.9.3.8.6.9.5.8.6.8.5.9.4 1 .1M53.8,43l.1 1 .4.8.9.5 1-.1.8-.7.7-.6.7-.7.8-.6.9-.4 1 .1M57.8,65.7l0 1 .3 1 .6.8.7.7.9.5.9.5.9.2 1 .2 1 .1.9-.4M68.9,70.3l-.1 1-.6.8-.8.7-1 .1-.9-.5-.4-.9-.1-1 .3-.9.8-.6.9-.2M56,34.2l1 .1.9.5.8.6.8.6.8.6.9.4.5.9.3 1-.1 1 0 1M51.7,45.6l-.1 1 0 1 .4.9.8.6 1 .2 1 0 1-.3 1-.1 1 0 1 0M27.3,68.3l-.8.6-.3 1 .3.9.5.9.5.9.8.6 1 0 1 .3 1-.2.8-.5M64.4,71.3l-1 .1-.9.5-.6.8-.5.9-.6.8-.9.4-.8.6-.5.8 0 1 .2 1M39.3,49.1l-.7.7-1 .2-.9-.4-.8-.7-.7-.6-.7-.8-.7-.7-.7-.7-.8-.6-1-.1M15.1,21.5l1 .1 1-.2.9-.1 1 .3.6.8 0 1-.2 1-.8.6-.9.4-1 .3M28.6,38.4l.8-.6.4-.9-.1-1-.5-.9-.8-.5-1-.2-.9.4-.6.9.1 1 .6.8M14.6,59.2l.5-.9.9-.4 1-.1.9.3.6.9.3.9.5.9.7.7 1 .2.9-.3M47.1,33.7l.1-1 .4-.9.6-.8.5-.9.4-.9.4-.9.2-1-.2-.9-.8-.7-1 0M58.2,8.6l.7.8.7.7.7.7.9.5.9.4 1 .2.9-.2.9-.5.9-.5 1 .2M77.8,53.5l-.6.8-.9.4-.9.3-.9.5-.9.4-1-.1-1-.4-.5-.8-.3-.9.3-1M58.1,25.9l-.6.8-.5.9-.6.8-.4.9-.2 1 0 1 .2 1 .4.9.4.9.5.9M18.7,55.2l-1 .1-.7.7-.3.9.4 1 .8.6 1 0 .8-.6.5-.9-.1-1 .2-1" fill="none" stroke="#fff" stroke-width="0.9" stroke-linecap="round" stroke-linejoin="round" opacity="0.08" filter="url(#b5)"/>
</g></g>
<rect x="217.5" y="298.0" width="86.3" height="85.6" fill="#242424"/>
<g clip-path="url(#k3)"><g transform="translate(217.5 298.0)">
<ellipse cx="62" cy="38" rx="7" ry="10" transform="rotate(0 62 38)" fill="url(#rg)" opacity="0.25" filter="url(#gb)"/>
<ellipse cx="42" cy="24" rx="31" ry="25" transform="rotate(0 42 24)" fill="url(#rg)" opacity="0.5" filter="url(#cl3)"/>
<path d="M62,32 C68,46 56,52 48,58 C40,64 50,72 46,78 C44,82 42,84 44,88" fill="none" stroke="#fff" stroke-width="9" stroke-linecap="round" opacity="0.1" filter="url(#b15)"/>
<path d="M62,32 C68,46 56,52 48,58 C40,64 50,72 46,78 C44,82 42,84 44,88" fill="none" stroke="#fff" stroke-width="5" stroke-linecap="round" opacity="0.3" filter="url(#b15)"/>
<path d="M57.9,18.9l-.7.6-1 .2-1-.1-1 .1-.9.2-.8.6-.9.5-1 0-.8-.6-.4-.9M32.4,6.8l.3.9-.1 1-.2 1-.2 1-.4.9-.4.9-.1 1 .2 1 .6.8 1 .3M36.6,21.9l.8-.5.9-.6.9-.4.8-.6.8-.7.7-.6.6-.8.7-.8.8-.5 1 0M27.9,33.3l-.4.9-.1.9-.1 1-.4 1-.6.8-.7.7-.7.7-1 .2-1 .2-1-.1M36.4,26.4l.1 1 .5.8.6.8.8.6 1 .2.9-.4.8-.6.7-.7.4-.9.1-1M27.4,35.7l1 .1 1-.1 1-.1 1 0 1-.2 1 .2.9.5.9.4 1 .2.8.5M54,24l-.2 1-.5.8-.9.5-1 0-1-.2-1 .3-.9.3-1 .3-.9.2-1 0M45,25.9l0 1 0 1 .5.9.9.5.9.3 1 0 1-.2.7-.7.7-.7.4-1M32.1,24.3l1-.2.9-.3 1-.1 1-.2 1-.1 1 .1 1 .2 1 0 .9-.3.7-.8M40.8,20.9l1 0 .8-.5.4-1 .1-1 0-1-.3-.9-.5-.9.1-1 .7-.8.9-.3M15.9,19.7l.1-1 .5-.8 1-.4.9.2 1 .3.7.7.2.9-.2 1-.6.9-.9.3M52.2,27.7l.9-.5 1 0 .9.5.8.5.9.4.8.7.4.9.2 1 .1 1 .3.9M41.4,25.4l-.4.9-.8.7-.9.3-1 .1-1 0-.8-.5-.8-.7-.6-.8-.2-.9.4-1M47.5,8.5l0 1-.4.9-.8.5-1 0-.8-.6-.5-.9-.4-.9-.4-1-.7-.7-.6-.7M37.6,12.3l-.3.9-.6.9-.8.5-.6.8-.2 1-.3 1-.3.9-.2 1-.2 1-.5.8M40.1,17.7l.2 1 .6.7 1 .3 1-.2.7-.7.5-.9.1-1-.1-1-.3-1 0-1M64.7,24.8l.9.4.6.8.1 1-.2 1 .3 1 .7.7.9.4 1 .3 1 .1 1 .1M24.5,21.1l1 .3.9.4.8.5.7.8.7.7.9.5 1-.2.8-.6.2-1 .2-1M60.5,12.9l-.1-1 .4-.9.5-.9.8-.5 1-.4M27.2,9l.9.2 1 .3.9.5.8.6 1 .2.9-.4.6-.8.7-.8.4-.9.5-.8M40.2,43.6l.2 1 .7.7 1 .4 1 0 .9-.4.9-.4.8-.6 1-.2.9.4.5.9M46.9,45.5l-.4.9-.8.6-1 .1-1-.1-.8-.6-.6-.8-.3-1 .2-.9.7-.7 1-.2M34.1,39.1l-.9.5-1 .1-.9-.5-.8-.6-.8-.6-.8-.6-.5-.8-.3-1 .1-1 .3-1M29.8,24.3l.6.7 1 .3.9-.1.8-.6.3-1-.3-1-.6-.8-.5-.9-.7-.6-1-.2M61.8,39.6l.5.9-.1 1-.1 1-.7.7-1 .3-.9-.4-.9-.5-.4-.9.1-1 .6-.8M65.7,21.6l.6-.8.4-.9.4-.9.3-1 .3-.9.5-.9.7-.7M31.9,23.9l-.5-.9-.2-1 .1-1 .5-.9.8-.5 1-.3 1-.1 1 0 .9.3.8.7M47.6,29.4l.9.5.9.4.7.7.5.9 0 1-.5.9-.9.4-.8.6-.6.8-.5.9M60.1,38.8l.9-.4.8-.6.4-.9.2-1 .6-.8.8-.5 1-.2 1 .1.9.3 1 .3M58.5,35.5l-.8-.6-.9-.2-1 .4-.5.8 0 1 .3 1 .5.8.7.7.8.6 1 .2" fill="none" stroke="#fff" stroke-width="0.9" stroke-linecap="round" stroke-linejoin="round" opacity="0.07" filter="url(#b5)"/>
</g></g>
<rect x="306.2" y="298.0" width="86.6" height="85.6" fill="#242424"/>
<g clip-path="url(#k4)"><g transform="translate(306.2 298.0)">
<ellipse cx="30" cy="37" rx="4" ry="4" transform="rotate(0 30 37)" fill="url(#rg)" opacity="1.0" filter="url(#gb)"/>
<ellipse cx="30" cy="37" rx="8" ry="7" transform="rotate(0 30 37)" fill="url(#rg)" opacity="0.6" filter="url(#gb)"/>
<ellipse cx="30" cy="37" rx="16" ry="14" transform="rotate(0 30 37)" fill="url(#rg)" opacity="0.3" filter="url(#gb)"/>
<ellipse cx="44" cy="44" rx="44" ry="44" transform="rotate(0 44 44)" fill="url(#rg)" opacity="0.55" filter="url(#cl4)"/>
<path d="M68.6,26.9l1 .3 1 .2.9.2 1 0 1 .2.9.4.9.5.6.8.5.9-.1 1M79.4,24.1l.8.7.2 1-.4.9-.8.6-1 .1-.9-.3-.8-.7-.5-.8-.7-.8-1-.2M56.7,61.2l-.6.8-.1 1 .1 1 .7.8.9.3 1-.1.9-.5.6-.7.2-1-.3-1M45,56.2l.9-.4.9-.4 1-.1 1-.2.9-.3.7-.7.2-1-.3-.9-.9-.6-1 0M7.4,30.5l-.1-.9 0-1-.1-1 0-1-.1-1-.3-1 .1-1 .2-1 .5-.8.9-.6M64.8,75.7l.3 1 .2 1 .2.9.4.9.5.9.7.7.8.7M36.7,27.5l.6.8 1 .3.9-.3.8-.6.8-.6.7-.8.3-.9-.3-1-.7-.6-.9-.5M59.8,51.3l-.9-.4-.8-.6-.9-.5-1 0-.9.5-.6.7-.7.8-.7.7-1 .2-1 0M29,32l-1-.2-.7-.7-.2-1 .4-.9.8-.5 1 0 .9.5.7.7.1 1-.3 1M57.3,66.7l-.7.6-.8.6-.9.4-1 0-.9-.6-.3-1 0-1 .6-.8.9-.5.9-.5M80.5,59.7l-.8-.6-.3-1 .3-.9.8-.6.9-.4 1 .2.8.7.5.8.5.9-.1 1M29.3,6.6l-.2 1 .1 1 .4.9.5.8.7.8.6.8.5.8.4.9.5.9.3.9M61.6,77.3l-1 .3-.9.5-.8.5-.4.9.1 1 .4 1 .7.7.8.5 1 .3 1 0M46.8,43.9l.4 1 .8.6 1 0 .8-.5.7-.7.4-1 .1-1-.1-.9-.5-.9-.9-.5M35.6,12l-.8-.7-.9-.3-1 .2-.9.5-.7.7-.6.8-.3.9-.4 1-.7.6-1 .2M70.9,24.6l-.2-1-.2-.9-.3-1-.3-1-.3-.9-.1-1 .4-.9.9-.5.9 0 .9.5M27.2,28.7l.3 1 .5.9.9.4 1 0 .9-.2 1-.3 1-.3 1-.1 1-.1 1 0M58.3,40.2l-.8-.6-.2-1 .3-.9.4-.9.5-.9.7-.7 1-.3 1 0 .8.5.6.8M30,52.3l-.7-.7-.9-.5-.5-.8-.6-.8-.5-.9-.1-1 .5-.9.9-.4 1-.1.9.3M33.2,41.5l-.2 1 .3.9.7.7.8.6 1-.1.8-.5.4-1 0-1-.5-.8-.9-.4M33.8,8.9l-.8-.7-.8-.5-.9-.4-.9-.5-.8-.6-.7-.8-.4-.9-.4-.9-.4-.9M32.4,47.8l.5-.9.6-.8.6-.7.8-.7.5-.8.6-.9.4-.9.5-.9.6-.8.8-.5M61.5,80.8l.2-.9.5-.9.7-.7 1-.2 1 0 .9.3.9.5.6.8 0 1-.2 1M63,68.9l-.2 1-.6.8-.9.4-.8.6-.7.8-.4.8-.1 1 .4 1 .4.9.5.9M69.5,22.8l-.9-.4-.9-.6-.8-.6-.9-.2-1 .1-.9.5-.5.9.1 1 .7.7.8.6M25,57.9l.2 1 .3.9 0 1 0 1-.5.9-.5.9-.6.8-.6.8-.5.9-.4.9M75.4,58.9l1 0 1-.1 1-.3.8-.6.4-.9 0-1-.4-.9-.8-.7-.9-.4-1 .2M63.1,62.5l.3 1 .1.9.4 1 .8.6 1 0 .8-.4.5-.9.1-1-.4-.9-.9-.5M38.3,73.2l-1 .1-.8.6-.7.7-.2 1 .2 1 0 1 0 1-.3.9-.6.8-.9.5M44.8,12.4l1-.3.6-.8.1-1-.4-.9-.7-.7-.9-.5-.9-.4-.9-.5-1 .1-.9.3M41.5,45l-.8-.7-1-.1-.9.5-.4.9.1 1 .7.7.9.3 1-.4.7-.7.4-.9M59.6,33.2l-1 0-.9.5-.5.8-.3 1 .4.9.9.5 1 .2 1-.1.9.2 1 .2M44.4,38.8l.4.9-.2 1-.6.8-.7.7-.8.5-1 .1-1-.3-.5-.9 0-1 .5-.8M19.2,20.2l-.5-.8-.8-.6-1-.3-1 .2-.8.4-.9.6-.3.9-.4.9-.8.7-.9.3M60.4,7.3l-.8-.7-.5-.8-.3-1 .1-1 .2-1-.1-.9M26.5,68.7l.8.6.8.7 1 .1 1 .1.9.2 1 .3.7.7.3 1-.4.9-.5.9M12.9,24.4l.1 1-.5.9-.8.5-1-.1-.8-.6-.5-.8-.3-1 .3-.9.3-1 .1-1M70.8,19.6l1 .1.7.7.6.8 0 1-.6.8-.9.4-1 0-.8-.6-.4-1 .3-.9M57.3,37.8l-.7.7-1 .1-1-.2-.9-.4-.7-.7-.4-.9-.2-1-.1-1-.3-.9-.8-.6M34.4,39.6l.5-.9.6-.8.9-.4 1 0 .9.4.5.9.4.9.4 1 .6.8.6.7M24.2,68.2l-.6.8-.8.7-.8.6-.5.8-.5.9-.2 1-.1 1 .3.9.6.8 1 .3M12.4,44.1l.1-.9-.4-.9-.9-.5-1-.1-.9.2-1 .3-.7.6-.3 1 .3.9.5.9M61,80.8l-1-.1-.9.5-.5.9.1 1 .6.8.9.3 1 0 1-.3.9-.4.9-.5M67,26.1l-.8-.7-.5-.8-.2-1 .3-1 0-1-.3-.9-.7-.7-1-.3-.9-.5-.7-.6M42.3,44.8l1 0 .9-.2.7-.8.1-1-.2-1-.4-.9-.5-.9-.3-.9-.3-1 .2-1M57,45.7l1 .4 1 0 1 .1 1 .2.9.3.9.5.7.7.8.6.5.9.5.9M61.7,45.8l-.9-.4-.5-.9-.2-1 .1-1-.2-1-.2-.9-.2-1-.2-1-.1-1-.4-.9M9.6,27.8l-.9.3-.7.8-.2 1 .3.9.7.8.7.7 1 .3.9-.3.8-.6.2-1M51.1,71.3l-.9.4-1 .1-.9-.4-.5-.8-.2-1-.3-1-.5-.8-.5-.9-.7-.6-.8-.6M22.5,17.1l-.5.9 0 1 .2.9.6.9.8.5.8.6.7.7.5.9.7.7.9.5M30.3,29.3l-.9.2-.8.6-.6.8-.7.7-.5.9-.2 1 .4.9.9.5 1-.1.8-.6M48.8,30.9l-.9.6-1-.1-.9-.3-.8-.6-.5-.9-.7-.7-.5-.9-.3-.9-.5-.9-.3-1M24.5,25.7l-.9.5-1 .2-1-.2-.9-.5-.8-.4-.8-.7-.5-.9-.3-.9-.1-1 .5-.9M69.2,66.3l.9-.5.7-.7.4-.9.2-1-.3-1-.4-.9-.3-.9-.5-.9-.5-.9-.1-1M21.6,51.4l-.6-.8-.2-1 .2-1 .8-.7 1-.1.9.3.7.7.3 1-.3 1-.7.7M13.9,72.9l-.6-.8 0-1 .4-.9.6-.8.8-.6 1-.4 1 0 1 0 .9-.2 1-.3M62.2,71.8l.9-.5.7-.7.4-.9.4-.9.1-1-.2-1-.6-.7-.9-.5-1-.1-.9.3M46.8,72l-.2-1 .2-1 .8-.6 1-.1.9.5.5.8.1 1-.6.8-.9.5-1-.2M54,48.6l.6-.9.7-.6.9-.5.6-.8.5-.9.3-1-.1-.9-.1-1-.2-1-.7-.7M26,26.6l.6-.7.4-1-.2-1-.6-.7-1-.3-1 0-1 0-1-.1-1-.2-.9-.1M39.3,50.3l.7-.8.6-.8.6-.8.3-.9.2-1 .6-.8.7-.7.8-.6 1-.3.9.3M42.6,55.3l-.7-.7-.2-1 .4-.9.6-.8.8-.6 1-.2.9-.4.9-.5 1-.3 1-.1M12.6,28.8l-1-.1-.9.5-.5.9 0 1 .5.8.9.5 1-.1.8-.7.4-.9-.2-1M41.1,10l1 0 .8-.6.4-.9 0-1-.6-.8-1-.3-1-.1-1 .1-.9.2-1 .4M35.7,44.5l-.4-.9-.2-1 0-1 .2-1 0-1 .1-1 .6-.8.3-1-.2-.9-.4-.9M55.2,52.4l-.6.8-.5.8-.7.7-.9.6-.6.7-.9.4-1-.2-.9-.5-.9-.5-.9-.2M58.7,81.1l.1-1 .2-1 .4-.9.4-.9.2-1 .4-.9.1-1 .1-1-.6-.8-.8-.6M25.6,9l-.2-1-.8-.7-.8-.5-.6-.8-.3-1M63.7,14.6l.6.8.2 1 .2 1-.2.9-.4 1-.7.6-1 .2-.9-.4-.9-.6-.6-.8M46.9,39.3l.3-.9.9-.6.9-.4 1 0 .9.1 1-.1.9-.4.7-.7.3-1-.3-.9M35.2,22l.7-.7.8-.6.9-.4.9-.4.8-.6.9-.5 1-.1 1-.2.9-.1 1 .2M74,40.7l.2 1 .7.7 1 .2.9-.3.6-.8.1-1-.5-.9-.9-.4-1 .1-.7.7M30.2,46.5l-1 .2-.9.5-1 .2-1 .1-.9-.4-.7-.7-.3-.9.3-1 .7-.7 1-.2M64.2,18.5l-.4-.9.1-1 .6-.7 1-.4 1 .1.9.4.7.7.2 1-.4.9-.9.5M13.7,59.7l-.6-.8-.8-.5-.9-.5-.5-.9.1-1 .5-.9.8-.5 1-.1.9.4.9.4M18.6,32.3l.9-.5 1 .1.8.6.3.9-.3 1-.5.8-.9.5-1 0-1-.3-.9-.3M39.2,83.8l-.6-.7-.5-.9-.3-.9 0-1 .3-1 .8-.6.9-.4.9-.5.9-.3 1-.1M18.6,45.2l1 .2.7.7.5.8.7.8.9.3 1-.4.6-.8.4-.9-.2-1-.7-.7M41.3,12.9l.2.9 0 1 .1 1 .1 1 .4.9.8.7 1 .1.9-.4.4-.9-.1-1M40.1,46.2l.8.5.9.5 1 0 1-.2.9-.4.8-.6.8-.7.6-.7.7-.8.7-.6M16,50.6l.6.7.4 1 .1 1 .3.9.3 1 .6.7 1 .3.9-.3.8-.6.4-1M22.3,75.4l-1 0-.9.4-.7.7-.7.7-.8.6-1 0-1-.2-.9-.5-.6-.8-.1-1M39.7,54.5l.5-.9.4-.9.4-.9.3-1 .2-1-.2-1-.6-.7-1-.4-1 .3-.6.8M53,48.7l-1 .3-1 0-1-.2-.9-.3-.7-.7-.5-.9-.1-1 0-1 .6-.8.6-.8M47,42.6l.9.4 1-.2.7-.7.1-1-.3-1-.9-.5-.9-.3-1-.2-1-.1-1 0M46.8,43.2l0-1 .6-.9.7-.7.9-.4 1-.2 1 .2.9.4.7.7.4.9.1 1M41,4.7l-1 0-1 0-.9.4-.6.8-.3 1-.1 1-.1 1-.3.9-.7.7-1 .2M49.4,80.8l.8.5.7.8.6.8.7.7 1 .3 1 .1 1 .1.9-.3.9-.4 1 .1M29.3,25.2l.4.9.8.7 1 .2.9-.3.7-.8.3-.9 0-1-.3-1-.7-.6-1-.3M56.9,41.2l-.8-.5-1-.3-1-.2-.9.3-.8.6-.2 1 .3 1 .5.8.8.7.9.4M55.1,15l.8.6.4.9-.1 1-.6.8-.9.4-1-.2-.8-.5-.6-.8-.7-.8-.4-.9M28.6,24l.6.7.9.5 1 .1 1 0 .9-.2.9-.5.7-.8.5-.8.1-1-.2-1M42.9,53.6l0-1-.5-.9-1-.3-.9.2-.7.7-.2 1 .5.9.8.6 1 0 1 0M28.6,67.6l.6-.8.7-.7.8-.6.7-.7.7-.8.6-.8.6-.7.7-.8.5-.8.7-.7M25.6,63.1l.6-.8.9-.4 1 .1.7.7.2 1-.2 1-.7.6-1 .2-1-.4-.6-.8M37,9.6l-.9.4-.5.8 0 1 .6.8.9.4 1-.2.8-.6.2-1 .2-1 0-1M32,5.3l-.7.7-.6.8-.5.9-.1 1 .2.9.1 1-.4.9-.5.9-.1 1 .2 1M46.2,25.5l-.9.5-.9.2-1-.1-.9-.5-.5-.9-.2-.9-.2-1 .1-1 .3-1 .5-.8M56.4,62.8l.7.7.5.8.6.9.9.4 1 .2.9-.2 1-.3.9-.5 1-.2.9.3M32.1,50.9l1 .4.9-.2 1-.3 1 .1.8.5.4.9 0 1-.5.9-.8.6-.9.4M53.7,28l-.8-.6-.8-.5-1-.3-.9.3-.7.8-.5.8-.6.8-.7.8-.5.8-.8.7M77.7,65.7l-1-.2-.8-.6-.3-1 .2-.9.7-.7 1-.3.9.4.6.8 0 1-.2 1M28.7,5l-.9-.5-.6-.8-.5-.9M45.6,71.1l0-1 .4-.9.5-.9.7-.7.8-.5 1-.3.9-.5 1-.2.9-.2 1-.3M19.9,12.7l.1 1-.4.9-.7.7-1 .2-1 .1-1-.1-.9.3-1 .3-.9.4-.9.4M11.9,24.4l-1 0-.8.6-.8.6-.7.8-.1 1 .4.9.8.5.9.4 1 .1 1-.3M62,49.1l-.3-1 .1-1 .4-.9.7-.7 1-.3 1 .2.7.7.5.8.6.9.7.6M51.9,73.7l-.9-.3-.9-.4-.8-.7-.5-.9-.3-.9-.5-.9-.8-.6-.9-.3-1 .3-.6.8M56.1,59.1l-.8-.5-.6-.8-.6-.9-.6-.8-.6-.7-.8-.6-1-.3-1 .2-.9.4-.8.5M54.1,50.5l-.2-.9 0-1 .2-1 .3-1 .4-.9.3-1 .4-.8.8-.7.9-.3 1 0M63,52.3l.1 1 .1 1 .7.8.8.5 1 0 1-.1 1-.2 1 0 1 .3.8.6M48.3,37.5l-.3 1-.1 1 .1 1 .4.9.9.6 1 0 1-.1.9.4.5.9 0 1M64.9,39.6l-.7.7-.2 1 .3.9.5.9.6.8.6.8.3.9.3 1-.3 1-.6.7M44.5,61.2l-.4-.9-.3-.9.1-1 .4-1 .3-.9.3-1 .4-.9.5-.8.7-.7.8-.7M38.1,15.6l0-1 .7-.8.9-.3 1 0 .8.6.4.9 0 1 0 1-.5.9-.8.6M61,56.6l.1-1 .6-.8.9-.5 1-.1.9.5.4.9-.1 1-.7.8-1 .2-.9-.3M40,28.2l.5-.9.7-.7.9-.4 1 .2.7.7.5.9.5.9.5.8.7.8.5.8M13.1,69.3l-1 .3-.9.4-.9.3-1 .3-1 .1M7.6,46.3l.6-.8 0-1-.5-.9-.9-.5-1-.2-.9.3-.8.6-.8.6-.8.5-1 .2M63,60.9l.6-.8-.1-1-.6-.8-.9-.5-1-.1-.8.5-.6.8.1 1 .1 1 .1 1" fill="none" stroke="#fff" stroke-width="0.9" stroke-linecap="round" stroke-linejoin="round" opacity="0.1" filter="url(#b8)"/>
</g></g>
<rect x="400.5" y="298.0" width="86.6" height="85.6" fill="#242424"/>
<g clip-path="url(#k5)"><g transform="translate(400.5 298.0)">
<ellipse cx="50" cy="55" rx="14" ry="12" transform="rotate(0 50 55)" fill="url(#rg)" opacity="0.25" filter="url(#gb)"/>
<ellipse cx="45" cy="48" rx="46" ry="42" transform="rotate(0 45 48)" fill="url(#rg)" opacity="0.55" filter="url(#cl5)"/>
<path d="M55.2,61.4l.7-.7.3-.9-.1-1-.3-1-.3-.9-.2-1-.4-.9-.4-1-.2-.9-.1-1M64.3,49.8l-.7.7-1 .4-.9-.2-.7-.7-.3-1 .3-1 .8-.5.9-.6.7-.7.5-.9M22.8,42l.9.3.9.4 1 0 .9-.4.6-.9.4-.8.1-1 .1-1 .1-1 .7-.8M34.4,58.4l-.7.7-.9.3-.8.6-.6.8-.1 1 .4.9.7.8.8.6.8.6 1 .3M42.8,54l1-.3.9-.5.9-.3 1-.3 1 .2.9.2 1 .3 1 .2.9.5.6.7M49.3,22.7l0-1-.5-.8-.9-.5-.9.2-.9.6-.7.6-.3 1 .3.9.8.6.9.5M75.3,39.9l.7.6 1 .2 1-.2.9-.5.8-.5.8-.6.8-.6.9-.5.7-.7.4-.9M63.5,44.9l0-1 .1-1 .4-.9.5-.9.3-.9.1-1-.1-1-.3-1-.1-1-.1-1M8.1,35.5l-.9-.4-1 .2-.8.6-.5.9 0 1 .6.8 1 .3.9.2 1-.4.6-.7M52.4,43.1l-.8-.6-.6-.8-.2-1 .3-.9.7-.7 1-.1.9.5.5.8-.1 1-.4 1M41.3,44.1l.1 1-.3 1-.5.9-.9.4-1 0-.8-.6-.6-.8 0-1 .3-.9.8-.6M48.5,49.8l.3-.9.2-1 0-1-.5-.9-.9-.4-1 .1-.7.6-.5.9-.2 1 .2 1M46.1,45.1l.8.7.9.2 1 .1.9-.5.8-.6.5-.9.2-1 .1-1 .5-.8.8-.6M74.3,32.9l.2-.9.2-1-.2-1-.6-.8-.9-.4-1 .3-.7.8-.1 1 .5.8.7.7M7,58l.8.5.8.7.4.9.4.9.3 1 .4.9.8.6 1 .1 1-.3.8-.6M24.4,52.3l-.7.7-1 .3-1-.1-1 0-.9-.1-1-.2-1-.2-.9-.5-.8-.6-.7-.6M53.9,23l-1-.3-.8-.6-.8-.5-.9-.5-1-.3-1-.1-1 0-1 0-.9.1-1 .4M11.8,49.6l-.9-.1-.8-.6-.4-.9-.1-1 .1-1 0-1 .2-1 .5-.9.8-.6.8-.5M15.2,60.9l.4-.9.6-.8.8-.5 1 0 .8.5.4.9-.1 1-.3 1-.7.7-.9.5M55.2,66.6l-.4.9-.8.5-1 .3-1 .2-1-.1-1-.2-.9.1-1 .3-.9.3-1 .3M50.8,77l-.3-1-.2-.9-.4-.9-.4-1-.5-.8-.7-.8-.7-.6-.9-.5-.6-.8-.4-.9M9.3,67.2l-.3-.9-.8-.6-1-.2-.9.4-.7.8-.3.9M55.8,24.9l1 .3 1 0 .9-.4.6-.8 0-1-.5-.9-.9-.4-1 .1-.7.7-.7.8M80.3,59.7l0-1 0-1 .3-1 .7-.6 1-.1.9.5.4.9 0 1-.5.8-.7.8M69.8,78.6l-.3-1-.3-1-.4-.9-.4-.9-.2-.9-.3-1-.1-1-.2-1-.3-.9-.8-.7M80.1,59.5l1-.2.9.3.8.7.5.8.6.8.8.6.9.5.8.5M35,58l.3-1-.3-1-.3-.9-.3-.9-.4-.9-.6-.8-.9-.6-.9-.3-1-.2-1-.2M68.5,22l.7-.7.5-.9.4-.9.1-1 .5-.8.9-.5 1 .2 1 .3.8.6.8.5M16.9,21.4l.1-1-.4-.9-.9-.5-1-.1-.9.5-.5.9 0 .9.6.9 1 .3 1 0M37.5,20.1l-.3-.9-.3-1-.6-.8-.5-.9-.6-.8-.6-.8-1-.2-1 0-.9.4-.8.7M12.3,67.3l-.6.7-1 .3-1 .1-.9-.3-.8-.7-.2-1 .3-.9.3-1 0-1-.3-.9M64.9,18.6l1-.3.9.2.7.8.2 1-.3.9-.5.9-.9.5-1 .1-.9-.4-.8-.5M69.9,44.9l-.4-1-.8-.6-1-.1-1 0-.9.3-.7.8-.1 1 .4.9.5.9.3.9M44,78.3l.8.6.8.6.5.8.2 1-.3.9-.8.6-1 .2-.9-.4-.8-.6-.2-1M21.5,47.6l-.1-1-.4-.9-.8-.6-1-.1-1 .2-.9.5-.8.5-.7.7-.6.8-.8.7M43.7,64.8l-.4-.9-.1-1 .3-.9.5-.9.7-.7.9-.4 1-.2 1 0 1 .3.9.4M45.9,67.6l1 .2 1-.2.9-.3.9-.5.6-.8.2-.9-.4-.9-.9-.6-1 0-.8.4M44.8,32.2l-.3-.9-.6-.8-.8-.7-.8-.5-.9-.5-.8-.5-.9-.5-.7-.7-.6-.8-.1-1M36,45.4l-1-.1-1-.3-.7-.7-.2-1 .4-.9.8-.5 1-.3 1 0 .8.5.7.8M21.3,61.2l.9-.4.9-.4 1-.4.9-.3.9-.4.8-.7.9-.4.9-.3 1-.1 1 .1M15.7,26.6l-.6.8-.5.9-.3.9 0 1 .2 1 .2 1 .5.9.4.8.6.9 1 .4M37.2,85.8l-1-.4-1-.1-.9-.4-.5-.9.1-1 .5-.8.9-.4 1 .2.7.8.2.9M47.7,50l-.3.9.3 1 .6.8.9.4 1 .3.9.3 1 0 1 .3 1 .3.9.3M53.8,37l-1-.1-.9-.3-.9-.5-1 0-.9.4-.4.9.1 1 .6.8 1 .3.9-.2M59.5,23.8l.3 1-.2 1-.6.7-.9.5-1-.2-.8-.6-.7-.7-.8-.5-.9-.5-.8-.6M75.4,64.6l-.9.5-.9.4-1 0-.9-.6-.5-.8-.2-1 .4-.9.8-.6 1-.1 1 .2M36.4,78.7l.1 1 .2 1 .6.8.8.6.8.6.6.8.3 1-.2.9-.1 1 .1 1M36.5,48.3l1-.1 1 0 1 .1 1 .3.9.5.7.6.9.5 1 .3 1-.1.9-.4M39,33.9l.4-.9.8-.6.8-.7.6-.7.9-.4 1-.1.9.4.7.8.3.9.3 1M48.8,9.6l-.3.9.2 1 .7.8.6.7.5.9.2 1 0 1-.6.8-.9.3-1 .1M61.5,52.1l-.6.9-.4.9.2 1 .7.7 1 .1.9-.4.8-.6.6-.9.4-.8.2-1M32.4,43.8l.5.9 0 1-.5.9-.9.4-1 .2-.9.4-.9.3-1 .2-1 .2-1-.1M12.3,29.6l0-1-.5-.8-.8-.6-.9-.4-1 .2-.7.7-.5.9-.2 1-.6.7-1 .4M72.1,78.2l.4.9-.1 1-.6.7-.9.5-.9.4-1 0-1-.1-1 0-1-.4-.7-.6M56.7,12.3l-1-.2-.7-.7-.4-.9-.1-1-.1-1-.3-.9-.4-.9M20.8,71.6l-1 .1-1-.1-1-.2-1 0-1 .1-.9-.3-.8-.6-.9-.5-.8-.6-.8-.6M10.4,44.3l-.6-.9-.3-.9-.1-1-.4-1-.5-.8-.5-.9 0-1 .6-.8.9-.3 1 .2M80.1,47l.8-.6 1-.4.9-.4 1-.1 1 .1.9.3.8.6.3 1-.2.9-.6.9M12.5,61.8l.8.5.4.9-.1 1-.3 1 0 1-.3.9-.2 1 .1 1 .7.8.9.3M59,78.3l-.1 1-.4.9-.7.6-1 .4-1-.3-.6-.8-.2-.9.5-1 .8-.5 1-.1M46.7,87.8l.4.9.4.9.8.5M59.4,74.7l.3-1 .5-.8.1-1-.3-1-.5-.8-.5-.9-.5-.9-.3-.9-.2-1-.6-.8M39.7,59l-1 .3-.7.7-.6.8-.4.9-.4.9.1 1 .7.8.9.4 1 .1.9-.5M83.6,38.3l.7.7.2 1-.2 1-.3.9-.3 1 0 1-.4.9-.8.5-1 .3-1-.1M34.4,53.7l.6-.9 0-1-.5-.8-.9-.4-1 .2-.7.7-.2.9.2 1 0 1-.3 1M51.5,52.6l-.5.8 0 1 .1 1 .2 1 .4 1 .5.8.7.7 1 .1 1 .1 1 .1M33.8,77.5l-1 .4-.7.7-.4.9-.1 1-.3 1-.1 1 .1 1 .3.9.6.8.8.6M36.2,10.7l-.8-.5-.8-.7-.3-.9.2-1 .7-.7M48.4,55.2l.9-.3.8-.6.4-.9-.1-1-.1-1-.3-1-.4-.9-.7-.7-.7-.7-.5-.9M53.3,42.9l-.1 1-.4.9-.6.8-.7.7-.7.7-.7.8-.9.3-1 .1-1-.3-.8-.5M63.4,15.4l0-1 .6-.8.5-.8.2-1-.2-1-.6-.8M74.9,36l1 0 .9-.4.6-.8.4-.9.2-1 .1-1 .2-1 .3-.9.6-.8.7-.8M18.1,26.2l.3-.9-.3-1-.2-1-.2-.9-.5-.9-.7-.7-.9-.6-.3-.9.3-1 .7-.7M48.4,74.1l.7.7.3 1-.1 1-.1 1-.1 1-.1 1 .6.8.9.4 1 .2 1 0M62.6,49.5l.4-.9.6-.9.5-.8.7-.7.8-.6.9-.4.8-.6.6-.8.7-.8.9-.4M40.1,68.6l-1-.4-.7-.7-.4-.9-.5-.9-.3-.9.3-1 .8-.6.9-.4 1-.2.9-.4M72.6,55.3l-.9-.2-1 0-.9.4-.9.6-.8.5-1 .2-1 .1-1 0-.8-.5-.4-.9M73.2,27.3l.9-.4 1-.1 1 .2.9.5.9.4.8.5.9.5.9.5.6.7.2 1M75.7,59.4l.8.6.8.6.7.7.5.8.3 1 .3.9 0 1-.6.8-.7.8-1 .3M35.6,84.8l.6.8.5.8.3 1-.1 1-.7.7-.9.2" fill="none" stroke="#fff" stroke-width="0.9" stroke-linecap="round" stroke-linejoin="round" opacity="0.07" filter="url(#b5)"/>
</g></g>
<rect x="489.5" y="298.0" width="86.4" height="85.6" fill="#242424"/>
<g clip-path="url(#k6)"><g transform="translate(489.5 298.0)">
<ellipse cx="65" cy="35" rx="10" ry="9" transform="rotate(0 65 35)" fill="url(#rg)" opacity="0.35" filter="url(#gb)"/>
<ellipse cx="46" cy="40" rx="38" ry="35" transform="rotate(0 46 40)" fill="url(#rg)" opacity="0.52" filter="url(#cl6)"/>
<path d="M44,66 C49,73 41,78 46,86" fill="none" stroke="#fff" stroke-width="2.5" stroke-linecap="round" opacity="0.22" filter="url(#sb)"/>
<path d="M18.7,27.3l-.7-.8-.7-.7-.3-.9.1-1 .5-.9.9-.5 1 .2.7.6.4 1-.3.9M32.1,15.8l.4.9.2 1-.1 1-.4.9-.4.9-.4 1-.2.9 0 1-.2 1-.4.9M57.6,44.8l-1-.2-1 .2-1 .2-.9.5-.7.7-.7.7-.2 1-.1 1 .1 1 .2.9M53.2,21l-.9-.5-.8-.6-.7-.7-.5-.9-.2-.9-.1-1-.2-1-.3-1-.5-.9-.4-.9M32.2,21.1l.9.5.7.8.3.9.7.8.9.2 1-.2 1-.2 1-.2.8-.5.8-.7M68.3,45.1l.1 1 .7.8.9.2 1-.3.6-.8 0-1-.3-.9-.4-1 0-1 .3-.9M66.5,46.3l.5-.9.8-.5 1 .1.8.6.3.9-.2 1-.6.8-.2 1 .2.9.4.9M32.7,26.6l.7-.8.4-.9.2-.9.2-1 .2-1 .5-.9.8-.5 1-.1.9.6.7.6M63.4,43.9l-1-.2-.8-.5-.6-.9-.1-1 .1-.9.5-.9.9-.4 1 .1 1 .2 1 0M35.6,41.7l-.8.6-.9.5-1 0-.8-.6-.4-.9 0-1 .3-.9.5-.9.8-.5 1-.1M72.4,28.9l-.8-.6-.8-.6-.9-.5-.8-.6-.8-.5-1 0-.8.6-.4 1 .1 1 .1.9M22.7,33l-.8.6-1 .4-.9.3-1-.2-1-.1-1-.3-1 .1-.9.3-.7.8-.5.8M76.5,53.3l.5-.9.4-.9.4-.9.4-1 .2-.9 0-1-.7-.8-.9-.5-1 0-.9.2M19.8,61.6l-.3-.9.2-1 .7-.7 1-.2.9.2.7.8.3.9-.4 1-.8.5-1 .1M46.8,27.7l-.8-.7-.3-.9 0-1-.4-1-.2-.9-.4-1-.5-.8-.9-.5-1-.1-.8-.5M49.7,39.5l.2-1 .7-.7 1-.3 1 .1.8.6.3 1-.3.9-.8.7-1 .1-.9-.5M45.8,16.7l1-.1.9.3.8.7.7.7.6.8.5.9 0 1-.4.9-.5.8-.7.8M46.2,62.5l-.5.9-.9.4-1-.2-.8-.6-.8-.7-.3-.9 0-1 0-1 .2-1 .4-.9M14.8,40.3l-.4.9-.8.5-1 .4-.9.3-.8.6-.6.8 0 1 .5.8.9.4 1-.2M35.3,64.3l-.5-.8 0-1 .4-1 .6-.7.9-.5 1-.2 1 0 .9.4.7.7.2 1M58.6,74.5l-.3 1-.3.9-.7.8-1 .2-.9-.4-.7-.7-.4-1 .3-.9.5-.9.9-.4M13.1,29.2l0-1-.5-.9-.5-.8-.6-.8-.9-.5-1-.1-.9.5-.5.8-.2 1 .3 1M44.8,34.2l.1 1 .4.9.1 1-.1 1 .4 1 .8.5 1 .4 1 .1 1 .1.8.5M42,52.7l.4 1-.1 1 0 1 .1 1-.1 1-.3.9-.6.9-.9.4-.9.1-1-.3M74.5,32.3l-.8-.7-.9-.3-1-.3-.5-.8-.1-1 .6-.9.8-.5 1-.3.9.3.9.5M19,65.3l.6.7.9.4 1-.2.8-.6.4-.9 0-1-.5-.9-.9-.5-.9-.5-1 .1M31.1,17l-.9.5-.7.7-.6.8-.4.9.1 1 .4.9.5.9.6.7.3 1-.1 1M28.5,44.6l-.9-.4-.9-.5-1-.2-1 .1-.9.3-.9.5-.8.5-1 .4-1 0-.9-.4M61.1,41.7l.7-.7.6-.7.5-.9 0-1-.5-.8-1-.4-.9.2-.7.7-.6.8-.9.5M16.9,60.6l-.4-1-.7-.7-1-.1-.9.4-.8.5-.9.5-1-.2-.8-.6-.2-1 .3-1M64,49.2l.5-.9.8-.6 1-.1 1-.1.9.5.7.6.9.6.8.5.4 1-.1.9M33.1,62.6l-.6-.7-.9-.4-1-.1-.9.5-.7.7-.4.9 0 1 0 1 .2 1 .6.8M56.4,31.3l.4-1 .5-.8.9-.4 1-.1.8.5.6.8.1 1-.1 1-.5.9-.4.9M47.7,58.3l-.2-1-.3-.9-.3-1-.4-.9-.4-.9-.3-1-.1-1-.4-.9-.8-.6-1 0M62.4,53.2l-.7.7-1 .3-1-.1-.8-.6-.4-.9-.3-1 0-1 .6-.8.8-.6.9-.4M38.8,48.2l.8-.6.7-.6.8-.6.7-.7.7-.8.6-.8.5-.8.8-.6 1-.1.9.3M51.8,36.5l.9.3.6.8.1 1-.5.8-.9.5-1 .1-1-.3-.8-.5-.7-.7-.7-.8M37.2,56.4l1 .3.9.1 1 .2 1 .3.8.6.4.9-.1 1-.4.9-.8.7-.9.1M34.7,64l.9.2 1 .1 1 0 1-.2.9-.5.8-.5.8-.7.6-.8.8-.6.7-.7M39.8,75.3l-1 .4-1 .1-.8-.5-.7-.7-.3-1 .4-.9.8-.6.8-.6.7-.7.5-.9M55.1,40.9l-.7.7-1 .3-.9-.3-.7-.7-.5-.9-.2-1 .3-.9.7-.7.8-.6.8-.7M49.5,17.2l-.1-1 .5-.9.9-.4 1-.2 1-.2 1-.2.9-.3.9-.4.7-.8.7-.6M15.8,65.3l.3.9-.3 1-.7.7-.8.6M37.5,46.3l.1 1 0 1 0 1 .2 1 .6.8.5.8.5.9.7.8.9.4 1-.1M64.4,37.3l-.2 1 0 1 .2 1 .7.7 1 .2.9-.3.6-.9 0-1-.5-.8-.9-.4M68.7,53.9l.4.9.8.7.8.5.7.7.6.8.5.9.4.9.2 1 0 1 .1 1M12.6,43.6l-.6.8-.8.6-.9.5-.8.6-.8.6-.5.8-.5.9-.6.9.1 1 .4.9M62,64.2l-.6-.7-.8-.7-.7-.7-.2-1-.1-1 .2-1 .2-.9.2-1 .1-1 .1-1M32.8,49.3l.2 1-.2 1-.1 1-.3.9-.5.9-.9.4-1 .3-1 .2-.8.6-.5.9M44.3,49.1l.5-.9.6-.7 1-.3 1 .3.9.4 1 .1 1 0 1-.1 1-.2.8-.6M17.9,52.5l-1 .3-1 .3-.9.3-1 .1-.8-.5-.5-.9.2-1 .7-.7 1-.2.9.2M59.8,46.9l.8.7 1 .2.9.1 1 .1 1 .4.7.7.7.7.5.9.3.9-.2 1M49.1,31l1 0 .9-.2 1-.3 1-.1 1 .1 1 0 1 .1 1 .1 1 .1 1 0M8.8,45.8l-.5.8-.3 1-.3.9-.4.9-.4 1-.9.5-1 0M18.1,61.3l1 .1.7.7.2 1-.1 1-.7.7-.9.3-1-.3-.8-.6-.4-.9.1-1M49.2,25.4l-.4-.9-.7-.7-1-.2-1 .2-1 .2-1 0-1-.2-.7-.7-.6-.8-.9-.4M40.6,20l.8-.6.4-.9-.1-1-.6-.8-.8-.6-.8-.5-1-.2-1-.1-1 .3-.6.7M56.8,64.1l-.9.5-1 0-.8-.5-.4-.9.1-1 .2-1 .6-.8.4-.9.6-.8.9-.6M72.9,41.6l-.5.9.1 1 .7.7 1 .3 1-.2 1-.1.9-.3.7-.7.8-.7.6-.7M56,53.5l.6.8.1 1-.3 1-.6.8-.6.8-.4.9.2 1 .3.9.4 1 .7.7M25.6,72.1l.2.9-.4.9-.9.6-1-.1M74,29.5l-.1-1 .6-.9.7-.7.8-.5.9-.4 1-.3.8-.7.6-.7M17.9,64l1 0 .9-.3.6-.9 0-1-.2-1-.4-.9-.2-.9 0-1 .2-1 .8-.7M54.2,20.9l-.9-.4-1-.1-1 .2-.7.6-.4 1 .2.9.6.8.7.7.5.9.4.9M31.7,55.9l-.4-.9.2-1 .6-.8.7-.7.7-.7.6-.8.8-.7.7-.6.9-.5.9-.2M61.1,30.3l.8-.6.9-.3 1-.2 1-.3.8-.5.9-.5.7-.7.7-.8.6-.7.6-.8M67.1,25l-.7-.7-.7-.7-.5-.8-.4-1 0-1 .2-.9-.2-1-.5-.9-.4-.9-.8-.5M27.2,51.9l.1-1-.1-1-.1-1-.6-.8-.9-.4-1 .2-.7.7-.3 1 .3.9.6.8M77.2,55.6l-1-.2-.9-.4-.6-.9.1-1 .6-.8.9-.5.9-.1 1 .2.8.6.2 1M28.9,71.3l-.9-.5-.8-.5-.6-.8-.7-.7-.9-.4-1 0-1 .4-.5.9 0 1 .6.8M64.6,29l-.6-.8-1-.2-1 0-.9.4-.6.8-.4.9-.4.9-.3 1 0 1 .3.9M45.9,57.8l-.8-.5-1 0-.9.5-.4.9 0 1 .4.9.6.8.9.5 1-.2.7-.7M24.8,26.1l-1-.1-.9.6-.4.9-.3.9-.6.9-.7.6-.7.7-.9.5-1 .3-.8.5M72.4,26.3l-.4-.9-.7-.8-.8-.5-1-.2-.9.5-.6.7-.4 1 .2.9.7.8.9.3M46,42.8l-.8.6-.7.8-.7.7-.8.6-.8.6-.8.5-.9.4-1 0-1 0-1 0M30.1,75l-.5-.8-.9-.5-1-.2-1 0-.9-.3-.8-.6-.5-.9-.4-.9-.4-.9 0-1M17.6,59.5l-1-.3-1 .3-.7.6-.6.8-.8.7-1 .1-1 0-1-.3-.8-.5-1-.3M16.9,35.2l-.5.8-.6.8-.7.7-.8.7-.8.5-1 .1-.9-.4-.6-.9-.3-.9-.5-.9M34.9,44.2l.5-.9.9-.5.9.1.9.5.7.7.2 1-.4.9-.6.8-.9.4-1 .1M23.2,27l-.9-.3-.7-.8-.3-.9 0-1-.1-1 0-1 .1-1 .5-.9.8-.6 1-.1M13.1,44.9l-.4-.9-.4-.9-.1-1 .3-1 .8-.6 1-.1.9.5.4.9-.1 1-.6.7M50,34.2l.9.4.5.9-.1 1-.4.9-.7.7-.9.3-1-.1-1-.1-1-.1-1-.3M37.4,34.4l-.8-.6-1 0-.9.4-.6.8.1 1 .6.8.6.9.5.8.8.6 1 .3M9.1,36.7l-.1-1-.4-.9-.4-.9-.3-1-.1-.9.1-1-.2-1-.3-1-.5-.9-.8-.4M77.2,25l.7-.6.8-.6 1-.3M13.6,43.6l1-.2.9.4.6.8 0 1-.3 1-.5.8-.8.6-1 .4-.9.4-.9.4M18.9,39.5l-.3-.9.3-1 .8-.6 1-.2.8.5.5.9-.1.9-.5.9-.8.6-1 .1M42.6,14.9l-.1-1-.3-1-.6-.8-.8-.6-.9-.4-1-.2-.9-.3-1-.3-1 .1-1 .2M66.1,38.3l.6-.9.9-.3 1 .2.7.7.6.8.5.8.6.8.6.9.8.6.7.7M31.1,21.7l-.7-.8-.9-.2-1 .1-.9.5-.8.6-.6.8-.7.7-.5.9-.2.9-.6.8M19.2,19.9l.7-.7.6-.8.2-1 .6-.8.7-.7.8-.7.7-.6.7-.8.6-.8.4-.9M41.6,8.9l-.2-1 0-1 .6-.8.7-.8.6-.7.4-1M29.5,39.2l.9-.2 1-.2 1-.1 1-.1.9-.4 1-.2 1 .3.6.8.2 1-.3 1M39.7,59.5l-.9-.2-.7-.7-.2-1 .1-1 .2-.9.3-1 .5-.9.7-.7.9-.4.9-.4M12.6,25l-1 0-.9.4-.6.9-.4.8-.6.9-.5.8-.9.5-1-.1-.8-.7M40.7,47.6l.9.3 1-.3.8-.6.4-.9.2-1 .1-1 .2-1 .3-.9.5-.9.9-.4M6.7,46.4l-1 .1-.9.2-1 .2M18.6,27.5l-.8.7-.5.8-.5.9 0 1 .5.9.7.6 1 .2.9-.1 1-.3.9-.4M32.4,54.8l-.8.5-.5.9-.4.9-.6.8-.4.9.1 1 0 1 .4 1 .7.6 1 .2M61,47.9l.2 1 .7.8.8.5.7.7.5.9.3.9-.3 1-.9.6-1 0-.9-.3M65.7,60l.6.8.4 1 .3.9.6.8.8.7.8.6.7.6.8.7.6.8.6.8M60.2,41l-.9 0-1 .3-.6.8-.1 1 .2 1 .7.7 1 .1 1-.1.8-.6.5-.8M21.4,62.1l.9.4.6.8.1 1-.4.9-.8.6-1 .1-.8-.5-.4-1 .2-.9.5-.9M71.8,48.8l-.7-.7-.8-.6-.9-.4-.9-.4-.8-.7-.7-.7-.7-.6-1-.4-1-.1-1 .2M38.6,48.7l1-.2 1-.4.9-.1 1 0 .9.5.9.5.8.5 1 .3 1 0 1-.1M19.6,49.9l1 0 .9-.3.7-.8.6-.8.3-.9.2-1-.1-1-.5-.9-.6-.8-.9-.4M37.1,22.2l-.9.4-.8.7-.2 1 .2.9.2 1 .3 1 .3.9.6.8.9.5 1-.2M44.9,22.3l-.2-1-.6-.8-.6-.8-.3-1 0-1 .2-.9.3-1 .2-1-.3-1-.7-.7M65.2,29l.5.9.4.9-.2 1-.5.9-.6.8-.7.7-.8.6-.9.3-1 .2-1 0M42.2,26.6l-.9.4-.8.6-.8.6-.2 1 .3.9.7.7.9.5.9.5.6.8.2.9" fill="none" stroke="#fff" stroke-width="0.9" stroke-linecap="round" stroke-linejoin="round" opacity="0.14" filter="url(#b5)"/>
</g></g>
<rect x="583.3" y="298.0" width="86.8" height="85.6" fill="#242424"/>
<g clip-path="url(#k7)"><g transform="translate(583.3 298.0)">
<ellipse cx="40" cy="45" rx="40" ry="38" transform="rotate(0 40 45)" fill="url(#rg)" opacity="0.55" filter="url(#cl7)"/>
<path d="M10.5,24.6l-1 0-1 .1-.9.5-.5.8.1 1 .6.8 1 .3 1 0 1-.2.7-.7M12.5,47l-.1 1-.2.9-.3 1-.5.9-.4.9-.1 1 0 1 .1 1 .1 1 0 1M32,36l-1 .2-1-.1-1 .2-.9.3-.6.8-.1 1 .1 1 .4.9.7.7 1 .3M21,22.9l-1 .1-.9.4-.8.6-.5.9.1 1 .6.7.9.4 1-.2.7-.7.5-.9M11.9,27l-.9.4-1-.2-.7-.7-.5-.8-.2-1-.2-1 .2-1 .8-.7.9-.2 1 .4M45.3,39.1l.2 1 .6.8 1 .3 1-.1.8-.5.6-.8 0-1-.4-.9-.9-.4-1-.2M55.6,32.4l-.6.9 0 1 .3.9.6.8.5.9.3 1 .3.9.4 1 .5.8.6.9M62,34.9l-.9.5-1-.2-.7-.6-.3-1 .2-1 .3-.9.1-1-.4-.9-.9-.6-1 .1M57.3,69.4l.8-.6.8-.7.5-.8.6-.8.5-.9 0-1-.4-.9-.8-.5-1 0-.9.5M20.1,26.2l1 .4 1 0 .8-.5.6-.8.7-.7.5-.9.4-.9.1-1 .2-1 .7-.7M60.1,42.4l-1 0-.9-.3-.7-.7-.7-.7-.5-.9-.5-.9-.6-.8-.8-.6-.7-.7-.9-.4M28.9,20.8l-1-.2-1-.1-1-.2-.9-.2-1-.4-.7-.6-.9-.5-1-.2-1 .2-.9.5M18.9,16.8l-.3 1-.2.9.2 1 .5.9.5.8.2 1-.2 1-.2 1-.3 1-.6.8M63.8,48.5l-.8-.7-1-.2-1 .3-.8.6-.9.4-.8.5-.8.7-.8.5-.8.7-1 .1M37.4,60.9l-1 0-1 .3-.8.6-.6.8-.1 1 .4.9.9.6.9.2 1 .3.6.8M41.7,76.4l-1-.3-1 0-.9.3-.6.8-.1 1 .2 1 .4.9.4.9.8.7.8.4M77.4,47.8l.3-.9.1-1-.6-.9-.8-.6-.9-.4-1 .2-.9.5-.4.8-.1 1 .3 1M56.8,34.3l-.7-.7-.4-.9.2-1 .5-.9.4-.9.4-.9.4-1 0-1-.4-.9-.7-.7M52.3,60.1l0-1 .2-1 .5-.9.6-.7.7-.8.8-.6.9-.2 1-.3 1-.1 1 .2M68.8,65.3l-1 0-1-.1-1-.3-.9-.2-1-.4-.9-.2-1 .1-.9.4-.7.7-.1 1M41.2,65.1l1-.2 1-.1 1 .1 1 .2.9.5.6.8.2.9-.4 1-.8.5-1 .1M54,39.7l.7-.6.8-.7.7-.6.7-.7 1-.3.9.4.8.7.4.9.6.7.7.8M15.9,62.1l.3-1 .2-.9-.4-.9-.8-.8-.8-.4-.8-.7-.5-.9 0-1 .3-.9.4-.9M17,36.2l-.3 1 .3 1 .4.9.3.9.3 1-.2 1-.2.9.1 1-.2 1-.3 1M40.8,47.5l.4.9-.2 1-.6.7-.8.6-1 .4-1 0-.9-.4-.6-.7-.7-.8-.3-1M56.8,42.2l-.8-.5-.8-.5-1-.2-.9.3-.7.8-.7.7-.8.7-.8.5-1 .3-.9.2M54.9,74.3l.6-.8 1-.3 1 .1.9.4.9.4 1 .2.9.4.6.8.5.9M74.1,37.6l-.2-1 .3-1 .7-.7 1-.1 1 .4.5.8.1 1-.3 1-.7.7-.9.3M48,27.6l.2-1-.2-1-.3-1-.1-1 .4-.8.9-.5 1 .1.9.4.4.9.1 1M40.8,59.8l-1 0-1-.4-.6-.7-.2-1-.1-1 .2-1 .6-.7.9-.4 1-.4 1-.1M33.3,54.4l-.9-.3-.9-.4-1-.2-.9.5-.5.9-.2.9.3 1 .8.6 1 .1.9-.4M8.4,39.8l-1-.2-.6-.8-.4-.9-.2-1-.3-.9-.5-.9-.4-.9-.2-1 .1-1 .2-1M50.7,59l.1-.9.6-.8.9-.5 1 0 .8.5.5.9.3 1-.1 1-.6.8-.5.8M24.4,63.3l-.9.3-1 .3-1 .2-1 .1-1 0-.8-.5-.5-.9-.1-1 .6-.8.8-.6M59.9,45l-.2-.9 0-1 .1-1-.1-1 0-1-.1-1-.4-.9-.4-1 .3-.9.5-.9M34.5,12.6l.5.9.7.7.7.7.7.7.8.6.8.7 1 0 .8-.5.5-.9-.1-1M36.3,76.8l-.6.8-.5.8-.2 1 0 1-.1 1-.4.9-.7.7M45.6,50l-.9.5-1 .2-.9.4-.7.8-.7.7-.7.7-.5.8-.2 1 .2 1 .6.8M53.6,77.5l-.3-.9 0-1 .2-1 .1-1 .2-1 .6-.8.8-.5.9-.5 1-.1.9.3M65.9,40.7l-.7-.7-.8-.5-1 0-.8.6-.8.7-.6.8-.6.8-.6.8-.7.7-.7.7M14.9,30.5l.6-.8.1-1 .3-1 .5-.9.7-.6.9-.5 1-.1.9.5.5.8-.1 1M49.9,67.4l-.8.6-.8.5-.8.6-.8.7-.7.6-.5.9-.1 1 .3.9.8.6 1 0M74.7,56.1l-.7.7-1 .3-.9.3-1-.2-1-.3-1-.2-.9.3-.6.8-.4.9-.3 1M70.1,60.9l0 1-.2 1-.7.7-1 .3-.9-.1-1 .1-1 0-1-.1-1-.4-.5-.8M56.4,32.9l-1-.2-.9-.5-.5-.9 0-1 .3-.9.5-.8.7-.8.8-.6.9-.4 1-.3M38.9,74l-.9-.4-.4-.9.1-1 0-1 0-1 .3-1 .7-.6 1-.1 1 .2.8.6M55.7,59.5l.6.8.5.8.6.9.4.9.3.9.6.8.4 1 .4.9.2 1 .2.9M35.7,30.8l-.1 1 .2 1 .5.8.8.6 1 0 1-.4.8-.5.9-.4.8-.6.7-.8M40.5,42.8l.2-1-.3-1-.7-.7-.8-.6-.6-.8-.8-.7-.3-.9-.3-1-.4-.9-.5-.9M19.5,31.5l-.1 1-.3 1-.6.8-.7.7-.4.9.1 1 .4 1 .7.7.9.5 1 .1M47.7,27.1l-1-.2-.9.5-.8.5-1 .2-1-.2-1-.3-.7-.6-.9-.5-.7-.7-.3-1M26.9,38l-.6.8-.3 1-.4.9-.4.9-.7.7-.6.8-.6.8-.8.7-.9.2-1 0M15.7,61.9l1-.3.8-.7.8-.5.9-.4 1-.3 1-.2 1-.1 1-.1.9.2 1 0M44.8,59.7l.4-.9-.2-1-.7-.7-.6-.8-.7-.8-.5-.8-.6-.8-.9-.5-1 .1-.7.6M57.6,17.6l-.6.8-.4.9.1 1 .5.9.4.9.2 1 .1 1 0 1-.2 1 0 1M37.1,12.9l-.2.9 0 1 0 1-.1 1-.1 1 .1 1 .4 1 .5.8.8.6.8.5M11.7,32.1l-.8.6-.5.8-.1 1 .2 1 .1 1-.1 1-.1 1-.4.9-.3 1-.4.9M70.8,50.6l.9-.3.9-.6.9-.4.9-.3 1 0 .9.5.5.9-.1 1-.6.8-.9.3M64.2,57.7l-.2-1 .2-.9.7-.8 1-.2.9.2.7.8.1 1 .3.9 0 1-.2 1M58.7,56.5l.9.5.7.7.3.9.1 1-.5.9-.8.5-1 .1-1-.2-1 0-.9.4M61,45.5l-.7.7-1 .1-.9-.4-.7-.7-.3-1-.2-.9-.5-.9-.8-.7-.7-.7-.7-.7M67.3,36.8l-.6-.9-.5-.9 0-1 .4-.9.6-.8.5-.9.4-.9.4-.9.7-.7.8-.6M17.1,56.4l.9.4 1 .3.9.2 1 .1 1 .4.9.3 1 .2.9-.4.8-.5.8-.7M75.5,46.1l-.3 1-.8.6-1 .2-.9-.4-.9-.3-.9-.4-.8-.7-.8-.5-1-.4-.8-.5M39.2,21.2l-.5.9.2 1 .6.7 1 .3.9-.3.7-.8.1-1-.5-.9-.8-.5-1-.4M74,41.5l1 .4.7.7.3.9.1 1 .1 1 .3 1 .4.9.5.8.8.7 1 .1M24.5,60.4l.7-.7.4-.9.6-.8.4-.9.1-1-.2-1-.1-1 0-1 .3-1 .6-.7M26.8,21.6l-.9.5-.7.7-.6.7-.7.8-.9.4-1-.1-.8-.6-.2-1-.1-1 .4-.9M13.4,51.1l1 .1 1 0 .8-.5.9-.6.9-.4.9-.2 1 .2.9.4.9.6.9.4M20.4,63.9l-.4-1-.4-.8-.4-1-.1-1 .5-.9.6-.7.7-.7.6-.8.1-1-.2-1M42.8,66.2l.7-.7.1-1-.4-.9-.9-.5-1-.1-.9.4-.5.9.1 1 .4.9.9.5M25.4,72.1l.6.8 1 .4 1-.2.7-.6.3-1-.1-1-.5-.8-.6-.8-.7-.7-1-.2M66.5,23.8l-.4.9-.9.5-1 .1-1-.1-.9-.5-.8-.5-.8-.7-.5-.8-.3-1-.5-.8M52.7,12.9l-.4.9.1 1 .5.9.9.5 1-.1.8-.6.3-1-.3-.9-.7-.8-.9-.2M9.2,31.1l.9.5.8.5.6.8.3 1-.3.9-.5.9-.6.8-.9.3-1-.3-.7-.8M16.3,44.7l.6-.9.8-.5 1-.3 1 0 .9.2 1 .3 1 0 1 .1 1 0 1 .1M11.3,38.6l-.3-.9-.4-.9-.3-1-.4-.9-.6-.8-.9-.5-.9-.4-1 .1-1 .2-.7.7M5.6,31.3l.5 1 .5.8.9.5.9.3 1-.2 1 0 1 .1 1 .3.9.4.9.3M44.1,31.8l.5-.8.3-1 .2-1-.3-.9-.5-.9-.6-.8-.6-.8-.8-.6-.8-.6-.9-.3M71.7,28.1l.9-.4.8-.6.8-.6.9-.5M58.5,18.9l.3-1 .1-1-.2-.9-.6-.8-.8-.6-1-.2-.9.3-.9.5-.7.7-.5.9M62.2,31.8l-.7.8-.9.2-1 0-1-.1-.9-.6-.3-.9.2-1 .7-.7.9-.3 1 .2M22,46.9l-.9 0-.8-.6-.3-1-.1-1 0-1 0-1 .3-1 .3-.9.5-.9.8-.6M30.6,65.1l.4-.9.6-.7 1-.4 1 .1.8.5.4 1-.2.9-.6.8-1 .3-.9-.1M74.8,53.7l-.3 1-.5.8-.2 1 .3 1 .8.6.9.2 1-.3.8-.6.4-.9M29.7,41.1l.8-.6 1-.1.9.4.9.5.9.4.9.4.7.7.7.8.8.6 1 .1M41.1,47.8l-.2 1 .1 1-.2 1-.5.9-.3.9-.4.9-.1 1 .1 1-.3 1-.7.7M48.3,20.6l.9-.3.9-.5.9-.5.8-.5.8-.7.2-1-.3-.9-.8-.6-1-.2-1 .1M29.4,29.2l-.4.9-.7.7-.8.6-.8.5-.9.5-1-.1-.8-.6-.4-1 .2-.9.1-1M77.8,45.9l-.4.9-.5.8-.9.5-1-.2-.8-.6-.5-.8-.4-1-.3-.9-.2-1 .3-.9M46.9,59l1 .2 1 .1 1 0 1 .2 1 .2.9-.3.9-.4.5-.9.6-.9.3-.9M36.2,22.6l1 .1.9.4.7.7.1 1-.5.9-.8.5-1 .2-1-.4-.5-.8 0-1M36.5,45.6l.5.9.9.4 1 .2.9-.1 1-.3.7-.7.2-1-.3-.9-.7-.8-1-.2M44.8,44l-.6-.8-.3-.9.2-1 .5-.9.4-.9.6-.8.6-.8.8-.6.8-.5 1-.2M13,52.1l.8.7.7.7.8.6.6.8.2 1-.5.8-.9.5-1 0-.8-.6-.5-.9M13,48.9l.8-.6.9-.4 1-.3 1-.1.9.2.9.5.8.6.8.6.9.5.6.8M67.6,47.3l.9.4.9.3 1 .4.9.3 1 .1 1 .3.8.6.6.7.5.9.3 1M30.5,10.8l.2-1 .7-.7.6-.8.2-1M46.3,30.1l.3.9.5.9 0 1-.1 1-.5.9-.7.6-.8.6-.5.9-.3 1-.2 1M39.3,66.2l-.7.7-.8.5-.9.5-.7.7-.2 1 0 1 0 1 .2 1 .4.9.8.6M33.3,31.1l.4.9.1 1 .3.9.2 1 0 1-.6.8-.9.4-1 0-1-.1-1-.2M57.8,65.9l.2-1-.3-.9-.5-.9-.8-.5-1 0-1 0-1-.1-.8-.6-.5-.9.2-1M37.4,17.4l.6.7.8.6 1 .2 1-.1.9-.4.6-.8 0-1-.6-.8-.7-.8-.6-.7M73.7,40.8l.8-.5.9-.6.8-.6 1-.1 1 .1.9.2 1 .1M34,61.1l-.4.9 0 1 .2 1 .4.9.4.9.3 1 0 1-.3 1-.8.6-1 0M25,64.3l.8-.7.8-.6.6-.7.3-1 0-1-.1-1-.5-.9-.8-.5-.8-.6-.6-.8M30.7,79.5l-1 .3-.9-.3-.7-.7-.1-1 .1-1 .4-.9.5-.9.3-.9-.1-1-.6-.8M38.3,73.2l-.8.7-.9.4-1 .1-.9-.5-.5-.9.1-1 .4-.9.4-.9.6-.8.7-.7M23.1,31.4l-.5 1-.6.7-1 .2-1 0-1-.2-.7-.7-.2-1 0-1 .2-.9.5-.9M52.1,55.3l-.1-1 .1-1 .4-.9.3-.9.3-1-.3-.9-.8-.6-.9-.4-.9-.5-1-.2" fill="none" stroke="#fff" stroke-width="0.9" stroke-linecap="round" stroke-linejoin="round" opacity="0.12" filter="url(#b5)"/>
</g></g>
<rect x="672.1" y="298.0" width="86.9" height="85.6" fill="#242424"/>
<g clip-path="url(#k8)"><g transform="translate(672.1 298.0)">
<ellipse cx="45" cy="25" rx="10" ry="8" transform="rotate(0 45 25)" fill="url(#rg)" opacity="0.35" filter="url(#gb)"/>
<ellipse cx="43" cy="42" rx="36" ry="35" transform="rotate(0 43 42)" fill="url(#rg)" opacity="0.6" filter="url(#cl8)"/>
<path d="M56.6,69.3l-.9-.6-.6-.8-.1-1 .5-.8.9-.4 1-.3 1 .3.9.3 1-.3.9-.4M19,35.1l.9-.3 1 .1.8.6.7.7.7.7.8.7.7.6.7.7.4 1-.3 1M42.6,54.3l-.2-1-.5-.9-.7-.7-.9-.3-1 0-1 .2-.9.5-.7.7-.3 1 .4.9M13.4,54.3l.3 1 .2 1 .1.9-.2 1-.4.9-.7.8-.4.9.1 1 .2 1 .6.8M52.1,47.6l-.2-1-.6-.8-1-.3-.9.3-.9.6-.8.6-.6.8-.4.9-.2 1 .5.8M40.2,47.4l.5-.9.5-.8.6-.9.4-.9.6-.8.5-.8.7-.7.8-.7.2-1 .4-.9M48.2,46l.6.7.9.5.9.4 1 .2 1 0 1-.3.7-.7.5-.8.7-.8.7-.7M42.9,69.6l-.4.9 0 1 .6.8 1 .3 1 .2.8.5.6.8.3 1 .2.9.6.8M35.6,61.9l.2 1 .6.8 1 .3 1-.3.6-.7.2-1-.2-1-.5-.8-.6-.9-.6-.8M22.6,28.3l-.7-.7-.8-.6-1 .1-.8.6-.7.7-.7.7-.5.9-.4.9-.2 1-.5.9M40,46.6l.4.9.6.8.8.5.9.5 1-.2 1-.2 1 0 .8.6.4.9 0 1M76.1,36.6l0-1 0-1 .3-1 .2-.9.1-1 .4-.9.9-.6.9-.3M38.5,44.7l.8-.6.9-.5.9-.4.6-.8.5-.9.4-.9.2-1-.1-1-.5-.8-.8-.5M39.9,53l-.4 1-.8.6-1 0-.9-.2-1 0-.9.4-.7.7-.4 1-.5.9-.6.7M53.4,27.6l-.9-.5-1 0-1 .1-.9-.4-.8-.5-.8-.7-.5-.9-.4-.9-.6-.8-.9-.3M38.4,35.5l1 .4.9.1 1 0 1 0 1 .2 1-.3.8-.6.2-1-.3-.9-.8-.6M47.7,72.3l.4-.8.1-1-.1-1-.1-1-.3-1-.7-.6-1-.4-1 .2-.7.7-.3.9M70.3,48.8l.6-.8.6-.8.8-.6.8-.6.8-.6.8-.6 1-.1.9.4.8.6.7.8M19.7,19.9l-.4-.9-.5-.9-.5-.9-.6-.7-.8-.6-1-.4M26.5,19.1l0 1-.4.9-.8.6-1 .1-.9-.4-1-.4-1 0-.9-.2-1-.2-1-.1M72.2,26.6l.3 1-.2.9-.8.7-.9.4-.8.7-.5.8-.5.8-.6.9-.4.9-.1 1M64.7,40.8l-.6-.8-.5-.9-.7-.7-.7-.7-.9-.4-1-.3-.6-.8-.6-.8-.6-.8-.3-1M34,38.1l.7.7.8.6.9.4 1 .3 1 .1.9.3.8.7.2.9-.2 1-.8.6M32.5,18.1l1 .3.6.7.2 1-.3 1-.1 1-.1 1 0 1 .5.8.9.4 1 .2M42,75.9l.5.9 0 1-.3.9M30.9,74.9l.6-.8.7-.7.8-.6.7-.6.9-.5.9-.5.8-.6.9-.5.8-.5.9-.5M39.7,55l-1-.2-.9-.5-.8-.6-.7-.8-.2-.9-.1-1 .1-1-.3-1-.1-1 .1-1M36.3,60.1l-1 .1-.8.6-.3.9 0 1 .1 1-.1 1-.4.9-.9.5-1 0-.8-.6M56,36.5l.9-.5.4-.9-.1-1-.3-.9-.7-.7-1-.4-1 .1-.9.4-.9.4-.7.7M47.2,20.7l-.1 1 .1 1-.2 1-.7.7-.9.3-1 .3-1-.2-.8-.6-.3-1 0-1M40.5,29.4l-.8.7-1 .1-.9-.4-.6-.9-.3-.9 0-1-.2-1 0-1 .4-.9.6-.8M37.4,23.1l-.2-1-.5-.9-.8-.6-1 0-1 .3-1 .2-.9.5-.4.9-.1 1 .4.9M13.6,47.6l.3.9.6.8.8.7.9.3 1 .2.9-.4.5-.8.3-1-.2-1-.7-.7M48.6,20.1l.2 1 .2 1-.3.9-.8.7-1 .1-.9-.4-.5-.8-.1-1 .5-.9.8-.5M62.3,55.2l.8.7.5.8-.1 1-.7.8-.6.8-.6.8-.2 1 0 1-.1 1 .4.9M36.5,21.2l1-.3.9.2.7.8.3.9.1 1-.3 1-.5.8-.6.8-.5.9 0 1M23.1,28.4l-.8-.6-.8-.6-.6-.8-.5-.9-.2-.9.3-1 .8-.6.9-.2 1 0 1 0M42.6,36.6l.3 1 .3 1 0 1-.3.9-.3.9-.4 1-.3.9.1 1-.2 1-.5.9M41.2,52l-.9-.5-.9-.3-1-.3-1-.1-1-.2-.9-.3-.9-.5-.9-.3-1 0-1 .3M78.5,47.2l.5-.8.5-.9.1-1 .1-1 .1-.9.2-1 .1-1 .4-1-.1-1-.3-.9M62.5,23.6l.7-.8.5-.9.2-.9 0-1-.2-1-.4-.9-.7-.8-.9-.3-1 .3-.6.8M14,30.1l-.5.9-.1 1 .4.9.4.9.6.8 1 .3.9-.3.7-.8 0-1-.5-.8M47.2,46.3l-1 .3-.8.6-.5.8-.4.9-.2 1 0 1 .3 1 .6.8.6.7.9.5M41.2,32.9l.4 1 .6.7 1 .5.9.2 1 .1.9.4 1 .2 1 0 1-.1 1-.1M24.8,62.8l1-.3.9.4.6.8 0 1-.4.9-.5.8-.6.9-.4.9-.5.8-.8.6M48.6,36.6l.5-.9.5-.9.9-.4 1-.1.9.4.9.5.9.1 1-.4.5-.8.3-.9M17.9,65.5l-.9-.1-1 .3-.7.8-.1 1M36.6,20.3l-.4.9-.2 1 .2 1 .7.7 1 .1.9-.3.9-.5.6-.8.2-1-.5-.9M70.1,57l.3 1 .4.9.4.9.6.8.9.5 1 0 .9-.2.8-.7.4-.9-.1-1M45.4,48.9l.7.7.5.8.6.8.7.8.6.8.2.9-.4 1-.8.5-1 .1-.8-.6M31.5,50.1l-.8-.6-.3-1-.2-1 .3-.9.7-.7 1-.2.9.5.5.8.2 1 .1 1M22.3,13.6l-1 0-1-.2-.8-.6M66.3,19.6l.8.5 1 .2 1 .1 1-.2 1-.2.7-.6.3-1M49.3,34.2l-.7.6-1 .1-1-.3-.7-.8-.2-.9.3-1 .5-.8.4-1-.1-1-.1-1M42.5,25.2l-.9-.4-1 .2-.7.8-.2 1 .5.9.8.5 1-.1.8-.6.3-1 .2-.9M74.4,55.4l-.9.3-.6.8-.1 1 .5.9.9.5 1-.2.8-.5.8-.6.4-.9 0-1M57,18.1l1 .3.8.5 1 .4 1 .1.9-.4.9-.4.9-.3.9-.4.7-.7.9-.6M35.6,48l-.9-.2-1-.2-1-.4-.8-.5-.5-.9-.1-1 .1-1-.4-.9-.7-.8-.8-.5M50.2,38.7l.7.7.9.4 1 .2 1 .1 1-.1.9-.2.8-.7.6-.8.9-.4 1-.2M31.4,67.8l.8.5.7.7.7.7.3 1-.2 1-.6.8-.9.3-1-.1-.7-.7-.3-1M77.3,41.8l.9-.4 1 .1.7.7.5.9.2.9.2 1M32,66.4l-.5.9-.9.6-1 .1-.9-.4-.7-.7-.1-1 .4-.9.8-.5 1 0 .8.6M41.8,59.4l1 0 1 .1 1 .2 1 .2.9.3 1 .3.7.7.4 1 .2 1 .4.9M51.5,34.1l.7-.8 1-.3 1 .2.7.6.3 1-.3.9-.8.7-1 0-.8-.5-.5-.9M63.4,39.2l0 1-.2 1-.8.6-.9.2-1-.4-.5-.8.1-1 .5-.9.7-.6 1-.1M44.1,74.3l.2 1 .6.7.8.7 1 .1.9-.3.9-.5.7-.7.5-.9.2-.9-.2-1M68.9,48l-.2 1-.1 1-.4.9-.3 1-.7.7-1 .1-.9-.4-.5-.9.1-1 .6-.8M44.2,64.2l-.2-.9.1-1 .7-.7.9-.4 1-.4.9-.4 1-.2.9-.4.5-.8.4-1M14.3,33.4l.8.6.7.7.1 1-.4.9-.9.5-1-.1-.9-.4-.6-.8-.1-1 .5-.9M54.8,38.8l-.1-1-.5-.8-.8-.5-1-.2-.9.5-.6.8.1 1 .6.8.9.4 1 0M60.9,56.7l0 1 .6.9.8.6.9.2 1-.1 1-.2.9-.4.8-.6.7-.7.7-.7M17,53.5l-.9-.4-1-.1-1 .3-.8.5-.9.5-.9.5-1 .2-1 .1-1 .1-.9.4M33.7,36l-1-.2-1 .1-1 .2-1-.1-.9-.3-.7-.7-.7-.8-.6-.8-.6-.8 0-1M31.8,18.9l-.3 1 .4.9.7.7 1 .3.9-.3.6-.8.1-1-.5-.8-.8-.6-1 .1M75.5,49l.5.9.2 1 0 1-.2.9 0 1 .5.9.7.7.7.7M55.5,22.9l-.5-.9.1-1 .7-.7 1-.3.9.4.7.7.1 1 .1 1 .2 1-.2.9M50.2,10.6l-.8-.7-.9-.4-1-.2-.9.3-.7.8 0 1 .5.9.5.9.3.9.2 1M51.8,57.6l-.3-.9-.2-1 0-1-.3-1-.2-.9 0-1 .1-1 .2-1 .5-.9.5-.8M14,62.6l-1 .2-.9-.3-.7-.8-.6-.8-.4-.9 0-1 .3-.9.7-.8.9-.3 1-.2M40.8,12.9l0 1 .2 1 .2.9-.3 1-.8.6-.8.6-.9.5-.6.7-.4 1 0 1M34.2,60.5l-.8.6-1 .2-.9-.5-.4-.9 0-1 .3-.9.6-.8.8-.6 1-.3.9.2M26.9,37l.2 1 .8.6 1 .2.9.1.9-.5.5-.9-.1-1-.6-.8-.8-.6-.7-.7M58.6,16.6l-1 .4-.9.4-.8.5-1 .3-.9.3-.9.4-.8.6-.9.5-1 .3-.8.6M43.7,61.2l-.9.6-.6.7-.2 1 .1 1 .4.9.7.8.7.6.9.5 1 .1 1-.2M31.3,37.8l-.2-1 .3-.9.7-.8.7-.7.7-.7.9-.4 1 .1.8.6.5.9.1 1M37.1,38.9l-1 0-1-.1-.9-.4-.5-.8 0-1 .6-.9.8-.5.8-.7.9-.2 1-.1M76,39.8l0-1-.3-.9-.5-.9-.7-.7-.9-.4-1 0-.8.5-.4.9.2 1 .6.8M61.1,18.8l-1 .2-.8.6-.2 1 .1 1 .3 1 .8.6.8.6.9.5.9.2 1 .2M63.7,49.6l.2 1-.3.9-.9.6-.8.5-1 .4-.8.5-.7.7-.9.4-1 .2-.9-.4M73.4,36.7l1 .2 1-.1 1-.2.9-.3 1 .2.8.6.6.7.6.9.6.8M34.1,39.5l.8-.5 1-.4.9-.2 1-.3.7-.7.5-.9.2-1 .2-1 .7-.7.9-.4M55.3,19.9l.9-.3 1 .2.8.6.8.6.8.6.6.8.3.9.1 1-.1 1 0 1M42.3,13.9l0 1-.2 1-.5.9-.9.4-1 0-.8-.5-1-.4-.9-.3-1 .1-1 .4M56.1,21.9l.1-1 .1-1-.2-.9.1-1 .3-1 .5-.9.6-.8.9-.3 1 .3.6.7M53.7,46.6l.5.9.1 1-.5.9-.9.4-1-.2-.8-.6-.4-.9-.3-1-.1-1-.1-1M63.8,19.3l-.9-.5-.5-.9.1-1 .6-.8.8-.5 1-.3 1 0 .8.6.3 1-.1 1M57.8,56.9l-.6-.8-.9-.4-1 .2-.9.5-.5.8-.1 1 0 1 0 1 0 1 .2 1M45,24.9l.7-.7.9-.4 1-.1 1-.2 1-.3.5-.8.3-1-.1-1-.5-.8-.9-.5M46.1,42.1l-.2 1-.8.7-.9.1-.9-.5-.5-.8.1-1 .6-.8.8-.6 1 0 1 .4M17.3,42.4l1 .2 1 .1 1-.1.7-.7.2-1-.3-.9-.8-.6-1-.2-1 .3-.6.8M53.2,39.3l-.7.7-.9.4-1 0-.8-.6-.9-.5-.9-.4-.8-.5-.7-.8-.5-.8-.6-.8M46.5,25.2l-.7-.7-1-.1-.9.5-.4.9-.2 1 .3.9.6.8 1 .4.9-.2 1-.4M65.4,66.9l-.6-.9 0-1 .2-.9.2-1-.1-1-.3-.9-.4-1-.6-.7-1-.4-.9-.2M49,31.9l.9.3 1 0 1 .3 1 .3.8.5.6.9.5.8.5.8.2 1-.3 1M42.9,41.6l.9-.5 1 0 .9.3 1 .3 1 .2.9.3 1 0 1-.3.7-.7.4-.9M55.3,28.5l.5-.8.6-.9.2-.9-.4-1-.7-.6-1-.1-.9.5-.5.9 0 1 .3.9M19.6,59.6l.9.4 1-.3.6-.8.6-.8.1-1-.1-1-.3-.9-.2-1 0-1 .4-.9M59.4,70.6l-.4-1-.8-.5-1 .1-1 .3-.6.8-.1 1-.1 1-.3.9.1 1 .4.9M14.9,23.7l-.9.2-.9.5-.7.8-.4.9 0 1 .7.7.6.8.4.9.2 1-.1 1M39.7,32l.8.7.2 1-.4.9-.6.8-.8.6-.8.5-1-.1-.8-.5-.6-.9-.2-.9M27.7,12.2l1 .1.9.2 1 .1 1 .2.9-.4.7-.8.4-.9.1-1-.1-1-.2-1M56.5,72.7l.5-.8.1-1-.3-1-.5-.9 0-1 .6-.8.9-.5.9-.4 1 .1.8.6M45.8,42.6l-.3.9-.7.8-.9.4-.9.4-.9.3-1 .2-1-.1-1-.3-.9-.5-.6-.8M28.9,52.3l.8-.6.3-1 .1-1 .2-1 .6-.8.8-.6 1 0 .9.4.8.6.7.7M31.7,18.2l.3.9.7.7.8.6.9.5.8.6.7.7.7.7.1 1-.5.9-.9.4M29.7,43.1l-.8.6-.6.8-.4.9-.5.9-.5.8-.4.9-.7.7-.9.6-.9.4-.8.5M51.8,61.1l-.1 1-.2 1-.4.9-.1 1 .3.9.9.6.8.6.7.7.7.7.7.7M57.5,18.4l-.7.8-.9.4-1-.2-.7-.8-.5-.8-.3-.9-.2-1-.4-.9-.4-1-.5-.8M33.7,59.6l.8.6.9.5 1 .1 1 0 1-.2.9-.1 1-.1 1 .1 1 .3.7.7M22.4,18.9l-.9-.4-1-.2-.9-.3-.9-.5-.9-.3-1-.3-.8-.6M22.2,17.5l.6-.8 0-1 0-1 .1-1 .6-.8.9-.4 1 .1.8.5.8.6.9.6M24.2,47.6l.6.8 0 1-.5.8-.8.6-1 0-.9-.6-.4-.9.1-.9.4-1 .4-.9M32.6,18.1l1 .3.9-.3.8-.6.3-1-.3-1-.4-.8-.6-.9-.9-.5-.9-.3-1-.1M28.4,34.8l.6.7 1 .3.9.3 1 .2 1 0 1 0 1 .3.7.7.3 1-.3.9M12.7,56.2l.7-.8.4-.9.4-.9.6-.8.7-.7.6-.8.7-.7.4-1-.1-1-.4-.9M45.9,71.6l1-.4.7-.7.7-.7.8-.6 1-.2 1-.1.9.3.8.6.7.7.5.9M40.5,38.3l1 .1.9.3.9.5.6.8.3.9 0 1-.5.9-.6.8-.8.5-1 0M20.7,36l-.9.5-1-.1-.8-.6-.2-1 .3-.9.6-.8.9-.4 1-.2 1-.1.9.3M55.1,26.4l-.6.9-.7.6-1 .1-.9-.5-.6-.8-.1-1 .5-.9.9-.4.9.1 1 .4M13.2,30.7l-1 0-1-.4-.5-.8-.2-1-.3-1-.3-.9 0-1 .4-.9.6-.8.7-.7M34.4,28.5l-.5.8-.3 1 .2 1 .6.8.6.8.4.9.8.7.9.3 1-.1.9-.5M72.6,57.8l-1-.2-.9-.4-.4-.9-.3-1-.1-1-.3-.9-.5-.9-.6-.8-.5-.9-.9-.5M37.1,46.3l-.6-.8-.7-.7-1-.3-1 0-1-.2-.9-.4-.8-.5-.6-.8-.4-1 .3-.9M64.3,30.1l.5.8.7.8 1 .2.9-.3.6-.8.5-.9.5-.8.6-.8.7-.8.8-.6M48.9,47.2l-1 .4-.5.8-.1 1 .5.9.9.4.9.2 1-.2.8-.6.9-.5.8-.5M41.5,13.7l-.9.5-1 .2-1 .1-.9.5-.5.8.1 1 .3 1 .3.9.8.7.9.2M39.1,15.8l.1 1-.2.9-.8.7-.9.4-.8.6-.4.9-.1 1 .1 1-.1 1-.3 1M58,24.9l-.9.4-.9.3-1 .1-1 .2-1 .4-1 0-1-.1-.9-.2-1-.1-1 0M45.8,14.3l-.1 1-.4.9-.8.6-.8.6-1 .2-1 .2-1 .2-1-.1-.9-.3-.9-.5M51.2,71.6l-.8.4-1-.1-.8-.6-.6-.8-.6-.9-.8-.5-1-.2-.9-.4-1-.1-.9.3M37.7,55.9l-.6-.8-.4-.9-.3-1 .2-1 .6-.8.8-.5.9-.5.9-.5.9-.4 1-.2M27.5,71.9l-.9-.6-.4-.9.2-1 .3-.9.1-1 .4-.9.4-.9.7-.8 1-.2.9.3M37.8,26.1l.7-.7 1-.1.9.4.7.8.7.7.5.8.6.9.5.8.7.7.5.9M26,35.9l.9.4.8.5.7.8.3.9.2 1 0 1-.2 1-.6.8-.9.5-.9.1M45.3,60.7l-.9.4-.7.7-.6.7-.1 1 .4 1 .8.6.9.3 1-.1.9-.4.8-.6M53.1,13.4l.8-.5.9-.6.8-.5.8-.6.9-.4 1 .1.8.7.2.9-.2 1-.3.9M49.1,27.4l.8-.6.4-.9-.3-1-.7-.7-.9-.3-1 .3-.9.5-.6.8-.6.8-.8.5M43.4,59l-1-.1-.9.2-.7.7-.2 1 .3 1 .2.9.2 1 .1 1 .4.9.5.9M57.9,54.3l.6-.8.7-.7.8-.5 1-.2.9.5 1 .2 1 0 1-.2 1 0 1 .2M48.2,15.9l0-1 .1-1 .5-.8.8-.6 1 0 .9.4.9.5 1 .1.9-.5.9-.3M53.9,39.7l-.4.9 0 1 .4 1 .6.7.9.5 1 0 .9-.3.8-.7.6-.8.4-.9M47.3,22l.2.9.5.9.8.7 1 .1.9-.2.9-.5.8-.5.9-.5.7-.7.6-.8M73.6,36.8l-.3.9-.1 1-.4.9-.6.9-.7.6-.8.6-.9.5-.9.5-.8.5-1 .2M42.9,44.1l-.9.4-.8.7-.6.8-.1 1 .3.9.7.7 1 .2 1-.1 1-.1 1 0M63.1,25.5l.5.9.3.9.6.8.8.5 1 .2 1-.3.7-.7.4-.9.2-.9-.3-1M35.7,44.2l1-.1.9.4.4.9-.1 1-.5.9-.8.6-.9.3-1-.3-.7-.6-.7-.8M22.8,17.7l-.5.9 0 1 .4.9.7.7.4.9-.1 1-.5.9-.9.5-1 .2-.9-.2M24.2,56.4l.6-.9.2-.9-.5-.9-.8-.6-1-.1-.8.5-.8.7-.6.8-.2.9.3 1M20.8,16.9l.3-.9.1-1-.2-1-.6-.8-.9-.4M54.9,72.4l-.1-1 .1-1 .6-.8.9-.3 1 .1 1 .4.8.5.6.7.7.8.8.6M47.9,50.3l-.4.9-.3.9-.1 1 0 1 .2 1 .3.9.6.8.9.5.9.4.9.4M66.9,36.7l-.5-.9-.2-1 0-1-.2-1-.3-.9-.5-.9-.8-.6-.8-.6-.8-.6-.7-.8M27,11.7l.1 1-.5.9-.7.7-1 .1-.9-.4-.5-.8.1-1 .1-1 .1-1M65.9,26.5l-.4-.9-.5-.9-.9-.5-.9-.2-1 .1-.9.6-.4.9 0 1 .4.9.6.8M12.3,39.4l-1 .1-1 .3-.6.7-.5.9-.2 1-.2.9 0 1 0 1-.5.9-1 .3M30.8,35.9l1 .1 1 0 .8-.6.4-.9-.2-1-.6-.7-1-.4-1 .2-.7.7-.2.9M43.1,60.5l.8.7.4.8.4 1 .6.8.8.6.6.7.1 1-.5.9-.9.4-.9.3M53,50.4l1-.1.8.5.6.8 0 1-.5.9-.9.5-.9-.1-.8-.7-.5-.8-.7-.8M27.6,62.4l-.9-.5-.7-.7-.2-.9-.1-1 .2-1 0-1-.2-1-.2-1-.4-.9-.8-.5M65.9,62.9l-.1 1 .3 1 .7.7.7.7.6.8.8.6 1 0" fill="none" stroke="#fff" stroke-width="0.9" stroke-linecap="round" stroke-linejoin="round" opacity="0.24" filter="url(#b5)"/>
</g></g>
<rect x="35.1" y="386.4" width="85.7" height="86.1" fill="#242424"/>
<g clip-path="url(#k9)"><g transform="translate(35.1 386.4)">
<ellipse cx="30" cy="52" rx="10" ry="10" transform="rotate(0 30 52)" fill="url(#rg)" opacity="0.05" filter="url(#gb)"/>
<path d="M42.3,37.1h.1M21.2,56.3h.1M40.2,56.8h.1M59.3,61.4h.1M19.3,58.3h.1M45,32h.1M55.9,27.8h.1M55.3,43.3h.1M44.5,25.6h.1M22.6,59.7h.1M62.2,28.2h.1M21.5,72.4h.1M21.7,47.2h.1M51.2,28.1h.1M25.3,36.6h.1M60.4,55h.1M62.4,62.3h.1M48.5,62.4h.1M13,40.4h.1M54.9,65h.1M33.4,21.4h.1M27,70.2h.1M32.2,31h.1M19.2,38.5h.1M53.3,48.7h.1M28.1,58.9h.1M55.5,41.6h.1M24.5,26.9h.1M28.6,59.5h.1M24.9,33.5h.1M46.2,65.9h.1M40.5,64.1h.1M42.2,57.4h.1M41.8,71.7h.1M57.2,26.1h.1M60.3,58.3h.1M19.9,66h.1M51.1,53.3h.1M25.6,20.3h.1M43.6,24.1h.1" stroke="#fff" stroke-width="0.5" stroke-linecap="round" opacity="0.1"/>
</g></g>
<rect x="123.6" y="386.4" width="86.5" height="86.1" fill="#242424"/>
<g clip-path="url(#k10)"><g transform="translate(123.6 386.4)">
<ellipse cx="43" cy="45" rx="38" ry="38" transform="rotate(0 43 45)" fill="url(#rg)" opacity="0.06" filter="url(#gb)"/>
<path d="M46.1,11.2h.1M64.6,39.5h.1M34.8,34h.1M4.7,34h.1M11.7,43.7h.1M3,55.5h.1M12.3,60.2h.1M71,24h.1M59.6,49h.1M64,15.1h.1M38.8,18.3h.1M84,41.5h.1M76.6,62.5h.1M36,23.3h.1M28.8,17.4h.1M36.7,14.1h.1M18.5,64.7h.1M35,12.6h.1M33.9,27.6h.1M19.8,13.6h.1M55,17.2h.1M29.6,59.9h.1M17.8,52.4h.1M42.4,83.5h.1M36.4,9.7h.1M9.7,22.4h.1M53.6,77.1h.1M70.6,13.5h.1M59.3,64.1h.1M75,60.5h.1M38.5,58.6h.1M55.2,81.1h.1M42.2,23h.1M20,66h.1M42.2,12.5h.1M71.2,52.4h.1M59.4,77.8h.1M57.8,6.3h.1M59.3,29.1h.1M31.7,72h.1M77,50.3h.1M61.7,26.5h.1M15.9,46.3h.1M29.7,46.4h.1M61,45.2h.1M65.8,24.1h.1M9.3,66.7h.1M77.6,61.4h.1M74.5,71.8h.1M8.4,30h.1M46.2,16.1h.1M53.2,58.3h.1M6.3,50.5h.1M53.8,83.7h.1M38.2,9.8h.1M28.4,59.9h.1M27.7,47.6h.1M55,57.2h.1M16.6,70.4h.1M24.2,13.4h.1M77.4,45.6h.1M4.3,39.6h.1M83.5,54.8h.1M23.6,14.5h.1M41.6,9.9h.1M53.1,70.7h.1M27,14.9h.1M19.2,51.7h.1M78.5,24.6h.1M54.9,57.1h.1M57.2,62h.1M63.1,80.5h.1M42.6,15.3h.1M28.7,43.1h.1M33.2,4.4h.1M48.9,21.1h.1M19.5,42.1h.1M33.4,31.7h.1M24.9,34.5h.1M12.3,23.7h.1M70.8,31.6h.1M55.7,10.7h.1M52.3,48.4h.1M72.2,63.3h.1M61.9,34.2h.1M16.6,62.2h.1M47.2,39.4h.1M60.1,28.9h.1M48.6,77.7h.1M65.3,33.7h.1M59.7,35.6h.1M69.9,45.7h.1M8.5,24.3h.1M67.9,75.7h.1M60.9,26.6h.1M71.4,18.6h.1M31,78.8h.1M50.2,56h.1M71.3,39.8h.1M22.8,64.2h.1M31.5,63.3h.1M45.3,82.3h.1M40.1,26.9h.1M32,59.5h.1M69.4,76.5h.1M33,51.1h.1M47.2,49.1h.1M75.9,25h.1M22.9,49.2h.1M17.3,39.7h.1M41.3,74.9h.1M79.2,64.9h.1M60.4,69.7h.1M34.3,52.4h.1M64.6,46.6h.1M26.4,66.2h.1M51.9,54.4h.1M31.2,28.2h.1M36.4,64.1h.1M20.6,22.9h.1M32.1,11.8h.1M64.8,16.5h.1M67.8,26.5h.1M43.6,84.1h.1M20.6,40.4h.1M59.4,74.2h.1M35.4,80.8h.1M71.6,43.5h.1M72.8,55.3h.1M34.9,67.3h.1M24.4,23.2h.1M43.9,77.8h.1M46.2,36.8h.1M68.2,19.2h.1M36.8,31.2h.1M28.5,26.4h.1M56.1,69h.1M53.7,71.9h.1M66.1,44.7h.1M35.2,40.9h.1M48.1,16h.1M28.7,80.5h.1M51,34.9h.1M13.2,25h.1M55,40.8h.1M46.3,31.3h.1M40,83.6h.1M37.4,12.5h.1M59.8,42.7h.1M19.8,10.2h.1M56.2,60.3h.1M28.1,77.2h.1M42.1,55.5h.1M46.6,28.8h.1M35.8,32.1h.1M66.3,17h.1M45.9,42.3h.1M82.1,56.8h.1M18.6,22.2h.1M13.5,26.6h.1M34.1,82.9h.1M63.1,13.4h.1M14.6,24.5h.1M28.9,33.7h.1M79.3,53.2h.1M24.5,16.9h.1M31.3,76.2h.1M71.5,69.7h.1M57.9,66.3h.1M50,43.8h.1M58.6,62.7h.1M37.4,14.9h.1M56.1,82.7h.1M16.7,55.8h.1M55,13.5h.1M16.2,70h.1M74.5,19.7h.1M19.4,59.2h.1M51.2,45.8h.1M77.6,54.6h.1M80,33.2h.1M55.1,83h.1M71.8,22h.1M54.6,38.9h.1M3.3,56.4h.1M21,65.2h.1M58.4,27.6h.1M18.3,22.2h.1M53.6,78.2h.1M61,37h.1M51.1,84h.1M14.3,23.2h.1M57,52h.1M31.7,8.5h.1M66.4,71h.1M9.3,61.4h.1M82.9,44.1h.1M44.6,9.6h.1M7.2,38.8h.1M20.1,72.8h.1M58,9.3h.1M26.9,47.1h.1M33.7,10h.1M33.4,78.6h.1M56.4,49.2h.1M40.2,19.4h.1M35.4,27.9h.1M14.5,74.6h.1M66.3,22.3h.1M37.1,56.8h.1M57.5,28.3h.1M16.9,17.8h.1M68.9,34.6h.1M72.8,39.4h.1M52.8,25.6h.1M47.1,16.2h.1M63.3,16.2h.1M21.5,54.3h.1M19.6,22.6h.1M11.6,63.7h.1M62.1,47.4h.1M19.6,68.7h.1M37.3,24.8h.1M13.8,29.1h.1M8,53.2h.1M17.1,46.7h.1M53.3,45.5h.1M71.2,68.1h.1M15.5,75.8h.1M30.5,5.3h.1M55,68.2h.1M37.1,54.5h.1M40.2,20.4h.1M12.5,67.4h.1M67.8,17.8h.1M13.9,49.3h.1M20.7,30.1h.1M51.2,12.7h.1M2,40.2h.1M31.8,11.5h.1M60.7,64.6h.1M38.8,42h.1M16.1,13.6h.1M61.8,52.6h.1M41.6,23.8h.1M47.5,66h.1M28.8,33.2h.1M63.4,81.4h.1M79.3,41.9h.1M29.6,49.8h.1M63.2,59.4h.1M58.6,82h.1M34.1,28.3h.1M55,83.7h.1M29.2,75.5h.1M68,58.8h.1M38.9,58.1h.1M82.9,56.9h.1M4.8,35.1h.1M7.1,24.3h.1M62.4,53.3h.1M76,56.9h.1M52.2,8h.1M44.2,29.6h.1M79.7,49.5h.1M61.8,61h.1M39.3,49.8h.1M34.4,69.1h.1M72.3,46.3h.1M52.2,24.8h.1M13.2,30h.1M24.9,55.3h.1M31.4,63.9h.1M31.1,47.5h.1M11.5,68.6h.1M54,33.4h.1M29.8,6.6h.1M22.5,66.4h.1M50.6,36.8h.1M49.2,79.2h.1M28.4,13.1h.1M34.4,17.8h.1M57.4,14.3h.1M71.7,32.8h.1M67.6,26.8h.1M44.7,48h.1M38.6,34.9h.1M7.1,25.3h.1M24.1,34.8h.1M60.3,66.4h.1M41.7,57.9h.1M23.5,13.6h.1M38,15.1h.1M24.3,11.3h.1M35,22.3h.1M70.6,41.4h.1M32.7,15.2h.1M40.2,5h.1M26.8,72.2h.1M70.5,17.4h.1M20.7,36.4h.1M56.5,80.8h.1M61.8,36.9h.1M59.8,71.5h.1M41.7,12.9h.1M28,62.9h.1M46.4,47.2h.1M6.8,46.5h.1M32.9,18.4h.1M39.6,45.4h.1M78.4,23h.1M70.7,66h.1M58.5,55.7h.1M25.9,69.9h.1M50.6,11.3h.1M57.9,21.3h.1M70,21.9h.1M44.7,19.7h.1M46.2,37.2h.1M50,39.3h.1" stroke="#fff" stroke-width="0.55" stroke-linecap="round" opacity="0.15"/>
</g></g>
<rect x="217.5" y="386.4" width="86.3" height="86.1" fill="#242424"/>
<g clip-path="url(#k11)"><g transform="translate(217.5 386.4)">
<ellipse cx="45" cy="45" rx="25" ry="32" transform="rotate(0 45 45)" fill="url(#rg)" opacity="0.03" filter="url(#gb)"/>
<path d="M38.7,45.5h.1M61.9,63.8h.1M35.9,27h.1M40.1,15.1h.1M33.2,46.1h.1M56.4,30.8h.1M26.5,50.8h.1M41.2,69.3h.1M33.5,13.9h.1M31.2,53.6h.1M40.1,55h.1M44,29.6h.1M61.3,12.9h.1M64.4,28.4h.1M68.8,28.5h.1M47.4,72.9h.1M57.7,48.1h.1M16.9,56h.1M44.5,48.1h.1M15,38.2h.1M49.2,76.8h.1M26.8,62.2h.1M14.1,54.9h.1M50.4,31.5h.1M47.9,14.1h.1M44.9,55.5h.1M39.5,24.2h.1M18.6,33.2h.1M61,32.5h.1M64.4,39.3h.1M34.5,23.3h.1M51.5,32.7h.1M42.5,10.3h.1M41.6,62.4h.1M33,12.6h.1M65.8,39.5h.1M53.3,31.5h.1M23.1,27.7h.1M47.8,30.6h.1M48.6,44.1h.1M37.4,60.4h.1M48.9,47.7h.1M50,50.1h.1M34.2,70.9h.1M66,74.7h.1M51.3,81.1h.1M59.3,68.6h.1M60.9,13.2h.1M23.2,51.1h.1M45.1,6.2h.1M63.5,58.1h.1M51.2,25.1h.1M45.7,67.2h.1M34.8,69.2h.1M32.4,43.9h.1M44.7,69.8h.1M63.2,65h.1M45.2,30h.1M61.1,62.6h.1M19,53.1h.1" stroke="#fff" stroke-width="0.5" stroke-linecap="round" opacity="0.1"/>
</g></g>
<rect x="306.2" y="386.4" width="86.6" height="86.1" fill="#242424"/>
<g clip-path="url(#k12)"><g transform="translate(306.2 386.4)">
<ellipse cx="42" cy="45" rx="36" ry="36" transform="rotate(0 42 45)" fill="url(#rg)" opacity="0.1" filter="url(#gb)"/>
<path d="M70.5,60.2l-1 .4-.9.2-1 .4-.9.3-.9.3-1 .2M46.5,33.6l-.2 1-.4.9-.5.9-.9.4-1-.1-.9-.2M31.9,43l-.2-1 .4-.9.6-.8.8-.7.9-.1 1 .3M64,74.5l.9-.5 1 .1.8.6.3.9 0 1M28.8,64l-.8-.7-.8-.5-1-.3-1 .1-.8.6-.3 1M49.4,51.7l.8-.7.3-.9-.1-1-.4-1-.9-.5-1 .1M23.8,43.9l-.9-.3-.9-.6-.8-.5-1-.3-.9.3-.9.5M43.9,11l-.3 1-.2 1 .1 1 .3 1 0 1-.4.9M70.5,67.6l.9.2 1-.3.7-.7.3-1-.1-1-.6-.8M35.4,51.2l-1 .3-.7.7-.2 1-.1 1-.5.9-.7.7M35,34.7l.4.9-.2 1-.2.9-.3 1-.6.8-.7.7M9.9,46.9l.4.9.5.9.4.9.3.9.6.9.6.8M15.7,38.3l-.7.8-.3 1 .3.9.5.8.9.6.9.2M61.4,16.1l.8-.7.7-.7.5-.8.7-.8.8-.5.9-.5M65.7,60.1l-1 0-1 0-1 .2-1-.1-1-.3-.6-.8M33.8,79.3l1-.3.8-.5.8-.7.7-.7.1-1-.4-.9M50.2,43.5l1 .4.9-.3 1-.4.8-.5.7-.7.4-.9M32.2,16.8l-1 .1-.8.6-.3 1 .1 1 .2.9.3 1M37.1,66.1l-.9-.5-.4-.9-.4-.9-.1-1 0-1 .6-.8M26,30.8l.1-1 .4-1 .5-.8.7-.7.7-.8.6-.7M40.7,74.9l-.8.6-.4.9.2 1 .7.7.6.8.5.9M45.8,32.9l.6.8.6.8.8.6 1 .1.9-.4.6-.8M18.6,29.8l-1 .1-.9-.5-.5-.9.1-1 .6-.8 1-.3M37.9,44.5l-.3-1-.5-.9-.5-.8-.5-.9-.5-.8-.2-1M35.9,10l-1-.1-1-.2-.9-.3-.9-.5-.5-.8.1-1M47.4,37l-.6.8-.2 1 .3 1 .9.5 1 0 .9-.1M73.4,49.9l-.4.9.3 1 .6.8.8.5 1 0 .8-.5M58.8,52.1l-.9.5-.4.9-.3 1 0 1 .1 1 .7.7M69.9,52.7l.4-.9.1-1-.5-.9-.5-.8-.7-.7-.8-.7M18.8,17.5l.8-.6.9-.5 1-.1 1 .1.7.7.4.9M29.6,60.3l.1 1 .2 1 .1 1 .1.9.6.9.9.4M63.3,23.1l.5.8.5.9.2 1 0 1-.1 1-.1 1M77,44.2l1 .1.9.5.7.7.5.8 0 1-.6.8M36.7,15l-1 .2-1 .1-.9.4-.5.9.1 1 .6.8M59.6,66l-.8-.6-1-.1-.9.3-.9.4-1 .4-.7.6M35.9,57.3l.3.9-.1 1-.7.8-.8.5-.8.6-.8.6M64.9,41.7l-.7-.7-.6-.7-.5-.9-.3-1 .2-1 .3-.9M57.5,45l.9.5.8.6 1 .3.8.6.8.6.6.8M26.3,43.1l-.4-.9-.8-.7-.7-.6-.9-.6-.7-.6-.9-.6M68.9,67.4l-.1-1 .1-1-.2-1-.5-.9-.6-.7-.9-.6" fill="none" stroke="#fff" stroke-width="0.7" stroke-linecap="round" stroke-linejoin="round" opacity="0.14" filter="url(#b3)"/>
<path d="M74.1,44h.1M5.4,35.5h.1M7.3,38.3h.1M8.9,33.7h.1M26.3,57.7h.1M77.7,28.3h.1M76.3,42.9h.1M60.5,75.3h.1M51.6,20.6h.1M56,8.8h.1M38.8,19.2h.1M20.8,26h.1M48.7,61.3h.1M19.9,66.9h.1M52.9,7.8h.1M23.7,18.4h.1M39.2,41.3h.1M61,62.9h.1M40.2,53.6h.1M42.5,64.9h.1M21.4,46.1h.1M35.7,16.9h.1M71.5,40.3h.1M59.8,61h.1M9,57.1h.1M52.5,9.7h.1M25.1,79.9h.1M51.5,11.2h.1M45.8,13.3h.1M40.1,49.7h.1M17.7,20.9h.1M33.8,33.2h.1M61.7,23h.1M49.8,47.8h.1M31.9,42.4h.1M73.1,26.8h.1M39.1,49.4h.1M26.8,72.7h.1M66.5,20.7h.1M43,63.2h.1M21.4,36.4h.1M27.1,65.9h.1M35.5,53.8h.1M9.2,47.4h.1M20.8,52.5h.1M59.4,68.9h.1M52.7,45h.1M79.5,43.7h.1M56.4,15.2h.1M57.4,66.3h.1M30.1,19.6h.1M56.6,11.4h.1M2.7,38.3h.1M57.7,17h.1M50.5,30.7h.1M64.6,56.8h.1M35,27.4h.1M44.3,22.1h.1M30.6,17.5h.1M9.2,34.8h.1M6.4,42.8h.1M57.9,80.2h.1M57.7,22.7h.1M57.9,79.4h.1M54.8,72.8h.1M25.5,25.5h.1M54.3,52.1h.1M20.1,17.2h.1M34.3,70.3h.1M50.2,70.9h.1M39.6,31.4h.1M23.7,74.7h.1M77.9,43.1h.1M22.3,43.1h.1M35.6,40.7h.1M51.2,20.5h.1M17.2,23.5h.1M62.5,74.4h.1M24.6,76.7h.1M21.9,65.8h.1M47.5,53h.1M26.1,21.1h.1M40.9,52.4h.1M39.9,48.3h.1M4.8,55.4h.1M65,70.2h.1M12.7,68.6h.1M64.4,63.6h.1M7,64.1h.1M33.3,33.1h.1M58.2,70.5h.1M53.7,20.5h.1M30.3,56.8h.1M57.3,35.9h.1M34.3,49.4h.1M62.6,27.9h.1M55.8,37.5h.1M80.7,39.8h.1M43.2,11.5h.1M78.9,44.1h.1M49.6,23.4h.1M9.5,52.8h.1M42.6,26.6h.1M73.8,21.6h.1M3.3,47.6h.1M8.1,24.4h.1M60.2,36.9h.1M55.9,21.6h.1M18,62.3h.1M9.5,50.7h.1M38.3,51.7h.1M58.8,14h.1M41.6,33.8h.1M63.1,69.5h.1M50.7,77.4h.1M55.8,52.6h.1M21.4,73.1h.1M50.1,38.3h.1M30.4,35.8h.1M47.6,71.8h.1M45.1,47.5h.1M32.2,56.8h.1M53.6,60.8h.1M7.1,50.4h.1M77,48.4h.1M34.9,38.7h.1M25.4,80.1h.1M61.5,14.9h.1M31.5,9h.1M48.3,40.3h.1M31.9,56.1h.1M75.3,61.1h.1M48.5,24.2h.1M68,15.5h.1M47.1,59h.1M62.5,41.4h.1M34.4,46.3h.1M33.2,55.1h.1M23.4,54.9h.1M13.3,50.9h.1M44.6,73.4h.1M24.7,23h.1M55.4,44.4h.1M28.4,43.9h.1M51.6,16.1h.1M18.6,13.6h.1M51.6,69.8h.1M40.6,56.1h.1M20.9,49.8h.1M71.7,29.6h.1M13.1,56h.1M71.7,32.7h.1M41,17.3h.1M24.7,34.2h.1M59.4,55h.1M3.7,38.5h.1M57.6,54.6h.1M7.2,27.4h.1M59.8,13.3h.1M42.9,18.7h.1M45.9,6.1h.1M22.4,30.3h.1M68.8,72.3h.1M54.9,74.4h.1M79.8,37h.1M24.5,54.9h.1M26.5,70.2h.1M31.8,68.5h.1M41.2,80.9h.1M75.4,36.2h.1M30.3,32.1h.1M6.9,34.5h.1M34.5,78.7h.1M32,56.9h.1M69.1,41h.1M10.2,67.3h.1M23.8,68.4h.1M66.3,19.9h.1M13.4,57.7h.1M40.7,43.8h.1M43.7,26.2h.1M5.3,33.4h.1M16.1,45.9h.1M18.9,35.4h.1M32,21.9h.1M29.4,57.8h.1M21.1,44.5h.1M29.3,17.6h.1M59.2,35.6h.1M27.7,21.3h.1M39.1,71.6h.1M75.3,59h.1M19.7,41h.1M59.8,34.7h.1M36.2,27.2h.1M12.1,30.4h.1M25,37.8h.1M50.2,40.4h.1M48.6,22h.1M57.3,52.6h.1M11.4,25h.1M76,66.1h.1M27,44.4h.1M22.6,68.8h.1M75.4,64.2h.1M12,19.4h.1M20.8,43.4h.1M35,68.2h.1M18.6,64.1h.1M43.6,7.9h.1M62.5,15.8h.1M43.2,74.6h.1M27.3,62.6h.1M38,78.7h.1M62,52.3h.1M73.4,22.9h.1M34.3,65.4h.1M44.7,29.5h.1M11.8,48.8h.1M30.9,47.4h.1M62.7,14.7h.1M8.9,37.1h.1M7.7,39.9h.1M60.9,22.3h.1M54.3,17.8h.1M38.7,65.4h.1M37.6,57.4h.1M78.6,46.2h.1M20.1,58.9h.1M58.1,66.6h.1M15.8,71.2h.1M24.1,63.2h.1M62,66.8h.1M21.9,25.6h.1M55.9,29h.1M81.7,41.9h.1M30.9,48.6h.1M12.3,63.1h.1M67.2,73.6h.1M63.5,50.9h.1M40.8,34.4h.1M20.3,70.8h.1M35.1,53.8h.1M21.3,42h.1M13.7,46.6h.1M66.9,29.9h.1M50,72.5h.1M80.6,39.4h.1M51.4,24.8h.1M42.3,55h.1M28.4,42.2h.1M66.5,49.5h.1M59.7,80h.1M17.8,29.1h.1M33.2,29.9h.1M8.6,44.6h.1M20.4,63.1h.1M25.1,42.1h.1M64.3,76h.1M73.1,62.4h.1M55.2,47h.1M54.5,78.7h.1M73.3,39.2h.1M25.8,44.4h.1M56.8,58.9h.1M38.1,7.4h.1M32.8,60.1h.1M25.6,39.9h.1M51.8,10h.1M70,28.5h.1M36.2,58.3h.1M24,41.9h.1M9.9,35.4h.1M30.2,13.7h.1M17.8,72.7h.1M13.7,25.4h.1M20,69.4h.1M67,58.1h.1M56.8,40.3h.1M24.1,64.8h.1M51.9,27.1h.1M55.6,19.6h.1M55.2,80.4h.1M78.1,42.6h.1M55.6,56.9h.1M68.7,64.9h.1M61.3,24.3h.1M61.9,68.6h.1M52.4,64h.1M29.7,25.7h.1M66.5,60.6h.1M61,68.2h.1M22.4,43.2h.1M31.8,9.9h.1M30.3,7.3h.1M22.5,47.3h.1M21.4,11.8h.1M67.5,28.9h.1M35.2,46.5h.1M43.1,81.7h.1" stroke="#fff" stroke-width="0.55" stroke-linecap="round" opacity="0.18"/>
</g></g>
<rect x="400.5" y="386.4" width="86.6" height="86.1" fill="#242424"/>
<g clip-path="url(#k13)"><g transform="translate(400.5 386.4)">
<ellipse cx="45" cy="50" rx="30" ry="30" transform="rotate(0 45 50)" fill="url(#rg)" opacity="0.05" filter="url(#gb)"/>
<path d="M38,65.4h.1M4.1,40.4h.1M27.7,64.9h.1M77.9,31.2h.1M11.4,66.1h.1M60,46.1h.1M16,38.8h.1M42.7,82.5h.1M47.7,62.8h.1M41.3,8.2h.1M16.3,20.2h.1M45.7,32h.1M34,11.9h.1M70.1,35.2h.1M72.6,74.8h.1M68.6,66.4h.1M9.6,27.7h.1M26.6,49.5h.1M18.5,75.8h.1M44.4,16.1h.1M46.9,13.7h.1M15.4,63.8h.1M39.7,28.6h.1M59.7,42.2h.1M71.1,29.5h.1M13.8,59.2h.1M58.3,79.5h.1M81.6,36.6h.1M74.7,35.8h.1M70.1,74h.1M81.9,54.4h.1M71,41.9h.1M11.8,43.2h.1M69.3,60.8h.1M26.7,57.9h.1M45,58.3h.1M59.3,63.3h.1M39.4,53.2h.1M24.2,18.7h.1M25.7,54.8h.1M59.8,54.1h.1M28.2,40.1h.1M16.6,18.5h.1M68.7,72.5h.1M45.3,51.6h.1M11.6,41.3h.1M19.1,34.7h.1M25.9,13.5h.1M35.8,32.1h.1M53.2,39.9h.1M60.4,61.8h.1M62.9,45.6h.1M83.8,49.7h.1M41.9,17.7h.1M70,32.6h.1M53.8,27.4h.1M76.6,23.5h.1M58.5,55.3h.1M20.5,30.3h.1M8,53.4h.1M30.5,73.4h.1M43.5,30.8h.1M15.7,18.3h.1M64.7,25.9h.1M67.7,35.1h.1M77.2,65.4h.1M34.8,69.1h.1M74.3,59h.1M39.6,73.3h.1M78.2,36.6h.1M27.4,13.2h.1M44.1,77h.1M68,14.4h.1M34,84.6h.1M9.6,29.7h.1M32,55.8h.1M26,29.2h.1M25.4,62.3h.1M21.1,39.5h.1M33.4,40.3h.1M58.9,12.8h.1M34.1,82.3h.1M74.3,71.2h.1M77.6,72.7h.1M78.8,29.6h.1M38.2,88.1h.1M42.2,77.2h.1M16.2,19.8h.1M41.8,51.6h.1M82.5,35.9h.1M50,53h.1M46,7.2h.1M48.7,59.5h.1M23.7,74.5h.1M61.5,16.1h.1M38.6,32h.1M19.4,28.6h.1M26.9,70.8h.1M18.7,72.9h.1M13.5,63.9h.1M41,81.3h.1M58.4,82.7h.1M48.9,22.9h.1M14.5,59.5h.1M43.1,9.5h.1M68.2,19.9h.1M57.9,82.4h.1M61.2,20.8h.1M4.3,55.6h.1M63.7,30h.1M52.5,23.5h.1M18.4,59.8h.1M66.3,53h.1M21.3,49.7h.1M18.5,48h.1M47.5,63.6h.1M41.8,21.7h.1M32.1,47.6h.1M47,68.1h.1M62.1,64.7h.1M41,9.9h.1M77.3,39h.1M22,37.1h.1M58.1,20.3h.1M59.5,63.9h.1M18.4,53.7h.1M44.5,75.8h.1M45.5,73.2h.1M77.1,37.4h.1M32.2,79.7h.1M68.2,63.9h.1M80.2,41.5h.1M65,68.9h.1M52.9,16.9h.1M37.8,64.3h.1M79.9,59.2h.1M71.9,51.4h.1M76.7,39.7h.1M13,21.9h.1M28.6,79.1h.1M54.6,41.2h.1M35.5,54.8h.1M12.5,28.8h.1M32.6,31.5h.1M28.4,12h.1M10,49.7h.1M37.8,8.2h.1M57.4,84.6h.1M77.5,62.7h.1M76.2,75.6h.1M26.1,35.4h.1M22.7,60.6h.1M9.9,65.2h.1M25.3,27.6h.1M33.8,31.2h.1M48.6,9.6h.1M49.4,79.4h.1M20.1,38h.1M65.4,65.3h.1M5.5,39.2h.1M45.5,60.6h.1M64.9,58.7h.1M71.2,56.6h.1M23.3,33.1h.1M56.2,9.9h.1M76.3,47.4h.1M38.5,23.6h.1M73.7,37.7h.1M10.6,71.3h.1M35.7,72.2h.1M54.4,76.4h.1M45.2,89.2h.1M48.9,36.2h.1M51.8,75.3h.1M18.1,68.7h.1M25.2,80.3h.1M19.1,26h.1M59.5,79.7h.1M81,30.1h.1M72.5,41.5h.1M30.2,85.5h.1M57.5,79.8h.1M4.1,39.6h.1M13.2,32.7h.1M42.8,49.9h.1M46.1,61.4h.1M29.2,78.6h.1M22.8,20.2h.1M77.4,22.4h.1M71.2,16.9h.1M37.4,57.5h.1M81.3,48.2h.1M61.7,74.6h.1M23.3,25.1h.1M50.2,82h.1M60.3,60.6h.1M28.5,20.4h.1M13.2,37.4h.1M80.7,59.9h.1M14.5,63.8h.1M16.4,60.1h.1M51.9,10.1h.1M68.7,36.3h.1M13.6,69.3h.1M56.7,29.5h.1M29.1,70.1h.1M75.5,25.7h.1M47.3,47.9h.1M46.2,76.6h.1M68.1,36.1h.1M68.6,46.6h.1M35,64.6h.1M36.9,39.8h.1M49,69.6h.1M48.3,13.2h.1M61.1,46.8h.1M8.5,65.3h.1M13.1,50.5h.1M12,64.6h.1M66.3,38.7h.1M64.1,45.5h.1M26.7,59.1h.1M47.9,14.3h.1M30.2,59h.1M66.8,83.8h.1M30.4,14.9h.1M75.7,41.4h.1M61,32.1h.1M42.6,9.5h.1M38.7,31.9h.1M54.1,7.2h.1M54,62.1h.1M25.3,37.1h.1M23.1,80.8h.1M76.4,32.4h.1M70.6,74.5h.1M15.2,23.8h.1M23.4,34.9h.1M22.6,71.6h.1M25.2,13.8h.1M5.4,56.5h.1M36.7,27.6h.1M63.8,84.7h.1M60.1,73.3h.1M22.1,37.1h.1M17.3,24h.1M25.7,81.9h.1M29.7,20.7h.1M76.4,67.3h.1M9.9,69.8h.1M15.2,68.5h.1M61.7,54h.1M19.5,23.9h.1M26.5,39.6h.1M82,41.8h.1M19.8,44.4h.1M16.6,58.2h.1M78.4,41.2h.1M45.1,51.4h.1M54.5,66.7h.1M57.4,46.3h.1M41.2,37.6h.1M69.6,42.5h.1M5.4,59.6h.1M47.9,48.9h.1M48.4,41.8h.1M46.3,69.4h.1M70.6,77.9h.1M78.2,25.4h.1M51.9,26.5h.1M46.1,62.3h.1M48.8,7.6h.1M40,56.4h.1M20.2,45.3h.1M66.4,39.4h.1M40.7,10.4h.1M64.8,56.5h.1M26.3,17.5h.1M31.3,15.7h.1M36.1,36.1h.1M81.6,65.2h.1M9.8,69.9h.1M14.2,34.1h.1M53.1,24.2h.1M45.5,35h.1M58.6,38.6h.1M81.9,66.9h.1M54.4,65h.1M28.1,68.7h.1M11.2,38.8h.1M46,48.6h.1M73.8,23.4h.1M51.2,43.5h.1M23.9,31.4h.1M41.6,14.7h.1M33.7,9.7h.1M49.2,28.4h.1M60.8,75.1h.1M60.4,10.8h.1M58.7,83.3h.1M85.7,44.7h.1M56.5,31h.1M7.5,34.4h.1M71.5,37.7h.1M56.7,24.5h.1M71.5,36.2h.1M43.7,60.1h.1M16.6,54.7h.1M56.8,63.6h.1M34.9,29.2h.1M76.9,45.1h.1M70.5,27.8h.1M40.8,30.7h.1M70.1,32.3h.1M12.3,67.7h.1M61.1,25.6h.1M76.9,22.6h.1M42.5,60.6h.1M53.8,51.6h.1M73.7,51.8h.1" stroke="#fff" stroke-width="0.6" stroke-linecap="round" opacity="0.2"/>
</g></g>
<rect x="489.5" y="386.4" width="86.4" height="86.1" fill="#242424"/>
<g clip-path="url(#k14)"><g transform="translate(489.5 386.4)">
<ellipse cx="45" cy="42" rx="36" ry="34" transform="rotate(0 45 42)" fill="url(#rg)" opacity="0.1" filter="url(#gb)"/>
<path d="M26.8,13.5l-.9-.6-.3-.9 0-1M48.3,27.4l-.8.7-1 .2-1-.3-.8-.5-.7-.8-.2-.9.1-1 .3-1 .9-.6 1 0M59.9,40.3l.2 1-.1 1 0 1 .2 1 .2 1 .5.8.6.8.8.6.7.7.7.7M72.7,46.3l1-.2.7-.7.5-.9.5-.8.8-.7.7-.7.7-.7.8-.6.9-.3 1 .3M26.4,18.8l-.7-.7-.7-.7-.5-.9-.4-.9-.5-.9-.3-.9-.4-.9M49.9,16.9l-1 0-.8-.4-.5-.9.1-1 .2-1 0-1-.2-1-.6-.8-1-.3-.9.3M55.3,72.6l.9.3.9.5.5.9.1 1-.4.9M13.8,46.8l-.3 1-.8.6-.9.2-1-.3-.6-.8 0-1 .5-.8.8-.7 1-.1.9.5M72.7,35.3l-.4.9-.3 1 0 1 .1 1 .2 1 .3.9.1 1-.5.9-.9.4-1-.1M12.2,50.8l.5.8.9.4 1-.1.9-.6.8-.5.7-.8.8-.5.8-.6.9-.6.8-.4M14.3,24.5l-.4 1 .2.9.2 1 0 1-.1 1-.3 1-.4.8-.6.8-.5.9-.4 1M73.5,50.7l.2-1 .5-.9.5-.8.7-.7.9-.6.9-.3.9-.4.6-.8.6-.8 0-1M76.4,50.4l-1 .2-1-.3-1-.2-.9.2-.7.8-.2 1 .4.9.9.6 1 0 .8-.6M27.4,46.7l-.9-.4-.7-.7-.1-1 .1-1 .2-1 0-1-.2-1-.7-.7-.8-.6-.8-.6M46.8,8l-.3 1-.6.8-.8.5-1 .3-1-.2-.8-.5-.9-.5-.8-.6-.8-.5-.8-.6M47.3,30.3l1 .3.9-.2.9-.6.3-.9 0-1-.4-1-.7-.6-.9-.5-1-.1-.9.5M38.9,51.4l.8-.6 1-.1 1 .2.7.7.8.6 1 .2.9-.4.8-.6.9-.4 1-.2M61.4,40.2l0 1 .5.8.9.4 1-.1.8-.7.2-.9 0-1-.3-1-.9-.5-1-.1M65.6,67.3l1-.1 1 .1.9.4.8.6.2 1M42.4,29.6l.9.3 1 .1.9.4 1 .3 1 .3.9.2.9.4 1 .4.9.4.9.4M17.8,51.5l1 0 .9.4.7.7.6.8.1 1-.5.8-.9.6-.9.3-1-.1-.9-.5M39.1,16.9l-.9.4-1 0-1-.4-.7-.7-.6-.8-.8-.6-1-.3-.9-.2-1-.3-.9-.5M55.8,24.5l.6-.8.9-.4 1 .3.7.7.2 1-.4.9-.4.9-.5.9-.4.9-.8.7M77.2,43.3l.4.9.5.9.7.7.9.4 1 0 1-.4.8-.5.5-.9M50.5,36.9l1-.3.9.3.7.7.3 1-.3.9-.4.9-.5.9-.5.9-.5.9 0 1M46,24.9l.8-.6.8-.7.5-.9-.1-1-.7-.7-.7-.7-1-.3-.9-.2-1 0-1 .2M41,28.2l-.2 1 .1 1 .3.9.4.9.3 1 0 1-.1 1-.2 1-.1 1-.2 1M10.8,45.4l-.5-.8-1-.4-.8-.5-.9-.5-.9-.4M53.3,45.5l-1 .2-.8.6-.4.9-.2 1-.2 1-.2 1-.6.8-.6.8-.9.3-1-.2M24.4,46.9l.8.6.9.4.9.4 1 .2 1 0 .9-.5.7-.7.3-.9-.2-1-.8-.7M74.2,48.3l1-.1 1-.1.9-.3.9-.4.8-.6.7-.8.1-.9.3-1 .1-1-.2-1M34.8,20.2l-.9-.4-1-.2-1 0-1-.2-.9-.5-.6-.8-.2-1 .3-.9.8-.6.9-.5M43.6,43.2l-.6-.8-.7-.7-1-.2-.9.2-.7.7-.5.9.1 1 .7.7.9.3 1 .2M39.3,14.8l.4 1 .1 1 0 1-.5.9-.5.8-.5.9-.8.6-.8.6-1 .2-1 0M45.8,46.4l.9-.4 1-.3 1-.1 1 .1.9.2 1 .4.6.8.3.9-.2 1-.5.9M28.3,35l-.9.4-1 0-1 0-1-.3-.9-.5-.6-.7-.4-1 .1-1-.1-1-.2-1M17.2,24.9l-.9.4-1 .4-.8.5-.7.8-.4.9-.1 1 .5.8.7.8.4.9-.1 1M65.2,64.3l.2-1 .5-.9.4-.9.7-.6 1-.4.9.1 1 .2 1-.1 1-.1 1 0M38.1,41.8l.7.7 1 .4.9-.2.9-.4.6-.9.6-.7.4-.9.5-.9.1-1-.4-.9M20.2,55.3l-.9.3-1 .1-.9-.5-.7-.7-.7-.7-.4-.9-.3-1 0-1 0-1 0-1M51.1,16.6l.1-1 0-1 .1-1 .1-1 .3-1 .3-.9.4-.9.3-1-.1-1-.3-.9M56.2,70.3l.9-.4 1-.4.9-.1 1 0 1 0 1 .3 1 .3.8.5.5.9 0 1M30.9,20.2l-1-.3-1 .3-.6.8 0 1 .4.9.6.8.7.7.9.4 1-.1.7-.7M60.3,21.8l1-.1.9.4.5.9.3.9-.3 1-.6.8-.3.9.2 1 .4.9.5.9M42,37.4l1-.3.7-.6.3-1-.3-1-.7-.6-1-.1-1 .1-.9.4-1 .2-1 0M71.1,39l.7-.7.2-1 .2-1-.5-.9-.9-.4-1 .1-.8.6-.2 1 .3 1 .5.8M45.7,58.4l.9.4 1 0 .9-.4.6-.8 0-1-.5-.9-1-.4-.9-.4-.9-.4-.8-.5M43.4,20.5l1-.2.9-.4.8-.7.8-.6.9-.2 1 .2.8.7.3.9-.4 1-.7.7M25.9,13.3l-.1-1 .4-.9.7-.7 1-.3 1 0 1-.1 1 .1 1-.2.8-.5.8-.7M64.7,67.6l.9-.4.9-.5.7-.7.4-.9 0-1-.4-.9-.8-.6-1 0-.9.4-.6.8M37.4,62.2l.2.9-.3 1-.9.5-1 .1-.8-.6-.5-.9.1-1 .6-.7.9-.4 1-.1M27.1,32.8l-1-.2-1-.2-1 0-1 .3-.9.4-.9.4-1-.1-.8-.6-.3-.9.1-1M31.6,26.3l.9.4 1-.1.7-.7.2-.9.1-1-.2-1-.5-.9-.5-.8-.3-1-.3-.9M32.5,22.6l.8.5 1 .4.9.4 1 .2.7.7.7.7.3 1-.1 1-.6.8-.8.6M56.7,34l.1-1-.1-1-.7-.8-.9-.2-1 .3-.8.6-.7.7-.2 1 .4.9.8.6M75.6,58.7l-.9.4-.5.9-.1 1-.1 1 .1 1-.1 1-.2.9-.6.9M62.1,45.1l.3.9-.2 1-.7.7-1 .2-1-.3-.7-.7-.1-1 .5-.9.8-.5 1 .1M47.9,59.7l0-1 .5-.9.9-.5 1 0 .9.4.4.9-.1 1-.6.8-.7.7-.8.7M71.6,42.7l-1 0-1 0-1-.2-.7-.7-.4-.9 0-1 .5-.8.9-.5 1 0 .8.7M53.7,22.6l.7.7.2 1-.2 1-.4.9-.6.8-.5.8-.5.9-.5.9-.8.6-.9.3M17.9,27.4l-1-.3-.6-.7-.4-.9-.7-.8-.9-.2-1-.2-1 0-1 0M46,51l.9-.5.9-.5.6-.7.3-1 0-1-.3-.9-.7-.7-.9-.5-1-.3-1 0M30.9,50.9l.7.8.9.2 1-.3.8-.5.7-.8.3-.9.1-1-.4-.9-.8-.6-1 .1M60.4,32.5l.3 1 .7.7.9.2 1-.4.6-.8.5-.9.6-.8.7-.6.7-.8.2-1M70.8,56.9l-1 .1-1-.3-.6-.7-.1-1 .5-.9.6-.8.8-.6.9-.5 1-.1 1-.1M66.2,43.7l-.9.3-1 .1-1-.1-1-.1-1-.3-.9-.4-.8-.6-.3-1 .2-.9.6-.9M69.6,54l.3-.9.6-.8.8-.7 1-.1.9.5.5.9 0 1-.4.9-.3 1-.6.7M30.8,36.6l.1-1-.3-.9-.7-.7-.7-.7-.4-1-.3-.9.3-1 .4-.9.1-1-.2-1M56.3,37.9l.9.4.8.6.9.5.7.7.6.7.1 1-.5.9-.7.7-.8.7-.9.1M63,28.3l1-.1.9.2.9.4 1 .3 1-.2.9-.4 1-.2 1-.1 1 .1.8.5M49.8,18.5l-1-.2-1-.1-.9.4-.7.7-.1 1 .4.9.8.6 1 .1.9-.5.4-1M51.9,32.8l-.1-.9-.7-.8-.9-.3-1 .3-.7.7-.2 1 .1 1 .1 1-.2.9-.1 1M37.8,18.8l-.2-.9.4-1 .8-.5 1 0 1 .3.8.5.9.6.8.6.5.8-.1 1M50.5,51.1l0 1 0 1-.1 1-.6.8-.9.3-1-.2-.7-.7-.8-.7-.9-.3-1 0M32.7,71l.3-1 .7-.6.8-.7.9-.4.7-.7.6-.8.6-.8.8-.6 1-.2 1 .1M54.8,69.1l-.1 1-.3.9-.1 1-.2 1-.3 1-.8.6-.9.2-.9-.5-.8-.7-.2-.9M24.1,61l.9.5.9.4 1 0 1-.1 1-.1 1 .1.8.6.4.9.7.7.7.7M47.6,65.2l.7-.8.8-.5.9-.6.8-.4.9-.5.9-.5.8-.6.9-.5.8-.5 1-.3M45.2,61l.3-1 .8-.6.9-.5.9-.3.9-.5.9-.5 1 .1.8.6.4.9.2.9M48.9,19l.9.5.5.9.3 1 .7.7.8.6 1 .2 1-.2.8-.5.5-.9 0-1M50.9,60.8l.9.1 1 .2 1 0 1-.2 1-.1 1-.1.9-.4.6-.8.1-1-.4-.9M27.1,48.2l1 0 .9.4.6.8.3 1-.3 1-.8.6-1 .2-.9-.5-.7-.7-.5-.9M22.6,17.8l-.4 1-.5.8-.5.9-.4.9-.1 1-.1 1 .4.9.8.6 1 .4.9.1M36.9,26.2l-.7-.7-.6-.8-.7-.7-.8-.7-.7-.7-.5-.8-.3-1-.4-.9-.7-.7-1-.2M76.8,37.5l0 1 .5.9.9.3 1 0 1-.3.7-.6.5-.9.5-.9.2-1 .5-.8M44.2,42.8l.9-.4.5-.8.2-1-.4-1-.8-.6-1 0-.8.5-.5.9.2 1 .7.7M49.5,58.1l.5.9 0 1-.3.9-.7.8-.8.6-.8.6-.9.4-1 .3-1 0-1-.2M41.9,61.2l-.2.9-.5.9-.8.6-.7.8-.9.2-1-.2-.7-.7-.3-1 .3-.9.7-.7M63.7,68.5l-.5.9-.8.5-1 0-.8-.6-.4-.9.2-1 .4-1 .2-.9-.3-1-.7-.7M60.8,64.3l.9-.5.5-.8.7-.8.4-.9.7-.7.8-.6.9-.4 1 0 .9.5.8.5M62.6,36.4l.5-.9 0-1-.5-.8-.9-.5-1 .2-.7.7-.2 1 0 1 .1 1 0 1M42,17.9l-1 .2-1-.2-.7-.7-.9-.5-1-.2-1 .1-1 0-.8.4-.8.7-.3 1M21.3,43.4l.6.8.8.6.9.4.9.5.9.2.9.6.7.7.8.6.9.3.9.5M23.5,55.2l-.2 1-.4.9-.7.8-.9.3-1 .2-1-.1-1-.2-1-.2-.9.1-1 .1M22.9,53l-.1-1 .4-.9.9-.5 1 .1.8.7.4.9 0 1-.5.9-.8.5-1-.1M72.9,56.6l1 .1.9-.4.8-.5 1-.3.9-.5.7-.7.6-.8.8-.5 1-.2 1 .2M71.6,57.4l-1 .2-.8.6-.5.9.1 1 .4.9.5.8.4.9.9.6.7.7 1 .2M49.9,37.8l.7-.7.9-.5 1 0 .8.6.6.8.5.9.3.9.1 1 .3 1 .6.8M33.8,57.9l.5-.9.2-1-.1-1-.6-.7-1-.3-.9.1-.8.7-.3 1-.1 1 .5.9M50.8,73.5l.9-.5.9-.3 1-.2 1 .1.9.4 1 .2.9-.5.5-.8.4-1 .1-.9M44.8,58.7l0-1 .5-.8.9-.6.9-.3 1 0 1-.2.9-.3 1-.3 1-.1.9.3M16.2,25.7l.2-1 .5-.9.8-.6 1-.3 1 .1 1 .2.7.6.3 1-.2 1-.7.7M48.7,35.5l-.4.9-.9.5-1 0-.8-.6-.3-1-.2-1-.1-1-.1-.9-.4-1-.3-.9M36.6,58.1l.9.4 1 0 .8-.5.5-.9.3-.9-.1-1 .3-1 .4-.9.5-.9 1-.4M28.8,64.4l.5-.8 1-.4.9-.2.9.4.6.8.4 1-.1.9-.6.8-1 .3-1-.3M17.1,45.5l.9-.4.6-.8.3-1-.3-1-.4-.9-.3-.9.2-1 .6-.7.9-.6 1-.1M69.7,26.3l-.1-1-.3-1-.6-.8-.8-.6-1-.2-.9.3-.9.4-.7.8-.6.8-.7.7M68.2,34.4l-1 .3-.9.4-1 .3-1 .1-.9-.4-.6-.8.1-1 .3-.9.6-.9.8-.6M45.7,50.3l-.4 1 .1 1 .5.8.9.5 1 .2.9-.5.5-.8.2-1 .1-1 .3-.9M53.1,35.3l-.3 1 .1 1 .7.7.7.7.8.5.9.6.8.5 1 .3 1 .1 1-.1M22.6,22.5l-1-.3-.6-.7-.2-1 .2-1 .6-.8.7-.7.7-.7.7-.7.8-.6.9-.5M30.4,37.6l.9-.1 1-.3.9-.4.9-.4 1-.1.9.3 1 .4.7.7.2 1 .2 1M36.1,42.6l-1 .3-.9.3-.6.9-.4.8-.4 1-.6.8-.9.4-1-.2-.7-.7-.2-1M54.8,74.4l.5.9.3 1M30.8,72.4l-.6.9-.5.8-.4.9M17.9,48.6l-.8-.6-.4-.9.2-1 .6-.8.9-.4 1 .1.8.6.3.9-.2 1-.8.7M50.4,37l1-.1.9.4.6.8.1 1-.5.9-.7.7-1 0-1 .2-1 .3-1 .2M32.8,22.5l.9-.5.7-.7.3-.9.3-1 .2-1-.2-1-.2-.9-.5-.9-1-.3-.9.2M66.6,34.5l.8-.6 1-.4 1-.1.8-.5.4-.9-.1-1-.5-.9-.7-.7-.7-.7-.9-.4M39.2,11.6l-.5-.9-.3-.9-.2-1-.1-1 .2-1M33.6,67.1l-.9-.3-1-.2-1 .1-.9.4-.9.3-.9.5-.7.7-.8.6-.9.5-1 0M15.6,60l.2-1 0-1-.1-1 .2-.9.4-.9.3-1 0-1 .1-1 .2-1 .5-.8M50.5,11.1l-.8.5-.8.7-1 .2-1 .2-1-.1-1 0-1 0-1-.2-.9.2-.8.7M47.6,21.7l-.9.5-.8.7-.4.8.1 1 .6.8.9.4 1 .3 1 .2.9.2 1 .1M68.3,29.7l.7.7.9.3 1-.3.7-.6.8-.6 1 0 1 .3 1 .1 1-.2.9-.4M33.4,65.2l-.7-.8-.4-.9-.2-1-.1-1 .1-1-.1-.9-.2-1-.6-.8-.8-.5-1 0M40.5,42.6l-.6.8-.1 1 .3 1 .1 1 .1.9.1 1 .3 1 .3.9.7.8.8.5M76.7,48.7l-1-.1-1 .2-.8.5-.7.7-.3 1 .1 1-.2.9-.8.7-.8.5-1-.1M57.5,21.1l.9-.4.8-.6.5-.8-.1-1-.6-.8-.7-.7-.8-.6-.9-.4-1-.1-1-.2M53.8,50.6l-.8.7-1 .1-1 0-.9-.3-.7-.7-.3-1 .4-1 .7-.7.9-.2 1 0M52.3,31l.5.9.5.8.6.8.3 1 .4.9-.2 1-.7.7-.9.4-1-.1-.7-.7M60.2,70.7l-1-.1-1-.2-.7-.6-.4-.9-.1-1-.5-.9-.8-.6-.6-.8-.1-1 .4-.8M70,38.3l.2-.9-.1-1-.6-.9-.7-.6-1-.2-1 .2-1 .3-.8.5-.8.6-.4.9M36.5,73l-.3 1-.8.5-1 .1-.9-.6-.7-.6-.6-.9-.1-1 .2-1 .6-.8.6-.8M47.2,69.5l-.1 1-.3.9-.8.6-1 .3-.9-.4-.6-.8-.1-1-.4-.9-.8-.7-1-.1M66.4,35.7l.2-.9.6-.8.8-.6 1-.3.9-.2 1 .4.6.7.4 1 0 1-.6.8M17.9,26.2l-.5-.9.1-1 .6-.8 1-.3.9-.2 1 .2.9.5.7.7.2 1-.3 1M32.8,15.5l-.9.4-.8.7-.3 1 .3.9.8.6 1 .2 1-.2 1-.1 1-.1.8-.7M33.1,12.9l.3-1 .2-1-.1-.9-.1-1-.2-1M76,35.6l-.6-.9-.8-.4-1-.2-1 .2-.7.7-.2 1 .5.9.5.9.9.4 1-.2M38.5,39.5l.8.6.9.4.9.5.8.6.8.6.9.3 1 0 1-.4.9-.4.9-.4M52.6,35.8l-.2-1 .5-.9.9-.5.9-.3 1-.3.8-.5.6-.8.2-1-.4-.9-.8-.6M49.5,72.5l-.1-1 .3-.9.4-.9.4-1 0-1-.5-.8-.9-.6-.9-.2-1 .4-.8.6M77.5,46.8l-.4.9-.9.5-1 0-.9-.3-.6-.9-.3-.9-.4-.9-.5-.9.1-1 .6-.8M23.6,68.5l-.9.6-.5.9-.1 1M78.3,45.5l.9-.3.9-.4.9-.4 1-.2 1 .2M73.3,26l-.4.9-.2 1-.2 1-.1 1-.4.9-.4 1-.1.9.2 1 .3 1 .6.7M55.8,59.5l-.9.5-.5.8 0 1 .7.8.9.3 1-.2.8-.6.3-1-.3-.9-.7-.7M42.1,15.9l-.1 1 .5.9.8.5 1 .1.9-.5.7-.7.6-.8.8-.7.9-.4.8-.5M18.7,53.1l.9-.3 1-.2.9-.4.9-.4 1-.2.9-.4.7-.8.6-.8.4-.9.2-1M36.3,15.8l.3-.9.3-.9.4-1 .4-.9 0-1-.5-.9-.7-.7-1-.4-1 .2-.7.6M68.8,32.1l-.3 1 0 1 .4.9.5.8.9.5 1-.1.7-.7.3-.9-.2-1-.2-1M40.3,43.6l.2-1-.5-.9-.8-.6-1-.2-1 .1-1-.2-.7-.7-.2-1 .3-.9.7-.7M58,71.1l0-1-.2-1-.1-1-.1-1 .2-1 .4-.9.5-.8.2-1 .5-.9.5-.9M35.8,35.6l-.8-.6-.8-.5-.8-.6-.9-.4-1 0-1 .2-.9-.5-.6-.8-.3-1 .2-.9M17.6,47.8l-1 .1-1 .3-.9.4-.6.8-.6.8-.4.9-.7.8-.7.6-1 .3-.9-.4M61.6,42.9l-.2-.9 0-1 .1-1 .4-.9.5-.9.4-.9.4-1 .7-.7 1-.1.9.4M35.3,48l1-.1.9-.2.9-.4.6-.8.6-.9 0-1-.6-.8-.9-.4-1-.1-.9.3M67.2,40.1l-.9-.4-1 .2-.8.4-.7.8 0 1 .5.9.9.4 1-.2.8-.6.5-.8M38,58.5l-.1 1-.2 1-.3 1-.5.8-.8.6-1 0-.9-.6-.4-.9-.3-.9.3-1M29.8,36.7l1 .3.8.6.8.5.8.6.6.8.3 1 .2.9.3 1 .6.8.6.8M46.6,40.8l.7-.8.4-.9.5-.8.6-.9.7-.7.6-.8.4-.9.3-.9.3-1 .1-1M57.9,22.6l0 1 .3 1 .7.7 1 .3.9-.4.6-.8.3-1-.3-.9-.8-.6-.9-.5M58.9,17.3l.9.2.7.8.3 1-.3.9-.7.8-.8.5-.9.4-1 .4-.7.6-.7.8M32.8,65.3l-.7-.7-1-.2-1-.2-1 .3-.9.3-1 .3-.9.3-.7.8-.6.8-.5.9M45.4,28.1l.2-1 .6-.8 1-.3.9.3.7.7.2 1-.2 1-.7.7-1 .1-.9-.4M62.5,51l.6.8.9.5.9.3.9.5 1 .3.8.5.7.7.4.9.1 1-.1 1M31.5,34.8l.7-.6.5-.9.5-.9 0-1-.3-.9-.6-.8-.9-.3-1 .1-1 .3-.8.5M39.4,8.5l-.4.9-.2.9.4 1 .7.6.9.5 1 .1 1-.1 1-.1 1-.2.6-.8M46.2,58.4l.1-1-.5-.8-.9-.4-1 .1-.8.7-.3.9.3 1 0 1-.2 1 0 1M16.1,45.5l-.5.9-.6.8-.7.7-.9.5-1 0-.8-.5-.9-.6-1 0-.9.4-.7.8M19,28.4l-.5.9-.9.4-.9.2-1 .3-.9.3-1 .2-1-.1-1-.2-.9-.4-.8-.7M55.8,56.3l-.9.4-1-.2-.7-.8-.5-.8-.3-.9-.1-1 .3-1 .3-.9.8-.7.7-.7M52.5,65.8l.1 1-.1 1-.7.7-1 .3-1-.2-.7-.7-.5-.9-.6-.8-.6-.7-.5-.9M55.5,20.4l.8.5 1 .2 1 .1 1-.1.9-.4.8-.6.9-.5.9-.5.9-.3 1 0M34.7,20.2l.3-.9-.1-1-.4-.9-.7-.7-1-.1-1 .2-.9.3-.9.5-.9.5-.7.7M41.3,30.1l.7-.7.4-.9-.1-1-.3-.9-.6-.8-.7-.7-.9-.4-1 .2-.7.7-.2 1M19.5,25.4l-.7.7-.8.5-1 .2-1-.3-.8-.6-.4-.9.2-.9.6-.8.9-.5 1 .1M43.5,43.8l.9.3 1 .4.6.7.4 1 .5.8.6.8.9.5 1 .1.9-.5.7-.7M38.6,26.6l-.1-1 0-1 .1-1 0-1-.4-.9-.9-.5-1-.1-1-.1-1 0-1 .1M14,52l-.9.4-1 .2-1-.2-.7-.7-.6-.8-.4-.9 0-1 .4-1 .8-.5.8-.6M21.5,21.4l-.3-.9-.7-.8-.5-.8-.5-.9-.5-.9-.5-.9" fill="none" stroke="#fff" stroke-width="0.75" stroke-linecap="round" stroke-linejoin="round" opacity="0.26" filter="url(#b3)" stroke-dasharray="0.9 0.7"/>
<path d="M66.4,20.6h.1M25.4,70.3h.1M31.2,17.2h.1M55.5,62.7h.1M34.1,11.3h.1M26.9,42.9h.1M48.7,21.6h.1M21.9,41.8h.1M76.2,56.8h.1M39,66.1h.1M47.8,66.7h.1M77.6,34.5h.1M47.3,34.9h.1M56.9,29.6h.1M45.9,32.2h.1M57.9,20.1h.1M72.5,20.2h.1M41.5,47.9h.1M56.4,47.1h.1M37.6,20.1h.1M35.5,64.8h.1M56.3,35.3h.1M31.9,67h.1M33.7,48.6h.1M33.5,14.2h.1M49.4,48.3h.1M24.2,55.5h.1M43.1,16.3h.1M61.8,28.2h.1M26.5,29h.1M61,61h.1M56.9,17.2h.1M65.1,25.5h.1M13.7,39.6h.1M30.2,16.8h.1M77.7,48.2h.1M25.2,20.3h.1M58.6,25.6h.1M74.6,37h.1M54.7,19.2h.1M61.3,33.1h.1M80.6,41.5h.1M55.4,19h.1M36.5,34h.1M24.2,25.6h.1M67,38.5h.1M51.5,32.2h.1M27.9,55.4h.1M11.1,53.3h.1M37.5,35.7h.1M45,28.9h.1M55.1,69.9h.1M37,41h.1M24.4,27.5h.1M30.7,40.1h.1M19.7,28.5h.1M31.7,16.9h.1M19.4,46.6h.1M75.8,32.3h.1M41.8,10.1h.1M55.9,32.4h.1M59.9,48h.1M41.9,26.2h.1M42.9,55.2h.1M56,71.5h.1M25.8,41.4h.1M38.2,64.2h.1M33.8,27.8h.1M39.9,13h.1M31.6,47.7h.1M69,29.5h.1M68,61.4h.1M43.4,17.8h.1M27.7,53.1h.1M22.2,26.4h.1M31.5,68.2h.1M39.1,58.2h.1M21.5,27.8h.1M50.5,16.1h.1M30.2,32.7h.1M59.2,21.9h.1M58.7,15.4h.1M19.4,36.7h.1M58,35.6h.1M36.4,34.7h.1M48.4,46.4h.1M50.9,14.5h.1M28.3,33.1h.1M74.1,59.2h.1M44.8,57.1h.1M30.5,52.2h.1M25.5,20.8h.1M59,45.3h.1M63.2,20h.1M46.7,61.1h.1M52.1,35.4h.1M33.8,24.9h.1M36.8,23h.1M27.4,27.3h.1M26.4,33.9h.1M58.1,66.2h.1M64.6,20.7h.1M62.3,65.2h.1M31.8,57.7h.1M28.7,27h.1M33.3,47.9h.1M78.5,33.7h.1M32.2,25.6h.1M52,64.4h.1M40.3,40.8h.1M14.6,43.5h.1M15.7,48.2h.1M71.3,23h.1M46.6,74.6h.1M55,13.9h.1M38.1,70h.1M34.5,20.8h.1M47.5,32.7h.1M24.7,29.2h.1M57.9,48.1h.1" stroke="#fff" stroke-width="0.55" stroke-linecap="round" opacity="0.16"/>
</g></g>
<rect x="583.3" y="386.4" width="86.8" height="86.1" fill="#242424"/>
<g clip-path="url(#k15)"><g transform="translate(583.3 386.4)">
<ellipse cx="40" cy="50" rx="34" ry="34" transform="rotate(0 40 50)" fill="url(#rg)" opacity="0.1" filter="url(#gb)"/>
<path d="M62.4,78.2l.1 1-.1 1 0 1M24,22.4l.1 1-.6.9-.9.3-1 0-1-.3-.9-.5-.5-.8-.1-1M35.1,78.5l-1 0-1-.2-1 0-1 .4-.5.9-.1 1 .6.8.9.5M30.4,56.4l.2-1 .7-.7.8-.6 1-.2.9-.3.9-.5.4-.9 0-1M63.1,26.8l1-.1 1 0 1-.2.9-.4.7-.7.4-.9M31.1,66.1l.6-.9.9-.3 1 .2.7.7.1 1-.1 1-.6.8-.9.5M66.3,32l.8-.6.7-.7.6-.8.5-.8.6-.9.2-1 0-1M29.2,39.8l1 .4.9.2 1 .1 1 .2 1 .1 1 .2 1 .1 1 0M37.2,61l-.9.6-.5.9-.4.9-.1 1 .2 1 .2.9-.2 1-.5.9M37.2,22.9l.8.7.4.9-.1 1-.3.9-.3 1-.4.9-.4.9-.7.7M12.3,45.8l-.7-.7-.3-1 .1-1 .2-.9.5-.9.9-.5.9-.3 1-.3M36,45.3l.3 1-.3.9-.5.9-.8.6-1 .3-.9-.2-.9-.5-.5-.9M17.8,44.6l-.9.4-.5.9-.4.9-.3 1-.5.8-.7.8-.8.6-.7.7M39.4,69.5l1-.2 1 0 .9.1.9.5.6.8.2 1-.1 1-.4.9M16,34.9l1 .3 1-.2.8-.6.3-.9 0-1-.1-1-.1-1-.2-1M43.6,45.8l.9.1 1-.2 1-.1 1 .1 1 .3.8.6.5.8 0 1M14,27.7l-.7-.6-.7-.8-.5-.8-.7-.7M34.5,30.6l-.6-.8-.4-.9-.2-1-.1-1 .2-1-.4-.9-.4-.9-.5-.9M17.5,58.5l0-1-.5-.9-.8-.6-1-.1-.8.6-.7.7-.2 1 .4.9M42.3,62.6l1 .3.7.7.5.8.4 1-.3 1-.6.8-.9.3-1 .1M50.8,31.7l.6-.8.5-.9.6-.8.7-.7 1-.3 1 .1.9.3 1-.1M66.2,72.4l-.7.7-.4.9-.2 1-.2 1 .2 1 .1 1 .1 1M40.8,59.4l.9-.4 1 0 1 .2 1 0 1 0 1-.1 1-.1 1 .2M64.3,34.7l-.3-.9-.7-.7-1-.1-.9.5-.6.9 0 1 .6.8.9.3M28.3,29.7l.9-.3 1-.1 1 .1 1 0 1 0 1 .1.7.7.3.9M37.8,39.9l1 .4 1 .2.9-.3.6-.8.3-1-.4-.9-.8-.6-1-.1M27.3,66.4l0 1 .5.9.9.4 1 0 1-.2.9-.4.6-.8 0-1M36.2,25.4l-.8.6-.5.9.1 1 .6.8.9.4 1 0 .9-.4.8-.6M64.5,31.9l0-1-.3-.9-.5-.9-.8-.6-.9-.4-1 0-.9.5-.4.9M42.2,15.2l.9.4 1 .3 1 0 1 0 .9.1 1 .3 1 .2 1 .1M19.9,69l-.6.7-.1 1-.2 1-.2 1 .3.9.6.9.8.5.8.7M39.1,80.4l-.2.9.2 1 .4 1 .8.6 1 0 .9-.3.6-.8 0-1M21.5,54.2l.2-1 .6-.8.3-.9-.2-1-.4-.9-.9-.4-1-.4-1-.1M34,49.6l-.6.8-.6.8-.7.7-.9.3-1-.3-.7-.8-.3-.9 0-1M64.4,62.3l-.2.9.3 1 .2 1 .1 1 .5.8.6.8.7.8.9.4M46.1,78.3l.9.6.4.9-.2 1-.1 1 0 1 .6.8.5.8.6.9M42.2,31l-.8-.6-.8-.5-.9-.5-.9-.5-.7-.7-.3-1 .2-1 .8-.6M25,81.5l-1-.2-.9-.5-.7-.6-.3-1 .3-.9.8-.6 1-.1 1 .4M52,64l.6.9.3.9 0 1-.4 1-.4.9-.9.4-1 .2-1 .1M67.6,38.8l.9.3.7.7.2 1-.3.9-.8.7-1 .2-1 .2-1 .1M25.5,71.2l.3 1 .5.9-.1 1-.6.7-.9.4-1 0-.9-.4-.5-.9M61.2,47.8l-.8.7-1 0-.9-.5-.6-.7-.5-.9-.3-.9-.2-1 .2-1M20.9,37.6l1-.1.9.4.5.9.6.8.1 1-.5.9-.9.5-.9.3M8.6,54.4l-.9-.5-.5-.9.1-1 .1-1-.4-.9-.8-.6-1 0-.9.4M64,27l1-.4.5-.8 0-1-.5-.9-1-.3-1 .1-.8.6-.3.9M49.4,19.4l1 .3.9-.2.8-.7.2-1-.4-.9-.8-.6-1 0-1 .2M12.4,45.2l.9.3.6.8.4.9-.3 1-.8.6-1 .2-.8-.5-.8-.7M42.3,42.6l.6-.7 1-.3 1 .1.9.3 1 .2 1-.3.6-.8.1-1M23.5,60.6l-.1 1 .2 1 .7.8 1 .2.9-.3.6-.8.4-1 .3-.9M60.3,40.5l1 0 1-.2.8-.6.5-.9.5-.8.8-.6 1-.3 1 .3M34.8,52.6l0 1 .7.8.9.2 1-.1.8-.6.2-1 .2-1 .2-1M17.4,38.4l.8.5.7.8.1 1-.5.9-.6.8-.7.6-.8.6-.9.6M34,49.3l1-.2 1 .3.6.8.1 1-.4.9-.3.9-.4 1-.8.5M37.7,49.7l-.8-.5-.9-.4-.8-.6-.9-.5-.8-.6-.9-.5-.6-.8-.3-.9M54,58.9l.4-.9.7-.7.9-.5 1 .1 1 .2.8.5.6.8.3 1M16.4,46.7l.8.7.5.8 0 1-.2 1-.4.9-.3.9.1 1 .4 1M10.9,57.8l-1 0-.8.6-.6.8-.2 1-.3.9-.4 1-.7.7-.8.5M43.5,65.7l-.8-.5-.9-.4-1-.1-1-.1-1-.1-.9-.4-1-.4-.9-.3M62,48.5l-1-.2-.9-.5-.5-.8-.4-1 0-1 .5-.9.7-.6 1-.1M8.2,59.6l-.9-.3-1-.1-.9.5-.4.9 0 1 .3.9.9.6 1 0" fill="none" stroke="#fff" stroke-width="0.7" stroke-linecap="round" stroke-linejoin="round" opacity="0.16" filter="url(#b3)"/>
<path d="M17.1,53.9h.1M46.6,42.6h.1M22.7,67.8h.1M22.4,48.7h.1M10,33.4h.1M63.5,62.9h.1M27,59.1h.1M58.1,75.5h.1M53.9,71h.1M51.7,71.1h.1M73.4,47.3h.1M44.6,38.2h.1M24.9,68.6h.1M75.5,53.6h.1M25.5,78.7h.1M63.9,58.8h.1M23.7,68.7h.1M25.9,56.3h.1M19.1,49.3h.1M49.2,53.3h.1M51.1,32.5h.1M66.8,61.1h.1M18.5,68.9h.1M53.1,59.9h.1M27,36.3h.1M24.1,26.4h.1M60,68.3h.1M37.2,71.8h.1M48.7,45.4h.1M63.2,43.7h.1M13.2,37.2h.1M29.5,51.7h.1M43.9,53.5h.1M38.9,81.9h.1M36.1,40.2h.1M58.8,69.2h.1M40.6,36.7h.1M32,58.6h.1M28.3,72.4h.1M34.3,46.6h.1M62,47.3h.1M5.8,48.2h.1M12.9,57.4h.1M25.9,23.6h.1M46.7,72.5h.1M28.9,72.1h.1M71.6,45.2h.1M62.5,64.4h.1M53.4,35.1h.1M18.9,33h.1M52.8,25.4h.1M14.4,29.2h.1M40.9,25.4h.1M34.6,62.6h.1M17.2,35.2h.1M39.6,53.6h.1M74.2,56.3h.1M67.9,36.2h.1M66.3,66.3h.1M17.1,49.8h.1M64.7,48h.1M43,77.1h.1M7,37.4h.1M37.2,41h.1M27.9,67.1h.1M28.1,60.2h.1M16.1,24h.1M14.7,53.8h.1M47.4,19.6h.1M72.8,48.4h.1M43.1,41.6h.1M57.5,37.1h.1M68.4,68.4h.1M59.1,40.4h.1M41,56.1h.1M53.8,22.9h.1M61.6,42.6h.1M50,50.9h.1M58.6,46h.1M56.4,79.8h.1M61.9,23.6h.1M60.6,46.3h.1M58.9,62.7h.1M47.5,59.8h.1M57.2,50.2h.1M27.7,19.8h.1M54,81.3h.1M21.2,43.1h.1M16.8,76.8h.1M64,62.7h.1M71.5,48.1h.1M58.8,52.5h.1M31.4,68.4h.1M29.9,41h.1M40.8,43.7h.1M30.1,18h.1M10,55.4h.1M67.5,62.8h.1M27.5,33.7h.1M52,73.7h.1M11.6,44.5h.1M68.9,64.3h.1M14.3,74.2h.1M34.6,47.9h.1M46.2,62.9h.1M50.8,40.5h.1M8.7,34.8h.1M69.5,69.1h.1M30.5,79.5h.1M25.9,60.3h.1M40,54.2h.1M22,51.4h.1M73.4,60h.1M28.2,59.6h.1M36.6,52.4h.1M26.3,43.4h.1M29.7,80.1h.1M66.6,52.6h.1M9.7,46.8h.1M54.2,58.6h.1M52.6,47.9h.1M7.8,38.8h.1M30.4,37.6h.1M46.2,45.5h.1M56.9,67.1h.1M54,19.5h.1M35.9,44.8h.1M54.7,20.5h.1M58.8,72.5h.1M60.7,76h.1M5.4,47.8h.1M50.8,30.4h.1M51.1,26.8h.1M61.3,29.3h.1M46.2,62.7h.1M16.7,57.1h.1M50.5,51.9h.1M31.5,52.4h.1M35.8,85.2h.1M57.4,50.2h.1M47.1,84.2h.1M29.9,75.7h.1M47.7,71.3h.1M16.1,73.5h.1M54.2,17.3h.1M12.7,37.2h.1M19.7,75h.1M54,28.7h.1M35.7,73.2h.1M22.7,53.8h.1M37.7,78.9h.1M51.9,29.6h.1M42.2,51.8h.1M33.4,56.2h.1M21.2,48.3h.1M35.3,16.9h.1M23.3,51.9h.1M18.9,78.6h.1M26.1,39.5h.1M19.6,38.4h.1M51.2,33.8h.1M16,70.1h.1M34.4,72.6h.1M36.4,33.7h.1M36.3,45.3h.1M64.2,24.5h.1M42.2,47.2h.1M35,33.9h.1M15.3,32.1h.1M74.2,49.3h.1M46.9,61.8h.1M53.8,51.9h.1M45.5,29.7h.1M48.1,53.8h.1M15.5,24.1h.1M66.1,63.2h.1M64.6,56.7h.1M27.8,61.2h.1M71.9,38.1h.1M34.9,17.2h.1M28.7,67.8h.1M61.4,44.7h.1M52.4,24.5h.1M22.4,40.3h.1M31.1,57.5h.1M54,32h.1M38,26h.1M32.5,37.8h.1M47.6,75.7h.1M37.3,49.2h.1M61,25.4h.1M31.2,35.8h.1M48.1,62.3h.1M48.2,48.1h.1M35.9,55.2h.1M73.1,57.2h.1M13.6,28.4h.1M21.2,62.7h.1M29.6,38h.1M60.1,79.6h.1M40.5,84.4h.1M55.6,55.2h.1M56.3,41.9h.1M51,35h.1M50.7,36.4h.1M38.2,59.6h.1M39.3,27h.1M42.3,22h.1M71.4,64.2h.1M65.6,42.6h.1M38.2,34.9h.1M32.8,34.3h.1M7,56.9h.1M53.3,24.4h.1M31.8,20.7h.1M50,24.8h.1M38.4,57.8h.1M69.1,51.9h.1M38.8,55h.1M53.4,70.6h.1M27.1,81.1h.1M50.5,46.9h.1M23,22.1h.1M51.5,60.7h.1M47.7,72h.1M51.7,18.3h.1M49.2,28.3h.1M58.1,68.7h.1M31.6,22.2h.1M49.9,31.7h.1M34.4,81.3h.1M23.6,45.5h.1M66.8,41.8h.1M31.6,24.9h.1M8.4,61.8h.1M25.8,35.3h.1M40.5,57.3h.1M19.6,53.7h.1M45.6,75.5h.1M52.6,20.3h.1M11.3,67.6h.1M7.9,53.8h.1M34.8,23.8h.1M32.5,70.1h.1M30.6,54.4h.1M22,34.3h.1M45.4,50.8h.1M27,35.7h.1M16.5,66.7h.1M32.9,63.7h.1M21.6,19.9h.1M35.6,57.5h.1M46,27.8h.1M35.9,30.3h.1M42.8,20.9h.1M53,22h.1M65.3,52.6h.1M62.7,45.6h.1M33.3,80.5h.1M72.9,62.7h.1M72.9,54.4h.1M43.8,57.7h.1M69.1,41.9h.1M41,44.4h.1M33,79.7h.1M39.2,58.4h.1M15,57.6h.1M24.3,19.3h.1M48,21.8h.1M26.1,59.2h.1M70.1,64.7h.1M26.7,40.2h.1M71.7,42.9h.1M45,54.1h.1M28.1,22h.1M65,41.4h.1M32.8,34.6h.1M39.4,62.6h.1M65.4,32.2h.1M55.3,29.4h.1M50.2,36.5h.1M29.4,34.5h.1M67.5,50.3h.1M30.4,24h.1M63.6,35.9h.1M8.7,63h.1M38,31.8h.1M21,37.7h.1M23.7,49.9h.1M22.1,54.8h.1M25.5,75.6h.1M26.4,69.8h.1M8.5,45h.1M30.7,83.6h.1M30,50.7h.1M22.7,52.2h.1M16,76.4h.1M8,50.6h.1M40.1,15.7h.1M47.6,24.1h.1" stroke="#fff" stroke-width="0.6" stroke-linecap="round" opacity="0.22"/>
</g></g>
<rect x="672.1" y="386.4" width="86.9" height="86.1" fill="#242424"/>
<g clip-path="url(#k16)"><g transform="translate(672.1 386.4)">
<ellipse cx="42" cy="50" rx="32" ry="30" transform="rotate(0 42 50)" fill="url(#rg)" opacity="0.25" filter="url(#gb)"/>
<path d="M26.1,40l-.8.7-.9.3-1 .1-1 0-.9-.4-.6-.8 0-1 .4-.9.6-.8.8-.6M57,53.7l.9.4 1-.2.8-.6.7-.7.2-1-.4-.9-.8-.6-1-.3-.9.3-.9.5M28,61.7l-.9.6-1 .2-.9.1-1 .2-1-.1-.9-.4-.9-.6-.3-.9.2-1 .8-.7M16.5,40.2l-.8.7-.4.8.1 1 .7.8.8.5 1 .2.9-.4 1-.3 1 .1 1 .1M46.4,35.2l-.2.9-.7.7-1 .2-.9-.3-.6-.9-.1-.9-.2-1-.7-.8-.7-.7-.8-.5M39.8,63.4l-.9.4-.5.9-.2.9.2 1 .4 1 .8.6 1 .1.9-.2 1-.1 1-.3M59.1,44.8l.4-.9.8-.7 1-.1.9.2.8.6.3 1 .4.9.2 1 .1 1 0 1M20.4,41.8l-1 .2-.9.5-.8.4-1 0-1 0-1 .2-1 .3-.9.1-1 0-1 .3M44.8,42.6l.1-1 .1-1 .1-1-.2-1-.4-.9-.4-.9-.8-.6-1-.2-1-.1-1 .2M38.6,27.1l-.7-.7-1-.1-1 .4-.5.9-.3.9 0 1 .5.9.8.7.8.4.9.5M68.7,35.8l.6.7 1 .3 1-.2 1-.2 1-.1.9-.1 1-.3M53.2,56.4l-1 .1-1 .3-1 .2-1-.2-.9-.3-.9-.4-.7-.7-.4-.9.2-1 .7-.7M47.1,68.9l-.7-.7-.3-.9.3-1 .8-.6 1 0 .8.5.8.6.8.6.7.8.1 1M64.4,73.1l-.8.6-.9.4-.9.4-1-.1-.7-.8-.3-.9.3-1 .7-.6 1-.1 1 .2M43.8,31.8l.6-.8 0-1-.6-.9-.9-.5-1 .1-.8.6-.3 1 .1.9.7.8 1 .2M50.8,43.7l.8-.5.6-.8.1-1 0-1 0-1 .1-1 .5-.9.8-.5 1 .2.8.6M24.4,59.8l.9-.5.7-.7.7-.8.8-.5.9-.5.7-.7.3-1 .2-.9.2-1 .2-1M45.8,44.5l0-1 .5-.9.1-1 0-1-.1-1-.1-.9-.2-1 .1-1-.1-1-.3-1M31.8,69.4l.9-.4 1 .1.9.4.6.7.3 1-.3 1-.7.6-1 .2-.9-.4-.5-.9M67.7,48.6l.8-.6.3-.9-.2-1-.7-.7-.7-.7-.8-.6-.9-.4-.7-.8-.2-1-.1-.9M61,66.3l-.8.6-1 .2-1 0-1-.1-1-.1-.8-.5-.6-.8-.8-.7-.9-.5-.9-.1M19.5,51.2l.7-.7.9-.4 1 .1.8.6.2 1-.2 1-.3.9-.4 1-.6.8-.8.6M41.8,22.4l-1-.1-.9.4-.4.9.1 1 .5.9.7.7.6.7.6.9.8.6.9.4M22.6,41.2l-1 0-1-.4-.6-.8-.5-.9.1-1 .6-.7 1-.3 1 .2.7.7.4.9M54.4,55.8l-.1-1 .1-1 .4-.9.7-.7.9-.4 1-.1 1 .2 1 .2.9.3.9.4M58.9,26.6l-.1 1-.1 1 0 1-.1 1-.3.9-.4 1-.2.9-.1 1-.2 1-.5.9M31.7,66.7l-1-.2-.8-.5-.6-.8-.3-1-.4-.9-.1-1 .2-1 .3-.9.6-.8.9-.4M21.6,59.9l-.5.8 0 1 .6.9.9.3 1 .1.8-.5.5-.9-.2-1-.6-.7-1-.2M54.6,26.9l-.4.9-.8.6-1 .1-1-.3-.9-.5-.7-.7-.6-.8-.2-1 .2-1 .8-.6M52,61.3l-.9.5-.6.8-.3.9 0 1 .3 1 .6.8.7.7.7.7.7.7.8.6M29.2,73.4l.2-1 .4-1 .6-.8 1-.3.9.2.8.7.3.9-.1 1-.6.8-.7.7M58.9,72.9l.9-.5.8-.6.6-.8 0-1-.5-.9-.9-.4-1-.2-1-.1-.9.4-.4.9M44.4,49.8l.6-.8.5-.8.8-.6 1-.2 1 .2 1 .1 1 .1.9-.4.6-.8.1-1M23.7,71.4l-.2 1-.2 1-.6.7-.7.8-.8.5-1-.1-.9-.5-.6-.7-.5-.9-.5-.9M67,34.5l-.8-.6-.3-.9.1-1 .6-.8 1-.2 1 .1.7.7.3.9-.1 1-.6.8M39.5,24.6l.1-1 .5-.8.7-.7 1-.2 1 .2.8.5 1 .3.8.5.6.8.2 1M51.4,50.9l.1 1 .4.9.5.9.9.5.9.3.9.5 1 .1.9-.5.5-.9-.1-1M33.9,32.3l0-1 .6-.8 1-.3 1 .1.8.6.4.9.4.9.3 1 .6.8.6.8M9,48.5l-.9-.4-1 .1-.8.6M65.1,65.8l1 .3 1 .1.9.3.9.5.9.4.7.7.2 1-.5.9M56.2,43.1l.4.9.4.9.6.8.7.7.8.6.9.4.9.6.7.7.5.9.6.7M22.8,64.8l.8-.5.8-.7.9-.4 1 .1.7.7.5.8.6.9.4.9-.2 1-.2 1M48.3,69.1l-.9.4-.8.6-.9.5-.6.7-.3 1 .2 1 .8.7.9.2 1 0 .9.4M25,60.2l-.3-1-.6-.8-.9-.4-1 .2-1-.2-1-.2-1 0-1 .2-1 0-1 .1M38.9,51.2l.5.8.2 1-.2 1 .1 1 .5.9.9.5.9.2 1-.2.7-.7.7-.7M61.1,36.7l-.2 1-.7.7-.9.5-.8.6-.3.9.2 1 .7.7 1 .2 1-.3.7-.7M27.4,52.5l-1 .2-.8.6-.2 1-.2 1 .2 1 .4.9.8.6 1 0 .9-.6.4-.9M17.2,55.9l.8.6.6.8 0 1-.5.9-.9.4-1 0-.9-.3-.8-.7-.3-1-.2-.9M9.3,41.5l-.2-1-.7-.7-1-.4M40.9,23.1l.4-1 .7-.7.7-.7.9-.5.9-.3 1 .2.7.7.2 1-.1 1 .1 1M55.8,57.8l-1-.3-.6-.7-.2-1 .4-.9.8-.6 1 .1.8.6.6.8.6.8.5.8M46.5,61l-1-.2-1 .3-.6.7-.6.8-.1 1 .3 1 .6.8.8.5.8.7.8.6M43,67.6l-.8-.5-1-.2-.9-.2-1-.1-1-.4-.8-.6-.6-.8-.1-1 .4-.9.4-.9M15.9,62.3l.3.9.8.6 1 .3 1-.1.9-.4.6-.7.6-.9.2-1 .1-.9.3-1M50.7,57.7l.5-.8.9-.4 1-.3 1 .2.7.7.2 1-.4.9-.8.6-1 .1-1-.1M58.9,47.6l1-.1.9.5.5.8.5.9.8.6.9.3 1 .4.9.4.8.6.8.6M51.5,70.4l1 .3 1-.1 1 0 1-.3.6-.8 0-1-.5-.8-.9-.5-1 .2-.9.3M62.3,68.4l1-.1 1 .2.9.4.5.8 0 1-.6.8-.6.8-.2 1 .5.8.9.5M75.8,50.4l-1 .1-.9-.6-.5-.8-.1-1 .6-.9.9-.4 1 .2.7.8.3.9 0 1M33.7,53.9l-1 .4-.5.8 0 1 0 1 .3 1 .5.9.5.8.3 1 0 1-.6.8M46.5,58.6l-.2-1-.4-.9-.9-.5-1-.1-1 .1-.9.3-.8.7-.2.9-.4.9-.6.8M64.5,30.3l1-.1.9.5.6.7.4 1 .3.9.2 1 .1 1-.1 1-.2 1-.6.7M45.6,67.2l.8.6.6.8.3 1 .4.9.5.9.2 1 .5.8.7.7 1 .3 1 .2M49.8,59.6l-.6-.8-1-.3-1-.2-.9.2-1 0-1-.3-.8-.6-.8-.5-1-.2-1 .2M68.6,60.7l-.2-1-.4-.9-.7-.7-.8-.6-.8-.6-.5-.9-.1-1 0-1 .3-.9.7-.8M60.9,42.7l-.4.9.2 1 .7.7.9.4 1-.1.9-.4.7-.8.6-.8 0-1-.2-1M64.7,27.2l-1-.1-.9.5-.7.7-.3.9.1 1 .5.9.9.4 1-.2.8-.6.3-.9M64.1,39.1l-.9-.5-.8-.5-.9-.4-1-.3-1 0-.8.6-.6.8-.1 1 .2.9.4 1M73.7,57.3l-.3-.9.1-1 .1-1 0-1-.1-1-.4-.9-.7-.7-1-.3-.9.3-.8.6M44.3,24.3l.9.3.9.4.9.5.7.7.5.9-.1 1-.4.9-.5.9-.3.9-.4.9M48.8,53.3l1 .3.6.8 0 1-.2.9-.8.7-1 .1-.9-.3-.9-.5-1-.2-1-.1M31,20.8l.7-.6.3-1-.3-1M22.2,45.5l.7.7 1 .1.9-.5.5-.8.6-.8 1-.3 1 .3.9.4.9.3 1 .2M33.2,78.3l-.2 1-.3 1-.5.9-.2.9M40.6,49.3l-.2.9-.8.7-1 .3-.9.4-.8.5-.9.5-.8.5-.9.6-.7.7-.6.8M37.5,58.4l.6.9-.1 1-.4.8-.7.8-.7.7-.6.8-.8.5-.9.4-1 .1-1-.5M22.2,56.3l1 .1 1 .3.9.4.4 1-.1.9-.7.8-.8.5-1 .1-.8-.6-.4-.9M10.3,40.6l-1 0-.8.5-.7.8-.9.3M29.8,58.8l.6.7.8.7.9.3 1 .1.9-.5.5-.9.4-.9 0-1 .3-1 .5-.8M59.2,30.7l0-1 .4-.9.9-.4 1-.3 1-.1 1 0 1-.3 1 0 1-.1 1 .1M42.1,66.5l.4-1 .4-.9.5-.8.8-.7.7-.7.8-.6.7-.7.8-.6.8-.6 1-.3M42,39.4l-.4.9-.8.6-1 .1-.9-.4-.4-.9-.3-1 .1-1 .4-.9.5-.8.3-1M46.2,60.7l.5-.8.7-.8.7-.7.9-.5.9.2.9.5.7.7.8.7.9.3 1 .1M35.7,52.7l-1-.1-.8-.7-.6-.8-.7-.6-.7-.8-.6-.8-.8-.6-.9-.5-.8-.5-1-.3M62.4,73.6l.5.8.9.5.9.4M41.1,80.5l-.9.3-1 .3-1 .1-1 .1-.9.3-.5.9M38.1,75l1 0 .9.5.8.6 1 0 1 0 .9-.5.5-.8-.1-1-.4-1-.6-.8M20.1,29.1l-.8.6-.7.7-.6.8-.8.6-1 .3-.8.5-.8.6-.7.8-.9.4-1 .2M41.2,49.7l-.9.3-1-.2-.7-.7-.4-1 .2-.9.7-.7 1-.2 1 .2.6.8.4.9M39.8,42.1l1 .2 1 .2 1-.2 1-.2.7-.6.4-1 .1-1 0-1-.2-.9-.1-1M18.2,35l.6-.7.3-1-.3-1-.5-.8-.6-.8-.3-1 .1-1 .3-.9.3-1 .7-.7M35.8,74.2l.6-.9 0-1-.5-.8-.6-.8-.8-.7-.7-.6-.9-.4-1-.2-.9.5-.6.8M53.2,41.9l1-.2 1 0 .9.4.4.9-.1 1-.5.8-1 .4-1 .1-.8-.5-.9-.4M60.9,36l-.9.2-1 .4-.8.5-.9.4-.9.6-.5.8-.1 1-.3 1-.4.9-.6.8M30.9,63.9l.9.4.9.4.7.8.2 1-.1 1-.2.9-.4 1-.1 1 .2.9.4 1M41.5,49.7l-.3-.9-.8-.6-1-.3-.9.3-.9.5-.9.4-.9.5-.7.7-.8.6-.9.3M25.6,43.7l.6-.8 1-.3.9.4.8.7.2.9 0 1-.3 1-.5.9-.8.4-1-.1M20.2,57.3l1-.1 1 .1 1 .2 1 .2.9.5.5.8.1 1-.3.9-.3 1 .2 1M38.9,33.6l-.8-.6-.9-.4-1-.4-.7-.6-.4-1 .3-.9.7-.8.7-.6.9-.6.9-.2M28.5,46.6l.9.4.8.5.8.6.8.6.7.8.2.9.2 1 .5.9.4.9-.1 1M33.7,25l-.2 1-.7.8-.8.5-1-.1-.8-.6-.6-.8-.6-.8-.3-1-.4-.9-.5-.8M35.8,44.4l-.6.7-.7.8-.8.6-.9.4-.7.7-.6.8-.4.9-.2 1-.2 1 .2 1M25.9,44.4l-.7-.8-.4-.9 0-1 .6-.8 1-.4.9.3.8.6.6.8.2 1-.3.9M58.4,24.1l-.9-.5-.5-.8 0-1 .2-1 .1-1M34.1,44.7l-.1-1-.1-.9.1-1 .3-1 .5-.9.6-.8.6-.7.9-.6.9-.4.9-.2M64.1,40.2l1 0 1-.1 1-.1 1 .1.8.6.7.7.8.7.8.5.8.7.7.6M39.7,52.3l.9-.4.9-.5.8-.6.7-.7.5-.9 0-1-.5-.9-.8-.6-1-.1-.9.2M46.3,70.9l.1-1-.1-1-.5-.8-1-.4-1-.1-.9.3-.8.6-.5.9-.3.9 0 1M54.5,33.6l.8.4.5.9.2 1-.4.9-.9.6-1 .1-1-.1-1 .1-.8.5-.4.9M49.4,35.1l.9-.3 1-.1 1 .1 1 0 1 0 .9.4.8.7.7.6.6.9.5.8M50.6,23.7l1-.1.9-.5.4-1 .1-.9.5-.9.8-.6 1 0M27.6,53.7l.4-.9.3-.9.4-1 .6-.8.3-1-.1-.9-.2-1 .4-1 .8-.5 1 0M59.8,59.1l1 0 .8.5.5.8 0 1-.2 1-.3 1-.3.9-.1 1-.5.9-.6.8M41.9,27l-.6-.8-.3-.9-.2-1 0-1 .1-1 .1-1 0-1 0-1-.1-1 .4-.9M73.3,38.1l-.2-1-.2-1 .4-.9.9-.5M31.7,76.4l.7.7.7.7.3 1 0 1 .3.9.3 1M27.6,54l-.7-.6-.9-.4-1 0-1 .4-.8.6-.5.8-.3 1 0 1-.2 1-.3.9M49.2,44.6l-.7-.7-.9-.5-.9-.5-1-.1-.9.2-1-.1-.8-.7-.5-.8-.1-1 .3-1M61.7,53.8l-1-.3-1-.1-1 .3-.8.5-.4.9.2 1 .6.7 1 .3.9-.4.9-.5M65.1,51.3l1 .1.8.6.3 1-.2.9-.8.7-1 .3-.9.2-1 0-1-.3-.9-.4M35.4,65.1l-.5-.9-.9-.4-1 .2-1 0-.9-.4-.7-.7-.5-.9-.5-.8-.9-.4-1 .1M63.5,28.9l-.3-.9-.4-.9-.3-1-.4-.9-.4-.9-.1-1 0-1M48.6,47.4l-.5.9-.2 1 .3.9.7.7 1 .2 1-.2.9-.4.8-.5.6-.8.6-.8M19.3,72.5l.1 1 .1 1 .2 1M18.1,30.1l-.8.5-1 .1-1-.2-.7-.7-.3-.9M43.2,22.8l1 0 1 .1 1 .3.9.4.8.7.5.8.3 1 0 1-.4.9-.8.6M51.5,27.3l-.1 1 .2 1 .4.9.2 1-.2.9-.5.9-.8.6-1 .1-.8-.5-.5-.9M40.1,50.6l.7-.7 1-.2.9.4.5.9.6.8.5.9.3.9.5.9.4.9.2 1M33.6,29.1l.8.5.7.7.4 1-.3.9-.6.8-1 .3-.9-.3-.7-.7-.3-1-.2-1M75,54l.4-.9.5-.9.6-.8.6-.8.8-.6M56.6,51.2l-.9-.5-.6-.7-.8-.7-.5-.8-.1-1 .6-.8.9-.4 1-.1 1 .1 1 0M15.5,53l.7.7.7.8.2.9.1 1 .4.9.7.8.9.3 1-.3.9-.3 1-.3M25.9,35.8l1 0 1-.1 1 0 1 .1 1 .2.9-.3.8-.7.5-.9-.1-.9-.2-1M65.5,66.8l-.5-.8-.7-.7-.9-.5-.9-.3-1-.1-1-.1-1 0-1-.2-.9-.4-.9-.5M32.9,47.9l-.6.9-.3.9.2 1 .7.7 1 .2 1-.1.9-.4.5-.8.2-1-.3-.9M61.1,74.6l.7.7.1 1-.4.9-.7.7M34.1,56.5l.7.8.3 1 .8.6 1 .2.9-.3.9-.5.7-.6.5-.9.5-.9-.1-1M49.7,49.4l.6.8.2 1-.1 1-.4.8-.5.9-.4.9-.3 1 0 1 .6.8.8.6M31.3,45.2l1 .2.9-.4.8-.6.5-.9-.1-1-.5-.8-.9-.5-1 .2-.9.5-.4.8M57.7,34.6l.1-.9-.1-1-.2-1-.5-.9-.5-.9-.5-.8-.8-.7-.9-.2-1 .4-.6.8M54.1,53.8l-.1-1 .1-1 .2-.9.5-.9.6-.8.5-.9.5-.8.7-.8.8-.5.9-.5M53,32.3l.2-1 .5-.8.9-.5 1 .1.8.6.4.9.1 1 0 1-.5.9-.5.8M28.1,39.9l.4.9.8.6.5.9.1 1-.1 1-.2 1-.3.9-.6.8-.9.3-1-.3M51.2,34.3l-.8-.6-.4-.9.1-1 .6-.8.9-.5 1-.2 1 0 .9.4.6.8.6.8M47,59l-.7.6-.2 1-.1 1 .2 1 .1 1-.1 1-.4.9-.4.9-.4.9-.5.9M65.7,57.1l.4-.9.2-1-.3-1-.7-.7-.9-.3-1 .3-.6.8-.4.9-.8.6-.9.4M20.7,47.9l-1-.1-1-.2-1-.3-.9-.5-.8-.5-.6-.8-.5-.9-.3-.9.1-1 .4-.9M41.6,38.8l-.9-.5-.8-.6-.8-.6-1-.2-1-.1-1-.1-.9.3-.9.5-.4.9.1 1M36.6,38.2l-.8.5-.9.6-.7.7-.6.8-.4.9-.4.9-.6.8-.5.9-.3.9-.2 1M46.5,53.4l-.9-.2-1-.1-1 .3-.9.3-1 .3-.9.5-.8.5-.9.4-1 .3-1 .1M44.8,49.2l1-.2.6-.8.4-.9.1-1-.2-1-.1-1 .3-.9.7-.8.9-.4 1 .1M53.2,29.7l.9.5.8.6 1 .3.9.3.9.4 1 .2 1 .4.8.5.7.7.2 1M40.8,22.3l-.3 1-.3 1-.4.9-.8.6-.9.3-1 .3-.9.3-.8.6-.6.9-.6.7M33.9,48.7l-.6.7-.3 1-.1 1 .5.9.8.5 1-.1.9-.4.7-.7.4-.9 0-1M34.5,37.9l-.6-.7-1-.3-.9.4-.9.5-1 .3-.9-.3-.6-.8-.5-.9-.1-.9-.1-1M43.5,65.6l-.9.6-.7.6-.5.9-.6.8-.3 1 0 1 .2 1 0 1-.3.9-.5.8M51.6,37.6l.2 1-.5.9-.7.8-.8.4-.9.5-.9.4-.8.6-.9.5-.9.5-.8.7M62.2,66.5l-.8.5-.9.5-.6.8-.4.9-.5.9-.6.8-.7.7-1 .2-1-.2-.7-.7M57,66.9l-.9.5-.9.5-.4.9.1 1 .7.8.8.6.9.4.9.4.9.4 1 0M68.9,32l.9.1 1-.3.6-.8M66.6,51.5l-.1 1-.7.8-.6.7-.6.9-.9.4-.9.5-.8.5-.8.7-.9.2-1-.3M30.3,57.4l.9-.3.9-.5.8-.5 1-.4 1 0 .8.5.6.9 0 1-.5.8-.8.6M37.7,51l-.2 1-.1 1 .3.9.3 1-.1 1-.7.7-1 .3-.9-.3-1-.2-.9-.3M14.1,40.4l.7-.7.6-.8.9-.5 1 .1.8.7.2.9.1 1-.5.9-.6.8-.5.8M63.7,26.6l-1 .2-1-.2-.6-.8-.7-.7-.2-1-.1-1 0-1 .5-.8M73.4,47.5l.3-.9-.2-1-.7-.7-1-.3-1 .1-.7.6-.9.5-1 .3-1 .2-.9.3M13.1,45.5l.9.5.8.6 1 .2 1 .1 1 .1.9.3 1 .2 1 .2.9.3.7.8M61.2,30.4l.5.9 0 1-.4.9-.8.6-1 .3-.9-.2-.9-.5-.7-.7-.1-1-.3-1M48,79.2l-.9.6-.9.1-1-.4-.5-.8 0-1 .5-.9 1-.4 1 .1.9.2 1 .1M64.9,57.9l.5.9.9.4 1-.1.9-.4 1-.3 1-.2.9-.3 1-.2 1 .1.7.6M47.1,56.2l-.4.9-.5.9-.5.9-.7.7-.9.4-1 .2-1 0-1-.1-.7-.7-.7-.7M19.1,50.8l1-.3 1 .3.6.7.1 1-.5.9-.8.6-1 .1-.9-.4-.7-.7-.3-1M12.7,60.4l.9.5.4.9-.2 1-.5.8-.9.5-1 0-.9-.4-.8-.7-.4-.9.1-1M71.2,61.4l-.2-.9.2-1 .8-.7.9-.3 1-.3.8-.4.5-.9.3-1 .2-1-.4-.9M40.2,70.7l-.6-.9-.5-.8-.6-.8-.7-.8-.8-.6-.5-.8 0-1 .5-.8.8-.6 1-.4M44.5,71.9l-.9.4-.8.6-1 .4-.9 0-.9-.5-.4-.9.1-1 .2-1 .5-.9.8-.5M42.8,71.9l-.1-1-.7-.7-1-.2-1 .2-.8.6-.8.5-.5.9-.2 1-.6.8-1 .4M42.5,39.2l-1 .1-1 0-1 .1-1 .2-1 .2-.9.5-.8.5-.4 1 .3.9.7.7M25.4,52.6l.8-.5 1 0 .8.6.5.9.2 1-.4.9-.8.5-1 .4-.9.1-1 0M40.1,54l-.3 1-.9.5-1 0-.9-.3-.9-.5-.6-.7-.5-.9-.5-.9-.8-.6-.8-.6M25.6,68.3l-.4-.8-.8-.7-.8-.5-.4-1 .2-1 .7-.6 1-.3 1 0 1 .2.8.6M54.9,24.8l-.9-.5-.8-.6-.8-.6-.8-.7-.6-.7-.5-.9-.4-.9-.3-1-.2-1M64.8,46.6l-.9.2-.7.8-.2.9-.5 1-.5.8-.7.8-.8.5-1 .1-.9-.5-.4-.9M53.8,29.2l-.3 1-.5.8-.9.5-1-.1-.8-.6-.4-.9.2-1-.1-1-.6-.7-1-.3M40.9,61l.7.7 1 .3 1 .1 1 0 1 .1 1-.1 1 .1.9.3.8.6.5.9M28.6,50.5l1 0 .8-.6.4-1-.1-1-.4-.9-.7-.6-1-.3-1 0-.9-.4-1-.3M34.2,60.9l.7.6.9.5 1 .2.9.4.7.7.7.7.4.9.5.9.5.9.4.9M46.7,29.9l-.5.9-.1 1 .3.9.9.6.9.4.9.5.7.6.3 1-.4.9-.3.9M31.4,24l.9-.2 1-.2 1-.3.5-.9.2-.9-.4-1-.8-.6-1-.3-.9-.1-1 .1M46,50.1l-1 .3-.7.7-.7.7-.4.9-.1 1 0 1 0 1-.2 1-.4.9-.7.7M37.3,66.5l-.9.5-.5.8-.1 1 .4.9.7.8.5.8.4 1 .3.9.3 1 .1 1M12.9,61.5l-1 .1-1-.3-.9-.4-.7-.7-.6-.8-.6-.8-.9-.5M65.2,37.6l.8-.5.7-.8.7-.6.8-.8.6-.7.3-.9.2-1 .1-1 .1-1-.1-1M34.6,39l.4-.9.6-.8.9-.5.9-.2 1 .3.5.8.2 1 .1 1 .2 1 .8.6M59.4,76.6l.9.4.8.6M62.7,28l.3.9.8.6 1 .3.9-.4.8-.6.9-.4 1 0 1 .4M61,48.3l-.5-.8-.9-.4-1-.4-.7-.6-.5-.9 0-1 .5-.8.9-.4 1 .1.9.4M39.9,46.1l.4.9-.1 1-.7.8-.9.2-1-.4-.5-.8-.2-1 .1-1 .4-.9.8-.6M58,35l-.3-1-.6-.8-.9-.4-.9-.3-1 .3-.6.7-.4.9-.1 1 .5.9.9.6M26.8,38.7l-.8-.6-.5-.8-.3-1-.3-.9-.7-.8-.6-.8-.4-.9-.8-.7-.7-.7-.5-.8M27.4,70.8l.3-1-.1-1-.3-.9-.9-.6-1 0-.8.4-.6.9-.2.9.3 1 .8.6M67.2,39.6l-.7.7-1 .4-1 0-1 .1-.9-.5-.9-.4-1 0-.9.4-.8.6-.7.7M72.6,43.6l-.5-.9-.4-.9-.2-1 .3-1 .6-.8.8-.6.8-.6.8-.6M42.8,57.5l-.9-.4-.9-.4-1-.3-1-.2-.9-.2-1 .1-1 .3-.8.5-.8.6-1 .4M10.8,57.1l.3 1 .6.8.8.5 1 .3 1 0 1-.2.6-.8.3-1-.4-.9-.8-.6M37.6,43.8l.7-.6.3-1-.2-1-.7-.7-1-.1-.9.4-.5.8-.6.9-.6.7-.8.7M18.4,48.7l-.9.4-.7.8-.2.9.2 1 .3 1 .3.9.1 1-.3 1-.1 1 .3.9M26.4,52l-.9-.3-1 0-.9.3-.8.7-.3 1-.2.9-.2 1-.1 1 0 1-.4.9M56.4,47.9l.9.4.7.7.5.9.3.9 0 1-.6.8-1 .4-.9-.2-.7-.7-.2-1M16.7,59.2l-1 .2-.9.3-1 .3-.9.3-1 .2-1-.1-1-.1-.9.3-.8.7M31,56.6l1 .3.9.3.9.4.7.8.6.8.2 1-.4.9-.5.9-.5.8-.5.9M37.6,42.7l.1 1 .6.8.7.7.9.4 1-.1 1-.2.9-.5.9-.4.9-.4.7-.7M40.8,74.8l-.9.4-.5.8.1 1 .6.8.9.5 1-.1 1 .2 1 .1.9-.3.9-.4M33.7,57.9l-.5-.9.1-1 .7-.7.8-.5 1-.3 1 0 .9.4.9.6.8.6.8.5M27.8,72.4l-1 0-.9.4-.9.5-.6.8-.5.9-.5.8-.3 1-.3.9M66.2,49.4l-.7-.7-1-.1-.9.4-.7.7-.2 1 .1 1 .1 1-.1 1-.3 1-.4.9M57,57.6l-.1-1-.1-1-.3-.9-.6-.8-.8-.5-1-.1-1-.1-1-.2-1-.2-1-.2M42,56.4l.1 1-.1 1-.4.9-.7.7-.8.6-.6.8-.3 1 0 1 .2 1 .8.6M25.7,43l1 .1.9-.5.4-.9.2-.9-.3-1-.6-.8-1-.3-.9.2-.8.7-.4.9M31.5,69.5l-.8-.6-1 0-1-.1-.9.3-1-.1-.9-.5-.4-.9.1-1 .4-.9 0-1M25.2,48.4l.7-.7.5-.8.4-1 .1-1 .2-.9.4-.9 0-1-.2-1-.2-1 .1-1M40.1,75.3l-1-.2-.9.4-.8.7-.8.6-1 .1-1 0-1 .1-1 .2-.9.3-1 .3M45.2,45l-.5.8-.7.7-1 .3-.9.4-1 .2-1 .2-.8.5-.8.6-.6.8-.2 1M38,78.3l-.2 1-.8.6-1 .1-.9-.4-.6-.8-.1-1 .6-.8.9-.4 1 0 .8.5M58.4,44.1l-.3-1-.2-1-.6-.8-.9-.5-1 .1-.8.6-.6.8-.1 1 .4.9.9.5M72.7,47.4l.6-.8.5-.9.5-.8.3-1 0-1-.2-1-.5-.8-.8-.7-.9-.4-1 .2M45.8,21.6l-1 0-1-.4-.6-.7-.1-1 .4-.9.9-.5 1-.1 1 .1 1 .1.9.5M37.4,61.6l-1 .3-.9-.2-.6-.8-.1-1 .4-.9.9-.5 1 0 .9.5.5.8 0 1M54.6,21.5l.6-.8.9-.4 1 .1M38.5,45.2l-.5-.8-.8-.6-1 0-.9.3-.6.8-.3 1-.2 1-.2 1 .1 1 .6.8M68.5,53.6l-.9-.4-1-.1-1 .1-1-.1-.9-.2-1-.1-1-.1-1-.3-1-.1-1 .1M34.2,50.7l.8-.6.7-.8.1-1-.3-.9-.8-.6-1-.1-.9.5-.5.9-.2 1 .3.9M27.7,72.6l-.8.6-.6.8-.5.9-.4.9 0 1 0 1 .4.9.5.9M48.8,30.1l-.1 1 .4.9.9.5 1 0 1 .2.8.6.9.4.9.2 1 .1 1-.2M29.2,46.1l-.7.7-.5.9-.4.9-.9.5-1 0-.8-.6-.5-.9-.4-.9-.1-1-.4-.9M33.3,64l1 .1.8.7.7.7.3 1 .2.9.2 1 .4 1 .6.8.9.3 1 0M19.9,31.4l.4-.8-.1-1-.6-.8-.6-.8-.2-1-.2-1-.3-.9M68.4,59.6l.3.9.7.8.9.4 1-.1.7-.7.2-1-.4-.9-.8-.6-1 0-.9.6M42.5,47.3l-.4.9-.8.6-.9.5-.9.4-1-.1-.7-.6-.4-1 0-1-.1-.9.3-1M39.6,29l-.4-.9.1-1 .6-.8.9-.4 1 .2.8.7.6.8.3 1 .1.9 0 1M31.7,75l1 .3.9-.3.7-.8.4-.9.6-.8.7-.6.9-.5.8-.6.7-.8.2-1M57.8,24.6l-.2.9-.4.9-.3 1 .1 1 .2 1-.1 1-.2 1-.5.8-.8.7-.9.3M59.5,57.9l-1-.1-.9.4-.6.8-.4.9-.5.8-.8.6-.9.6-.8.6-1 .1-.9-.4M14.3,53.5l-.4.9.2 1 .7.6.8.7.6.8.2 1-.3.9-.3 1-.6.8-1 .4M49.1,52l.9-.4 1 0 .8.6.3 1 .3.9.8.7.8.5 1 .1 1-.3.7-.7M17.9,51.1l.9-.6.4-.9.3-.9.4-.9.5-.9.4-.9.2-1-.3-.9-.8-.6-1 0M31.3,36.6l1 .1.9-.6.4-.9.1-1-.2-.9-.8-.7-1-.2-1 .1-1 .1-.9-.5M29.4,53.7l-1-.2-.9-.3-1-.3-1-.1-1-.1-1-.1-1 .1-1-.2-.7-.7-.6-.8M50.3,25.9l1 0 .8.5.8.6.4.9-.3 1-.7.7-1 .1-.9-.4-.6-.8-.5-.8M47.5,48.9l1-.2 1 0 1 .1 1-.1 1-.1.9-.5.9-.4 1-.2.9.5.8.6M31.7,77.6l.2-1 .1-1-.1-1-.6-.8-.9-.5-.8-.5-1-.2-1 0-1-.1-1-.1M54.9,41.3l-.6.8-.6.9-.1.9.1 1 .5.9.9.4 1-.1.7-.6.3-1-.2-1M26,25.5l.9-.6.9-.3 1 .2.8.6.2 1-.3 1-.4.9-.7.7-.9.4-1-.2M18.9,60.6l.8-.5.4-.9-.1-1-.7-.7-.9-.3-1 .4-.6.8-.3.9-.2 1-.2 1M56.5,52.8l.6-.8.5-.9.4-.9.6-.8.9-.3 1 .1.9.4.9.5.5.8.4.9M41.1,52.7l0-1-.6-.8-1-.3-1 0-.9.4-.5.9-.6.8-.6.8-.8.6-.9.4M44.9,39.9l-1-.2-1 .2-.8.5-.6.8-.4.9-.8.7-.8.6-.6.8-.4.9-.5.9M50.4,43.5l.8-.5.7-.8.4-.9.6-.8.9-.3 1-.1 1-.2 1-.3.8-.5.5-.9M75.7,52.3l-.3 1-.1 1 .3 1 .7.6 1 .4M20.8,53.2l-1-.3-.7-.8-.4-.8-.2-1 .2-1 .8-.7.7-.7.8-.5 1-.2 1 .2M59.7,56.4l1 .2.8.7.3.9-.3 1-.7.6-.7.8-.4.9.2 1 .6.8.7.7M70.5,55.5l.9.4.8.7.4.9-.1 1-.4.9-.7.6-1 .2-1-.3-.8-.5-.7-.7M45,56.4l.1-1 .2-.9.1-1 .1-1-.1-1-.2-1-.5-.9-.5-.8-.9-.5-1 0M42.7,27.7l.8-.6.6-.8.3-.9-.1-1-.4-.9-.7-.7-.9-.4-1-.1-1-.1-.9-.4M35.1,22.4l-.5.9-.3.9-.1 1-.2 1-.4.9-.4.9-.2 1-.3 1-.5.9-.8.6M22.8,27l.1 1 .5.9.5.8.8.6.9.4 1-.1.8-.6.2-1-.3-.9-.8-.7M16.8,49.7l-.4.9-.3 1-.3.9-.1 1-.2 1-.3 1-.3.9-.8.7-.7.7-.8.5M36,38.7l.7.7.5.8.6.9.4.9.6.8.3.9.3 1 .2 1-.2.9-.8.7M15.7,35.1l-.9.4-1 0-.9-.4-1-.4-.9-.4-.9-.3M45.2,65.2l.8-.7.2-.9.1-1-.6-.9-.7-.6-.6-.8-.5-.9.1-1 .5-.9.4-.9M45.1,53.3l.8.7.6.8.7.7.5.8.7.8.9.4 1 .2 1 .1 1 .1.9.4M35,55.9l-.5-.9-.9-.3-1 .2-.8.6-.7.7-1 .4-.9.3-.8.5-.6.9-.2.9M44.5,51.7l-.6-.9 0-1 .5-.8.9-.5 1 0 .9.4.7.7.1 1-.4.9-.9.5M29,53.5l.3-1-.2-1 0-1 .1-1 .2-.9.4-1 .8-.6.9-.3 1-.2.9-.4M42.8,50.8l-.7.7-.8.7-.8.5-1 .3-1-.1-.9-.4-.8-.7-.7-.7-.6-.8-.4-.9M54.4,72.3l-.6-.8-.7-.7-1-.3-.9.1-.8.7-.5.8-.1 1 .5.9.7.7 1 .2M69.7,60.8l.3-1 .1-1 .1-1 0-1-.2-1-.3-.9.1-1 .7-.7.9-.5.8-.6M70.2,60.1l-.1 1 0 1 .2 1 .4.9.6.8.7.7.6.8.4.9M15,51.5l-.2-1-.2-.9.4-1 .8-.5 1-.1 1 .1.8.5.4.9-.2 1-.7.7M12,61.9l-1 .4-.8.5-.8.6" fill="none" stroke="#fff" stroke-width="0.8" stroke-linecap="round" stroke-linejoin="round" opacity="0.5" filter="url(#b3)" stroke-dasharray="1.1 0.5"/>
</g></g>
<rect x="35.1" y="481.0" width="85.7" height="86.4" fill="#242424"/>
<g clip-path="url(#k17)"><g transform="translate(35.1 481.0)">
<ellipse cx="31" cy="52" rx="4" ry="4" transform="rotate(0 31 52)" fill="url(#rg)" opacity="0.5" filter="url(#gb)"/>
<ellipse cx="40" cy="46" rx="3" ry="3" transform="rotate(0 40 46)" fill="url(#rg)" opacity="0.35" filter="url(#gb)"/>
<ellipse cx="37" cy="61" rx="3" ry="3" transform="rotate(0 37 61)" fill="url(#rg)" opacity="0.35" filter="url(#gb)"/>
<ellipse cx="55" cy="55" rx="28" ry="31" transform="rotate(0 55 55)" fill="url(#rg)" opacity="0.45" filter="url(#cl1)"/>
<path d="M10,0 C16,8 14,14 22,22 C28,28 30,36 36,42" fill="none" stroke="#fff" stroke-width="8" stroke-linecap="round" opacity="0.14" filter="url(#b15)"/>
<path d="M10,0 C16,8 14,14 22,22 C28,28 30,36 36,42" fill="none" stroke="#fff" stroke-width="4" stroke-linecap="round" opacity="0.3" filter="url(#b15)"/>
<path d="M46,30 C52,24 58,28 64,20 C68,16 72,14 76,16" fill="none" stroke="#fff" stroke-width="7" stroke-linecap="round" opacity="0.12" filter="url(#b15)"/>
<path d="M46,30 C52,24 58,28 64,20 C68,16 72,14 76,16" fill="none" stroke="#fff" stroke-width="3" stroke-linecap="round" opacity="0.28" filter="url(#b15)"/>
<path d="M60.1,43.6l.2-1 .7-.8 1-.2 1-.1 1 .1 1 .1.9.1 1-.1 1-.1 1-.2M66.2,45.3l-.9-.5-.9-.4-.9-.4-.9-.5-.7-.6-1-.3-1 .2-.8.5-.8.7-.6.7M71.5,43.3l.1 1 .4.9.5.9.2 1-.2.9-.6.9-.8.6-.9.4-1-.2-.9-.5M31.7,52.9l-.9.3-.9.3-.8.6-.5.9-.1 1 .4.9.6.8.6.8.9.5.9.3M75.6,67.8l-.6-.8-.8-.7-.9-.4-1 .1-.8.6-.3.9.1 1 .5.9.6.8.4.9M54,57.6l.6.8.1 1-.3 1-.4.9-.5.9-.5.8-.6.9-.7.6-.6.8-.3 1M48.6,28.7l.4-.9.8-.6 1-.2 1 0 1 .2.9.3.9.5.8.5.6.9.2.9M64.6,70.2l.8-.6.6-.8.6-.8.5-.9.6-.8.7-.6.8-.7.7-.7.7-.7.8-.6M70.2,62.7l.7-.8 1-.2.9.3.9.4 1 .1 1-.1.9-.4.9-.4.9-.4.9-.5M54.5,71.1l-.2 1-.6.8-.8.5-.9.5-1 0-1-.3-.8-.6-.6-.8 0-1 .4-.9M37.1,59l-.8.6-.8.6-.3 1 .2.9.5.9.8.6.7.7 1 .3 1 0 1 .1M58.9,70.1l0 1 .3.9-.2 1-.4.9-.5.9-.7.7-.9.4-1-.3-.7-.7-.4-.9M59.4,49.7l.9-.5 1-.3 1 0 .9.2.8.7.2 1-.4.9-.9.6-1 0-.8-.5M62.1,63.4l-.8.6-.4.9.1 1 .5.9.8.6 1 .3.9.4.9.4 1 .2 1 0M60.5,38l-.8.6-.8.6-.9.4-.9.4-.8.6-.7.7-.9.6-.8.5-.6.8-.3 1M50.1,35.7l.2-1 .5-.8.7-.8.8-.6.9-.4.9-.4.8-.6.3-1 .1-1 0-1M70.7,49.3l-1 .3-.9.2-1 .1-1-.1-1-.2-.9-.3-.9-.5-.6-.8 0-1 .5-.9M68.1,50.6l-.8-.6-.7-.8-.1-.9.4-.9.7-.7.7-.7.8-.6 1-.4 1-.1.9.3M65,55.7l-1 .1-.9.5-.5.9.1 1 .3.9.2 1 0 1 .1 1 0 1-.1 1M40.5,57.6l.3.9.9.6.9.1 1-.4.5-.9 0-1-.4-.9-.4-.9-.4-.9-.3-.9M58.6,34.4l.1 1-.3.9-.6.8-.7.7-.6.9-.2.9-.2 1-.1 1-.2 1-.4.9M50.9,58.8l.6.8.7.6.6.9.7.7.6.8.4.9-.2 1-.4.9-.7.7-1 .1M37.5,47.8l-.4-.9-.1-1-.1-1 0-1 .3-1 .2-.9.1-1-.1-1-.4-1-.6-.7M43.2,69.7l1-.2 1-.3.9-.2 1-.4.9-.4.8-.5.9-.5.9-.5 1-.1.9.4M36.4,41.5l.9-.4.5-.9.2-1 .1-.9-.1-1-.2-1-.4-1-.6-.7-.9-.6-.9-.3M68,54l-.9-.4-.8-.6-.9-.5-.9-.2-1 .1-.9.5-.8.6-.7.7-.3 1 .1 1M57.5,52.9l-.7-.6-.9-.5-1-.1-1 .1-.9.3-.9.6-.8.5-.8.6-.7.8-.7.7M42.1,58.4l-.8-.5-1-.4-1 0-.8.6-.4.9.2 1 .6.7.8.7.9.5.9.3M48.6,40.8l-.9-.4-1 .2-.7.8-.4.9-.2 1 .1.9.4 1 .3.9.3 1 .6.8M48.2,55.1l-.7-.6-.4-1 .1-1 .4-.9.9-.4 1 .1.8.6.3.9-.3 1-.8.6M65.7,79.4l.4-1-.2-1-.7-.7-1-.2-1-.2-.9.3-.8.6-.8.6-.8.7-.8.5M31.6,52.2l0-1-.2-.9-.6-.8-.9-.5-1 0-1 .3M57.5,34.8l-.2.9-.4 1-.6.8-.8.5-.8.6-.8.7-.5.8 0 1 .5.9.9.4M53.2,50.5l.1 1 .4 1 .6.7.8.7.7.7.7.7.7.7.5.9.5.9.7.7M41.3,60.8l1 0 .9-.4.6-.8.3-1 .3-.9-.1-1-.3-1-.5-.9-.7-.6-.9-.6M60.8,68.9l.8-.6.8-.5.6-.8 0-1-.6-.9-.8-.5-1-.1-1 .1-1 .2-.9.4M72.5,49.6l-.2 1-.7.7-1 .2-.9-.4-.8-.6-.8-.6-.9-.3-1 .4-.6.7-.1 1M52.4,63.2l-.1 1-.6.8-1 .2-.9-.3-.6-.8 0-1 .3-1 .4-.9.6-.8.6-.8M69.8,39l-.7-.7-.9-.6-.8-.4-1-.3-1-.3-.8-.5-.9-.4-1-.1-1 .4-.8.5M62.1,50.4l-.1.9-.1 1 .3 1 .3.9.4 1 .4.9.6.8.8.6.9.4 1-.1" fill="none" stroke="#fff" stroke-width="1.1" stroke-linecap="round" stroke-linejoin="round" opacity="0.05" filter="url(#b5)"/>
</g></g>
<rect x="123.6" y="481.0" width="86.5" height="86.4" fill="#242424"/>
<g clip-path="url(#k18)"><g transform="translate(123.6 481.0)">
<ellipse cx="43" cy="52" rx="18" ry="28" transform="rotate(0 43 52)" fill="url(#rg)" opacity="0.25" filter="url(#gb)"/>
<ellipse cx="41" cy="10" rx="3" ry="12" transform="rotate(0 41 10)" fill="url(#rg)" opacity="0.2" filter="url(#gb)"/>
<use href="#p18_34" fill="none" stroke="#fff" stroke-width="3.5" stroke-linecap="round" stroke-linejoin="round" opacity="0.14" filter="url(#b15)"/>
<use href="#p18_34" fill="none" stroke="#fff" stroke-width="1.3" stroke-linecap="round" stroke-linejoin="round" opacity="0.255" filter="url(#b06)"/>
<use href="#p18_35" fill="none" stroke="#fff" stroke-width="3.5" stroke-linecap="round" stroke-linejoin="round" opacity="0.14" filter="url(#b15)"/>
<use href="#p18_35" fill="none" stroke="#fff" stroke-width="1.3" stroke-linecap="round" stroke-linejoin="round" opacity="0.238" filter="url(#b06)"/>
</g></g>
<rect x="217.5" y="481.0" width="86.3" height="86.4" fill="#242424"/>
<g clip-path="url(#k19)"><g transform="translate(217.5 481.0)">
<ellipse cx="46" cy="58" rx="19" ry="24" transform="rotate(0 46 58)" fill="url(#rg)" opacity="0.24" filter="url(#gb)"/>
<path d="M44,2 C42,12 38,22 33,32 C31,38 30,42 30,46" fill="none" stroke="#fff" stroke-width="6" stroke-linecap="round" opacity="0.14" filter="url(#b15)"/>
<path d="M44,2 C42,12 38,22 33,32 C31,38 30,42 30,46" fill="none" stroke="#fff" stroke-width="2.5" stroke-linecap="round" opacity="0.38" filter="url(#b8)"/>
<use href="#p19_37" fill="none" stroke="#fff" stroke-width="3.5" stroke-linecap="round" stroke-linejoin="round" opacity="0.14" filter="url(#b15)"/>
<use href="#p19_37" fill="none" stroke="#fff" stroke-width="1.3" stroke-linecap="round" stroke-linejoin="round" opacity="0.272" filter="url(#b06)"/>
</g></g>
<rect x="306.2" y="481.0" width="86.6" height="86.4" fill="#242424"/>
<g clip-path="url(#k20)"><g transform="translate(306.2 481.0)">
<ellipse cx="57" cy="42" rx="26" ry="27" transform="rotate(0 57 42)" fill="url(#rg)" opacity="0.3" filter="url(#gb)"/>
<ellipse cx="74" cy="64" rx="9" ry="9" transform="rotate(0 74 64)" fill="url(#rg)" opacity="0.18" filter="url(#gb)"/>
<path d="M0,24 C6,27 12,30 18,33" fill="none" stroke="#fff" stroke-width="6" stroke-linecap="round" opacity="0.12" filter="url(#b15)"/>
<path d="M0,24 C6,27 12,30 18,33" fill="none" stroke="#fff" stroke-width="2.5" stroke-linecap="round" opacity="0.32" filter="url(#b8)"/>
<use href="#p20_39" fill="none" stroke="#fff" stroke-width="3.5" stroke-linecap="round" stroke-linejoin="round" opacity="0.16" filter="url(#b15)"/>
<use href="#p20_39" fill="none" stroke="#fff" stroke-width="1.3" stroke-linecap="round" stroke-linejoin="round" opacity="0.306" filter="url(#b06)"/>
</g></g>
<rect x="400.5" y="481.0" width="86.6" height="86.4" fill="#242424"/>
<g clip-path="url(#k21)"><g transform="translate(400.5 481.0)">
<ellipse cx="40" cy="45" rx="18" ry="42" transform="rotate(-35 40 45)" fill="url(#rg)" opacity="0.26" filter="url(#gb)"/>
<use href="#p21_41" fill="none" stroke="#fff" stroke-width="3.5" stroke-linecap="round" stroke-linejoin="round" opacity="0.16" filter="url(#b15)"/>
<use href="#p21_41" fill="none" stroke="#fff" stroke-width="1.4" stroke-linecap="round" stroke-linejoin="round" opacity="0.289" filter="url(#b06)"/>
</g></g>
<rect x="489.5" y="481.0" width="86.4" height="86.4" fill="#242424"/>
<g clip-path="url(#k22)"><g transform="translate(489.5 481.0)">
<ellipse cx="45" cy="46" rx="28" ry="25" transform="rotate(-10 45 46)" fill="url(#rg)" opacity="0.36" filter="url(#gb)"/>
<use href="#p22_43" fill="none" stroke="#fff" stroke-width="3.5" stroke-linecap="round" stroke-linejoin="round" opacity="0.16" filter="url(#b15)"/>
<use href="#p22_43" fill="none" stroke="#fff" stroke-width="1.4" stroke-linecap="round" stroke-linejoin="round" opacity="0.357" filter="url(#b06)"/>
<use href="#p22_44" fill="none" stroke="#fff" stroke-width="3.5" stroke-linecap="round" stroke-linejoin="round" opacity="0.16" filter="url(#b15)"/>
<use href="#p22_44" fill="none" stroke="#fff" stroke-width="1.3" stroke-linecap="round" stroke-linejoin="round" opacity="0.297" filter="url(#b06)"/>
</g></g>
<rect x="583.3" y="481.0" width="86.8" height="86.4" fill="#242424"/>
<g clip-path="url(#k23)"><g transform="translate(583.3 481.0)">
<ellipse cx="44" cy="30" rx="25" ry="22" transform="rotate(0 44 30)" fill="url(#rg)" opacity="0.38" filter="url(#gb)"/>
<ellipse cx="40" cy="62" rx="14" ry="22" transform="rotate(0 40 62)" fill="url(#rg)" opacity="0.2" filter="url(#gb)"/>
<use href="#p23_46" fill="none" stroke="#fff" stroke-width="3.5" stroke-linecap="round" stroke-linejoin="round" opacity="0.16" filter="url(#b15)"/>
<use href="#p23_46" fill="none" stroke="#fff" stroke-width="1.4" stroke-linecap="round" stroke-linejoin="round" opacity="0.357" filter="url(#b06)"/>
<use href="#p23_47" fill="none" stroke="#fff" stroke-width="3.5" stroke-linecap="round" stroke-linejoin="round" opacity="0.16" filter="url(#b15)"/>
<use href="#p23_47" fill="none" stroke="#fff" stroke-width="1.3" stroke-linecap="round" stroke-linejoin="round" opacity="0.306" filter="url(#b06)"/>
</g></g>
<rect x="672.1" y="481.0" width="86.9" height="86.4" fill="#242424"/>
<g clip-path="url(#k24)"><g transform="translate(672.1 481.0)">
<ellipse cx="36" cy="18" rx="13" ry="20" transform="rotate(-30 36 18)" fill="url(#rg)" opacity="0.3" filter="url(#gb)"/>
<ellipse cx="52" cy="50" rx="25" ry="36" transform="rotate(-25 52 50)" fill="url(#rg)" opacity="0.42" filter="url(#gb)"/>
<ellipse cx="49" cy="35" rx="11" ry="9" transform="rotate(0 49 35)" fill="url(#rg)" opacity="0.35" filter="url(#gb)"/>
<use href="#p24_49" fill="none" stroke="#fff" stroke-width="3.5" stroke-linecap="round" stroke-linejoin="round" opacity="0.16" filter="url(#b15)"/>
<use href="#p24_49" fill="none" stroke="#fff" stroke-width="1.3" stroke-linecap="round" stroke-linejoin="round" opacity="0.34" filter="url(#b06)"/>
<use href="#p24_50" fill="none" stroke="#fff" stroke-width="3.5" stroke-linecap="round" stroke-linejoin="round" opacity="0.16" filter="url(#b15)"/>
<use href="#p24_50" fill="none" stroke="#fff" stroke-width="1.4" stroke-linecap="round" stroke-linejoin="round" opacity="0.357" filter="url(#b06)"/>
</g></g>
<rect x="35.1" y="569.6" width="85.7" height="86.6" fill="#242424"/>
<g clip-path="url(#k25)"><g transform="translate(35.1 569.6)">
<ellipse cx="52" cy="58" rx="26" ry="30" transform="rotate(0 52 58)" fill="url(#rg)" opacity="0.02" filter="url(#gb)"/>
<path d="M36.2,80.1h.1M66.2,78.6h.1M31.9,62.5h.1M48.3,79.9h.1M62.9,65.9h.1M46.7,56.8h.1M51.7,57.1h.1M44.2,41.9h.1M54.1,60.5h.1M57.5,85.2h.1M65,59.2h.1M38.7,42.7h.1M35.6,54.1h.1M60.4,63.4h.1M55.7,50.1h.1M48.5,74.8h.1M27.5,64.3h.1M69.7,49.8h.1M41.3,76.2h.1M70.5,71.6h.1M38.7,71.6h.1M56.5,38.5h.1M58.8,38.6h.1M32.8,72.1h.1M32.4,55.5h.1M61.6,61.7h.1M56.9,46.6h.1M66.9,42.1h.1M27.7,62.8h.1M50.8,38.5h.1M44.3,52.5h.1M41,73.2h.1M74.7,51.6h.1M31.6,57.6h.1M28.5,47.7h.1M33.7,55.9h.1M26.5,56h.1M66.4,37h.1M71.4,60.7h.1M32.3,55.5h.1M56.6,80.3h.1M58,49.4h.1M73.4,67h.1M32.4,71.7h.1M63.4,59.9h.1M56,67.5h.1M56.3,67.1h.1M63.9,80.1h.1M37.6,39.9h.1M74.3,61.6h.1M40.1,43.8h.1M72.5,56.1h.1M67.3,69.3h.1M57,43h.1M68,46.2h.1M65.2,41.7h.1M52.6,47.4h.1M37,52.2h.1M41.6,33.7h.1M46.7,36.7h.1M74.4,44h.1M55.7,35.6h.1M76.1,59.2h.1M30.2,58h.1M64.8,78.9h.1M41.4,46.6h.1M51.1,38.2h.1M75.2,68.1h.1M70.2,72.7h.1M55,67.9h.1M37.8,55.2h.1M35.4,65.8h.1M59.3,51.1h.1M54.3,48.5h.1M35.6,58.4h.1M57,37.7h.1M42.1,37.7h.1M59.5,68h.1M62.8,65.8h.1M31.3,50.9h.1M43.8,57.7h.1M64.5,76.2h.1M42.9,43.2h.1M52.8,85.8h.1M60.8,77.6h.1M69.5,54.8h.1M53.9,55h.1M56.4,69.9h.1M41.9,34.3h.1M52.1,39.5h.1M65.5,51.2h.1M38.5,59.8h.1M52.7,45.2h.1M68.4,59.4h.1M52.9,66.7h.1M43.6,77.3h.1M44.3,61.1h.1M50.3,44.5h.1M47.9,44.4h.1M42.6,62.3h.1M57.6,41.6h.1M56.1,48.9h.1M68.8,72.6h.1M62.1,47.2h.1M61.3,64.3h.1M70.7,77.9h.1M64.2,51.3h.1M39.8,46.7h.1M62.9,82.4h.1M47.3,86.3h.1M30.6,46.2h.1M51.8,36.9h.1M42.4,37.2h.1M46.8,39.6h.1M45.8,38.4h.1M63.8,43.7h.1M40.4,53.8h.1M76.6,64.7h.1M65.6,38.2h.1M37,62.5h.1M71.4,56.4h.1M71.1,50.6h.1M59,33.8h.1M44.8,30.8h.1M60.4,33.9h.1M48.1,75.9h.1M37.7,35.7h.1M77.3,57.4h.1M62.6,48.6h.1M31.6,61.3h.1M60.2,53.3h.1M53.8,44.5h.1M72.7,68.2h.1M67.5,50.9h.1M67.3,65.1h.1M72.7,40.1h.1M34.5,70.6h.1M42.8,53.6h.1M48.8,84.6h.1M61.4,62.1h.1M47.4,54.6h.1M59.2,42.2h.1M29,48.6h.1M51.8,44h.1M34.4,72.4h.1M28.4,70.2h.1M46.5,47.3h.1M32.9,55.5h.1M65.2,78.6h.1M31,61.3h.1M44.5,81.6h.1M29.6,63.4h.1M33.7,51.5h.1M55.5,76.3h.1M28.8,63.7h.1M28.5,53.1h.1M33.1,62h.1M60.3,68.1h.1M54,70.1h.1M74.9,50.7h.1" stroke="#fff" stroke-width="0.6" stroke-linecap="round" opacity="0.16"/>
<path d="M15,14.2h.1M11.5,12.4h.1M23.3,16h.1M18.4,8.3h.1M24,9.3h.1M19.8,5h.1M17.2,5h.1M19.8,8.4h.1M16.7,19.9h.1M26.2,12.4h.1M21.3,18.3h.1M21.8,13.6h.1M23.8,6.9h.1M16.2,15.1h.1M26.3,18.7h.1M15.8,11.7h.1M27.1,17.2h.1M27.1,14.3h.1M22.9,12.1h.1M13.7,17.2h.1M28.4,19.2h.1M20.1,6.3h.1M20.8,9.7h.1M20.8,5.8h.1M20.3,22.7h.1M22.7,8.3h.1M12.3,20.6h.1M17.6,13.2h.1M21.6,13.2h.1M13.4,20h.1" stroke="#fff" stroke-width="0.6" stroke-linecap="round" opacity="0.12"/>
</g></g>
<rect x="123.6" y="569.6" width="86.5" height="86.6" fill="#242424"/>
<g clip-path="url(#k26)"><g transform="translate(123.6 569.6)">
<ellipse cx="42" cy="55" rx="20" ry="30" transform="rotate(0 42 55)" fill="url(#rg)" opacity="0.03" filter="url(#gb)"/>
<path d="M42.9,80.1l-.9-.6-1.1-.1-1.1.3-.9.7-.4 1-.1 1.1.2 1 .2 1.1 0 1.1-.5 1-.9.7-1.1.1M53.9,40.3l1.1.4.6.9.1 1.1-.6.9-1 .6-1 .2-1.1 0-1.1-.2-.9-.6-.5-1-.3-1.1-.3-1.1M31.6,42.4l.5 1 .3 1 .2 1.1.3 1.1.4 1 .6.9.6 1 .6.9.6.9.6.9.7.9.9.7M42.7,53.7l-1.1 0-1.1-.4-.6-.9 0-1.1.3-1.1.7-.8 1.1-.4 1 0 1 .5 1.1.4 1 .3 1.1-.1M44.9,63.1l-1.1-.3-1-.4-1-.5-.9-.6-1-.5-1.1-.1-1.1 0-1.1 0-1.1.1-1 .3-1.1.3-.7.8M42.9,55.1l-.2 1.1-.8.8-1 .4-1.1-.3-.9-.6-.7-.8-.7-.9-.5-1-.4-1-.1-1.1.2-1.1.4-1M34.4,51.1l.5 1 .3 1.1.3 1 .2 1.1.1 1.1.1 1.1.1 1.1-.2 1.1-.2 1.1-.4 1-.1 1.1.1 1.1M51.5,75.8l0-1.1-.5-1-.8-.7-1.1-.2-1 .4-.9.7-.6.9-.3 1.1 0 1.1 0 1.1-.5 1-.8.8M46.3,79.4l0 1.1-.1 1.1-.1 1.1-.1 1.1-.4 1.1-.1 1.1-.2 1-.2 1.1 0 1.1M48.1,39.6l.3-1.1-.2-1.1-.7-.8-1.1-.2-1 .4-.7.9-.3 1.1-.1 1.1-.4 1-.6.9-.5 1-.5 1M55.9,59.3l0 1.1.2 1 .2 1.1.1 1.1-.2 1.1-.3 1.1-.6.8-1.1.5-1-.2-.8-.8-.3-1.1.2-1.1M35,59l-.3-1 .2-1.1.8-.8 1-.4 1.1-.1 1.1.3.7.9.2 1-.2 1.1-.3 1.1-.3 1-.3 1.1M27.3,54.9l-1-.4-.9-.6-.5-1 0-1.1.3-1.1.6-.9 1-.4 1.1.3.9.5.8.8.6 1 .5.9M52.8,59.6l1 .4 1 .4.7.9.1 1.1-.5.9-.8.8-.9.6-1.1 0-1-.6-.6-1 0-1.1.1-1M37.4,65.7l-.7-.8-.6-1-.4-1 0-1.1.3-1 .5-1 .7-.8 1.1-.4 1 .4.8.8.3 1 .1 1.1M46,74.7l.6-.9.7-.9.5-1 .8-.8.8-.7 1-.4 1.1.1 1 .4.9.7.9.6.9.6 1 .4M46.4,51.3l-.6-.9 0-1.1.2-1.1.1-1.1.1-1.1.1-1.1.1-1.1-.4-1-.6-1-.7-.8-.8-.8-1-.3M23.1,57.6l.6.9.5 1 .3 1 .1 1.1.3 1.1.7.9 1 .3 1.1-.3.8-.7.6-.9.2-1.1-.1-1.1M45.5,52.2l.9-.7 1-.3 1.1 0 1.1.3 1.1.3 1 .2 1 .5 1.1.2 1.1.1 1.1.3.9.6 1 .5M34.7,31l-1-.2-.9-.7-.8-.7-1-.6-1-.4-1.1 0-1.1.3M55,58.8l.7.9 0 1-.5 1-.8.7-1 .5-1.1 0-1.1-.4-.8-.7-.6-.9-.5-1-.4-1-.3-1.1M40,65.1l-.6-.9-.7-.9-.9-.6-1-.4-1.1-.1-1.1.3-.8.7-.4 1.1.2 1 .7.9 1 .4 1.1-.3M40.9,53.2l-.1-1.1-.5-.9-.8-.7-1.1-.4-1.1-.2-1-.3-1.1-.2-1-.4-.8-.8-.3-1 .1-1.1.4-1M57.5,54.7l-.3-1.1 0-1.1.4-1.1.4-1 .7-.8.8-.8.9-.6.9-.7.6-.9.2-1 0-1.1-.6-1M44.3,50.3l1 .4 1 .6.8.7.7.8.9.7.7.8.7.9.5 1 .5 1 .1 1.1.1 1.1.4 1M24.5,58.6l-1 .5-.9.5-.9.7-.8.7-.6 1M59.3,42.7l.4 1 .3 1.1.1 1.1-.2 1-.1 1.1 0 1.1.1 1.1 0 1.1-.1 1.1-.4 1.1-.6.9-.8.7M31.6,82.4l1.1.3 1.1 0 1-.2 1.1-.2 1.1.1 1 .5.8.7.5 1 .4 1.1.6.9.5.9.7.9M35.2,25.4l.4-1.1.3-1 .5-1M47.7,78.3l-.8.8-.6.9-.5 1-.5.9-.6 1-.5.9-.5 1-.1 1.1.2 1.1.1 1.1-.1 1.1M50.8,38.7l-.6.9-.3 1.1-.2 1.1.1 1.1.4 1 .6.9.8.7.9.6.9.7.8.7.8.8.8.7M56.7,75.5l.9-.6.5-1 0-1.1-.7-.9-.9-.5-1.1 0-1 .5-.7.9-.6.9-.2 1.1.3 1 .9.7M33.4,47.8l-1-.4-1.1-.3-1 .3-1 .5-1.1-.1-1-.5-.8-.7-.5-.9-.1-1.1.6-1 .8-.7 1.1-.1M23.1,67.9l.7-.9 1-.3 1.1.3.8.7.3 1 0 1.1-.6 1-.9.5-1.1.2-1.1 0-1.1.1M40.6,69.9l.9.6 1.1.1 1.1-.1 1.1-.2 1.1-.1 1.1-.1 1.1 0 1.1.2 1.1 0 1.1-.2 1-.4.8-.7M48.5,64.2l.7-.9.7-.9.7-.8.9-.7 1-.1 1.1.4.5 1 0 1.1-.5 1-.6.9-.6.9-.6.9M34.4,54.6l.1 1.1-.5 1-.9.6-1.1.1-1-.2-.8-.9-.2-1-.1-1.1.2-1.1.8-.8 1-.6.8-.7M51,35.2l-.2-1.1-.2-1.1-.5-.9-.6-.9-.7-.9-.6-.9-.7-.9-.6-.9-.8-.7-1-.3-1.1-.2-1.1 0M52.3,53.1l.5-.9.6-.9.5-1 .7-.8.7-1 .6-.8.6-1 .5-1-.2-1.1-.5-.9-.9-.7-1-.2M44.5,23.9l.2 1 .1 1.1-.2 1.1-.4 1.1-.3 1-.1 1.1.3 1.1.8.7 1.1.3 1-.4.8-.8.5-.9M30.8,79.1l-.5.9-.2 1.1.5 1 1 .5 1.1 0 1.1-.2.9-.6.6-.9.7-.9.3-1-.3-1.1-.8-.8M60.5,57l-.3 1.1-.3 1.1-.6.9-.7.8-1 .4-1.1.1-1.1.1-1.1-.1-1.1-.2-1-.5-.8-.7-.8-.8M41.6,60.8l-1.1-.2-.8-.8-.3-1 .4-1 1-.7 1-.2 1.1-.1 1.1-.2 1.1-.1 1.1.2 1 .4 1 .5M40.9,57.5l-.1-1.1-.3-1-.1-1.1.4-1 .8-.8 1-.4 1.1-.2 1.1-.1 1-.3.9-.6.6-.9.6-1M43.9,39.8l.9-.6 1.1 0 1.1.2 1 .5.7.8.2 1.1-.2 1.1-.8.7-1 .5-1 .3-1.1 0-1-.5M38.9,42.3l.2 1.1.3 1.1.6.9.7.8.9.7 1 .5 1.1.2 1.1-.1 1.1 0 1 .2 1 .5 1 .5M40.3,80.3l-.5-1-.4-1.1-.3-1-.3-1.1-.1-1.1.1-1.1.6-.9.9-.7 1-.3 1.1.2 1.1.3 1.1.1M31.8,66l-.9.6-.8.8-.4 1-.3 1.1.1 1.1.6.9.8.7.9.7.9.7.7.8.6.9.7.9M39.1,54.6l-.5 1 .2 1.1.8.8.9.6.7.8.6 1 .4 1 .5 1 .5.9.6.9.6 1 .9.6M34.8,79.5l-1.1-.1-1.1.1-.9.7-.4 1 .2 1.1.5 1 .8.7 1.1.2 1.1-.2 1-.5 1-.5 1-.5M36.3,43.2l.8.7 1 .5 1 .4 1 .4 1.1.3 1 .4 1 .4 1.1.4 1 .4.9.6 1 .5 1.1-.1M50.3,43.6l-.7-.8-.9-.7-.9-.5-1.1-.1-1.1 0-1.1-.2-1-.4-.7-.9-.4-1 0-1.1.4-1 .6-1M42.7,29l.3-1 .6-1 1-.3 1.1.1 1 .6 1 .4.9.6.8.8.2 1 .1 1.1-.1 1.1.1 1.1M25.8,69.2l.8.8.3 1 .4 1.1.2 1 .2 1.1-.2 1.1-.7.9-.8.7-1 .3M42.8,38.3l-.2-1 .1-1.1.3-1.1.2-1.1 0-1.1-.5-.9-.7-.9-.8-.7-1-.5-.9-.6-.8-.8-.6-.9M43,76.5l.5-.9.5-1 .9-.7.9-.5 1.1-.3 1.1.1 1 .4.8.7.3 1.1.2 1.1-.2 1.1-.3 1M33.8,84.1l0 1.1.1 1.1M43.6,43.5l-1 .5-1.1-.1-.8-.8-.3-1 .2-1.1.8-.8 1.1-.3 1 .3 1 .4 1.1.2 1.1 0 1.1-.2M35.8,29.7l1.1-.3 1-.4 1-.5.9-.6.9-.6 1-.5 1-.5 1.1-.3 1-.1 1.1-.1 1.1 0 1.1 0M33.4,43.2l-.6-.9 0-1.1.6-.9.9-.6 1-.4 1.1.3 1 .4.9.7.7.8.6.9.4 1 .4 1.1M34.1,57.8l-.8-.7-.6-.9-.6-1 0-1.1.1-1.1.3-1 .2-1.1.2-1.1.1-1.1-.2-1.1-.6-.9-1-.4M57.9,50.9l1 .5 1.1.2 1.1-.1.9-.4.8-.9.3-1 .2-1.1-.1-1.1-.3-1-.4-1.1-.4-1-.2-1.1M47.2,24.6l.1 1.1-.1 1.1-.4 1-.7.9-.4 1-.3 1.1-.4 1-.8.8-1 .4-1.1.3-1.1-.1-1.1-.1M59.8,48.9l-.6.9-.9.7-1.1.2-1.1-.2-.9-.5-.8-.8-.8-.7-.8-.8-.6-.9-.2-1.1-.2-1.1-.2-1.1M43.9,41.4l-1 .4-1.1.3-1 .5-.9.6-1.1.3-1 .4-1 .4-1 .5-1 .5-.8.8-.4 1 .2 1.1M45.1,61.8l.8.8 1 .3 1.1-.4.7-.8.3-1 .4-1.1.5-.9.7-.9.9-.7 1-.3 1.1-.2 1.1-.2M38.8,63.8l-.8-.7-.4-1 .2-1.1.9-.7 1.1-.2.9.5.9.7.9.7.6.9.5.9.5 1 .7.9M25,69.9l-.5-1-.3-1.1 0-1.1.6-.9.5-.9.3-1.1.4-1 .1-1.1.1-1.1-.1-1.1-.1-1.1-.4-1M29.2,52.4l-1.1-.1-1.1.2-.9.5-1 .6-.9.5-1 .5-1 .6-.7.8-.1 1.1.4 1.1.6.9.9.5M49.9,31.5l1.1-.2 1.1.1 1.1 0 1-.3.8-.8.2-1.1-.3-1-.8-.8-1-.3-1.1.2-1 .4-.9.7M27.9,70.8l1 .4.6.9.1 1.1-.3 1.1-.5 1-.6.9-.8.7-.9.6-.8.8M47.4,36.2l.7.8.8.8.7.8.6 1 .5 1 .5.9.8.8.9.6 1 .4 1 .4 1 .6.6.9" fill="none" stroke="#fff" stroke-width="0.85" stroke-linecap="round" stroke-linejoin="round" opacity="0.26" filter="url(#b3)" stroke-dasharray="0.8 1"/>
<path d="M43.7,11.9l-.9.6-.9.6-.9.7-.8.8-.5 1-.5.9-.2 1.1-.1 1.1.2 1.1.2 1.1M41.6,9.4l-1.1 0-1.1-.3-.9-.6-.8-.8-.7-.8M39.1,3.4l.1 1.1-.2 1.1-.7.9-1 .4-1.1-.2M39.3,6.9l-.8-.8-1-.3-1.1-.4M40.7,8.6l-.2 1.1-.1 1.1.3 1 .8.8 1 .5 1.1 0 1-.4.8-.8M38.6,21.3l.9.6.8.8.6.9.4 1 .1 1.1-.3 1.1" fill="none" stroke="#fff" stroke-width="0.8" stroke-linecap="round" stroke-linejoin="round" opacity="0.2" filter="url(#b3)" stroke-dasharray="0.8 1"/>
</g></g>
<rect x="217.5" y="569.6" width="86.3" height="86.6" fill="#242424"/>
<g clip-path="url(#k27)"><g transform="translate(217.5 569.6)">
<ellipse cx="46" cy="58" rx="19" ry="24" transform="rotate(0 46 58)" fill="url(#rg)" opacity="0.03" filter="url(#gb)"/>
<path d="M64.9,58.1l1.1.1 1.1-.2M41.5,58.8l1-.4 1-.5 1-.5 1-.4.9-.5 1.1-.4 1.1-.2 1.1-.1 1.1-.1 1-.3 1-.6.6-.9M45,66.1l-.5-1-.5-1-.9-.7-1-.4-1.1 0-1 .4-1 .5-1.1.2-1 .3-1 .5-1 .6-.8.7M30.3,54.6l1 .6.4 1-.2 1.1-.8.8-1.1.2-1-.3-1.1-.2-1.1-.1-1.1-.1-1.1 0M45.1,53.4l.9.6 1 .3 1.1 0 1.1-.4.6-.9.1-1.1-.6-.9-.7-.9-.9-.5-.9-.6-.9-.7-.7-.8M58.8,73.7l-1-.5-.8-.7-.7-.9-.5-1-.3-1.1.2-1.1.1-1 .1-1.1.3-1.1.3-1.1.2-1 .1-1.1M28.7,55.9l-.1 1.1.1 1.1-.2 1.1-.1 1-.4 1.1-.5 1-.9.5-1 .6-1 .5M43.6,74.4l.8-.6 1.1-.5 1-.2 1.1-.2 1.1-.2 1.1-.1 1.1 0 1.1.1 1.1.1 1.1.1 1 .3 1.1.2M57.8,59.2l1 .4.8.8.4 1 .1 1.1-.1 1.1.2 1.1.5 1 .6.9.3 1.1-.3 1-.8.9-.8.7M47,72.3l1-.4 1-.5.8-.7.7-.9.4-1.1.1-1.1-.3-1-.9-.7-1.1-.1-1.1.3-.7.8-.7.9M39.5,36.2l.2 1.1-.5.9-.9.8-1 .2-1.1 0-1.1-.1-1.1-.2-.8-.8-.3-1M35.3,55.4l-.7.8-.9.7-1 .3-1.1.4-1.1.1-1.1-.2-.9-.6-.3-1 .1-1.1.3-1.1.4-1 .3-1.1M35.6,42.7l.8-.8.4-1 .3-1 .4-1.1-.3-1-.8-.8-1-.3-1.1 0-1.1.1M47.8,51.3l-.7.9.1 1.1.5 1 .8.7 1.1.2 1-.3.9-.7.6-.9.1-1.1-.3-1-.4-1.1-.6-.9M45.4,61.8l-.3-1.1-.8-.7-1.1-.2-1.1.1-.9.6-.5 1 .3 1.1.7.8 1 .5.9.6.8.8.4 1M45.1,41l.2 1.1.2 1.1.5.9.7.9.6.9.6.9.8.8.9.6.8.8.9.7.9.5 1.1.3M51.5,52.1l-1-.6-1-.3-1.1 0-1.1.2-1.1.2-.9.6-.4 1 .1 1.1.7.9.9.6 1.1.2 1.1-.3M45.3,54.8l-1.1.2-1.1-.1-1-.2-1.1 0-1.1.1-1.1 0-1 .5-.8.7-.4 1 .3 1.1.7.8 1.1.2M47.9,44.8l.2-1.1 0-1.1-.4-1-.7-.9-.7-.8-.3-1.1.1-1.1.7-.9 1-.4 1 .3.8.8.1 1.1M45.6,59.3l.8-.8 1.1-.2 1 .4.6.9.1 1.1-.4 1-.6.9-.8.8-1 .5-.9.6-1 .5-1 .4M44.5,44.2l.4 1-.2 1.1-.5 1-.8.8-1 .2-1.1-.3-.6-.9-.1-1.1.6-1 .9-.6 1.1-.2 1 .4M54.3,80.3l1-.5.8-.8.5-.9.4-1.1.3-1 .6-.9 1-.6 1.1 0 .9.6.7.9M47.6,55.2l-.6-.9-.6-1-1-.5-1.1-.2-1 .2-1.1.3-1.1.3-1 .2-1 .4-.9.7-.7.8-.5 1M46.2,62.7l.6.9.8.8.7.8.8.8.7.8.4 1 .3 1.1.3 1 .6 1 .9.6 1 .2 1.1 0M37.8,38.9l1.1.3.8.8.5 1 .6.9.6.9.8.8.9.6 1.1.3 1.1 0 1.1 0 1.1-.2 1-.3M52,58l-.4-1-1-.6-1-.2-1.1.3-.9.6-.8.7-.6.9-.5 1-.5 1-.6.9-.6.9-.6 1M49.1,69.1l-.4 1-.4 1 .1 1.1.6.9 1 .6 1.1 0 1-.4.9-.6.9-.6.8-.8 1-.5 1-.4M38.1,58.7l1.1.3.9.7.6.9.8.8.8.7.9.6 1 .5 1 .5 1.1.3 1 .4 1 .4 1 .4M38.5,52.4l-.9.6-1.1.1-1.1-.3-.7-.8-.3-1.1.3-1 .9-.7 1.1 0 .9.5.7.9.2 1.1-.4 1M39.5,68.2l1.1 0 .9-.6.8-.8.7-.8.6-.9.6-1 .4-1 .1-1.1-.3-1.1-.3-1-.6-.9-1-.6M51.3,50.1l-1-.2-1 .5-.7.9-.2 1.1.5 1 .9.6 1.1.2 1.1-.2 1-.4 1-.6.9-.5 1-.5M50.3,53l-.2-1.1-.5-1-.7-.8-1-.6-1-.2-1.1.3-.6.9-.2 1.1.4 1 .9.7 1.1 0 1.1-.1M54.2,64.4l-.2 1.1-.6.9-.9.7-1 .4-1.1.2-1.1 0-1.1-.2-1-.4-.7-.8-.2-1.1.4-1 .9-.7M31.4,68.5l.6-.9.8-.8.7-.8.9-.7.9-.7.9-.5 1-.4 1.1-.3 1-.5.8-.8.2-1.1-.4-1M47.6,73.9l-1 .4-.8.7-.4 1 0 1.1.4 1.1.6.9.7.8.9.6 1.1.4 1.1 0 1-.5.7-.8M55.9,49.3l-1.1.1-1 .4-.6.9-.1 1.1.3 1.1.6.9.9.7.9.5 1.1.1 1.1-.4.7-.8.2-1.1M46.4,40.3l1-.3.9-.7.3-1.1-.4-1-.8-.8-1-.5-1-.3-1.1-.1-1 .3-1 .5-.8.8-.5 1M38,61l-1-.6-.7-.8-.6-.9-.2-1.1.1-1.1.6-.9 1.1-.4 1 .2 1 .6.7.8.3 1.1-.2 1.1M43.7,78.7l-.9.6-.8.7-.8.7-1 .6-1 .5-1 .4-1 .3M63.6,68l-.9.6-1 .3-1.1.2-1.1.3-.9.5-.5 1-.1 1.1.6.9.9.6 1.1.3 1.1-.1.9-.7M51.2,73.7l1.1 0 1.1 0 1.1-.1 1.1-.2 1.1-.1 1.1 0 1 .1 1.1.1 1.1-.2 1-.5.9-.7.9-.6M36.7,54.4l.9-.6.8-.8.3-1.1-.3-1-.8-.8-1-.4-1.1-.1-1.1.2-1 .3-1 .6-1 .4-1.1.2M35.5,55.3l1 .6.9.5 1.1.2 1-.4.7-.9.3-1 .2-1.1.6-1 1-.4 1 .1 1 .5.7.9M28.8,65.4l-1-.3-1.1.2-.8.7M38.8,49.2l1.1.3 1 .4 1 .4 1.1.2 1.1-.2.9-.7.3-1-.4-1.1-.8-.7-1-.5-.9-.6-.8-.8M28.2,56.1l-.8.8-.9.6-1 .5-.9.6M41.6,76.6l-.9.7-1 .2-1-.5-.6-1-.2-1 0-1.1.6-1 .7-.8.9-.6.9-.7 1-.5 1.1.1M63.7,49.5l-.6-1 0-1.1.2-1 .3-1.1 0-1.1 0-1.1M47.8,69.6l-.6.9 0 1.1.2 1 .3 1.1.4 1 .6 1 .6.8.7.9.7.9 1 .4 1.1-.2.9-.7M50.4,67.5l.9-.7.9-.5 1.1-.1 1 .5.6.9-.1 1.1-.7.9-1.1.3-1-.3-.7-.8-.5-1-.1-1.1M32,75.7l-1-.4-1-.5-.8-.7M48.3,74l.6-.9 1-.4 1.1.2.8.7.6.9.5 1 .9.7.9.7.8.7.7.9.4 1 .3 1M43,47.8l-.7-.9-.7-.8-.5-1-.2-1.1.6-1 .9-.5 1.1-.1 1 .4.9.7 1 .5.9.6.7.8M51.6,64l1.1-.1.9.6.7.8.3 1.1 0 1.1-.7.9-.6.9-.8.8-.8.7-1.1.1-1-.5-.8-.7M49.1,57.5l.8-.8.9-.6 1-.6 1-.2 1.1.3.9.5.7.9.4 1 .3 1.1.2 1.1-.3 1.1-.4 1M43,66.6l.9.7.7.8.9.6 1 .5 1 .4 1.1.2 1.1-.1 1.1-.2.7-.9.1-1.1-.5-.9-.8-.8M47.1,45.6l-.4 1.1-.3 1 .1 1.1.3 1.1.7.8.9.7.9.7.8.7.7.8.8.8.6.9.6 1M28.6,64.2l1.1-.3.9-.6 1-.5.9-.6.8-.8.7-.8.5-1 .1-1.1-.3-1-.8-.8-1.1-.2-1.1.1M38.2,45.5l1 .4 1 .2 1.1.4 1 .4.9.7.7.8.6.9.5 1 .8.7.9.7 1 .5 1.1.3M29.5,68.2l.5 1 .8.7 1.1.1 1-.4.8-.8.3-1 .2-1.1-.3-1.1-.2-1 .1-1.1.7-.9.9-.5M63.2,69.6l.7-.7 1-.5 1.1-.3M31.3,54.5l-1.1-.3-.9-.6-.8-.7-.5-1-.4-1-.4-1-.6-1-.8-.7M27.2,63.4l1-.4 1.1-.1 1.1 0 1.1-.3.8-.7.4-1.1.1-1.1.2-1 .3-1.1.5-1 .8-.7 1.1-.3M64.2,50.6l-.3-1.1-.3-1-.3-1.1-.1-1.1-.1-1.1-.4-1-.6-.9-.6-.9-.8-.8-.9-.6-.8-.8-.9-.6M32.4,67.5l-1.1-.4-1 .3-.8.8-.2 1 .4 1.1.8.6 1.1.1 1-.5.6-.9.3-1.1 0-1.1-.1-1.1M65.2,51.3l.6-.9 0-1.1M44.4,63.2l.9-.7.6-.8.3-1.1 0-1.1-.3-1.1-.5-.9-.3-1.1-.4-1-.2-1.1.2-1.1.7-.8 1-.4" fill="none" stroke="#fff" stroke-width="0.85" stroke-linecap="round" stroke-linejoin="round" opacity="0.26" filter="url(#b3)" stroke-dasharray="0.8 1"/>
<path d="M43.9,15.3l1.1-.1 1.1 0M41.8,7.9l-.5-1-.6-.9-.7-.9-.5-1M37.8,29.8l-1.1-.1-1-.4-1-.6-.7-.8-.5-1-.4-1-.4-1-.3-1.1-.3-1 0-1.1.3-1.1.5-1M35.6,28.5l-.7-.8-.8-.9-.8-.7-.9-.6-1-.5-1-.4M42.6,3.5l-1-.4-.9-.6M42.7,2.7l0 1.1.3 1 .6 1 .7.8.8.7.8.8 1 .4M35.8,23.1l.8.7.7.9.3 1.1-.1 1.1-.6.9-1 .5-1 .4-1.1.2-1.1 0-1.1 0-1-.4-1-.4M42.7,9.5l-.7-.9-.5-1-.2-1.1 0-1.1.1-1.1.4-1 .5-1 .7-.8.9-.7.9-.6" fill="none" stroke="#fff" stroke-width="0.8" stroke-linecap="round" stroke-linejoin="round" opacity="0.24" filter="url(#b3)" stroke-dasharray="0.8 1"/>
</g></g>
<rect x="306.2" y="569.6" width="86.6" height="86.6" fill="#242424"/>
<g clip-path="url(#k28)"><g transform="translate(306.2 569.6)">
<ellipse cx="57" cy="45" rx="26" ry="27" transform="rotate(0 57 45)" fill="url(#rg)" opacity="0.05" filter="url(#gb)"/>
<path d="M82.5,47.5l-.5 1-.7.9-.9.6-.9.6-.9.6-.7.8-.2 1.1.1 1.1.2 1.1.3 1 .1 1.1 0 1.1M66.4,64.3l-.4-1 0-1.1.6-.9.8-.7 1-.6 1-.4 1-.4 1.1-.3 1-.2 1.1-.3 1-.4 1-.5M67.1,56.7l1.1.1 1.1.2 1 .4 1 .6.8.7.6.9.2 1.1-.3 1.1-.5 1-.7.7-1 .5-1.1.2M63,47.5l1 .4 1 .3 1.1.4 1.1.1 1-.4 1-.5.9-.5 1.1-.4 1-.4 1.1-.2 1-.3 1-.5M53.3,71.2l1 .6 1.1-.2.8-.7.5-.9.1-1.1-.2-1.1-.3-1.1-.6-.9-.8-.7-1-.6-1-.4-1.1-.3M70,67.3l.9.7.4 1 .1 1.1.1 1.1M48.1,63.2l.8-.7.6-.9.7-.9.4-1.1 0-1.1-.3-1-.1-1.1 0-1.1.4-1 .9-.7 1.1 0 1 .6M82.2,40.5l-.6-.9-.9-.6-1.1-.2-1 .5-.8.8-.7.7-.7.9-.3 1.1-.1 1.1.1 1.1.5 1 .7.7M64.8,68.9l-.1 1.1-.2 1.1.1 1.1.1 1-.1 1.1M65.8,47.3l-.7-.9-1-.3-1.1-.1-1.1-.3-.8-.7-.7-.9-.4-1-.3-1.1-.4-1-.4-1-.5-1-.3-1.1M60.1,45.4l-.3 1.1-.4 1-.3 1.1-.4 1-.8.7-1.1.4-1-.3-.9-.7-.7-.8-.6-.9-.2-1.1.3-1.1M58.4,54.9l-.7.8-1.1.4-1.1 0-1.1-.2-.7-.8-.4-1 .2-1.1.7-.9.9-.7 1-.3 1.1.1 1.1.2M75.3,41l-.9.7-.8.7-.8.7-.9.6-.9.8-.4 1-.1 1.1.2 1.1.1 1.1.2 1 .1 1.1.3 1.1M78.6,36l.6.9.9.7 1.1.3 1 .3 1.1.3 1 .5.9.6M69.2,61.2l.7-.8.7-.9.3-1.1-.1-1.1-.6-.9-.7-.8-.9-.5-1.1-.2-1.1-.3-1-.3-1.1-.4-1.1 0M55.3,72l.4-1.1-.1-1.1-.5-.9-.7-.8-1-.5-1.1 0-1 .4-1 .6-.5 1-.3 1 .1 1.1.4 1M63.4,46.7l.6 1 .3 1-.4 1.1-.6.8-1.1.4-1.1-.1-.9-.6-.7-.8-.5-1-.5-1-.6-.9-.5-1M70.9,45.6l0-1.1-.4-1-1-.6-1-.2-1.1.3-.7.8-.3 1.1.3 1 .8.8 1 .5 1 .4.9.6M52,43.2l-1.1-.3-1.1.2-1 .4-1 .4-1 .5-.7.8-.3 1.1.2 1.1.7.8 1 .3 1.1-.1.9-.7M74.5,26.3l-.8.7-.7.8-1 .5-1.1.4-1 .4-1 .4-1 .5-.9.6-1 .5-1.1 0-1.1-.3-.7-.8M60.6,25.6l.1-1.1.7-.8.9-.6 1.1-.2 1.1.1 1-.3.9-.7.6-.9.1-1.1-.4-1.1-.8-.6-1.1-.1M57.2,64.4l1.1.2 1.1 0 1 .2.9.6.8.8.5 1 .1 1.1 0 1.1.3 1.1.4 1 .5 1 .9.7M46.4,20.2l.5-1 0-1.1-.6-.9M52.8,21.9l1-.2 1.1-.1 1.1 0 1.1.1 1.1 0 1.1-.4 1-.3 1.1-.4.9-.5.8-.8.5-1 .4-1M68.2,63.5l0-1.1-.2-1.1-.2-1.1-.4-1-.5-1-.8-.7-1.1-.1-1 .6-.5 1 .1 1.1.5.9.8.8M41.4,50.3l-.8-.8-1-.5-1.1-.1-1 .5-.8.7-.7.9-.3 1.1-.1 1 .1 1.1.1 1.1.3 1.1.4 1M68.5,28.4l1.1-.1 1.1-.1 1-.5.8-.7.9-.7 1-.3 1.1.2 1.1.3 1.1.1 1.1-.1 1-.1M67.3,35l.5-1 .6-.9.6-.9.3-1.1.1-1.1-.1-1.1-.1-1 .1-1.1.3-1.1.7-.9.9-.5 1.1-.4M46.6,19.6l1.1-.2 1.1.4.8.7.5 1 .3 1.1 0 1.1-.5 1-.9.5-1.1 0-.9-.6-.3-1.1.2-1M58.6,36.5l1-.5 1.1 0 1 .4.7.9.4 1 .6.9.7.8.8.8.9.7.7.8.4 1 0 1.1M69.6,23.9l0 1.1.6.9 1 .5 1.1 0 .9-.5.6-1 .5-.9.4-1.1.6-.9M63.4,55l-1.1-.4-1.1 0-.9.7-.5.9-.2 1.1-.2 1.1-.3 1.1-.4 1-.6.9-.8.7-1.1.3-1.1-.3M60,43.9l.7.8.9.7.9.5 1 .5.8.7.9.7.6.9.7.9.5 1 .4 1 .5 1 .7.8M35.6,36.9l1.1-.2 1.1-.4.6-.8.7-.9.1-1.1-.4-1-1-.6-1.1.1-1 .4-.6.9-.1 1.1.5 1M32.9,50.6l.6-.9.8-.8.8-.7.9-.7.9-.5.9-.7 1-.5 1-.2 1.1 0 1.1.1 1.1.2 1.1.2M53.3,45.6l.9.7.8.7 1 .5 1 .5 1 .5 1 .3 1.1.1 1.1.3 1.1.1 1-.3 1.1-.4.9-.6M58.3,52.2l-.7-.8-.6-1-.2-1.1-.1-1.1.2-1 .5-1 .8-.7.8-.8.9-.7 1.1-.2 1.1.2.9.6M49.9,27.8l-1.1.2-1 .3-1.1.1-1.1-.1-1.1-.3-.9-.5-.8-.8-.3-1.1.3-1 .8-.8 1.1-.3 1 .3M44.4,31.7l.6 1 .7.8.8.8 1 .4 1.1.2 1 .1 1.1.1 1-.5.6-.9.3-1.1.2-1.1-.1-1.1M81.7,39.5l.6-.9.1-1.1.2-1.1-.2-1.1-.6-.9-1-.5-1.1-.1-1 .2-.9.7-.4 1-.2 1.1-.2 1.1M58.3,21.8l1 .5 1.1-.2 1-.2 1.1-.2 1.1.1 1.1.1 1.1.2 1 .5.9.6.7.8.7.9.4 1M53.1,38.1l-1 .3-1.1.1-1.1 0-1.1-.4-.8-.7-.7-.9-.5-.9-.3-1.1.1-1.1.3-1 .8-.8.9-.6M56.3,41.6l1 .4 1.1.2 1-.4.7-.9.2-1-.3-1.1-.9-.6-1.1-.3-1 .4-.9.7-.5 1-.1 1.1M63,35.5l1.1.1.9.6.6 1-.1 1.1-.5.9-.8.8-1 .4-1.1-.1-.9-.6-.6-1 0-1.1.6-.9M57.4,40.9l.9-.6.8-.8.4-1.1.3-1 .2-1.1.2-1.1.5-.9.7-.9.7-.8.8-.8.4-1-.1-1.1M50.4,57.8l-.5-.9-.3-1.1-.1-1.1.1-1.1.1-1.1.3-1.1.5-.9.8-.8.9-.6 1-.4 1.1-.5.7-.7M72.4,26.1l.5 1 .6.9.7.9.7.8 1 .5 1.1.2 1.1 0 1.1-.1 1-.3 1-.5M65.2,26.5l1.1.2 1.1.1 1.1.1 1-.2 1-.6.9-.6.8-.8.5-.9.4-1.1 0-1.1-.6-.9-1-.5M47.1,26.1l-.7-.9-.2-1 .5-1 .8-.8 1-.3 1.1.5.7.8.2 1-.4 1.1-.6.9-.9.6-1.1.1M66.7,46.6l.8.7.6.9.7.9.5 1 .6.9.5 1 .5 1 .4 1 0 1.1-.2 1.1-.6.9-.7.8M41.2,40.8l1 .3 1.1-.3 1-.4.8-.7.6-.9.4-1.1.2-1 .4-1.1.5-.9.7-.9.7-.9.8-.7M59.3,43.9l1-.4 1-.4 1-.4 1.1 0 1 .4 1 .6.7.9.6.9.6.9.4 1 0 1.1-.6.9M47.6,49.8l-.5-1 0-1.1.3-1.1.5-1 .6-.9.8-.7.9-.7 1-.4 1.1-.1 1 .5.6 1 .3 1M69.2,48.5l-1-.1-1-.5-.6-1 0-1.1.5-1 .9-.5 1.1 0 1.1.3 1 .4 1.1.2 1.1 0 1.1 0M51.1,54.6l-1 .3-1.1-.2-1-.6-.4-1 0-1.1.4-1 .9-.7 1.1-.1 1 .4.7.9.6.9.4 1M70.3,30.9l.5.9.7.9.9.7.8.7.7.9.5 1 .2 1-.5 1-.8.7-1.1.2-1.1-.4-.8-.6M38.3,55.3l-.9-.7-.7-.8-.3-1.1.2-1.1.8-.8.9-.5 1.1-.2 1.1-.1 1.1-.2 1-.3 1.1-.3 1-.4M74.3,63.8l-.3-1.1.1-1 .8-.9 1-.4 1.1-.1 1.1.1 1.1.3 1 .4 1.1.2M63.2,23.9l1-.1 1.1-.3.9-.7.3-1-.1-1.1-.7-.9-1.1-.3-1 .3-.7.9-.5 1-.3 1-.3 1.1M62,72.3l1.1 0 1.1.1 1-.4.8-.8.7-.9.8-.7.9-.6 1.1-.2 1.1.2.8.7.4 1M44.2,26.5l-.4 1-.7.8-1 .5-1 .3-1.1.4-1 .4-1.1 0-1-.3-1-.5-.8-.8-.8-.8-.5-.9M58.9,43l.7-.9.7-.8.6-.9.7-.8.6-1 .2-1.1-.4-1-.5-1 .1-1.1.6-1 .9-.6 1.1 0M34.3,41.6l.4-1 .9-.6 1-.3 1.1-.1 1.1 0 1 .5.7.8.3 1.1 0 1.1.3 1.1.6.9.7.8M80.2,49.8l.6.9.8.8 1 .5 1 .4 1.1.2M63,46.4l-1-.5-.9-.5-.9-.7-.7-.8-.8-.8-.8-.8-.7-.8-.4-1-.1-1.1.4-1 .8-.8.8-.8M35.2,48l-.5.9.1 1.1.2 1.1.4 1 .8.7 1.1.1 1-.5.5-1-.2-1.1-.6-.9-1.1-.3-1 .2M51.1,56.6l.9.7.3 1-.1 1.1-.6.9-.7.8-1.1.2-1.1-.2-.7-.8-.2-1.1.2-1.1 0-1.1-.4-1M43.4,52.3l-.3-1.1-.5-.9-.8-.8-.6-.9-.7-.9-.7-.9-.8-.6-1-.4-1.1.2-.8.7-.3 1.1.2 1.1M32.1,35.9l.8-.7 1-.4 1.1-.1 1.1-.1 1.1 0 1.1-.1 1.1-.4.6-.8 0-1.1-.6-1-.9-.6-1.1-.1M77.2,58.8l-1 .4-1.1.2-1.1.1-1.1 0-1-.2-.9-.7-.6-1-.5-.9-.5-1-.7-.9-.7-.8-.9-.6M50.3,48.7l-.6-.9-.1-1.1.4-1 .8-.8.8-.7.7-.8.5-1 .2-1.1 0-1.1.2-1.1 0-1.1-.3-1.1M36.3,52.7l-1-.4-.7-.9-.1-1.1.2-1.1.2-1 .3-1.1.4-1 .4-1.1.6-.9.5-.9.2-1.1.4-1M60.6,47.5l.8-.8.6-.9.5-1 .6-.9.5-1 .4-1 .3-1.1 0-1.1 0-1.1-.1-1.1.3-1 .7-.8M48.8,28.5l-.6 1-.7.9-.6.8-1 .6-1 .4-1.1-.2-.8-.7-.5-1 .3-1.1.3-1 .7-.9.7-.8M59.8,19.5l.6.9.8.8 1 .4 1.1-.2.7-.8.4-1.1-.1-1.1-.5-1-.8-.7-.9-.7M75.3,55.4l-1.1-.2-1-.4-1-.6-1-.5-1.1-.1-.9.5-.8.8-.5 1-.2 1.1-.1 1.1.4 1 .6.9M51.3,34.6l-.8-.8-.7-.9-.1-1.1.5-.9 1-.5 1.1-.2 1 .3.7.8.1 1.1-.5 1-.7.8-.9.7M39.8,30.9l.1 1.1.7.9 1 .4 1.1 0 1-.4.6-.9.3-1 .2-1.1-.1-1.1-.3-1.1-.6-.9-.8-.7M52,56l.1-1.1.4-1 .5-1 .8-.8 1.1-.2 1 .2 1 .6.8.7.5 1 .1 1.1-.2 1.1-.2 1M69,35.7l1.1.1.9.7.7.8.7.9.5.9.7.9.7.9.5.9.7.9.5 1 .6.9.7.9M59.1,45.2l-.1 1-.7.9-1.1.3-1-.4-.9-.7-.7-.8-.9-.7-.7-.8-.5-1 .2-1.1.8-.8.9-.5M48.9,67.1l-.5-.9-.6-1-.5-1-.5-.9-.4-1.1-.4-1-.3-1.1-.3-1-.5-1-.6-.9-.2-1.1.2-1.1M60.1,31.5l.5 1 .9.6 1.1.2 1 .4 1.1-.1 1.1-.3 1-.4 1-.4 1-.4 1.1-.2 1.1 0 1.1 0M76.7,37.8l-1-.3-1.1-.1-1.1.1-1.1 0-1.1 0-1.1-.1-1.1.1-1.1.3-1 .5-.8.7-1 .6-.7.8M69.5,37.7l-1-.3-.8-.8-.2-1 .3-1.1.5-1 .6-.9.9-.6 1-.4 1-.5.9-.6.9-.7.7-.8M47.4,24.8l1-.5.9-.7 1-.3 1.1-.2 1.1-.1 1.1-.1 1.1-.1 1-.3 1.1-.4 1.1.1.9.7.3 1M60.4,40.4l1.1-.1.9-.6.3-1.1 0-1.1-.6-.9-.8-.7-.8-.8-.8-.8-.6-.9-.6-.9-.7-.9-1-.4M54.4,38l.1 1.1-.6 1-1 .4-1.1-.1-.9-.6-.4-1 .3-1.1.4-1 .7-.9.9-.6 1-.3 1.1-.1M46.9,56.8l.8.7.6 1 0 1.1-.6.9-.9.6-1.1 0-.9-.7-.4-1 .2-1.1.5-.9.8-.8.9-.6M59.1,69.7l1.1 0 .9.6.6 1 0 1.1-.4 1-.6.9M61.4,59.1l1 .3 1 .6.9.5 1 .6.9.5 1.1.3 1-.2.8-.8.4-1 .1-1.1 0-1.1-.4-1.1M50.4,40.5l1.1-.2 1-.2 1.1-.2 1.1.1 1 .5.8.8.5.9.5 1 .5 1 .9.7.9.5.9.7M80.9,38.6l-.9.5-1.1.5-.9.6-.7.8-.3 1.1.3 1 .7.8 1.1.2 1-.5.6-.9 0-1.1-.4-1M59.7,32.6l-.9.7-1.1.3-1.1 0-1.1-.2-1-.2-1.1-.3-1-.4-1.1-.3-1-.5-.9-.5-.8-.7-.7-.9M65.4,27.5l.3 1.1.3 1.1.3 1 .6 1 .8.7.9.6.9.6 1.1.4 1 .2 1.1-.3.9-.6.6-.9M71.1,56.3l-.9.6-1.1.2-1-.4-.6-.9-.1-1.1.6-1 .5-.9.6-1 .6-.9.8-.8 1-.3 1.1-.2" fill="none" stroke="#fff" stroke-width="0.95" stroke-linecap="round" stroke-linejoin="round" opacity="0.5" filter="url(#b3)" stroke-dasharray="1 0.9"/>
<path d="M6.7,28.1l1-.6.9-.6 1-.5 1-.5 1-.4.9-.6M2.8,26.6l-.6.9-.8.8-1 .4M.4,24.4l1.1-.1 1.1-.3 1-.2 1.1-.2 1.1-.3.9-.6M14.6,28.3l.7.8.5 1 .4 1 .4 1.1.6.9M3.2,23.1l-1 .4-1.1.1-1-.3-1-.6" fill="none" stroke="#fff" stroke-width="0.8" stroke-linecap="round" stroke-linejoin="round" opacity="0.32" filter="url(#b3)" stroke-dasharray="1 0.8"/>
</g></g>
<rect x="400.5" y="569.6" width="86.6" height="86.6" fill="#242424"/>
<g clip-path="url(#k29)"><g transform="translate(400.5 569.6)">
<ellipse cx="40" cy="45" rx="18" ry="42" transform="rotate(-35 40 45)" fill="url(#rg)" opacity="0.03" filter="url(#gb)"/>
<path d="M50.9,72.1l-1.1.2-.9.6-.6 1-.5.9-.7.9-.6.9-.6.9-.5 1M41.4,55.8l-1.1.2-.8.7-.6 1 .1 1.1.7.8 1 .4 1.1-.2.9-.6.7-.9.6-.9.5-1 .1-1.1M31,38l-.8-.8-.9-.6-1.1-.3-1.1-.1-1.1-.1-1 .4-.9.6-.6 1 .2 1.1.6.9 1 .5 1.1-.2M55.1,64.6l-.2-1.1-.6-.9-.9-.6-1.1-.2-1.1.4-.8.8-.8.7-1 .3-1.1.3-1.1 0-1.1-.1-1-.4M50.8,57.6l-1-.3-1.1.2-1 .4-.8.8-.3 1.1.4 1 .8.7 1.1.4 1-.2 1.1-.5.7-.7.6-1M15.8,17.2l1.1.1 1.1 0 1.1-.3 1-.5.6-.9.4-1 .1-1.1-.3-1.1-.4-1-.9-.7-1-.3-1.1.2M36.4,39.7l.1-1.1 0-1.1-.1-1.1.2-1.1.3-1 .8-.8.9-.7.8-.7.8-.8.5-1 0-1.1-.2-1.1M59.9,52.7l-1 .3-1.1.3-1.1-.2-.9-.5-.8-.8-.4-1 .2-1.1.5-1 1-.5 1.1.1.8.7.3 1M26.9,35.3l-.8.7-.4 1-.4 1-.3 1.1-.2 1.1-.2 1.1.1 1.1.3 1 .1 1.1-.1 1.1-.4 1-.6.9M65.4,55.6l.7-.9.5-1 .5-1M41,40.7l-.9.8-.7.8-.7.8-1 .5-1.1.2-1.1.2-1.1.2-1.1.1-1 .4-.7.8-.5 1-.5 1M47.8,69l1-.5 1.1-.3 1-.4.9-.6.9-.6 1.1-.3 1.1.3.9.5.5 1 .1 1.1.3 1.1.3 1M56.4,70.5l-.9.6-.8.7-.8.8-.8.8-.8.8-1 .4-1.1.2-1 .2-1.1-.1-1.1-.3-.8-.7-.8-.8M47.6,67.7l-.8-.7-.5-1 0-1.1.3-1 .7-.8 1.1-.3 1.1.3 1 .5.5.9.1 1.1-.5 1-.8.7M31,25.9l.3-1 .3-1.1.4-1 .3-1.1.6-.9.5-1 .6-.9.1-1.1-.3-1.1-.5-1-.8-.7-1-.4M19,13.8l0 1.1.3 1.1.7.9.8.7 1 .4 1.1 0 1.1-.3.9-.6.7-.8.6-1 .3-1-.2-1.1M35.4,47.9l-1 .3-.9.8-.6.9-.3 1-.2 1.1.1 1.1.7.8.9.7 1 .4 1 .4 1.1.3 1 .2M11.4,23.2l1.1.3 1.1.1 1.1.1 1 .2 1.1 0 1.1-.4 1-.5 1.1 0 .9.5.7.9.2 1.1-.4 1M52.4,56.2l-.4 1 .2 1.1.7.8 1.1.3 1-.4.7-.9.2-1.1-.1-1.1-.3-1-.4-1.1 0-1.1 0-1.1M25.5,54.6l-.1 1.1-.7.9-1 .3M37.8,46.4l-1-.4-1-.3-1.1-.5-1-.4-.9-.6-.9-.6-.7-.8-.4-1.1.2-1.1.8-.8.9-.6.9-.7M45.1,55.1l-.4-1 .1-1.1.3-1 .4-1.1.6-.9.6-.9.6-.9.8-.8.6-.9.3-1.1.2-1.1.1-1M50.4,47.2l0 1.1.2 1 .4 1 .5 1 .5 1 .3 1.1.3 1 .4 1 .5 1 .7.9.7.8 1 .5M46.2,75l1 .4.6.9.1 1.1-.6 1-1 .4-1.1-.2M43.4,48.4l-.4 1.1-.3 1-.5 1-.7.9-.9.6-1 .2-1-.5-.9-.7-.4-1 .2-1.1.7-.9.9-.6M15.3,37.2l1.1.1 1.1-.1 1.1.3.9.7.7.8.8.7.9.7.8.8.6.9.4 1-.3 1.1-.8.8M22,26.7l-1-.5-1.1 0-.9.6-.4 1 0 1.1.3 1 .6 1 .8.8.8.7.7.8.8.8.8.8M56.9,66.7l-1.1-.1-1-.3-1.1-.3-.9-.6-.7-.9-.5-1-.1-1.1.2-1 .6-1 .5-.9.6-1 .5-1M51.8,52.2l-.4 1-.7.8-1 .6-1 .2-1.1-.4-1-.5-.7-.8-.4-1-.3-1.1 0-1.1.1-1.1-.1-1.1M37.3,27.4l1-.5 1-.5 1-.5.9-.6.9-.6 1-.4.9-.7.8-.7 1.1-.3 1.1-.1 1.1.2M20.1,8.6l.7.8.9.7.7.8 1 .5.9.7.3 1 0 1.1-.3 1.1-.7.9-1 .5-1 .3-.9.6M34.1,41.8l-.4-1.1-.4-1-.4-1-.8-.8-1.1-.2-1 .4-.6.9-.3 1 .2 1.1.1 1.1.1 1.1.1 1.1M26.5,11.2l-.9-.7-.9-.6-1-.5-1-.5-1-.2-1.1-.1-1.1.4-.9.6-.6.9-.6 1-.5.9-.6.9M14.8,25.1l-.8-.7-.9-.7-.9-.6-.9-.6-.8-.7-.8-.8-.8-.8M35.2,48.1l.7.9.1 1.1-.6.9-.9.6-1.1 0-1-.4-.9-.7-.5-1-.2-1 .2-1.1.1-1.1 0-1.1M67.7,74.8l.2 1.1.2 1.1-.2 1.1-.4 1-.4 1-.5 1-.8.8-.8.7M56.5,59.6l.5 1 .9.6 1.1 0 1-.6.5-1-.1-1.1-.3-1-.3-1.1-.6-.9-.5-1-.5-.9-.6-1M37,36l-.8-.7-.9-.6-1.1-.1-1.1.4-.7.8-.7.8-.9.7-1 .5-.8.7-1 .6-.8.6-1 .5M64.9,52.9l.8-.7.6-1M68.9,71.2l-.2-1.1 0-1.1.5-1 1-.5 1.1.2M19.9,19.2l-.7-.9-1-.4-1.1-.2-1.1-.2-1.1-.3-1-.4-.9-.6-.7-.9-.5-.9-.2-1.1 0-1.1 0-1.1M54.6,50.5l-.4-1-.4-1 .2-1.1.3-1.1.5-1 .7-.8.8-.8.7-.8.6-.9.4-1.1.3-1 .6-.9M18.6,34.6l-.6.9-.1 1 .2 1.1.5 1 .7.9.8.7.9.6 1 .6 1 .3 1.1-.1 1.1-.3.9-.6M44.5,24.2l.4 1 .8.8.8.7.8.7.8.8.7.8 1 .6 1.1-.1.9-.6.6-.9M41.7,19.2l.7.9.5.9.8.8.9.6 1 .6 1 .2 1.1.3.9.7.5.9.4 1.1.4 1 .2 1.1M36.3,34.2l-1.1.1-.9.7-.6.9-.1 1.1.5 1 .6.9.7.8.9.7 1.1.3 1.1 0 1.1.1 1 .2M13.4,16.6l-.3-1.1-.5-.9-.6-.9-1-.6-1-.4M32.5,38.5l.1 1 .3 1.1.4 1 .2 1.1 0 1.1-.2 1.1-.6.9-.7.9-.9.6-.8.8-.4 1-.1 1.1M65.8,70l.6-1 .6-.9.4-1 .1-1.1 0-1.1-.2-1.1-.8-.7-1.1-.4-1.1.1-1 .3-1.1.3-1 .4M42.2,23.7l-1 .4-.7.9-.2 1.1.1 1.1.5 1 .5.9.4 1.1.6.9.6.9.6.9.6 1 .3 1M42.6,40.9l.2-1.1.3-1.1 0-1.1 0-1.1.1-1.1.3-1 .8-.8 1.1-.2 1 .5.7.8.4 1 .4 1M27,28.9l.6.9 1 .6.9.5 1.1.1 1.1-.4.6-1 .2-1-.4-1.1-.9-.7-1-.3-1.1.1-1.1.2M22.9,32.5l-1 .6-.4 1-.2 1.1.1 1.1.2 1.1 0 1.1-.1 1.1.4 1 .7.9.9.6 1 .3 1.1.1M26.7,49.4l-1.1-.1-1.1-.3-.7-.8-.2-1.1.3-1 .9-.7 1.1-.3 1 .2.9.6.7.9.5 1 .1 1.1M45.1,36.8l.1-1.1.3-1 .6-.9.5-1 .5-1 .6-.9.8-.7 1.1-.3 1.1.3.7.8.5 1 0 1.1M43.9,27.9l.9.6.7.8.7.9.1 1.1-.4 1-.9.6-1.1.1-1.1-.2-.9-.6-.8-.7-.9-.7-1-.5M21.3,50.7l-.8-.7-.7-.9 0-1.1.4-1 .6-.9.9-.7 1-.4 1.1 0 1.1 0 1.1.3.8.8.2 1M50.1,46.3l-1.1.1-1.1.1-1.1 0-1.1-.1-1-.6-.6-.8-.4-1.1 0-1.1 0-1.1.1-1.1.4-1 .9-.7M41.4,32l1.1 0 .9.7.4 1.1-.3 1-.8.8-1 .4-.9.6-1 .5-.9.6-.9.6-1.1.4-1 .2M46.5,50.3l.7-.9.7-.9.7-.8.7-.8.7-.9.6-.9.6-1 .3-1 .1-1.1.1-1.1.1-1.1 0-1.1M28.6,19.6l1 .5.9.6 1 .6 1 .2 1.1 0 1.1-.3 1-.4 1.1-.3 1-.3 1.1-.2 1-.5.5-1M48.7,29.8l.3 1.1.7.8.9.7.8.7.7.8.5 1 .6.9.2 1.1-.1 1.1-.2 1.1-.3 1-.7.9M21.6,51.2l-.4 1-.2 1.1M25.6,49.4l-.6-.9-.9-.7-1-.3-1.1 0-1 .4-.8.8-.6.9-.4 1.1M34.4,51.1l.7-.9.4-1 0-1.1-.6-.9-1-.4-1.1.1-1 .6-.6.9-.4 1-.6.9-.9.7-1.1.2M37.3,41.4l-.7-.9-.5-.9-.4-1-.1-1.1-.2-1.1-.6-1-.7-.8-.9-.6-1.1-.2-1.1-.3-1-.3-.9-.7M35.9,50.5l-.1 1.1-.8.8-1 .3-1.1-.4-.6-1 0-1.1.5-1 .9-.6 1.1.1 1 .4.8.7.9.7M12.3,18.8l-.3-1.1.3-1.1.5-1 .7-.8.8-.7 1-.6 1.1-.1 1 .4.7.9.4 1-.1 1.1-.6.9M26.9,39.4l-.2-1.1.3-1.1.9-.7 1.1 0 .9.5.7.9.3 1-.2 1.1-.4 1-.1 1.1.1 1.1.4 1.1M52.9,68.4l-.8.7-.2 1.1.4 1 .9.7 1 .3 1.1-.2.8-.8.7-.8.3-1.1.2-1.1.2-1 .1-1.1M35.3,44.2l.9.8.7.8.7.8.9.7.9.6.9.7.8.6.9.7 1 .5 1 .4 1.1-.1.9-.6M16.3,25.2l1.1-.3.9-.6.7-.9.6-.9.9-.6 1-.5 1-.4 1-.4 1.1-.2 1.1 0 1.1.2 1.1.1M25.3,38.8l-1 .6-.9.6-.8.8-.7.8-.5.9-.5 1-1 .6-1.1 0-.9-.6-.8-.8-.6-.9-.6-1M41.3,18.8l-.9-.7-.7-.8-.4-1-.3-1.1-.3-1M46.3,34.5l.5-1 .5-.9.4-1.1.4-1 0-1.1-.2-1.1-.5-1-.9-.5-1.1 0-1.1.3-1 .5-.8.8M21.6,29.4l0-1.1.3-1.1.6-.9.9-.5 1.1 0 1.1.3.9.6 1 .5 1 .5.6.9 0 1.1-.6.9M57.8,80.6l-1.1.2-.9.5-.5 1 .1 1.1M33.9,32.3l-.9-.7-.8-.8-.6-.9-.4-1-.2-1.1.2-1.1.3-1 .9-.7 1-.5 1.1.2.7.8.2 1.1M39.6,35.6l0 1.1-.6.9-.9.6-1.1 0-1-.5-.6-.9 0-1.1.6-.9 1-.5 1 .3.9.6.7.9M47.3,67.7l1.1-.1 1.1-.2 1-.5.9-.7 1-.3 1.1-.3 1.1.1 1 .3 1.1.3 1 .3 1.1.3 1 .4M54.5,73.8l1-.4.9-.6.7-.8.5-1 .1-1.1 0-1.1-.2-1.1-.3-1.1-.3-1-.5-1-.8-.8-.7-.8M17.3,14.5l.7-.9.1-1.1-.5-.9-.8-.8-.8-.8-.8-.7-.7-.8-1-.5M45.4,36.6l-.1 1.1-.1 1.1.1 1.1.3 1.1.5.9.9.7.8.7.9.7 1 .4 1.1.1 1.1-.1 1.1.3M33,12.8l1 .3 1.1.1 1.1.2 1.1.3.9.5M38.6,68l1.1-.1 1.1-.2 1-.3 1-.5.9-.6 1-.4 1.1-.1 1 .5.5.9 0 1.1-.7.9-1 .5M45.1,50.1l0 1.1-.4 1.1-.6.9-.9.6-1.1.1-1.1-.3-1-.5-.6-.9-.3-1 .3-1.1.9-.6 1-.6M51.3,66.7l-.7-.8-.3-1.1.5-1 .9-.5 1.1 0 .9.7.5.9.4 1.1-.1 1.1-.3 1-.8.7-1.1.1M52.7,30.5l-1-.6-1.1-.1-1 .5-.7.8-.3 1 0 1.1.1 1.1.3 1.1.3 1 .6.9.8.8 1.1.3" fill="none" stroke="#fff" stroke-width="0.9" stroke-linecap="round" stroke-linejoin="round" opacity="0.38" filter="url(#b3)" stroke-dasharray="0.9 0.9"/>
</g></g>
<rect x="489.5" y="569.6" width="86.4" height="86.6" fill="#242424"/>
<g clip-path="url(#k30)"><g transform="translate(489.5 569.6)">
<ellipse cx="45" cy="48" rx="28" ry="25" transform="rotate(-10 45 48)" fill="url(#rg)" opacity="0.2" filter="url(#gb)"/>
<use href="#p30_57" fill="none" stroke="#fff" stroke-width="3.0" stroke-linecap="round" stroke-linejoin="round" opacity="0.12" filter="url(#b15)"/>
<use href="#p30_57" fill="none" stroke="#fff" stroke-width="1.0" stroke-linecap="round" stroke-linejoin="round" opacity="0.478" filter="url(#b3)" stroke-dasharray="1.2 0.6"/>
<use href="#p30_58" fill="none" stroke="#fff" stroke-width="3.0" stroke-linecap="round" stroke-linejoin="round" opacity="0.12" filter="url(#b15)"/>
<use href="#p30_58" fill="none" stroke="#fff" stroke-width="0.9" stroke-linecap="round" stroke-linejoin="round" opacity="0.368" filter="url(#b3)" stroke-dasharray="1 0.8"/>
</g></g>
<rect x="583.3" y="569.6" width="86.8" height="86.6" fill="#242424"/>
<g clip-path="url(#k31)"><g transform="translate(583.3 569.6)">
<ellipse cx="44" cy="32" rx="25" ry="22" transform="rotate(0 44 32)" fill="url(#rg)" opacity="0.1" filter="url(#gb)"/>
<ellipse cx="40" cy="64" rx="14" ry="20" transform="rotate(0 40 64)" fill="url(#rg)" opacity="0.04" filter="url(#gb)"/>
<use href="#p31_60" fill="none" stroke="#fff" stroke-width="3.0" stroke-linecap="round" stroke-linejoin="round" opacity="0.08" filter="url(#b15)"/>
<use href="#p31_60" fill="none" stroke="#fff" stroke-width="0.95" stroke-linecap="round" stroke-linejoin="round" opacity="0.48" filter="url(#b3)" stroke-dasharray="1 0.8"/>
<use href="#p31_61" fill="none" stroke="#fff" stroke-width="3.0" stroke-linecap="round" stroke-linejoin="round" opacity="0.08" filter="url(#b15)"/>
<use href="#p31_61" fill="none" stroke="#fff" stroke-width="0.9" stroke-linecap="round" stroke-linejoin="round" opacity="0.42" filter="url(#b3)" stroke-dasharray="1 0.8"/>
</g></g>
<rect x="672.1" y="569.6" width="86.9" height="86.6" fill="#242424"/>
<g clip-path="url(#k32)"><g transform="translate(672.1 569.6)">
<ellipse cx="36" cy="18" rx="13" ry="20" transform="rotate(-30 36 18)" fill="url(#rg)" opacity="0.12" filter="url(#gb)"/>
<ellipse cx="52" cy="50" rx="25" ry="36" transform="rotate(-25 52 50)" fill="url(#rg)" opacity="0.22" filter="url(#gb)"/>
<use href="#p32_63" fill="none" stroke="#fff" stroke-width="3.0" stroke-linecap="round" stroke-linejoin="round" opacity="0.16" filter="url(#b15)"/>
<use href="#p32_63" fill="none" stroke="#fff" stroke-width="1.0" stroke-linecap="round" stroke-linejoin="round" opacity="0.528" filter="url(#b3)"/>
<use href="#p32_64" fill="none" stroke="#fff" stroke-width="3.0" stroke-linecap="round" stroke-linejoin="round" opacity="0.16" filter="url(#b15)"/>
<use href="#p32_64" fill="none" stroke="#fff" stroke-width="1.05" stroke-linecap="round" stroke-linejoin="round" opacity="0.572" filter="url(#b3)"/>
</g></g>
<rect x="673.8" y="652.8" width="22.4" height="1.7" fill="#fff"/>
<text transform="translate(30.3 340.8) rotate(-90)" font-family='"Liberation Sans", sans-serif' font-size="14.3" text-anchor="middle" fill="#222">DAPI</text>
<text transform="translate(30.3 429.4) rotate(-90)" font-family='"Liberation Sans", sans-serif' font-size="14.3" text-anchor="middle" fill="#222">mSMC4</text>
<text transform="translate(30.3 524.2) rotate(-90)" font-family='"Liberation Sans", sans-serif' font-size="14.3" text-anchor="middle" fill="#222">DAPI</text>
<text transform="translate(30.3 612.9) rotate(-90)" font-family='"Liberation Sans", sans-serif' font-size="14.3" text-anchor="middle" fill="#222">mSMC4</text>
<text transform="translate(10.3 385.2) rotate(-90)" font-family='"Liberation Sans", sans-serif' font-size="14.3" text-anchor="middle" fill="#222">30 min</text>
<text transform="translate(10.3 568.6) rotate(-90)" font-family='"Liberation Sans", sans-serif' font-size="14.3" text-anchor="middle" fill="#222">150 min</text>
<line x1="14.3" y1="298" x2="14.3" y2="472.5" stroke="#333" stroke-width="0.9"/>
<line x1="14.3" y1="481" x2="14.3" y2="656.2" stroke="#333" stroke-width="0.9"/>
<text x="2.8" y="692.4" font-family='"Liberation Sans", sans-serif' font-weight="bold" font-size="19">C</text>
<line x1="64.6" y1="751.2" x2="64.6" y2="942.3" stroke="#111" stroke-width="1.3"/>
<line x1="58.2" y1="752.20" x2="64.6" y2="752.20" stroke="#111" stroke-width="1.3"/>
<text x="56.40" y="756.20" font-family='"Liberation Sans", sans-serif' font-size="10.9" text-anchor="end" fill="#222">15000</text>
<line x1="58.2" y1="815.57" x2="64.6" y2="815.57" stroke="#111" stroke-width="1.3"/>
<text x="56.40" y="819.57" font-family='"Liberation Sans", sans-serif' font-size="10.9" text-anchor="end" fill="#222">10000</text>
<line x1="58.2" y1="878.93" x2="64.6" y2="878.93" stroke="#111" stroke-width="1.3"/>
<text x="56.40" y="882.93" font-family='"Liberation Sans", sans-serif' font-size="10.9" text-anchor="end" fill="#222">5000</text>
<line x1="58.2" y1="942.30" x2="64.6" y2="942.30" stroke="#111" stroke-width="1.3"/>
<text x="56.40" y="946.30" font-family='"Liberation Sans", sans-serif' font-size="10.9" text-anchor="end" fill="#222">0</text>
<line x1="58.2" y1="942.3" x2="381.6" y2="942.3" stroke="#111" stroke-width="1.3"/>
<text transform="translate(18.0 848) rotate(-90)" font-family='"Liberation Sans", sans-serif' font-size="13.45" text-anchor="middle" fill="#222">mSMC4 intensity / DAPI area [a.u.]</text>
<line x1="77.40" y1="942.3" x2="77.40" y2="948.4" stroke="#111" stroke-width="1.3"/>
<text transform="translate(81.80 959.2) rotate(-45)" font-family='"Liberation Sans", sans-serif' font-size="11.5" text-anchor="end" fill="#222">holo(WT)</text>
<line x1="96.71" y1="942.3" x2="96.71" y2="948.4" stroke="#111" stroke-width="1.3"/>
<text transform="translate(101.11 959.2) rotate(-45)" font-family='"Liberation Sans", sans-serif' font-size="11.5" text-anchor="end" fill="#222">holo(<tspan fill="#ee3a2e">H-dN</tspan>)</text>
<line x1="116.02" y1="942.3" x2="116.02" y2="948.4" stroke="#111" stroke-width="1.3"/>
<text transform="translate(120.42 959.2) rotate(-45)" font-family='"Liberation Sans", sans-serif' font-size="11.5" text-anchor="end" fill="#222">holo(WT)</text>
<line x1="135.33" y1="942.3" x2="135.33" y2="948.4" stroke="#111" stroke-width="1.3"/>
<text transform="translate(139.73 959.2) rotate(-45)" font-family='"Liberation Sans", sans-serif' font-size="11.5" text-anchor="end" fill="#222">holo(<tspan fill="#ee3a2e">H-dN</tspan>)</text>
<line x1="154.64" y1="942.3" x2="154.64" y2="948.4" stroke="#111" stroke-width="1.3"/>
<text transform="translate(159.04 959.2) rotate(-45)" font-family='"Liberation Sans", sans-serif' font-size="11.5" text-anchor="end" fill="#222">holo(WT)</text>
<line x1="173.95" y1="942.3" x2="173.95" y2="948.4" stroke="#111" stroke-width="1.3"/>
<text transform="translate(178.35 959.2) rotate(-45)" font-family='"Liberation Sans", sans-serif' font-size="11.5" text-anchor="end" fill="#222">holo(<tspan fill="#ee3a2e">H-dN</tspan>)</text>
<line x1="193.26" y1="942.3" x2="193.26" y2="948.4" stroke="#111" stroke-width="1.3"/>
<text transform="translate(197.66 959.2) rotate(-45)" font-family='"Liberation Sans", sans-serif' font-size="11.5" text-anchor="end" fill="#222">holo(WT)</text>
<line x1="212.57" y1="942.3" x2="212.57" y2="948.4" stroke="#111" stroke-width="1.3"/>
<text transform="translate(216.97 959.2) rotate(-45)" font-family='"Liberation Sans", sans-serif' font-size="11.5" text-anchor="end" fill="#222">holo(<tspan fill="#ee3a2e">H-dN</tspan>)</text>
<line x1="231.88" y1="942.3" x2="231.88" y2="948.4" stroke="#111" stroke-width="1.3"/>
<text transform="translate(236.28 959.2) rotate(-45)" font-family='"Liberation Sans", sans-serif' font-size="11.5" text-anchor="end" fill="#222">holo(WT)</text>
<line x1="251.19" y1="942.3" x2="251.19" y2="948.4" stroke="#111" stroke-width="1.3"/>
<text transform="translate(255.59 959.2) rotate(-45)" font-family='"Liberation Sans", sans-serif' font-size="11.5" text-anchor="end" fill="#222">holo(<tspan fill="#ee3a2e">H-dN</tspan>)</text>
<line x1="270.50" y1="942.3" x2="270.50" y2="948.4" stroke="#111" stroke-width="1.3"/>
<text transform="translate(274.90 959.2) rotate(-45)" font-family='"Liberation Sans", sans-serif' font-size="11.5" text-anchor="end" fill="#222">holo(WT)</text>
<line x1="289.81" y1="942.3" x2="289.81" y2="948.4" stroke="#111" stroke-width="1.3"/>
<text transform="translate(294.21 959.2) rotate(-45)" font-family='"Liberation Sans", sans-serif' font-size="11.5" text-anchor="end" fill="#222">holo(<tspan fill="#ee3a2e">H-dN</tspan>)</text>
<line x1="309.12" y1="942.3" x2="309.12" y2="948.4" stroke="#111" stroke-width="1.3"/>
<text transform="translate(313.52 959.2) rotate(-45)" font-family='"Liberation Sans", sans-serif' font-size="11.5" text-anchor="end" fill="#222">holo(WT)</text>
<line x1="328.43" y1="942.3" x2="328.43" y2="948.4" stroke="#111" stroke-width="1.3"/>
<text transform="translate(332.83 959.2) rotate(-45)" font-family='"Liberation Sans", sans-serif' font-size="11.5" text-anchor="end" fill="#222">holo(<tspan fill="#ee3a2e">H-dN</tspan>)</text>
<line x1="347.74" y1="942.3" x2="347.74" y2="948.4" stroke="#111" stroke-width="1.3"/>
<text transform="translate(352.14 959.2) rotate(-45)" font-family='"Liberation Sans", sans-serif' font-size="11.5" text-anchor="end" fill="#222">holo(WT)</text>
<line x1="367.05" y1="942.3" x2="367.05" y2="948.4" stroke="#111" stroke-width="1.3"/>
<text transform="translate(371.45 959.2) rotate(-45)" font-family='"Liberation Sans", sans-serif' font-size="11.5" text-anchor="end" fill="#222">holo(<tspan fill="#ee3a2e">H-dN</tspan>)</text>
<path d="M77.40,935.96h0.01M77.40,940.40h0.01M80.40,941.03h0.01M80.40,941.03h0.01M80.40,941.03h0.01M80.40,941.29h0.01M80.40,941.67h0.01M80.40,941.67h0.01M80.40,942.05h0.01M80.40,942.30h0.01" stroke="#6e6e6e" stroke-width="3.5" stroke-linecap="round" fill="none"/>
<path d="M71.10,940.84H83.70M77.40,940.27V941.41M74.10,940.27H80.70M74.10,941.41H80.70" stroke="#111" stroke-width="1.3" fill="none"/>
<path d="M96.71,922.66h0.01M92.11,925.19h0.01M96.71,927.09h0.01M96.71,930.89h0.01M92.11,932.16h0.01M101.31,932.80h0.01M96.71,934.70h0.01M96.71,939.77h0.01M99.71,941.03h0.01M99.71,941.67h0.01" stroke="#ee3a2e" stroke-width="3.5" stroke-linecap="round" fill="none"/>
<path d="M90.41,932.80H103.01M96.71,930.70V934.89M93.41,930.70H100.01M93.41,934.89H100.01" stroke="#111" stroke-width="1.3" fill="none"/>
<path d="M116.02,941.54h0.01M119.02,941.67h0.01M119.02,941.67h0.01M119.02,941.79h0.01M119.02,941.79h0.01M119.02,941.92h0.01M119.02,942.05h0.01M119.02,942.05h0.01" stroke="#6e6e6e" stroke-width="3.5" stroke-linecap="round" fill="none"/>
<path d="M109.72,941.81H122.32M116.02,941.74V941.87M112.72,941.74H119.32M112.72,941.87H119.32" stroke="#111" stroke-width="1.3" fill="none"/>
<path d="M135.33,939.77h0.01M138.33,940.40h0.01M138.33,940.78h0.01M138.33,941.03h0.01M138.33,941.03h0.01M138.33,941.29h0.01M138.33,941.67h0.01M138.33,941.67h0.01" stroke="#ee3a2e" stroke-width="3.5" stroke-linecap="round" fill="none"/>
<path d="M129.03,940.95H141.63M135.33,940.73V941.18M132.03,940.73H138.63M132.03,941.18H138.63" stroke="#111" stroke-width="1.3" fill="none"/>
<path d="M154.64,939.77h0.01M157.64,940.40h0.01M157.64,941.03h0.01M157.64,941.03h0.01M157.64,941.29h0.01M157.64,941.67h0.01" stroke="#6e6e6e" stroke-width="3.5" stroke-linecap="round" fill="none"/>
<path d="M148.34,940.86H160.94M154.64,940.59V941.14M151.34,940.59H157.94M151.34,941.14H157.94" stroke="#111" stroke-width="1.3" fill="none"/>
<path d="M173.95,897.31h0.01M169.35,897.94h0.01M173.95,905.55h0.01M169.35,908.08h0.01M173.95,917.59h0.01M169.35,920.12h0.01M173.95,925.83h0.01M169.35,925.83h0.01M173.95,930.26h0.01M169.35,932.80h0.01" stroke="#ee3a2e" stroke-width="3.5" stroke-linecap="round" fill="none"/>
<path d="M167.65,916.13H180.25M173.95,911.99V920.27M170.65,911.99H177.25M170.65,920.27H177.25" stroke="#111" stroke-width="1.3" fill="none"/>
<path d="M193.26,899.21h0.01M193.26,908.08h0.01M188.66,908.08h0.01M193.26,911.88h0.01M188.66,914.42h0.01M193.26,917.59h0.01M188.66,919.49h0.01M193.26,922.02h0.01M193.26,930.26h0.01M188.66,930.26h0.01" stroke="#6e6e6e" stroke-width="3.5" stroke-linecap="round" fill="none"/>
<path d="M186.96,916.13H199.56M193.26,913.00V919.26M189.96,913.00H196.56M189.96,919.26H196.56" stroke="#111" stroke-width="1.3" fill="none"/>
<path d="M212.57,814.56h0.01M212.57,826.98h0.01M212.57,831.54h0.01M212.57,838.38h0.01M212.57,843.45h0.01M207.97,845.22h0.01M217.17,845.99h0.01M212.57,848.90h0.01M207.97,848.90h0.01M212.57,856.38h0.01" stroke="#ee3a2e" stroke-width="3.5" stroke-linecap="round" fill="none"/>
<path d="M206.27,840.03H218.87M212.57,836.09V843.96M209.27,836.09H215.87M209.27,843.96H215.87" stroke="#111" stroke-width="1.3" fill="none"/>
<path d="M231.88,941.54h0.01M234.88,941.67h0.01M234.88,941.67h0.01M234.88,941.79h0.01M234.88,941.92h0.01M234.88,942.05h0.01" stroke="#6e6e6e" stroke-width="3.5" stroke-linecap="round" fill="none"/>
<path d="M225.58,941.77H238.18M231.88,941.70V941.85M228.58,941.70H235.18M228.58,941.85H235.18" stroke="#111" stroke-width="1.3" fill="none"/>
<path d="M251.19,932.80h0.01M246.59,934.70h0.01M255.79,935.33h0.01M251.19,937.23h0.01M254.19,937.86h0.01M254.19,938.50h0.01M254.19,938.50h0.01M254.19,939.77h0.01M248.19,941.03h0.01M254.19,941.67h0.01" stroke="#ee3a2e" stroke-width="3.5" stroke-linecap="round" fill="none"/>
<path d="M244.89,937.74H257.49M251.19,936.85V938.63M247.89,936.85H254.49M247.89,938.63H254.49" stroke="#111" stroke-width="1.3" fill="none"/>
<path d="M270.50,934.70h0.01M273.50,937.23h0.01M273.50,937.86h0.01M267.50,938.50h0.01M273.50,939.77h0.01M273.50,939.77h0.01M273.50,940.40h0.01M273.50,941.03h0.01M273.50,941.67h0.01" stroke="#6e6e6e" stroke-width="3.5" stroke-linecap="round" fill="none"/>
<path d="M264.20,938.99H276.80M270.50,938.27V939.71M267.20,938.27H273.80M267.20,939.71H273.80" stroke="#111" stroke-width="1.3" fill="none"/>
<path d="M289.81,917.59h0.01M289.81,922.66h0.01M285.21,923.29h0.01M289.81,926.46h0.01M285.21,927.09h0.01M294.41,928.36h0.01M289.81,930.89h0.01M285.21,932.80h0.01M294.41,933.43h0.01M294.41,933.43h0.01" stroke="#ee3a2e" stroke-width="3.5" stroke-linecap="round" fill="none"/>
<path d="M283.51,927.60H296.11M289.81,925.93V929.27M286.51,925.93H293.11M286.51,929.27H293.11" stroke="#111" stroke-width="1.3" fill="none"/>
<path d="M309.12,905.55h0.01M309.12,913.79h0.01M304.52,914.42h0.01M309.12,920.76h0.01M304.52,923.29h0.01M309.12,929.63h0.01M304.52,930.89h0.01M309.12,934.70h0.01M304.52,935.33h0.01M309.12,938.50h0.01" stroke="#6e6e6e" stroke-width="3.5" stroke-linecap="round" fill="none"/>
<path d="M302.82,924.68H315.42M309.12,921.23V928.14M305.82,921.23H312.42M305.82,928.14H312.42" stroke="#111" stroke-width="1.3" fill="none"/>
<path d="M328.43,829.89h0.01M328.43,872.60h0.01M323.83,875.13h0.01M328.43,878.93h0.01M323.83,880.20h0.01M328.43,886.54h0.01M328.43,891.61h0.01M328.43,901.75h0.01M323.83,902.38h0.01M328.43,905.55h0.01" stroke="#ee3a2e" stroke-width="3.5" stroke-linecap="round" fill="none"/>
<path d="M322.13,882.46H334.73M328.43,875.52V889.40M325.13,875.52H331.73M325.13,889.40H331.73" stroke="#111" stroke-width="1.3" fill="none"/>
<path d="M347.74,867.53h0.01M347.74,872.60h0.01M347.74,881.47h0.01M343.14,884.00h0.01M347.74,887.81h0.01M347.74,892.88h0.01M347.74,896.68h0.01M343.14,897.94h0.01M347.74,904.91h0.01M347.74,909.98h0.01" stroke="#6e6e6e" stroke-width="3.5" stroke-linecap="round" fill="none"/>
<path d="M341.44,889.58H354.04M347.74,885.29V893.87M344.44,885.29H351.04M344.44,893.87H351.04" stroke="#111" stroke-width="1.3" fill="none"/>
<path d="M367.05,775.02h0.01M367.05,781.61h0.01M367.05,792.12h0.01M367.05,800.36h0.01M362.45,803.15h0.01M367.05,818.23h0.01M367.05,825.71h0.01M367.05,831.03h0.01M367.05,845.48h0.01M362.45,846.75h0.01" stroke="#ee3a2e" stroke-width="3.5" stroke-linecap="round" fill="none"/>
<path d="M360.75,811.95H373.35M367.05,803.91V819.99M363.75,803.91H370.35M363.75,819.99H370.35" stroke="#111" stroke-width="1.3" fill="none"/>
<path d="M153.64,760.40V757.60H173.25V760.40" stroke="#111" stroke-width="1.3" fill="none"/>
<path d="M193.46,760.40V757.60H213.57V760.40" stroke="#111" stroke-width="1.3" fill="none"/>
<path d="M171.75,738.50V735.70H194.86V738.50" stroke="#111" stroke-width="1.3" fill="none"/>
<path d="M308.12,760.40V757.60H327.73V760.40" stroke="#111" stroke-width="1.3" fill="none"/>
<path d="M347.94,760.40V757.60H368.05V760.40" stroke="#111" stroke-width="1.3" fill="none"/>
<path d="M326.23,738.50V735.70H349.34V738.50" stroke="#111" stroke-width="1.3" fill="none"/>
<text x="162.90" y="750.3" font-family='"Liberation Sans", sans-serif' font-size="9.9" text-anchor="middle" fill="#222"><tspan font-style="italic">P</tspan>&lt;0.01</text>
<text x="203.40" y="750.3" font-family='"Liberation Sans", sans-serif' font-size="9.9" text-anchor="middle" fill="#222"><tspan font-style="italic">P</tspan>&lt;0.01</text>
<text x="183.30" y="728.6" font-family='"Liberation Sans", sans-serif' font-size="9.9" text-anchor="middle" fill="#222">ns (<tspan font-style="italic">P</tspan>&gt;0.99)</text>
<text x="318.00" y="750.3" font-family='"Liberation Sans", sans-serif' font-size="9.9" text-anchor="middle" fill="#222"><tspan font-style="italic">P</tspan>&lt;0.01</text>
<text x="357.30" y="750.3" font-family='"Liberation Sans", sans-serif' font-size="9.9" text-anchor="middle" fill="#222"><tspan font-style="italic">P</tspan>&lt;0.01</text>
<text x="338.70" y="728.6" font-family='"Liberation Sans", sans-serif' font-size="9.9" text-anchor="middle" fill="#222">ns (<tspan font-style="italic">P</tspan>=0.95)</text>
<line x1="71.3" y1="1004.2" x2="102.6" y2="1004.2" stroke="#111" stroke-width="1.3"/>
<text x="86.95" y="1018.80" font-family='"Liberation Sans", sans-serif' font-size="11.2" text-anchor="middle" fill="#222">4.4</text>
<line x1="109.7" y1="1004.2" x2="141.2" y2="1004.2" stroke="#111" stroke-width="1.3"/>
<text x="125.45" y="1018.80" font-family='"Liberation Sans", sans-serif' font-size="11.2" text-anchor="middle" fill="#222">8.8</text>
<line x1="148.3" y1="1004.2" x2="179.8" y2="1004.2" stroke="#111" stroke-width="1.3"/>
<text x="164.05" y="1018.80" font-family='"Liberation Sans", sans-serif' font-size="11.2" text-anchor="middle" fill="#222">17.5</text>
<line x1="185.5" y1="1004.2" x2="217" y2="1004.2" stroke="#111" stroke-width="1.3"/>
<text x="201.25" y="1018.80" font-family='"Liberation Sans", sans-serif' font-size="11.2" text-anchor="middle" fill="#222">35</text>
<line x1="225.9" y1="1004.2" x2="256.7" y2="1004.2" stroke="#111" stroke-width="1.3"/>
<text x="241.30" y="1018.80" font-family='"Liberation Sans", sans-serif' font-size="11.2" text-anchor="middle" fill="#222">4.4</text>
<line x1="264.3" y1="1004.2" x2="295.3" y2="1004.2" stroke="#111" stroke-width="1.3"/>
<text x="279.80" y="1018.80" font-family='"Liberation Sans", sans-serif' font-size="11.2" text-anchor="middle" fill="#222">8.8</text>
<line x1="302.4" y1="1004.2" x2="333.7" y2="1004.2" stroke="#111" stroke-width="1.3"/>
<text x="318.05" y="1018.80" font-family='"Liberation Sans", sans-serif' font-size="11.2" text-anchor="middle" fill="#222">17.5</text>
<line x1="340.8" y1="1004.2" x2="371.6" y2="1004.2" stroke="#111" stroke-width="1.3"/>
<text x="356.20" y="1018.80" font-family='"Liberation Sans", sans-serif' font-size="11.2" text-anchor="middle" fill="#222">35</text>
<text x="378.20" y="1018.80" font-family='"Liberation Sans", sans-serif' font-size="11.2" text-anchor="start" fill="#222">(nM)</text>
<line x1="71.3" y1="1025" x2="217" y2="1025" stroke="#111" stroke-width="1.3"/>
<line x1="225.9" y1="1025" x2="371.6" y2="1025" stroke="#111" stroke-width="1.3"/>
<text x="144.30" y="1038.50" font-family='"Liberation Sans", sans-serif' font-size="11.3" text-anchor="middle" fill="#222">30 min</text>
<text x="298.60" y="1038.50" font-family='"Liberation Sans", sans-serif' font-size="11.3" text-anchor="middle" fill="#222">150 min</text>
<text x="403.5" y="692.2" font-family='"Liberation Sans", sans-serif' font-weight="bold" font-size="19">D</text>
<path d="M473.59,855.00L473.59,817.71L479.54,813.70L485.48,809.69L491.43,805.69L497.38,801.02L503.32,794.64L509.27,788.26L515.22,781.95L521.17,775.94L527.12,769.93L533.06,763.96L539.01,758.30L544.96,752.75L550.90,748.45L556.85,744.25L562.80,741.50L568.75,744.25L574.69,748.45L580.64,752.75L586.59,758.30L592.54,763.96L598.49,769.93L604.43,775.94L610.38,781.95L616.33,788.26L622.27,794.64L628.22,801.02L634.17,805.69L640.12,809.69L646.06,813.70L652.01,817.71L652.01,855.00Z" fill="#a9d49e"/>
<path d="M473.59,803.52V831.89M471.79,803.52H475.39M471.79,831.89H475.39M479.54,798.04V829.36M477.74,798.04H481.34M477.74,829.36H481.34M485.48,792.56V826.83M483.68,792.56H487.28M483.68,826.83H487.28M491.43,787.07V824.30M489.63,787.07H493.23M489.63,824.30H493.23M497.38,780.93V821.11M495.58,780.93H499.18M495.58,821.11H499.18M503.32,773.08V816.21M501.52,773.08H505.12M501.52,816.21H505.12M509.27,765.22V811.30M507.47,765.22H511.07M507.47,811.30H511.07M515.22,757.44V806.47M513.42,757.44H517.02M513.42,806.47H517.02M521.17,749.95V801.93M519.37,749.95H522.97M519.37,801.93H522.97M527.12,742.46V797.39M525.32,742.46H528.91M525.32,797.39H528.91M533.06,735.02V792.90M531.26,735.02H534.86M531.26,792.90H534.86M539.01,727.88V788.72M537.21,727.88H540.81M537.21,788.72H540.81M544.96,720.85V784.64M543.16,720.85H546.76M543.16,784.64H546.76M550.90,715.09V781.82M549.11,715.09H552.70M549.11,781.82H552.70M556.85,709.41V779.10M555.05,709.41H558.65M555.05,779.10H558.65M562.80,705.18V777.82M561.00,705.18H564.60M561.00,777.82H564.60M568.75,709.41V779.10M566.95,709.41H570.55M566.95,779.10H570.55M574.69,715.09V781.82M572.89,715.09H576.49M572.89,781.82H576.49M580.64,720.85V784.64M578.84,720.85H582.44M578.84,784.64H582.44M586.59,727.88V788.72M584.79,727.88H588.39M584.79,788.72H588.39M592.54,735.02V792.90M590.74,735.02H594.34M590.74,792.90H594.34M598.49,742.46V797.39M596.69,742.46H600.28M596.69,797.39H600.28M604.43,749.95V801.93M602.63,749.95H606.23M602.63,801.93H606.23M610.38,757.44V806.47M608.58,757.44H612.18M608.58,806.47H612.18M616.33,765.22V811.30M614.53,765.22H618.13M614.53,811.30H618.13M622.27,773.08V816.21M620.48,773.08H624.07M620.48,816.21H624.07M628.22,780.93V821.11M626.42,780.93H630.02M626.42,821.11H630.02M634.17,787.07V824.30M632.37,787.07H635.97M632.37,824.30H635.97M640.12,792.56V826.83M638.32,792.56H641.92M638.32,826.83H641.92M646.06,798.04V829.36M644.26,798.04H647.86M644.26,829.36H647.86M652.01,803.52V831.89M650.21,803.52H653.81M650.21,831.89H653.81" stroke="#2a7a2e" stroke-width="1" opacity="0.8" fill="none"/>
<path d="M473.59,817.71L479.54,813.70L485.48,809.69L491.43,805.69L497.38,801.02L503.32,794.64L509.27,788.26L515.22,781.95L521.17,775.94L527.12,769.93L533.06,763.96L539.01,758.30L544.96,752.75L550.90,748.45L556.85,744.25L562.80,741.50L568.75,744.25L574.69,748.45L580.64,752.75L586.59,758.30L592.54,763.96L598.49,769.93L604.43,775.94L610.38,781.95L616.33,788.26L622.27,794.64L628.22,801.02L634.17,805.69L640.12,809.69L646.06,813.70L652.01,817.71" stroke="#2a7a2e" stroke-width="1.1" fill="none"/>
<path d="M473.59,817.71h0.01M479.54,813.70h0.01M485.48,809.69h0.01M491.43,805.69h0.01M497.38,801.02h0.01M503.32,794.64h0.01M509.27,788.26h0.01M515.22,781.95h0.01M521.17,775.94h0.01M527.12,769.93h0.01M533.06,763.96h0.01M539.01,758.30h0.01M544.96,752.75h0.01M550.90,748.45h0.01M556.85,744.25h0.01M562.80,741.50h0.01M568.75,744.25h0.01M574.69,748.45h0.01M580.64,752.75h0.01M586.59,758.30h0.01M592.54,763.96h0.01M598.49,769.93h0.01M604.43,775.94h0.01M610.38,781.95h0.01M616.33,788.26h0.01M622.27,794.64h0.01M628.22,801.02h0.01M634.17,805.69h0.01M640.12,809.69h0.01M646.06,813.70h0.01M652.01,817.71h0.01" stroke="#2a7a2e" stroke-width="4" stroke-linecap="round" fill="none"/>
<path d="M473.59,855.00L473.59,832.82L479.54,828.26L485.48,823.70L491.43,819.14L497.38,814.05L503.32,807.60L509.27,801.14L515.22,794.36L521.17,786.24L527.12,778.13L533.06,770.05L539.01,762.29L544.96,754.70L550.90,749.21L556.85,744.25L562.80,741.50L568.75,744.25L574.69,749.21L580.64,754.70L586.59,762.29L592.54,770.05L598.49,778.13L604.43,786.24L610.38,794.36L616.33,801.14L622.27,807.60L628.22,814.05L634.17,819.14L640.12,823.70L646.06,828.26L652.01,832.82L652.01,855.00Z" fill="#b9b9c4"/>
<path d="M473.59,825.30V840.34M471.79,825.30H475.39M471.79,840.34H475.39M479.54,818.89V837.62M477.74,818.89H481.34M477.74,837.62H481.34M485.48,812.49V834.91M483.68,812.49H487.28M483.68,834.91H487.28M491.43,806.09V832.19M489.63,806.09H493.23M489.63,832.19H493.23M497.38,799.16V828.95M495.58,799.16H499.18M495.58,828.95H499.18M503.32,790.86V824.34M501.52,790.86H505.12M501.52,824.34H505.12M509.27,782.56V819.73M507.47,782.56H511.07M507.47,819.73H511.07M515.22,773.93V814.79M513.42,773.93H517.02M513.42,814.79H517.02M521.17,763.97V808.52M519.37,763.97H522.97M519.37,808.52H522.97M527.12,754.01V802.25M525.32,754.01H528.91M525.32,802.25H528.91M533.06,744.09V796.02M531.26,744.09H534.86M531.26,796.02H534.86M539.01,734.48V790.10M537.21,734.48H540.81M537.21,790.10H540.81M544.96,725.04V784.35M543.16,725.04H546.76M543.16,784.35H546.76M550.90,717.72V780.71M549.11,717.72H552.70M549.11,780.71H552.70M556.85,710.91V777.59M555.05,710.91H558.65M555.05,777.59H558.65M562.80,706.32V776.68M561.00,706.32H564.60M561.00,776.68H564.60M568.75,710.91V777.59M566.95,710.91H570.55M566.95,777.59H570.55M574.69,717.72V780.71M572.89,717.72H576.49M572.89,780.71H576.49M580.64,725.04V784.35M578.84,725.04H582.44M578.84,784.35H582.44M586.59,734.48V790.10M584.79,734.48H588.39M584.79,790.10H588.39M592.54,744.09V796.02M590.74,744.09H594.34M590.74,796.02H594.34M598.49,754.01V802.25M596.69,754.01H600.28M596.69,802.25H600.28M604.43,763.97V808.52M602.63,763.97H606.23M602.63,808.52H606.23M610.38,773.93V814.79M608.58,773.93H612.18M608.58,814.79H612.18M616.33,782.56V819.73M614.53,782.56H618.13M614.53,819.73H618.13M622.27,790.86V824.34M620.48,790.86H624.07M620.48,824.34H624.07M628.22,799.16V828.95M626.42,799.16H630.02M626.42,828.95H630.02M634.17,806.09V832.19M632.37,806.09H635.97M632.37,832.19H635.97M640.12,812.49V834.91M638.32,812.49H641.92M638.32,834.91H641.92M646.06,818.89V837.62M644.26,818.89H647.86M644.26,837.62H647.86M652.01,825.30V840.34M650.21,825.30H653.81M650.21,840.34H653.81" stroke="#111111" stroke-width="1" opacity="0.8" fill="none"/>
<path d="M473.59,832.82L479.54,828.26L485.48,823.70L491.43,819.14L497.38,814.05L503.32,807.60L509.27,801.14L515.22,794.36L521.17,786.24L527.12,778.13L533.06,770.05L539.01,762.29L544.96,754.70L550.90,749.21L556.85,744.25L562.80,741.50L568.75,744.25L574.69,749.21L580.64,754.70L586.59,762.29L592.54,770.05L598.49,778.13L604.43,786.24L610.38,794.36L616.33,801.14L622.27,807.60L628.22,814.05L634.17,819.14L640.12,823.70L646.06,828.26L652.01,832.82" stroke="#111111" stroke-width="1.1" fill="none"/>
<path d="M473.59,832.82h0.01M479.54,828.26h0.01M485.48,823.70h0.01M491.43,819.14h0.01M497.38,814.05h0.01M503.32,807.60h0.01M509.27,801.14h0.01M515.22,794.36h0.01M521.17,786.24h0.01M527.12,778.13h0.01M533.06,770.05h0.01M539.01,762.29h0.01M544.96,754.70h0.01M550.90,749.21h0.01M556.85,744.25h0.01M562.80,741.50h0.01M568.75,744.25h0.01M574.69,749.21h0.01M580.64,754.70h0.01M586.59,762.29h0.01M592.54,770.05h0.01M598.49,778.13h0.01M604.43,786.24h0.01M610.38,794.36h0.01M616.33,801.14h0.01M622.27,807.60h0.01M628.22,814.05h0.01M634.17,819.14h0.01M640.12,823.70h0.01M646.06,828.26h0.01M652.01,832.82h0.01" stroke="#111111" stroke-width="4" stroke-linecap="round" fill="none"/>
<path d="M473.59,855.00L473.59,836.08L479.54,832.63L485.48,829.17L491.43,825.72L497.38,821.69L503.32,816.15L509.27,810.62L515.22,804.20L521.17,794.24L527.12,784.28L533.06,774.46L539.01,765.58L544.96,756.88L550.90,750.30L556.85,744.25L562.80,741.50L568.75,744.25L574.69,750.30L580.64,756.88L586.59,765.58L592.54,774.46L598.49,784.28L604.43,794.24L610.38,804.20L616.33,810.62L622.27,816.15L628.22,821.69L634.17,825.72L640.12,829.17L646.06,832.63L652.01,836.08L652.01,855.00Z" fill="#a0a4d8"/>
<path d="M473.59,829.78V842.38M471.79,829.78H475.39M471.79,842.38H475.39M479.54,824.70V840.55M477.74,824.70H481.34M477.74,840.55H481.34M485.48,819.63V838.72M483.68,819.63H487.28M483.68,838.72H487.28M491.43,814.55V836.89M489.63,814.55H493.23M489.63,836.89H493.23M497.38,808.90V834.48M495.58,808.90H499.18M495.58,834.48H499.18M503.32,801.74V830.57M501.52,801.74H505.12M501.52,830.57H505.12M509.27,794.58V826.66M507.47,794.58H511.07M507.47,826.66H511.07M515.22,786.54V821.86M513.42,786.54H517.02M513.42,821.86H517.02M521.17,774.96V813.53M519.37,774.96H522.97M519.37,813.53H522.97M527.12,763.38V805.19M525.32,763.38H528.91M525.32,805.19H528.91M533.06,751.93V796.99M531.26,751.93H534.86M531.26,796.99H534.86M539.01,741.43V789.74M537.21,741.43H540.81M537.21,789.74H540.81M544.96,731.11V782.66M543.16,731.11H546.76M543.16,782.66H546.76M550.90,722.90V777.70M549.11,722.90H552.70M549.11,777.70H552.70M556.85,715.23V773.27M555.05,715.23H558.65M555.05,773.27H558.65M562.80,710.86V772.14M561.00,710.86H564.60M561.00,772.14H564.60M568.75,715.23V773.27M566.95,715.23H570.55M566.95,773.27H570.55M574.69,722.90V777.70M572.89,722.90H576.49M572.89,777.70H576.49M580.64,731.11V782.66M578.84,731.11H582.44M578.84,782.66H582.44M586.59,741.43V789.74M584.79,741.43H588.39M584.79,789.74H588.39M592.54,751.93V796.99M590.74,751.93H594.34M590.74,796.99H594.34M598.49,763.38V805.19M596.69,763.38H600.28M596.69,805.19H600.28M604.43,774.96V813.53M602.63,774.96H606.23M602.63,813.53H606.23M610.38,786.54V821.86M608.58,786.54H612.18M608.58,821.86H612.18M616.33,794.58V826.66M614.53,794.58H618.13M614.53,826.66H618.13M622.27,801.74V830.57M620.48,801.74H624.07M620.48,830.57H624.07M628.22,808.90V834.48M626.42,808.90H630.02M626.42,834.48H630.02M634.17,814.55V836.89M632.37,814.55H635.97M632.37,836.89H635.97M640.12,819.63V838.72M638.32,819.63H641.92M638.32,838.72H641.92M646.06,824.70V840.55M644.26,824.70H647.86M644.26,840.55H647.86M652.01,829.78V842.38M650.21,829.78H653.81M650.21,842.38H653.81" stroke="#2c3a92" stroke-width="1" opacity="0.8" fill="none"/>
<path d="M473.59,836.08L479.54,832.63L485.48,829.17L491.43,825.72L497.38,821.69L503.32,816.15L509.27,810.62L515.22,804.20L521.17,794.24L527.12,784.28L533.06,774.46L539.01,765.58L544.96,756.88L550.90,750.30L556.85,744.25L562.80,741.50L568.75,744.25L574.69,750.30L580.64,756.88L586.59,765.58L592.54,774.46L598.49,784.28L604.43,794.24L610.38,804.20L616.33,810.62L622.27,816.15L628.22,821.69L634.17,825.72L640.12,829.17L646.06,832.63L652.01,836.08" stroke="#2c3a92" stroke-width="1.1" fill="none"/>
<path d="M473.59,836.08h0.01M479.54,832.63h0.01M485.48,829.17h0.01M491.43,825.72h0.01M497.38,821.69h0.01M503.32,816.15h0.01M509.27,810.62h0.01M515.22,804.20h0.01M521.17,794.24h0.01M527.12,784.28h0.01M533.06,774.46h0.01M539.01,765.58h0.01M544.96,756.88h0.01M550.90,750.30h0.01M556.85,744.25h0.01M562.80,741.50h0.01M568.75,744.25h0.01M574.69,750.30h0.01M580.64,756.88h0.01M586.59,765.58h0.01M592.54,774.46h0.01M598.49,784.28h0.01M604.43,794.24h0.01M610.38,804.20h0.01M616.33,810.62h0.01M622.27,816.15h0.01M628.22,821.69h0.01M634.17,825.72h0.01M640.12,829.17h0.01M646.06,832.63h0.01M652.01,836.08h0.01" stroke="#2c3a92" stroke-width="4" stroke-linecap="round" fill="none"/>
<path d="M473.59,855.00L473.59,848.01L479.54,846.07L485.48,843.48L491.43,839.63L497.38,835.15L503.32,829.05L509.27,823.34L515.22,818.25L521.17,809.84L527.12,799.00L533.06,788.93L539.01,777.65L544.96,765.54L550.90,753.62L556.85,745.90L562.80,741.50L568.75,745.90L574.69,753.62L580.64,765.54L586.59,777.65L592.54,788.93L598.49,799.00L604.43,809.84L610.38,818.25L616.33,823.34L622.27,829.05L628.22,835.15L634.17,839.63L640.12,843.48L646.06,846.07L652.01,848.01L652.01,855.00Z" fill="#f28b8b"/>
<path d="M473.59,840.69V855.00M471.79,840.69H475.39M471.79,855.00H475.39M479.54,837.42V854.72M477.74,837.42H481.34M477.74,854.72H481.34M485.48,833.50V853.46M483.68,833.50H487.28M483.68,853.46H487.28M491.43,828.32V850.93M489.63,828.32H493.23M489.63,850.93H493.23M497.38,822.52V847.78M495.58,822.52H499.18M495.58,847.78H499.18M503.32,815.09V843.01M501.52,815.09H505.12M501.52,843.01H505.12M509.27,808.05V838.63M507.47,808.05H511.07M507.47,838.63H511.07M515.22,801.63V834.87M513.42,801.63H517.02M513.42,834.87H517.02M521.17,791.89V827.78M519.37,791.89H522.97M519.37,827.78H522.97M527.12,779.72V818.27M525.32,779.72H528.91M525.32,818.27H528.91M533.06,768.33V809.53M531.26,768.33H534.86M531.26,809.53H534.86M539.01,755.72V799.58M537.21,755.72H540.81M537.21,799.58H540.81M544.96,742.28V788.79M543.16,742.28H546.76M543.16,788.79H546.76M550.90,729.04V778.21M549.11,729.04H552.70M549.11,778.21H552.70M556.85,719.99V771.82M555.05,719.99H558.65M555.05,771.82H558.65M562.80,714.26V768.74M561.00,714.26H564.60M561.00,768.74H564.60M568.75,719.99V771.82M566.95,719.99H570.55M566.95,771.82H570.55M574.69,729.04V778.21M572.89,729.04H576.49M572.89,778.21H576.49M580.64,742.28V788.79M578.84,742.28H582.44M578.84,788.79H582.44M586.59,755.72V799.58M584.79,755.72H588.39M584.79,799.58H588.39M592.54,768.33V809.53M590.74,768.33H594.34M590.74,809.53H594.34M598.49,779.72V818.27M596.69,779.72H600.28M596.69,818.27H600.28M604.43,791.89V827.78M602.63,791.89H606.23M602.63,827.78H606.23M610.38,801.63V834.87M608.58,801.63H612.18M608.58,834.87H612.18M616.33,808.05V838.63M614.53,808.05H618.13M614.53,838.63H618.13M622.27,815.09V843.01M620.48,815.09H624.07M620.48,843.01H624.07M628.22,822.52V847.78M626.42,822.52H630.02M626.42,847.78H630.02M634.17,828.32V850.93M632.37,828.32H635.97M632.37,850.93H635.97M640.12,833.50V853.46M638.32,833.50H641.92M638.32,853.46H641.92M646.06,837.42V854.72M644.26,837.42H647.86M644.26,854.72H647.86M652.01,840.69V855.00M650.21,840.69H653.81M650.21,855.00H653.81" stroke="#ee3b30" stroke-width="1" opacity="0.8" fill="none"/>
<path d="M473.59,848.01L479.54,846.07L485.48,843.48L491.43,839.63L497.38,835.15L503.32,829.05L509.27,823.34L515.22,818.25L521.17,809.84L527.12,799.00L533.06,788.93L539.01,777.65L544.96,765.54L550.90,753.62L556.85,745.90L562.80,741.50L568.75,745.90L574.69,753.62L580.64,765.54L586.59,777.65L592.54,788.93L598.49,799.00L604.43,809.84L610.38,818.25L616.33,823.34L622.27,829.05L628.22,835.15L634.17,839.63L640.12,843.48L646.06,846.07L652.01,848.01" stroke="#ee3b30" stroke-width="1.1" fill="none"/>
<path d="M473.59,848.01h0.01M479.54,846.07h0.01M485.48,843.48h0.01M491.43,839.63h0.01M497.38,835.15h0.01M503.32,829.05h0.01M509.27,823.34h0.01M515.22,818.25h0.01M521.17,809.84h0.01M527.12,799.00h0.01M533.06,788.93h0.01M539.01,777.65h0.01M544.96,765.54h0.01M550.90,753.62h0.01M556.85,745.90h0.01M562.80,741.50h0.01M568.75,745.90h0.01M574.69,753.62h0.01M580.64,765.54h0.01M586.59,777.65h0.01M592.54,788.93h0.01M598.49,799.00h0.01M604.43,809.84h0.01M610.38,818.25h0.01M616.33,823.34h0.01M622.27,829.05h0.01M628.22,835.15h0.01M634.17,839.63h0.01M640.12,843.48h0.01M646.06,846.07h0.01M652.01,848.01h0.01" stroke="#ee3b30" stroke-width="4" stroke-linecap="round" fill="none"/>
<line x1="471.2" y1="684.5" x2="471.2" y2="855.0" stroke="#111" stroke-width="1.3"/>
<line x1="465.0" y1="855.0" x2="654.3" y2="855.0" stroke="#111" stroke-width="1.3"/>
<line x1="465.0" y1="855.00" x2="471.2" y2="855.00" stroke="#111" stroke-width="1.3"/>
<text x="463.60" y="858.40" font-family='"Liberation Sans", sans-serif' font-size="9.6" text-anchor="end" fill="#222">0.0</text>
<line x1="465.0" y1="798.25" x2="471.2" y2="798.25" stroke="#111" stroke-width="1.3"/>
<text x="463.60" y="801.65" font-family='"Liberation Sans", sans-serif' font-size="9.6" text-anchor="end" fill="#222">0.5</text>
<line x1="465.0" y1="741.50" x2="471.2" y2="741.50" stroke="#111" stroke-width="1.3"/>
<text x="463.60" y="744.90" font-family='"Liberation Sans", sans-serif' font-size="9.6" text-anchor="end" fill="#222">1.0</text>
<line x1="465.0" y1="684.75" x2="471.2" y2="684.75" stroke="#111" stroke-width="1.3"/>
<text x="463.60" y="688.15" font-family='"Liberation Sans", sans-serif' font-size="9.6" text-anchor="end" fill="#222">1.5</text>
<line x1="471.30" y1="855.0" x2="471.30" y2="861.20" stroke="#111" stroke-width="1.3"/>
<text x="471.30" y="871.30" font-family='"Liberation Sans", sans-serif' font-size="9.6" text-anchor="middle" fill="#222">-1.0</text>
<line x1="517.05" y1="855.0" x2="517.05" y2="861.20" stroke="#111" stroke-width="1.3"/>
<text x="517.05" y="871.30" font-family='"Liberation Sans", sans-serif' font-size="9.6" text-anchor="middle" fill="#222">-0.5</text>
<line x1="562.80" y1="855.0" x2="562.80" y2="861.20" stroke="#111" stroke-width="1.3"/>
<text x="562.80" y="871.30" font-family='"Liberation Sans", sans-serif' font-size="9.6" text-anchor="middle" fill="#222">0.0</text>
<line x1="608.55" y1="855.0" x2="608.55" y2="861.20" stroke="#111" stroke-width="1.3"/>
<text x="608.55" y="871.30" font-family='"Liberation Sans", sans-serif' font-size="9.6" text-anchor="middle" fill="#222">0.5</text>
<line x1="654.30" y1="855.0" x2="654.30" y2="861.20" stroke="#111" stroke-width="1.3"/>
<text x="654.30" y="871.30" font-family='"Liberation Sans", sans-serif' font-size="9.6" text-anchor="middle" fill="#222">1.0</text>
<text transform="translate(442.2 770.3) rotate(-90)" font-family='"Liberation Sans", sans-serif' font-size="12" text-anchor="middle" fill="#222">Normalized DAPI intensity [a.u.]</text>
<line x1="637.7" y1="724.90" x2="654.8" y2="724.90" stroke="#2a7a2e" stroke-width="1"/>
<circle cx="645.9" cy="724.90" r="2.5" fill="#2a7a2e"/>
<text x="664.20" y="728.80" font-family='"Liberation Sans", sans-serif' font-size="11.05" text-anchor="start" fill="#222">17.5 nM holo(<tspan fill="#2a7a2e">WT</tspan>)</text>
<line x1="637.7" y1="740.60" x2="654.8" y2="740.60" stroke="#111111" stroke-width="1"/>
<circle cx="645.9" cy="740.60" r="2.5" fill="#111111"/>
<text x="664.20" y="744.50" font-family='"Liberation Sans", sans-serif' font-size="11.05" text-anchor="start" fill="#222">35 nM holo(WT)</text>
<line x1="637.7" y1="756.30" x2="654.8" y2="756.30" stroke="#2c3a92" stroke-width="1"/>
<circle cx="645.9" cy="756.30" r="2.5" fill="#2c3a92"/>
<text x="664.20" y="760.20" font-family='"Liberation Sans", sans-serif' font-size="11.05" text-anchor="start" fill="#222">17.5 nM holo(<tspan fill="#2c3a92">H-dN</tspan>)</text>
<line x1="637.7" y1="772.00" x2="654.8" y2="772.00" stroke="#ee3b30" stroke-width="1"/>
<circle cx="645.9" cy="772.00" r="2.5" fill="#ee3b30"/>
<text x="664.20" y="775.90" font-family='"Liberation Sans", sans-serif' font-size="11.05" text-anchor="start" fill="#222">35 nM holo(<tspan fill="#ee3b30">H-dN</tspan>)</text>
<path d="M473.90,1062.50L473.90,1060.64L479.88,1060.31L485.87,1059.71L491.85,1058.78L497.83,1057.64L503.82,1056.33L509.80,1054.37L515.78,1051.11L521.77,1046.55L527.75,1040.25L533.73,1031.05L539.72,1016.54L545.70,997.03L551.68,971.63L557.67,950.07L563.65,940.89L569.63,950.07L575.62,971.63L581.60,997.03L587.58,1016.54L593.57,1031.05L599.55,1040.25L605.53,1046.55L611.52,1051.11L617.50,1054.37L623.48,1056.33L629.47,1057.64L635.45,1058.78L641.43,1059.71L647.42,1060.31L653.40,1060.64L653.40,1062.50Z" fill="#f08d8d"/>
<path d="M473.90,1060.12V1061.16M472.10,1060.12H475.70M472.10,1061.16H475.70M479.88,1059.69V1060.92M478.08,1059.69H481.68M478.08,1060.92H481.68M485.87,1058.93V1060.49M484.07,1058.93H487.67M484.07,1060.49H487.67M491.85,1057.74V1059.82M490.05,1057.74H493.65M490.05,1059.82H493.65M497.83,1056.28V1059.00M496.03,1056.28H499.63M496.03,1059.00H499.63M503.82,1054.60V1058.06M502.02,1054.60H505.62M502.02,1058.06H505.62M509.80,1052.10V1056.65M508.00,1052.10H511.60M508.00,1056.65H511.60M515.78,1047.92V1054.30M513.98,1047.92H517.58M513.98,1054.30H517.58M521.77,1042.08V1051.01M519.97,1042.08H523.57M519.97,1051.01H523.57M527.75,1034.01V1046.48M525.95,1034.01H529.55M525.95,1046.48H529.55M533.73,1022.25V1039.86M531.93,1022.25H535.53M531.93,1039.86H535.53M539.72,1003.67V1029.41M537.92,1003.67H541.52M537.92,1029.41H541.52M545.70,978.69V1015.36M543.90,978.69H547.50M543.90,1015.36H547.50M551.68,946.19V997.07M549.88,946.19H553.48M549.88,997.07H553.48M557.67,918.59V981.55M555.87,918.59H559.47M555.87,981.55H559.47M563.65,906.84V974.94M561.85,906.84H565.45M561.85,974.94H565.45M569.63,918.59V981.55M567.83,918.59H571.43M567.83,981.55H571.43M575.62,946.19V997.07M573.82,946.19H577.42M573.82,997.07H577.42M581.60,978.69V1015.36M579.80,978.69H583.40M579.80,1015.36H583.40M587.58,1003.67V1029.41M585.78,1003.67H589.38M585.78,1029.41H589.38M593.57,1022.25V1039.86M591.77,1022.25H595.37M591.77,1039.86H595.37M599.55,1034.01V1046.48M597.75,1034.01H601.35M597.75,1046.48H601.35M605.53,1042.08V1051.01M603.73,1042.08H607.33M603.73,1051.01H607.33M611.52,1047.92V1054.30M609.72,1047.92H613.32M609.72,1054.30H613.32M617.50,1052.10V1056.65M615.70,1052.10H619.30M615.70,1056.65H619.30M623.48,1054.60V1058.06M621.68,1054.60H625.28M621.68,1058.06H625.28M629.47,1056.28V1059.00M627.67,1056.28H631.27M627.67,1059.00H631.27M635.45,1057.74V1059.82M633.65,1057.74H637.25M633.65,1059.82H637.25M641.43,1058.93V1060.49M639.63,1058.93H643.23M639.63,1060.49H643.23M647.42,1059.69V1060.92M645.62,1059.69H649.22M645.62,1060.92H649.22M653.40,1060.12V1061.16M651.60,1060.12H655.20M651.60,1061.16H655.20" stroke="#ee3b30" stroke-width="1" opacity="0.8" fill="none"/>
<path d="M473.90,1060.64L479.88,1060.31L485.87,1059.71L491.85,1058.78L497.83,1057.64L503.82,1056.33L509.80,1054.37L515.78,1051.11L521.77,1046.55L527.75,1040.25L533.73,1031.05L539.72,1016.54L545.70,997.03L551.68,971.63L557.67,950.07L563.65,940.89L569.63,950.07L575.62,971.63L581.60,997.03L587.58,1016.54L593.57,1031.05L599.55,1040.25L605.53,1046.55L611.52,1051.11L617.50,1054.37L623.48,1056.33L629.47,1057.64L635.45,1058.78L641.43,1059.71L647.42,1060.31L653.40,1060.64" stroke="#ee3b30" stroke-width="1.1" fill="none"/>
<path d="M473.90,1060.64h0.01M479.88,1060.31h0.01M485.87,1059.71h0.01M491.85,1058.78h0.01M497.83,1057.64h0.01M503.82,1056.33h0.01M509.80,1054.37h0.01M515.78,1051.11h0.01M521.77,1046.55h0.01M527.75,1040.25h0.01M533.73,1031.05h0.01M539.72,1016.54h0.01M545.70,997.03h0.01M551.68,971.63h0.01M557.67,950.07h0.01M563.65,940.89h0.01M569.63,950.07h0.01M575.62,971.63h0.01M581.60,997.03h0.01M587.58,1016.54h0.01M593.57,1031.05h0.01M599.55,1040.25h0.01M605.53,1046.55h0.01M611.52,1051.11h0.01M617.50,1054.37h0.01M623.48,1056.33h0.01M629.47,1057.64h0.01M635.45,1058.78h0.01M641.43,1059.71h0.01M647.42,1060.31h0.01M653.40,1060.64h0.01" stroke="#ee3b30" stroke-width="4" stroke-linecap="round" fill="none"/>
<path d="M473.90,1062.50L473.90,1060.35L479.88,1060.02L485.87,1059.69L491.85,1059.21L497.83,1058.38L503.82,1057.34L509.80,1055.70L515.78,1053.73L521.77,1050.41L527.75,1046.83L533.73,1041.17L539.72,1031.61L545.70,1014.42L551.68,995.65L557.67,981.92L563.65,976.02L569.63,981.92L575.62,995.65L581.60,1014.42L587.58,1031.61L593.57,1041.17L599.55,1046.83L605.53,1050.41L611.52,1053.73L617.50,1055.70L623.48,1057.34L629.47,1058.38L635.45,1059.21L641.43,1059.69L647.42,1060.02L653.40,1060.35L653.40,1062.50Z" fill="#a3a6d8"/>
<path d="M473.90,1059.66V1061.04M472.10,1059.66H475.70M472.10,1061.04H475.70M479.88,1059.22V1060.81M478.08,1059.22H481.68M478.08,1060.81H481.68M485.87,1058.79V1060.59M484.07,1058.79H487.67M484.07,1060.59H487.67M491.85,1058.15V1060.26M490.05,1058.15H493.65M490.05,1060.26H493.65M497.83,1057.06V1059.70M496.03,1057.06H499.63M496.03,1059.70H499.63M503.82,1055.69V1058.99M502.02,1055.69H505.62M502.02,1058.99H505.62M509.80,1053.53V1057.88M508.00,1053.53H511.60M508.00,1057.88H511.60M515.78,1050.92V1056.53M513.98,1050.92H517.58M513.98,1056.53H517.58M521.77,1046.54V1054.28M519.97,1046.54H523.57M519.97,1054.28H523.57M527.75,1041.82V1051.84M525.95,1041.82H529.55M525.95,1051.84H529.55M533.73,1034.34V1047.99M531.93,1034.34H535.53M531.93,1047.99H535.53M539.72,1021.73V1041.50M537.92,1021.73H541.52M537.92,1041.50H541.52M545.70,999.04V1029.81M543.90,999.04H547.50M543.90,1029.81H547.50M551.68,974.25V1017.04M549.88,974.25H553.48M549.88,1017.04H553.48M557.67,956.14V1007.71M555.87,956.14H559.47M555.87,1007.71H559.47M563.65,948.35V1003.70M561.85,948.35H565.45M561.85,1003.70H565.45M569.63,956.14V1007.71M567.83,956.14H571.43M567.83,1007.71H571.43M575.62,974.25V1017.04M573.82,974.25H577.42M573.82,1017.04H577.42M581.60,999.04V1029.81M579.80,999.04H583.40M579.80,1029.81H583.40M587.58,1021.73V1041.50M585.78,1021.73H589.38M585.78,1041.50H589.38M593.57,1034.34V1047.99M591.77,1034.34H595.37M591.77,1047.99H595.37M599.55,1041.82V1051.84M597.75,1041.82H601.35M597.75,1051.84H601.35M605.53,1046.54V1054.28M603.73,1046.54H607.33M603.73,1054.28H607.33M611.52,1050.92V1056.53M609.72,1050.92H613.32M609.72,1056.53H613.32M617.50,1053.53V1057.88M615.70,1053.53H619.30M615.70,1057.88H619.30M623.48,1055.69V1058.99M621.68,1055.69H625.28M621.68,1058.99H625.28M629.47,1057.06V1059.70M627.67,1057.06H631.27M627.67,1059.70H631.27M635.45,1058.15V1060.26M633.65,1058.15H637.25M633.65,1060.26H637.25M641.43,1058.79V1060.59M639.63,1058.79H643.23M639.63,1060.59H643.23M647.42,1059.22V1060.81M645.62,1059.22H649.22M645.62,1060.81H649.22M653.40,1059.66V1061.04M651.60,1059.66H655.20M651.60,1061.04H655.20" stroke="#2c3a92" stroke-width="1" opacity="0.8" fill="none"/>
<path d="M473.90,1060.35L479.88,1060.02L485.87,1059.69L491.85,1059.21L497.83,1058.38L503.82,1057.34L509.80,1055.70L515.78,1053.73L521.77,1050.41L527.75,1046.83L533.73,1041.17L539.72,1031.61L545.70,1014.42L551.68,995.65L557.67,981.92L563.65,976.02L569.63,981.92L575.62,995.65L581.60,1014.42L587.58,1031.61L593.57,1041.17L599.55,1046.83L605.53,1050.41L611.52,1053.73L617.50,1055.70L623.48,1057.34L629.47,1058.38L635.45,1059.21L641.43,1059.69L647.42,1060.02L653.40,1060.35" stroke="#2c3a92" stroke-width="1.1" fill="none"/>
<path d="M473.90,1060.35h0.01M479.88,1060.02h0.01M485.87,1059.69h0.01M491.85,1059.21h0.01M497.83,1058.38h0.01M503.82,1057.34h0.01M509.80,1055.70h0.01M515.78,1053.73h0.01M521.77,1050.41h0.01M527.75,1046.83h0.01M533.73,1041.17h0.01M539.72,1031.61h0.01M545.70,1014.42h0.01M551.68,995.65h0.01M557.67,981.92h0.01M563.65,976.02h0.01M569.63,981.92h0.01M575.62,995.65h0.01M581.60,1014.42h0.01M587.58,1031.61h0.01M593.57,1041.17h0.01M599.55,1046.83h0.01M605.53,1050.41h0.01M611.52,1053.73h0.01M617.50,1055.70h0.01M623.48,1057.34h0.01M629.47,1058.38h0.01M635.45,1059.21h0.01M641.43,1059.69h0.01M647.42,1060.02h0.01M653.40,1060.35h0.01" stroke="#2c3a92" stroke-width="4" stroke-linecap="round" fill="none"/>
<path d="M473.90,1062.50L473.90,1060.68L479.88,1060.35L485.87,1060.03L491.85,1059.54L497.83,1058.72L503.82,1057.72L509.80,1056.25L515.78,1054.54L521.77,1051.76L527.75,1048.28L533.73,1043.44L539.72,1036.30L545.70,1024.91L551.68,1010.63L557.67,999.55L563.65,995.62L569.63,999.55L575.62,1010.63L581.60,1024.91L587.58,1036.30L593.57,1043.44L599.55,1048.28L605.53,1051.76L611.52,1054.54L617.50,1056.25L623.48,1057.72L629.47,1058.72L635.45,1059.54L641.43,1060.03L647.42,1060.35L653.40,1060.68L653.40,1062.50Z" fill="#c2c2c2"/>
<path d="M473.90,1060.09V1061.28M472.10,1060.09H475.70M472.10,1061.28H475.70M479.88,1059.65V1061.06M478.08,1059.65H481.68M478.08,1061.06H481.68M485.87,1059.21V1060.84M484.07,1059.21H487.67M484.07,1060.84H487.67M491.85,1058.57V1060.52M490.05,1058.57H493.65M490.05,1060.52H493.65M497.83,1057.47V1059.97M496.03,1057.47H499.63M496.03,1059.97H499.63M503.82,1056.15V1059.30M502.02,1056.15H505.62M502.02,1059.30H505.62M509.80,1054.19V1058.31M508.00,1054.19H511.60M508.00,1058.31H511.60M515.78,1051.91V1057.16M513.98,1051.91H517.58M513.98,1057.16H517.58M521.77,1048.22V1055.30M519.97,1048.22H523.57M519.97,1055.30H523.57M527.75,1043.59V1052.97M525.95,1043.59H529.55M525.95,1052.97H529.55M533.73,1037.15V1049.73M531.93,1037.15H535.53M531.93,1049.73H535.53M539.72,1027.66V1044.95M537.92,1027.66H541.52M537.92,1044.95H541.52M545.70,1012.50V1037.31M543.90,1012.50H547.50M543.90,1037.31H547.50M551.68,993.52V1027.75M549.88,993.52H553.48M549.88,1027.75H553.48M557.67,978.77V1020.32M555.87,978.77H559.47M555.87,1020.32H559.47M563.65,973.54V1017.69M561.85,973.54H565.45M561.85,1017.69H565.45M569.63,978.77V1020.32M567.83,978.77H571.43M567.83,1020.32H571.43M575.62,993.52V1027.75M573.82,993.52H577.42M573.82,1027.75H577.42M581.60,1012.50V1037.31M579.80,1012.50H583.40M579.80,1037.31H583.40M587.58,1027.66V1044.95M585.78,1027.66H589.38M585.78,1044.95H589.38M593.57,1037.15V1049.73M591.77,1037.15H595.37M591.77,1049.73H595.37M599.55,1043.59V1052.97M597.75,1043.59H601.35M597.75,1052.97H601.35M605.53,1048.22V1055.30M603.73,1048.22H607.33M603.73,1055.30H607.33M611.52,1051.91V1057.16M609.72,1051.91H613.32M609.72,1057.16H613.32M617.50,1054.19V1058.31M615.70,1054.19H619.30M615.70,1058.31H619.30M623.48,1056.15V1059.30M621.68,1056.15H625.28M621.68,1059.30H625.28M629.47,1057.47V1059.97M627.67,1057.47H631.27M627.67,1059.97H631.27M635.45,1058.57V1060.52M633.65,1058.57H637.25M633.65,1060.52H637.25M641.43,1059.21V1060.84M639.63,1059.21H643.23M639.63,1060.84H643.23M647.42,1059.65V1061.06M645.62,1059.65H649.22M645.62,1061.06H649.22M653.40,1060.09V1061.28M651.60,1060.09H655.20M651.60,1061.28H655.20" stroke="#111111" stroke-width="1" opacity="0.8" fill="none"/>
<path d="M473.90,1060.68L479.88,1060.35L485.87,1060.03L491.85,1059.54L497.83,1058.72L503.82,1057.72L509.80,1056.25L515.78,1054.54L521.77,1051.76L527.75,1048.28L533.73,1043.44L539.72,1036.30L545.70,1024.91L551.68,1010.63L557.67,999.55L563.65,995.62L569.63,999.55L575.62,1010.63L581.60,1024.91L587.58,1036.30L593.57,1043.44L599.55,1048.28L605.53,1051.76L611.52,1054.54L617.50,1056.25L623.48,1057.72L629.47,1058.72L635.45,1059.54L641.43,1060.03L647.42,1060.35L653.40,1060.68" stroke="#111111" stroke-width="1.1" fill="none"/>
<path d="M473.90,1060.68h0.01M479.88,1060.35h0.01M485.87,1060.03h0.01M491.85,1059.54h0.01M497.83,1058.72h0.01M503.82,1057.72h0.01M509.80,1056.25h0.01M515.78,1054.54h0.01M521.77,1051.76h0.01M527.75,1048.28h0.01M533.73,1043.44h0.01M539.72,1036.30h0.01M545.70,1024.91h0.01M551.68,1010.63h0.01M557.67,999.55h0.01M563.65,995.62h0.01M569.63,999.55h0.01M575.62,1010.63h0.01M581.60,1024.91h0.01M587.58,1036.30h0.01M593.57,1043.44h0.01M599.55,1048.28h0.01M605.53,1051.76h0.01M611.52,1054.54h0.01M617.50,1056.25h0.01M623.48,1057.72h0.01M629.47,1058.72h0.01M635.45,1059.54h0.01M641.43,1060.03h0.01M647.42,1060.35h0.01M653.40,1060.68h0.01" stroke="#111111" stroke-width="4" stroke-linecap="round" fill="none"/>
<path d="M473.90,1062.50L473.90,1061.06L479.88,1060.84L485.87,1060.63L491.85,1060.37L497.83,1060.04L503.82,1059.63L509.80,1058.97L515.78,1058.18L521.77,1056.73L527.75,1054.67L533.73,1051.79L539.72,1046.86L545.70,1039.60L551.68,1031.76L557.67,1024.55L563.65,1020.61L569.63,1024.55L575.62,1031.76L581.60,1039.60L587.58,1046.86L593.57,1051.79L599.55,1054.67L605.53,1056.73L611.52,1058.18L617.50,1058.97L623.48,1059.63L629.47,1060.04L635.45,1060.37L641.43,1060.63L647.42,1060.84L653.40,1061.06L653.40,1062.50Z" fill="#b4dba9"/>
<path d="M473.90,1060.32V1061.81M472.10,1060.32H475.70M472.10,1061.81H475.70M479.88,1059.98V1061.71M478.08,1059.98H481.68M478.08,1061.71H481.68M485.87,1059.65V1061.60M484.07,1059.65H487.67M484.07,1061.60H487.67M491.85,1059.26V1061.48M490.05,1059.26H493.65M490.05,1061.48H493.65M497.83,1058.76V1061.32M496.03,1058.76H499.63M496.03,1061.32H499.63M503.82,1058.13V1061.12M502.02,1058.13H505.62M502.02,1061.12H505.62M509.80,1057.14V1060.81M508.00,1057.14H511.60M508.00,1060.81H511.60M515.78,1055.93V1060.43M513.98,1055.93H517.58M513.98,1060.43H517.58M521.77,1053.73V1059.73M519.97,1053.73H523.57M519.97,1059.73H523.57M527.75,1050.59V1058.74M525.95,1050.59H529.55M525.95,1058.74H529.55M533.73,1046.23V1057.36M531.93,1046.23H535.53M531.93,1057.36H535.53M539.72,1038.73V1054.99M537.92,1038.73H541.52M537.92,1054.99H541.52M545.70,1027.69V1051.51M543.90,1027.69H547.50M543.90,1051.51H547.50M551.68,1015.78V1047.74M549.88,1015.78H553.48M549.88,1047.74H553.48M557.67,1004.81V1044.28M555.87,1004.81H559.47M555.87,1044.28H559.47M563.65,998.83V1042.39M561.85,998.83H565.45M561.85,1042.39H565.45M569.63,1004.81V1044.28M567.83,1004.81H571.43M567.83,1044.28H571.43M575.62,1015.78V1047.74M573.82,1015.78H577.42M573.82,1047.74H577.42M581.60,1027.69V1051.51M579.80,1027.69H583.40M579.80,1051.51H583.40M587.58,1038.73V1054.99M585.78,1038.73H589.38M585.78,1054.99H589.38M593.57,1046.23V1057.36M591.77,1046.23H595.37M591.77,1057.36H595.37M599.55,1050.59V1058.74M597.75,1050.59H601.35M597.75,1058.74H601.35M605.53,1053.73V1059.73M603.73,1053.73H607.33M603.73,1059.73H607.33M611.52,1055.93V1060.43M609.72,1055.93H613.32M609.72,1060.43H613.32M617.50,1057.14V1060.81M615.70,1057.14H619.30M615.70,1060.81H619.30M623.48,1058.13V1061.12M621.68,1058.13H625.28M621.68,1061.12H625.28M629.47,1058.76V1061.32M627.67,1058.76H631.27M627.67,1061.32H631.27M635.45,1059.26V1061.48M633.65,1059.26H637.25M633.65,1061.48H637.25M641.43,1059.65V1061.60M639.63,1059.65H643.23M639.63,1061.60H643.23M647.42,1059.98V1061.71M645.62,1059.98H649.22M645.62,1061.71H649.22M653.40,1060.32V1061.81M651.60,1060.32H655.20M651.60,1061.81H655.20" stroke="#2a7a2e" stroke-width="1" opacity="0.8" fill="none"/>
<path d="M473.90,1061.06L479.88,1060.84L485.87,1060.63L491.85,1060.37L497.83,1060.04L503.82,1059.63L509.80,1058.97L515.78,1058.18L521.77,1056.73L527.75,1054.67L533.73,1051.79L539.72,1046.86L545.70,1039.60L551.68,1031.76L557.67,1024.55L563.65,1020.61L569.63,1024.55L575.62,1031.76L581.60,1039.60L587.58,1046.86L593.57,1051.79L599.55,1054.67L605.53,1056.73L611.52,1058.18L617.50,1058.97L623.48,1059.63L629.47,1060.04L635.45,1060.37L641.43,1060.63L647.42,1060.84L653.40,1061.06" stroke="#2a7a2e" stroke-width="1.1" fill="none"/>
<path d="M473.90,1061.06h0.01M479.88,1060.84h0.01M485.87,1060.63h0.01M491.85,1060.37h0.01M497.83,1060.04h0.01M503.82,1059.63h0.01M509.80,1058.97h0.01M515.78,1058.18h0.01M521.77,1056.73h0.01M527.75,1054.67h0.01M533.73,1051.79h0.01M539.72,1046.86h0.01M545.70,1039.60h0.01M551.68,1031.76h0.01M557.67,1024.55h0.01M563.65,1020.61h0.01M569.63,1024.55h0.01M575.62,1031.76h0.01M581.60,1039.60h0.01M587.58,1046.86h0.01M593.57,1051.79h0.01M599.55,1054.67h0.01M605.53,1056.73h0.01M611.52,1058.18h0.01M617.50,1058.97h0.01M623.48,1059.63h0.01M629.47,1060.04h0.01M635.45,1060.37h0.01M641.43,1060.63h0.01M647.42,1060.84h0.01M653.40,1061.06h0.01" stroke="#2a7a2e" stroke-width="4" stroke-linecap="round" fill="none"/>
<line x1="472.0" y1="893.6" x2="472.0" y2="1062.5" stroke="#111" stroke-width="1.3"/>
<line x1="465.8" y1="1062.5" x2="655.7" y2="1062.5" stroke="#111" stroke-width="1.3"/>
<line x1="465.8" y1="1062.50" x2="472.0" y2="1062.50" stroke="#111" stroke-width="1.3"/>
<text x="464.40" y="1065.90" font-family='"Liberation Sans", sans-serif' font-size="9.6" text-anchor="end" fill="#222">0.0</text>
<line x1="465.8" y1="1028.72" x2="472.0" y2="1028.72" stroke="#111" stroke-width="1.3"/>
<text x="464.40" y="1032.12" font-family='"Liberation Sans", sans-serif' font-size="9.6" text-anchor="end" fill="#222">0.5</text>
<line x1="465.8" y1="994.94" x2="472.0" y2="994.94" stroke="#111" stroke-width="1.3"/>
<text x="464.40" y="998.34" font-family='"Liberation Sans", sans-serif' font-size="9.6" text-anchor="end" fill="#222">1.0</text>
<line x1="465.8" y1="961.16" x2="472.0" y2="961.16" stroke="#111" stroke-width="1.3"/>
<text x="464.40" y="964.56" font-family='"Liberation Sans", sans-serif' font-size="9.6" text-anchor="end" fill="#222">1.5</text>
<line x1="465.8" y1="927.38" x2="472.0" y2="927.38" stroke="#111" stroke-width="1.3"/>
<text x="464.40" y="930.78" font-family='"Liberation Sans", sans-serif' font-size="9.6" text-anchor="end" fill="#222">2.0</text>
<line x1="465.8" y1="893.60" x2="472.0" y2="893.60" stroke="#111" stroke-width="1.3"/>
<text x="464.40" y="897.00" font-family='"Liberation Sans", sans-serif' font-size="9.6" text-anchor="end" fill="#222">2.5</text>
<line x1="471.60" y1="1062.5" x2="471.60" y2="1068.70" stroke="#111" stroke-width="1.3"/>
<text x="471.60" y="1078.80" font-family='"Liberation Sans", sans-serif' font-size="9.6" text-anchor="middle" fill="#222">-1.0</text>
<line x1="517.62" y1="1062.5" x2="517.62" y2="1068.70" stroke="#111" stroke-width="1.3"/>
<text x="517.62" y="1078.80" font-family='"Liberation Sans", sans-serif' font-size="9.6" text-anchor="middle" fill="#222">-0.5</text>
<line x1="563.65" y1="1062.5" x2="563.65" y2="1068.70" stroke="#111" stroke-width="1.3"/>
<text x="563.65" y="1078.80" font-family='"Liberation Sans", sans-serif' font-size="9.6" text-anchor="middle" fill="#222">0.0</text>
<line x1="609.68" y1="1062.5" x2="609.68" y2="1068.70" stroke="#111" stroke-width="1.3"/>
<text x="609.68" y="1078.80" font-family='"Liberation Sans", sans-serif' font-size="9.6" text-anchor="middle" fill="#222">0.5</text>
<line x1="655.70" y1="1062.5" x2="655.70" y2="1068.70" stroke="#111" stroke-width="1.3"/>
<text x="655.70" y="1078.80" font-family='"Liberation Sans", sans-serif' font-size="9.6" text-anchor="middle" fill="#222">1.0</text>
<text transform="translate(442.2 979.0) rotate(-90)" font-family='"Liberation Sans", sans-serif' font-size="12" text-anchor="middle" fill="#222">Relative mSMC4 intensity [a.u.]</text>
<line x1="637.7" y1="955.30" x2="654.8" y2="955.30" stroke="#ee3b30" stroke-width="1"/>
<circle cx="645.9" cy="955.30" r="2.5" fill="#ee3b30"/>
<text x="664.20" y="959.20" font-family='"Liberation Sans", sans-serif' font-size="11.05" text-anchor="start" fill="#222">35 nM holo(<tspan fill="#ee3b30">H-dN</tspan>)</text>
<line x1="637.7" y1="971.00" x2="654.8" y2="971.00" stroke="#2c3a92" stroke-width="1"/>
<circle cx="645.9" cy="971.00" r="2.5" fill="#2c3a92"/>
<text x="664.20" y="974.90" font-family='"Liberation Sans", sans-serif' font-size="11.05" text-anchor="start" fill="#222">17.5 nM holo(<tspan fill="#2c3a92">H-dN</tspan>)</text>
<line x1="637.7" y1="986.70" x2="654.8" y2="986.70" stroke="#111111" stroke-width="1"/>
<circle cx="645.9" cy="986.70" r="2.5" fill="#111111"/>
<text x="664.20" y="990.60" font-family='"Liberation Sans", sans-serif' font-size="11.05" text-anchor="start" fill="#222">35 nM holo(WT)</text>
<line x1="637.7" y1="1002.40" x2="654.8" y2="1002.40" stroke="#2a7a2e" stroke-width="1"/>
<circle cx="645.9" cy="1002.40" r="2.5" fill="#2a7a2e"/>
<text x="664.20" y="1006.30" font-family='"Liberation Sans", sans-serif' font-size="11.05" text-anchor="start" fill="#222">17.5 nM holo(<tspan fill="#2a7a2e">WT</tspan>)</text>
<text x="563.40" y="1095.80" font-family='"Liberation Sans", sans-serif' font-size="12.2" text-anchor="middle" fill="#222">Distance (µm)</text>
</svg>
</body></html>
